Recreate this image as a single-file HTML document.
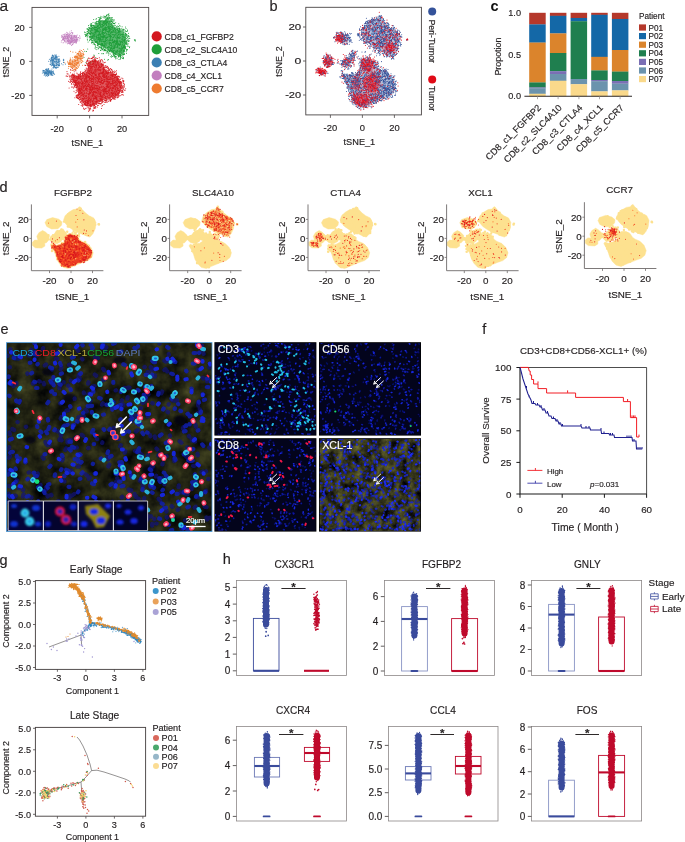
<!DOCTYPE html>
<html><head><meta charset="utf-8"><title>Figure</title>
<style>html,body{margin:0;padding:0;background:#fff}svg{display:block}text{font-family:"Liberation Sans",sans-serif;stroke:#231f20;stroke-width:.16px}text.w{stroke:#fff}text.n{stroke:none}</style>
</head><body>
<svg width="685" height="842" viewBox="0 0 685 842">
<rect width="685" height="842" fill="#fff"/>
<defs>
<filter id="olv" x="0" y="0" width="1" height="1" color-interpolation-filters="sRGB">
<feTurbulence type="fractalNoise" baseFrequency="0.06" numOctaves="4" seed="4"/>
<feColorMatrix type="matrix" values="0.36 0 0 0 -0.05  0.36 0 0 0 -0.045  0.16 0 0 0 -0.01  0 0 0 0 1"/>
</filter>
<filter id="olv2" x="0" y="0" width="1" height="1" color-interpolation-filters="sRGB">
<feTurbulence type="fractalNoise" baseFrequency="0.11" numOctaves="4" seed="9"/>
<feColorMatrix type="matrix" values="0.6 0 0 0 -0.1  0.6 0 0 0 -0.1  0.24 0 0 0 -0.02  0 0 0 0 1"/>
</filter>
<filter id="b4" x="-5%" y="-5%" width="110%" height="110%"><feGaussianBlur stdDeviation="0.7"/></filter>
<filter id="b3" x="-5%" y="-5%" width="110%" height="110%"><feGaussianBlur stdDeviation="0.3"/></filter>
<filter id="b8" x="-5%" y="-5%" width="110%" height="110%"><feGaussianBlur stdDeviation="0.9"/></filter>
<clipPath id="cm"><rect x="7.2" y="343.2" width="204.2" height="187.6"/></clipPath>
<clipPath id="c1"><rect x="215.1" y="342.9" width="100.6" height="92"/></clipPath>
<clipPath id="c2"><rect x="319.7" y="342.9" width="100.6" height="92"/></clipPath>
<clipPath id="c3"><rect x="215.1" y="438.9" width="100.6" height="92"/></clipPath>
<clipPath id="c4"><rect x="319.7" y="438.9" width="100.6" height="92"/></clipPath>
</defs>
<text x="-0.4" y="10.8" font-size="15.5" fill="#231f20">a</text>
<path d="M108 17L109.9 21L113.2 26.5L117.2 29.3L122.8 31.2L126 36.7L125.5 44.8L123 51.9L119.6 56.4L114.9 54.2L110.5 51L104.8 48.1L100.1 44.8L94.9 41.5L91.2 37.5L89.2 33.3L91 28.2L95.5 24.2L100.6 21L105.1 20.5L106.3 17.8Z" fill="#1f9e3a" fill-opacity="0.72" stroke="#1f9e3a" stroke-opacity="0.36" stroke-width="1" stroke-linejoin="round"/>
<path d="M62.4 38.1L64.4 35.3L69.3 34.5L73.8 35.3L77.2 37.3L76.6 40.6L73.2 43.2L68.5 43L64.5 41.6Z" fill="#c27fbf" fill-opacity="0.4" stroke="#c27fbf" stroke-opacity="0.20" stroke-width="1" stroke-linejoin="round"/>
<path d="M50.6 60.3L52.1 57.7L54.5 55.3L56.4 57.6L58.5 59.6L59.1 62.9L57.2 65.5L54.2 66.3L51.6 64.4ZM43.9 70.9L46 69.7L49.2 70.5L52.4 71.4L52.9 73.9L50 74.7L46.6 74.3L44.2 73.2Z" fill="#3b7fb3" fill-opacity="0.4" stroke="#3b7fb3" stroke-opacity="0.20" stroke-width="1" stroke-linejoin="round"/>
<path d="M88.9 61.7L95.8 60.2L101.8 63.2L104.1 68.7L107.1 71.2L113.5 73.4L118.8 78.5L122 85.6L120.1 92.1L115.2 96.2L108.9 98L102.9 100.2L97.5 103L91.4 106.6L85.3 104.9L81.2 99.7L78.7 94.1L77.1 87.2L74.4 82.1L70.7 76.4L72 74.2L77.1 76.1L82.8 75L87.5 72.7L88.1 67.1Z" fill="#d3181f" fill-opacity="0.72" stroke="#d3181f" stroke-opacity="0.36" stroke-width="1" stroke-linejoin="round"/>
<path d="M68.1 63.4L71.6 60L75.6 58.6L78.5 53.2L81.1 52L82.4 55.9L79.6 60L78.4 63.6L75.4 66.7L71.1 65.9Z" fill="#ee7b30" fill-opacity="0.4" stroke="#ee7b30" stroke-opacity="0.20" stroke-width="1" stroke-linejoin="round"/>
<path d="M108.5 27.7h0M113 30.3h0M126.3 43.4h0M91.3 37.7h0M126.9 34.4h0M114 19.5h0M109.8 17.2h0M114.7 35.1h0M120.3 56.1h0M115.2 27.8h0M108 47.7h0M119.5 31.5h0M108.1 18.7h0M127.5 37.7h0M96.4 31.1h0M109 28.4h0M108.7 49.8h0M101.8 39.9h0M111 45.5h0M96.8 37h0M122.8 54.8h0M90.6 34.5h0M104.8 35.9h0M96.3 42.1h0M125.2 42.3h0M104.9 21.2h0M114.4 40.2h0M96.8 30.1h0M94.5 44.5h0M107.7 17.9h0M99.8 33.9h0M93.2 38.1h0M107.3 37.5h0M116.2 57h0M88.1 35.7h0M120.9 49.8h0M111.3 24.1h0M97.8 29.7h0M98.9 21.8h0M91.2 28.3h0M94.5 29.5h0M116.9 44h0M88.8 27.4h0M112 46.8h0M95.5 27.1h0M116.9 27.4h0M106.1 23.4h0M101.5 44.6h0M98.9 31.4h0M127.7 44.8h0M98.9 44.8h0M117.8 42.6h0M104 21.7h0M121.6 53h0M109.4 27.3h0M113.2 54.3h0M121.3 55.3h0M124.8 41.8h0M112.2 42.1h0M105.4 40.9h0M120.2 32.9h0M126.3 36.3h0M118.4 37.8h0M100.3 19h0M91.7 23.8h0M100.9 39.3h0M123.7 34.3h0M112.7 39.3h0M96.4 36.1h0M107.8 40.9h0M90.8 29h0M110.1 35.7h0M110.5 49.3h0M113.5 41.5h0M99.8 38.7h0M112.9 22h0M101.6 33.1h0M101 45.6h0M103.3 35.4h0M91.5 26.3h0M90.6 31.1h0M111.1 48.4h0M125.4 47.1h0M118.2 56.9h0M119.5 29.4h0M93.8 25.5h0M109.1 50.2h0M122.5 38.1h0M118.5 44.8h0M122.5 34.2h0M120.4 42.5h0M119.9 54.5h0M97.3 43.4h0M91 32h0M105.9 50.4h0M112.4 27.3h0M112.7 22.8h0M96.7 38.7h0M97.9 44.4h0M119 59.4h0M105.4 37.2h0M109.3 50.6h0M117.1 41.4h0M106.8 43.1h0M96.9 47.4h0M109.7 31.8h0M117.3 36.3h0M120.3 42.7h0M114.1 27.8h0M126.3 41.6h0M119.1 48.8h0M99.5 28.7h0M119.3 28.8h0M124.5 38.9h0M117.8 29.4h0M119.5 54.3h0M119.5 29.6h0M104.6 24.5h0M87.3 33.7h0M112.5 17.8h0M119.4 43.9h0M120.6 35h0M107.4 22.7h0M124.5 48.3h0M92 38.1h0M126.2 34.6h0M101.9 36.4h0M112.5 37.8h0M105.5 17.7h0M123.4 47.7h0M112.8 49.3h0M105.4 32.7h0M110.8 26.5h0M108.9 17.3h0M105.8 28.7h0M128.5 39.9h0M104.2 32.7h0M97.1 42.5h0M100.6 38h0M105.5 43.7h0M104.1 21h0M100.6 26.8h0M109.8 34.1h0M87.9 31.7h0M101.9 37.2h0M116.3 35h0M113.8 30.4h0M104 22.9h0M128.1 43.8h0M117.7 37.8h0M102.9 49.2h0M111.3 21.7h0M114.3 54.7h0M106.1 28.1h0M90.4 33.5h0M125.5 26.9h0M124.2 52.9h0M111.9 19.7h0M103.8 41.2h0M99.1 34.8h0M118 27.9h0M99.5 23.9h0M117.6 37.6h0M108.7 31.4h0M102.5 29.9h0M93 25.7h0M109.3 44.1h0M124.5 46h0M106.9 22.1h0M111.7 31.8h0M102.2 33.1h0M100.5 31h0M110.9 18.1h0M108.3 15.9h0M124.8 40.2h0M126.6 38.5h0M103.9 45h0M109.6 18.6h0M123.5 57.4h0M105.2 46.7h0M105.5 23.2h0M115.5 51h0M94.7 27h0M84.5 31.9h0M110.2 39.1h0M109 37h0M103.7 38.9h0M112 52.3h0M98.1 31.3h0M90.9 33.2h0M100.9 18.4h0M98.9 23.6h0M109.5 44.4h0M100 21.5h0M101.5 43.5h0M102.5 26.3h0M110.5 29.9h0M112.5 20h0M120 50.3h0M129.5 47.6h0M114.6 34.9h0M102.8 36.3h0M96.1 33.8h0M122.2 34.5h0M118.5 26.5h0M121.9 30.1h0M127.5 30.1h0M94.9 32.6h0M95 23.3h0M103.8 50.7h0M117.3 50.3h0M102.8 41.1h0M109.2 34.6h0M115.8 31.3h0M95.7 39.2h0M114.3 28.1h0M99.6 19.4h0M122.3 36.5h0M119.7 28.6h0M92.2 36.7h0M96 19.3h0M100.8 34.4h0M112.4 42.4h0M101.1 40.3h0M103.7 39.1h0M103.7 47.7h0M96.8 27.4h0M95.5 44.8h0M114.3 50.3h0M124.1 29.5h0M98.2 46.9h0M103 45h0M115.5 58.8h0M97.8 37.4h0M124.5 45.8h0M118.5 56.8h0M104.7 23.2h0M90.9 26.2h0M126 41.9h0M110.9 28.9h0M114.5 35h0M103.5 32.6h0M108.9 13.8h0M117.7 51.1h0M122.9 34.2h0M104.9 41.4h0M99.8 33.1h0M101.7 41.8h0M121.9 42.1h0M92.8 29h0M103.2 36.4h0M121.5 49.7h0M123.2 40.7h0M91.6 42.9h0M111.6 21h0M115.7 22.7h0M108.9 36.8h0M128.5 33.2h0M95 30.4h0M110.3 33.6h0M114.1 54.8h0M112.3 19.8h0M109.4 23.8h0M101.9 43.3h0M110.9 51.2h0M102.5 32.1h0M107.8 29.8h0M125.4 39.3h0M127.7 36.7h0M94.7 27.7h0M118.1 34.9h0M111 51.8h0M96 30.5h0M85.2 32.5h0M114.4 41.2h0M106.3 53h0M123.9 31.5h0M120.6 56.7h0M125.1 30.5h0M94.4 44h0M102.9 46h0M102.6 25.9h0M117 58.5h0M120.9 48.5h0M100.8 34.3h0M109.2 29.7h0M100.9 31.1h0M101.9 37.6h0M113.6 52.7h0M100.4 20.8h0M98.7 35.5h0M118 41.7h0M95.8 47.7h0M108.9 40.5h0M115.6 56.2h0M96.1 23.1h0M108.5 34.9h0M124.1 37.5h0M109.2 30.9h0M124.9 46.5h0M100.2 22h0M114.5 48h0M115 57.2h0M87.1 31.2h0M111.8 47.6h0M114.1 29.1h0M106.7 27.5h0M89.9 37.1h0M125.4 37.8h0M106.6 25.3h0M124.4 50h0M123.8 41.1h0M116.1 32h0M112.7 41.9h0M110.1 24.5h0M126.5 44.6h0M119 32.8h0M99.6 37.8h0M105.9 41.7h0M107.4 21.2h0M106.4 15.6h0M112.6 32.1h0M98.5 21.2h0M90.7 37.5h0M100.9 16.3h0M97.9 30.1h0M126.4 42h0M99.9 22.4h0M123 43.4h0M88.6 32.5h0M123.3 51.2h0M97.1 40.7h0M95.8 36.1h0M119.2 53.3h0M126.3 51.8h0M127.9 46h0M110.9 27.7h0M122.8 56.1h0M104.4 16.6h0M99.8 46.7h0M108.5 14.5h0M90.4 36.6h0M87.5 33.6h0M96.9 31.5h0M111.3 36.2h0M117.8 45.9h0M120.9 41.3h0M113.8 45h0M117.8 50.3h0M110.6 21.1h0M89.6 36.3h0M105.6 30.6h0M110 28.9h0M105.2 35.4h0M99.8 47.5h0M99.9 41.6h0M91.8 26.7h0M103.5 53.4h0M111.2 32.2h0M91.2 26.1h0M88.9 30.8h0M91.6 29.3h0M96 32h0M93.2 44h0M90.5 28.1h0M97.9 35.5h0M95.4 23.2h0M114.3 48.5h0M94.2 34.2h0M87.2 29.2h0M105.8 40.3h0M117.3 25.9h0M106.6 38.3h0M104.4 49.6h0M114.8 45.6h0M97.7 43.1h0M111.6 43.7h0M109.4 31.3h0M126.4 49.8h0M109.5 39h0M129.2 40.8h0M110.2 50.1h0M118.5 44.2h0M111.7 45.6h0M99.9 30.9h0M101.1 46.6h0M117.3 38.3h0M118.6 33.9h0M98.5 33.9h0M104.5 43.3h0M91.1 24.8h0M109.4 22h0M120.6 37.8h0M115.9 51.8h0M110.8 43h0M108.7 52.2h0M100.1 34.9h0M98.7 45h0M117 58.6h0M105.1 41.9h0M104.1 22.3h0M89.3 27.6h0M123.6 36.1h0M103.7 41.8h0M123.9 36.6h0M96.2 37.7h0M114.8 27.9h0M126.7 42.2h0M101.1 41.4h0M118.8 43.4h0M115.4 28.1h0M96.6 37.4h0M124.5 50.8h0M99.9 17.4h0M107.4 18.6h0M111.3 57.1h0M121.3 28.7h0M98.4 31.3h0M123.4 52.3h0M92.4 41.7h0M106.3 37h0M101.2 18.2h0M104.5 43.3h0M123.2 53.5h0M113.4 30.7h0M120.5 57.9h0M106.9 42.8h0M117.4 46.8h0M124.2 42.3h0M113.4 48.5h0M102.1 17h0M95.3 23.3h0M118.9 55h0M95.2 42.2h0M106 19.4h0M123.5 54.7h0M109.1 22.1h0M102.8 25h0M99 19.8h0M119 37.3h0M94.8 44.7h0M110.1 43.1h0M122.2 57.9h0M110.2 54h0M124.6 39.4h0M119.7 25.6h0M111.7 44h0M99.6 38.3h0M112.6 21.9h0M104.5 28.6h0M92.7 42h0M90.3 39.6h0M96.5 41.3h0M113.5 55h0M90.3 37.5h0M102.9 37.8h0M104 41.8h0M90.5 39h0M119.7 52.2h0M98.5 36.9h0M117.7 37.2h0M96.2 27.5h0M106.2 16.8h0M103.1 41.1h0M112.2 34.3h0M87.2 37h0M121 51.7h0M111.5 43.8h0M88.3 30.3h0M122.8 53h0M99.2 39.6h0M110.4 42.7h0M94.6 35h0M110.8 42.6h0M107.9 34.3h0M109.5 51.5h0M99.1 46.7h0M114.2 47.4h0M89.6 40.6h0M104.2 16.9h0M104.1 50.4h0M110.5 33.1h0M114.9 43.9h0M98.7 22h0M114.8 25.6h0M96.6 27h0M112.6 19.7h0M95.2 31.8h0M112.8 28.5h0M98 49h0M100.6 44.8h0M109.1 41.7h0M113.6 20.7h0M116.8 43.6h0M99.5 22.6h0M95.4 27.4h0M101.4 48.4h0M111.8 32.6h0M103.3 23.6h0M98.3 17.5h0M113 53.3h0M91.8 28.1h0M108.6 46.6h0M118.7 38.2h0M112.7 51.6h0M94.1 41.3h0M100.2 29.4h0M88.9 33.3h0M104.5 35.5h0M113.8 46.6h0M104.3 50.3h0M92 38.6h0M113.1 43.7h0M103.6 25.3h0M108.9 21.4h0M108.5 25h0M89.6 33.7h0M101.3 39.9h0M119.7 30.3h0M116.7 52.5h0M105.3 26.7h0M114.3 56.8h0M102.8 41.3h0M90.7 33.6h0M112.5 48.9h0M103.9 16h0M108.2 28.6h0M98 38.5h0M103 21.7h0M106.6 37.7h0M98.2 28.6h0M109.8 42.3h0M115.5 43.5h0M106.6 28.9h0M92.4 33.7h0M116.1 40.5h0M101.2 49.8h0M128.1 46.5h0M100.6 23.9h0M91 23.4h0M120.3 31.5h0M102.6 32.7h0M118.9 31.4h0M123.7 46.4h0M100.6 17.8h0M123.3 50.3h0M91.6 42.1h0M107.6 37.4h0M94.7 36.4h0M118.1 53.8h0M98.5 36.7h0M122.6 47.5h0M116.6 29.1h0M113.9 42.8h0M108.9 30.8h0M93.7 27.9h0M114.9 46.5h0M101.3 27.5h0M118.4 31.7h0M99.1 31h0M114.2 29.1h0M102.3 49.1h0M107.4 52.1h0M123.8 45.4h0M122.1 42.3h0M107.6 14.7h0M108.5 34.7h0M113.6 50.8h0M104.3 44.6h0M103.4 34.2h0M106.2 38.6h0M99.2 22.3h0M119.5 38.2h0M103.6 37h0M100.3 27h0M123.8 37.3h0M100.9 47.8h0M109.2 36.4h0M125.6 35.4h0M97.3 28.1h0M126 34.9h0M116.6 38.9h0M115.4 37.8h0M111.3 18.7h0M110.7 48h0M110.3 35.6h0M114.4 53.4h0M106.9 51.7h0M115.7 34.7h0M107.5 31.6h0M115.2 53.6h0M120.1 26.1h0M100.9 26h0M109.3 30.9h0M101.5 20.7h0M93.9 28.6h0M101.8 44.8h0M96.1 30.1h0M114.5 40.5h0M100.9 24.6h0M113.2 31.9h0M111.4 27.6h0M103.3 41.6h0M118.1 29.7h0M125.4 33.5h0M91.2 36.5h0M119.6 28.1h0M102.9 28.9h0M122.8 44h0M89.6 33.5h0M110 53.7h0M109.8 21.7h0M95.9 31.3h0M106.2 44.8h0M100.2 23.2h0M103.6 21.4h0M115.2 25.6h0M116.5 51h0M104.1 21.9h0M103.6 32.9h0M105.2 49.9h0M111 36.8h0M103.5 32.7h0M106.7 25.4h0M113.6 37.6h0M125.2 48.4h0M109.9 30.4h0M95.7 42.3h0M87.8 34.5h0M92.7 27.4h0M104.1 41.6h0M100.3 39.6h0M102.1 37.4h0M124 50.7h0M96 30.3h0M105.6 27.3h0M102 24.4h0M119 44.9h0M105.8 24.4h0M123 28.9h0M98.1 39.5h0M99.1 44.2h0M95.4 45h0M94.3 36.8h0M98.1 31.5h0M121.4 48.5h0M119.3 32h0M100.7 37.1h0M118.4 57h0M122.5 42.5h0M109.3 26h0M116.5 52.1h0M120.7 41.1h0M94.3 38.8h0M114.6 23.8h0M110.4 26.2h0M124.8 32.7h0M91.6 28.5h0M101.3 45.7h0M102.2 32.9h0M124.7 51.3h0M94.6 32h0M99.1 32.7h0M113 30.4h0M113.2 56h0M115 36.8h0M112.3 29h0M112.3 56.5h0M102.7 43.5h0M99.6 32.4h0M117.7 28.6h0M118.2 37.5h0M118 51.3h0M102.7 43.9h0M106.9 35h0M110.4 37.6h0M111.1 50.5h0M117.1 38.3h0M88.2 33h0M94 40.5h0M127 43.1h0M97.1 25h0M108.3 33.7h0M114.5 23.3h0M106.7 14.9h0M117.9 35.9h0M127.1 40h0M115.4 30.2h0M122.2 36.6h0M100.2 18.9h0M117.9 46.1h0M117.4 40.7h0M105.7 38.6h0M115 41.6h0M124.8 40.8h0M123.9 46.4h0M117.6 35.7h0M122 45.7h0M125.8 48.3h0M105.2 23.5h0M90.8 24.9h0M106.9 21h0M102.4 31.1h0M104.6 45.2h0M123.8 46.3h0M115.1 42.5h0M115.7 57.1h0M114.3 47.8h0M122.6 54.3h0M116.6 42.6h0M120.3 55.1h0M120 34.5h0M119.3 47.9h0M89.8 38.9h0M96.9 23.6h0M112.1 51.6h0M99.5 40h0M125.6 33.2h0M115.7 45.2h0M102.8 27.3h0M112.4 42.4h0M124 51.5h0M124.9 49.3h0M113.6 44.9h0M110.7 19.8h0M112.5 40.6h0M99.1 34h0M95.4 46.3h0M101.9 26.3h0M114.6 55.2h0M91.9 25.1h0M104 47.1h0M89.2 37.1h0M115.2 32.4h0M123.3 29.9h0M92.1 32.8h0M106.8 40.2h0M97.1 29.1h0M126.7 42.5h0M99.6 24.5h0M107.8 31.4h0M100.2 40.2h0M91 38.5h0M113.3 34.5h0M91.8 40.4h0M115.7 34.1h0M119.2 37.5h0M109.7 47.3h0M93.6 25.2h0M119.3 40.7h0M99.6 20.5h0M113.4 53.8h0M96.3 22.4h0M122.1 29.9h0M106.6 33.5h0M107.5 47.2h0M114 31.3h0M118.9 28.2h0M102.6 49.7h0M116.5 44.5h0M127.4 40.3h0M102.6 29.3h0M99.6 27.4h0M109.6 46h0M114.9 41h0M97.8 25.7h0M110.9 56.4h0M119.9 41.6h0M125.9 33.4h0M119.6 55.9h0M122.7 41.3h0M103.6 22.4h0M88.7 29.4h0M108.4 24.7h0M97.3 42.9h0M121.5 46.2h0M114 29.2h0M120.8 49h0M105.3 20.4h0M100.5 18.7h0M107.5 31.7h0M112 50.5h0M97.8 45h0M99.6 40.5h0M93.9 28.6h0M97.3 26.2h0M104.5 46.1h0M111.3 17.6h0M97.8 32h0M108.3 50.3h0M88.5 25.6h0M108.9 32.3h0M94.5 26.7h0M115.6 30.8h0M107 50.2h0M99 38.3h0M100.8 27.1h0M105.4 16.5h0M101.2 46.8h0M97.5 30.4h0M104.8 50.1h0M113.3 42.5h0M112.5 50.9h0M94.2 40h0M123.6 32.3h0M91.7 39.2h0M93.5 33.1h0M114 41.2h0M114.9 46.6h0M90.7 25.6h0M119.3 44.8h0M106.3 22.8h0M112.5 48.9h0M95.3 41.1h0M102.7 44.7h0M123.2 38.9h0M89.8 28h0M122.1 26.8h0M107.7 21.9h0M93 22.4h0M95 22.7h0M104.2 43.1h0M106.3 33.9h0M126.3 40.8h0M121.4 50.5h0M102.5 49.5h0M114 34.9h0M115.5 44.3h0M105.6 19.8h0M89.9 30.5h0M120.3 44.8h0M106.5 29.8h0M118.6 34.4h0M115.4 37.8h0M103.6 28.7h0M90.2 24.7h0M96.6 41.5h0M99.1 28.1h0M103.3 34.9h0M94.3 37h0M125.5 34.5h0M119.9 30.7h0M121 51h0M100.1 20.4h0M87.4 36.7h0M125.7 31.3h0M103.2 53.7h0M102.2 39.3h0M106 21.7h0M104.4 42.9h0M124.4 47.2h0M119.8 34.8h0M116.2 56.5h0M103 33.1h0M93.9 28.5h0M122.7 54h0M125.4 43.4h0M99.1 42.8h0M123.4 30h0M94 43.1h0M117.6 45.1h0M106.1 30.1h0M111.5 47.1h0M112.8 40h0M121.8 45.8h0M100.2 35.9h0M97.9 44h0M88.1 31.3h0M118.5 55.9h0M113.8 26.2h0M98.9 39.9h0M105.5 29.6h0M103.6 30.4h0M103.7 32.5h0M109.3 43h0M98.6 38.1h0M97.8 39.6h0M99.6 18.1h0M111.1 36.4h0M97.6 21.5h0M109.1 43.9h0M124.6 44.9h0M96.3 18.6h0M92.4 37.7h0M129.1 36.5h0M110.5 48.2h0M116.3 33.3h0M97.6 44.5h0M98.4 39.2h0M123 29.8h0M95.9 41.5h0M122.6 48.1h0M106.1 24.7h0M100.4 35h0M106 45.4h0M128.1 35.6h0M109.9 28.6h0M121.4 41.6h0M97.3 26.7h0M111.4 29.3h0M104.3 25.1h0M114.1 42h0M116.2 41.5h0M125.2 46.9h0M123.4 54.3h0M114.3 46.1h0M120.7 43.7h0M123.8 47.5h0M115.6 46.9h0M117.6 39.7h0M113.1 23.5h0M119.7 28.8h0M112.3 46.1h0M104 41.6h0M118.8 23.7h0M108.6 47.7h0M117.1 40.4h0M116.6 47.3h0M121.9 50h0M114.9 47.3h0M102.8 20.3h0M107.7 26.6h0M122.9 49.1h0M91.7 30.4h0M97.3 45.6h0M87.1 28.5h0M117.2 46.4h0M113.3 50.4h0M122.8 43.9h0M92.7 35.8h0M109.9 17.5h0M103.7 48.8h0M103 22.2h0M119.3 33h0M104 37.2h0M103.7 37.8h0M113.5 48.1h0M124.5 47.5h0M121.3 34.5h0M102.4 36.7h0M114.1 36.1h0M102.4 39.5h0M120.5 51.9h0M116.4 51.7h0M108.6 32.5h0M111 32.1h0M93 36h0M117.6 41.3h0M98 44.6h0M109.4 35.8h0M111.8 50.1h0M111.5 36.8h0M96.3 21.3h0M113.4 52h0M117.5 33h0M112 31.6h0M102.6 34.3h0M108.2 53.5h0M105 28.9h0M110.8 38h0M103.1 35.3h0M105.6 23.2h0M104.2 18h0M114.6 50.3h0M108 49.3h0M108.3 26.6h0M112.6 34.8h0M108 43h0M106.6 40.3h0M115.3 52.7h0M98.5 43.8h0M126.4 31.4h0M103.7 29.2h0M122.6 39.8h0M125.9 46.4h0M98.7 27.5h0M102.8 22.2h0M92.8 30.3h0M115.4 41.3h0M113.1 51.3h0M102 47.5h0M88.8 33.3h0M102.3 48.9h0M123 47.6h0M103.5 30.1h0M104.6 33.5h0M102.4 31.4h0M109.1 15.6h0M110.9 32h0M95.6 32.4h0M107.6 17.9h0M101.6 36h0M117 42.5h0M92.6 36.7h0M128.9 36.8h0M110 36h0M101.1 49.9h0M96.5 32h0M95 48.1h0M97.5 45.3h0M100.9 21.8h0M102.1 31.1h0M105.2 49.3h0M91.7 28.7h0M105.2 20.8h0M109.5 40.2h0M124.4 37.1h0M117.2 32.9h0M116.2 43.4h0M112.2 21.8h0M105.1 27.9h0M100.7 26.1h0M90.4 27.8h0M105.8 31.8h0M117 26.2h0M103.9 17.6h0M116.7 26.8h0M92.4 33.6h0M117.7 47.6h0M127.6 49.5h0M120 54.6h0M105.1 22h0M118.3 30.8h0M112.2 26.6h0M95.5 29.4h0M98.1 26.5h0M101 34.3h0M121 54.3h0M87.6 28.9h0M116.9 27.6h0M122.7 44.7h0M91.7 25.5h0M117.8 44.1h0M109.5 30.2h0M109.3 50.6h0M102.3 32.4h0M107.6 51.2h0M106.1 40.5h0M120.3 57.1h0M120.8 56.1h0M108.8 36.7h0M113.7 23.6h0M118 47.7h0M105.9 44h0M119.9 48.1h0M125 48.1h0M126.5 49.5h0M93.2 42.3h0M117.8 43.5h0M96.2 27.3h0M97.5 31.3h0M129.8 38.2h0M123.1 30.5h0M117.5 45.7h0M103.8 39.2h0M128 41.4h0M117.5 41.3h0M120.8 35h0M111.6 23.6h0M89.7 31h0M101.5 46.9h0M94.2 28h0M95 32h0M122.7 58.5h0M126.6 53.4h0M116.1 54h0M110.2 38.9h0M93.2 34.7h0M105.5 20.7h0M109.9 47.5h0M104.2 40.9h0M99.2 37.1h0M126.9 50.5h0M91.3 40h0M124.6 54h0M115.8 35h0M105.6 44.1h0M102.3 38h0M103.5 26h0M110.1 38.9h0M123.2 46.3h0M124 40.3h0M106.6 15.4h0M117.7 30.5h0M104 41.8h0M99.3 44h0M99.3 41.5h0M105.3 32.8h0M123.7 50.4h0M94 35.5h0M103.3 25.4h0M108.4 23.5h0M121.8 53.1h0M116.5 41.2h0M114.3 31.9h0M122.2 40.1h0M122.7 35.7h0M87.5 39.9h0M105.1 37.4h0M92.5 36.7h0M99.6 34.8h0M121.9 57.4h0M104.9 36.5h0M102.6 28.8h0M111.7 32.1h0M125.6 47.7h0M111.9 34.1h0M129.7 46.7h0M121.5 38.9h0M108.8 26.4h0M95.9 28.8h0M92.6 42.4h0M114.4 29.3h0M106.6 24.2h0M92.1 42.5h0M97.4 30.4h0M111.2 32h0M98.5 25.7h0M87.3 39h0M112.9 21.8h0M120.2 35.2h0M111.6 20.7h0M101.3 36.2h0M118.4 30.4h0M123.7 47.2h0M89.4 29.1h0M111.3 44.7h0M119.6 44.4h0M105.5 39.5h0M122.8 34.2h0M107.7 39.3h0M109.4 28.1h0M120.9 44.4h0M103.9 37.8h0M96.9 42.7h0M116.5 42.5h0M89.3 28.3h0M102.1 48.6h0M106.5 37.5h0M110.8 40.1h0M113.8 23.5h0M115.7 29.7h0M107.3 47.6h0M109.8 30.1h0M98.9 24.9h0M108.3 24.7h0M95.3 22.8h0M112.2 24.8h0M122.5 48.2h0M106.3 30.3h0M92.8 25.5h0M103.4 28.4h0M127.4 31.1h0M118.7 34.2h0M100.2 25.4h0M102.6 23.9h0M112 48.6h0M127.6 40.1h0M97.4 41.3h0M93.8 28.3h0M114 52h0M93.5 33.3h0M100.5 50.5h0M115.1 25.3h0M102.3 33.4h0M107.3 31.5h0M98.7 20.7h0M107.8 36.5h0M109.9 50.7h0M110.9 35.5h0M88.8 27.6h0M109.2 36.5h0M116.9 37.4h0M99.8 44.4h0M95 33.5h0M103.4 45.7h0M113.1 25.6h0M90.7 37.4h0M114.1 20.8h0M93.7 19.5h0M121.4 47.2h0M119.7 51.7h0M95.2 42.5h0M128.8 41.5h0M113 32.2h0M126.8 35.2h0M96.7 29.4h0M88.1 41.9h0M113.4 37.1h0M96.4 21.5h0M109.3 27.8h0M95.2 34h0M119.7 45.5h0M104.1 36.1h0M114.7 56h0M112.9 48.7h0M124.7 47.2h0M100.6 38.4h0M117.2 29.1h0M97 42.8h0M124.3 54.4h0M105 49.2h0M120.3 59.1h0M104.1 21.3h0M100.3 36h0M105.6 47.6h0M112.3 39.4h0M119.8 50.5h0M109.8 30h0M120.3 29.3h0M118 43.5h0M103.9 36.7h0M125.4 39.3h0M91.5 32.7h0M119.6 36.8h0M111.6 55.3h0M92.7 40.5h0M96 30.2h0M99.4 24h0M106.5 19.9h0M110.3 45.5h0M116.9 36.3h0M94.2 35.2h0M128.9 38.4h0M118.2 34.3h0M96.9 34.9h0M100.8 43.9h0M111.4 40.2h0M98 34.5h0M96.7 36.2h0M93.3 36.7h0M111.8 25.4h0M102.2 26.2h0M98.1 31.7h0M115.7 54.6h0M113.7 47.8h0M110.9 19.1h0M88 29.1h0M123.5 58.6h0M116.9 37.9h0M96.1 49.6h0M126 28.6h0M105.3 29.7h0M108.9 27.9h0M118.1 32.4h0M98 37.6h0M112.5 27h0M114.7 29h0M90.6 26.2h0M117.6 52h0M106.3 23.3h0M120.8 42.7h0M128.7 36h0M119.2 51.5h0M104.8 27.6h0M110.7 19.9h0M94.7 29.4h0M102 43.9h0M94.3 37h0M124.8 44.1h0M103.2 46h0M112.4 27.5h0M109.6 26h0M110.3 36.4h0M103.8 22.7h0M106.9 31.3h0M110.3 40.4h0M104.5 29.8h0M86.9 32.9h0M102.2 45.4h0M110.6 35h0M122.4 48.5h0M99.2 21.7h0M93.7 35.2h0M107.9 27.6h0M134.6 39.9h0M135.3 40.9h0M135.3 40.1h0M134.4 39.7h0M135.1 39.8h0M134.9 40.3h0M134.5 40.1h0M134.6 40.2h0M86.3 34.3h0M86.3 34.8h0M85.8 34.2h0M87 35.4h0M85.6 35.9h0M85.7 35.4h0M87.6 33.8h0M84.9 34.3h0M85.8 36.5h0M86.2 35.6h0M87.3 64.1h0M98.7 48.4h0M100.4 47.8h0M104.6 49.6h0M94.3 55.8h0M95.8 57.4h0M104.6 59.2h0M93.9 55.1h0M86 62.6h0M108.9 51.7h0M87.6 59h0M84.8 51.2h0M90.1 63.1h0M107.8 60.1h0M105.2 50.7h0M86.5 51.4h0M101.9 53.6h0M108.5 55h0M110.4 48.1h0M98.8 53.5h0M108.4 59.4h0M93.6 61.5h0M84 57.5h0M87.7 49h0M90.9 61.9h0" stroke="#1f9e3a" stroke-width="1.05" stroke-linecap="round" fill="none"/>
<path d="M71.8 39.6h0M66 42.7h0M72.7 33.8h0M68.6 34.9h0M71.9 37.7h0M74.7 39.8h0M71.7 36.4h0M64.3 37h0M64.6 40.4h0M70.6 35.3h0M67.2 34.1h0M75.1 36.1h0M71.3 30.7h0M68.4 41.1h0M69.8 32h0M77.9 37.3h0M74.4 42.2h0M74 39.7h0M74.7 40.5h0M71.6 45.4h0M72.9 39.2h0M70.9 37.8h0M66.4 34.4h0M62.3 36.8h0M75.4 40.6h0M67.5 37.2h0M64.8 38.3h0M75.9 39.9h0M68.3 36.6h0M74.5 36.5h0M63.3 38.6h0M65.7 38.8h0M80 36.9h0M79.1 40.7h0M71.5 37.6h0M71.3 39.3h0M66.1 38.2h0M71.3 35.5h0M66.2 35.7h0M75 42.3h0M63.1 42.7h0M65.1 36.3h0M80 38.5h0M68.1 38.2h0M71.6 37.9h0M70.9 41.9h0M77.1 38.9h0M75 37.5h0M77.4 40.2h0M63.3 39.4h0M63.3 42.7h0M74.8 41.3h0M68.3 43h0M67.4 36.5h0M70.8 36.9h0M76.4 40.6h0M64.8 41.8h0M63 38h0M65.4 36.6h0M70.1 44.3h0M64 35.1h0M71 36.9h0M63.1 39.4h0M66.7 34.5h0M64.2 36.2h0M76.1 43.3h0M77.2 39.2h0M73.8 36.1h0M69.2 41.1h0M74.1 42.6h0M72.7 38.7h0M67.2 32.8h0M64.2 36.2h0M61.5 37.1h0M63.5 37.6h0M76.4 39.3h0M63.8 34.5h0M73.3 41.2h0M73 38.2h0M63.3 39.4h0M76.3 41.2h0M63.9 39.6h0M74.1 38.6h0M72.1 36.7h0M69.5 36.4h0M72.8 44.5h0M71.2 41.8h0M72.4 41.8h0M67.2 38.6h0M66.7 36.3h0M64.9 36.8h0M68.4 38.5h0M72 40.2h0M69 39.7h0M74.6 39.5h0M74.5 36.7h0M74.3 39.2h0M69.9 40.4h0M68.8 40h0M75.2 41.7h0M62.5 39.6h0M73.4 43.1h0M75.2 41.7h0M61.3 42h0M76.1 38.9h0M68.3 35.2h0M71.3 40.7h0M71.5 40.9h0M68 37.6h0M65.1 36.8h0M61.9 40.4h0M69.1 34.4h0M70.1 42.9h0M67.3 32.9h0M76.4 36.9h0M67.9 40.6h0M68.8 35.5h0M75.6 35.7h0M68.9 33.4h0M72.6 33.3h0M70.6 40.8h0M72 37.7h0M68 41.3h0M64.5 34.8h0M73.7 37.3h0M74.5 39.5h0M69.5 34.8h0M69.5 37.2h0M67.8 36.4h0M62.2 35h0M67.6 34.8h0M76.2 37.4h0M71.2 36.7h0M64 36.9h0M72.7 32.6h0M66.8 32.3h0M74.7 42h0M68.8 39.3h0M71.7 36.6h0M72.7 40.6h0M62.7 37h0M66.9 37h0M63.6 37.8h0M67.4 37.6h0M76.1 42.4h0M67.6 43.8h0M72.2 44.6h0M70.3 33.4h0M76.1 40h0M64.2 36.5h0M69 43.4h0M63.5 38.5h0M77.5 39.3h0M70.9 37.5h0M74.6 35.2h0M70.3 38.9h0M68.7 41.8h0M70.8 38.7h0M69.4 40.4h0M76.5 42.3h0M69.3 35.3h0M68.6 37h0M71.9 35h0M71.8 42.1h0M77 38.6h0M65.1 33.7h0M70.5 38.3h0M76.5 35.9h0M74.8 36.2h0M76.2 40.9h0M70 42h0M65 40.9h0M66.2 38.9h0M67.3 40.2h0M76.2 36.9h0M73 43h0M70.2 42.5h0M71.2 42.6h0M79.6 35.7h0M70 44.3h0M71.8 38.9h0M66 38.6h0M64 40.3h0M65.6 37.6h0M76.4 40.5h0M70.4 44h0M71.3 40.9h0M67 37h0M68.2 41.4h0M68.1 39.1h0M77.2 34.9h0M71.1 41.2h0M73.5 40.4h0M66.1 34.4h0M73 37.9h0M71.6 38h0M61.7 35.8h0M78.6 37.4h0M77 39.9h0M64 39.3h0M77 41.4h0M75.6 42h0M62.5 36.4h0M76.3 35.8h0M72.2 41.4h0M71.7 38.2h0M67.1 41.3h0M72.1 38.9h0M69.2 42h0M67.2 36h0M69.3 43.5h0M75.6 37.7h0M70.6 41.1h0M64 38.5h0M62.8 39h0M75.8 39.2h0M73.6 35.9h0M71.4 32.6h0M79 39h0M63.8 38.2h0M70.4 42.9h0" stroke="#c27fbf" stroke-width="1.05" stroke-linecap="round" fill="none"/>
<path d="M55.8 67.4h0M58.4 65.6h0M51 58.2h0M56.5 65.6h0M57.5 57.1h0M50.5 59.9h0M56.3 59.9h0M52.8 62.7h0M57.7 64.4h0M56.4 65.7h0M55.6 62h0M51.7 65.4h0M50.2 64.5h0M54.6 58.4h0M59.5 58.9h0M52.7 65h0M50.4 61.2h0M51.9 59.5h0M52.5 59.1h0M57.2 61.9h0M58.2 61.9h0M55.1 62h0M53.3 68h0M52.8 62.2h0M49.4 59.3h0M50.8 64.7h0M61.5 63.8h0M57.7 59.1h0M58.9 58.8h0M57.2 56.9h0M51.8 60.8h0M58.6 65.4h0M54.3 64.7h0M57.5 62.2h0M58.9 65.4h0M53.2 62.2h0M55 54.8h0M53.2 65h0M56.4 59.3h0M52.6 63.4h0M56.4 67.6h0M53.9 61.3h0M50.3 64.5h0M56.2 58.4h0M54.2 58.4h0M53.2 59.6h0M58.5 60.7h0M51.2 58h0M56.9 57h0M52.9 55.5h0M56.2 57.5h0M53.7 66.1h0M59.7 59.9h0M54.3 65.6h0M56 61.8h0M52.2 65.1h0M53.6 60.5h0M57 66h0M52.5 60.5h0M54.1 59.3h0M48.7 61.3h0M54.3 66.3h0M55.7 55.6h0M59.2 61.4h0M51.4 57.6h0M52.7 65h0M53.3 55.9h0M53 60.6h0M52 57.3h0M54.1 64.7h0M59 62.2h0M52.9 57h0M56.6 64.7h0M55.6 57.8h0M52.6 55.8h0M53.9 65.3h0M56.1 61.2h0M52.5 64.6h0M51.6 65.8h0M52.5 55.7h0M53.5 65.7h0M51.6 58.1h0M58.9 56.3h0M53.1 57.7h0M51.6 60.1h0M51.9 63.8h0M52.5 64.3h0M58 65.1h0M52.3 61.4h0M54.8 67h0M59 65.7h0M58.4 59.4h0M52.8 61.9h0M52.6 55h0M53.3 63.5h0M56.5 61.2h0M58.2 64.8h0M55.2 65.6h0M53.1 59h0M52.1 60.2h0M53 57.6h0M58.7 61.4h0M55 58.2h0M59.1 63.1h0M55.4 56.7h0M53.2 57.7h0M59.6 65.6h0M53.2 55.6h0M53.2 64.2h0M53.3 56.8h0M54.9 57.2h0M54.7 61.6h0M56.3 63.6h0M56.8 56.6h0M58.1 60h0M57.9 64.2h0M55.4 57.9h0M54.1 58.8h0M59 64.8h0M55.2 67.4h0M56.5 55h0M58.4 65.8h0M56.5 57.6h0M53 67.6h0M54.9 66.1h0M54.6 66.5h0M56.6 67.9h0M51.6 58.9h0M53.5 67.1h0M52.3 65.2h0M55.8 68.2h0M58.2 67.2h0M54.7 67.6h0M52 56.1h0M55.9 67.6h0M56.9 62.7h0M55.6 59.3h0M50.6 60.2h0M56.1 56.5h0M50.1 64.1h0M50.8 62.8h0M52.5 62.2h0M54.7 62h0M57.4 67.2h0M47.1 72.8h0M48.2 71.7h0M44.6 72.1h0M49.3 71.9h0M47 73.3h0M48.6 69.8h0M46.8 75.1h0M44.2 75.3h0M46 70.9h0M44.2 73.3h0M43.5 71.9h0M54.6 74.3h0M51.1 72.7h0M50 72.9h0M47.3 72.6h0M48.8 75.4h0M46.2 75.5h0M49.7 71.4h0M47.4 71.3h0M48.6 74.1h0M46.1 73.1h0M46.4 72.6h0M45.7 71.7h0M48.6 75.6h0M43 70.3h0M45.3 73.6h0M44.8 72h0M52.8 75.2h0M50.8 72.9h0M45.9 74.3h0M45.6 72.3h0M42.4 73h0M51.4 72.5h0M47.6 74.6h0M48.4 72h0M48.7 68.9h0M47.1 69.9h0M49.8 72.3h0M47.1 72.1h0M53.3 73.8h0M47 70.4h0M48 70.5h0M51.3 73.3h0M50.4 71.9h0M53.6 73.8h0M51.5 74.8h0M48.1 75h0M48.4 73.5h0M53.5 72.3h0M44.4 74.2h0M49.4 70.7h0M50.3 73.6h0M47.2 70.7h0M43 70.9h0M51.4 74.5h0M47.3 70.8h0M50.1 72.3h0M51.5 70.8h0M46.2 71.3h0M48.4 75.2h0M43.5 72.1h0M52.2 75.1h0M53.9 73.3h0M53.4 71.1h0M46.1 71.1h0M51.7 71h0M48.5 73h0M43.2 71.8h0M52 72.3h0M45.3 73h0M48.6 68.4h0M50.2 71.7h0M48.8 71.5h0M46.4 69.8h0M44.2 70.5h0M46.3 72.5h0M45.7 72.3h0M51.9 69h0M51.8 73h0M52.3 71.2h0M45.5 69.2h0M47.5 73.4h0M47.8 74.3h0M47.1 72.9h0M46.7 69h0M48.3 70h0M46.5 73.6h0M46.6 69h0M45.4 71.9h0M45.6 75.9h0M51.1 71.2h0M50.7 73.6h0M44.3 73.7h0M49.2 72.5h0M49.8 73.8h0M47.3 76.3h0M46.4 75.2h0M51.9 75.3h0M43.7 70.5h0M49.8 72.6h0M47.7 70.9h0M48.7 72.7h0M47.4 68.9h0M50.9 73.9h0M51.5 71.2h0M52.3 71.9h0M51.7 73.9h0M44.1 72.6h0M50.9 74.9h0M50.2 70.3h0M63.3 59.9h0M59.6 64h0M63.5 62.5h0M58.9 62.6h0M63.7 60h0M63.7 60.7h0M65.4 64.1h0M63.7 59.2h0M63 64.8h0M63.8 62.5h0M59.9 61h0" stroke="#3b7fb3" stroke-width="1.05" stroke-linecap="round" fill="none"/>
<path d="M117 97.7h0M110.1 86.4h0M97.1 89.7h0M110.1 98.7h0M101.8 80.6h0M91.2 99.3h0M100.4 99.5h0M110.2 101.2h0M106.8 79.6h0M78 91.4h0M101.7 59.5h0M123.3 91.9h0M94 72.4h0M89.9 98h0M85.6 105h0M95 90.1h0M100.3 60.1h0M108.9 90.6h0M99.5 66.2h0M102 97.3h0M116.1 94.5h0M91.2 101h0M91 58.6h0M89 81.4h0M102.6 83.4h0M97 97.9h0M87.6 103.4h0M94.2 60.2h0M80.3 101.8h0M91.5 86.4h0M85.8 105.4h0M89.9 94.9h0M82.6 89.9h0M92 70.9h0M107.8 87.6h0M80.7 71.7h0M102.8 68.9h0M75.7 80.8h0M99.4 69.3h0M102 72.8h0M70.5 75.9h0M88.8 107.4h0M82.5 93.1h0M68.1 73.9h0M74.8 76.1h0M96 80.6h0M90.7 93.4h0M85.5 101.1h0M118.4 88.6h0M115.9 76.9h0M117.4 76.9h0M101.6 96.1h0M111.1 88h0M86.9 76.7h0M95.6 107.1h0M107.3 73.5h0M110.1 88.6h0M97.4 61.8h0M107.5 86.3h0M88.6 63.6h0M93.6 110.6h0M106.6 91.1h0M104 90.7h0M82.6 74h0M113.8 99h0M78.3 93.9h0M94.9 96.5h0M103.5 69.4h0M76.6 92.1h0M99.4 66.7h0M96.6 83.2h0M93.4 95.4h0M123.7 81.8h0M112.5 76.5h0M91.9 75.3h0M93.8 80.1h0M108.5 76.7h0M88.9 76.1h0M117.6 93h0M102.7 75.5h0M113.3 85.4h0M89.1 80.2h0M107.9 68.4h0M88.5 94.9h0M81.3 92.7h0M113.9 98.9h0M89.8 92.1h0M104 70.2h0M89.5 70.2h0M114.6 74.7h0M79.6 88.2h0M89.3 89.4h0M100.4 71h0M93.7 107.9h0M88.3 83.1h0M101.2 99.5h0M84.5 90.3h0M96.6 98.4h0M95.3 82.6h0M91.6 66.4h0M86.2 89.7h0M95.5 75.5h0M90.1 104.2h0M102 80.5h0M89.2 79.8h0M94.4 67.1h0M92.4 61.2h0M98.4 69.7h0M109.7 97.4h0M81.5 88.1h0M76.3 82.3h0M96.2 99.1h0M110.3 81h0M93.3 91.3h0M77.9 90.9h0M113 92.8h0M89.4 84.7h0M105.9 98.7h0M106.6 100.2h0M102.8 75.8h0M89.9 87.2h0M105.2 62.2h0M99.9 61.7h0M108.7 82.3h0M89.5 74.2h0M98.1 80.2h0M82.4 78.3h0M110 94.5h0M99.7 76.8h0M101.5 78h0M96.6 77h0M110.8 77.2h0M116.7 79.9h0M74.4 76.2h0M112.3 83.4h0M102.3 90.3h0M93.3 103.2h0M112.7 81.6h0M113.6 71.7h0M119.3 76.9h0M101.3 77.7h0M107.2 84.9h0M86.4 105.2h0M75.3 92.7h0M115.6 89.8h0M111.1 84.7h0M119.5 91.3h0M78.8 74.7h0M95.7 96h0M114.3 72.6h0M113 81.5h0M84 101.7h0M85.5 84.7h0M82.7 104.9h0M111.6 99.4h0M79.2 97.6h0M80.2 77.1h0M106.3 71.1h0M102.8 82.8h0M99.4 92.9h0M115.2 93.4h0M82.5 94.6h0M100.3 95.4h0M86.1 102.8h0M97.6 76.8h0M94.8 95.9h0M94.3 71.2h0M117.2 90.4h0M108.7 77.1h0M103.2 62.1h0M101.9 72.3h0M91.3 75.4h0M108.7 86.8h0M101.1 64.7h0M107.5 102h0M75.2 81.2h0M92.8 110.9h0M85.4 104h0M75 84.2h0M92.4 88.4h0M77.7 79.7h0M115 86.2h0M96.8 104.4h0M80.9 90.7h0M86.3 74h0M85.4 102.7h0M93.1 100.2h0M82.7 104.7h0M69.8 82.1h0M86.4 81.2h0M107.7 81.8h0M108.7 70h0M108.6 90.8h0M102.7 101.9h0M117.7 79.9h0M96.6 75.2h0M99.9 73.2h0M117.6 87.8h0M103 71.4h0M81.1 78.4h0M88.4 101.5h0M108 78.7h0M81.7 81.1h0M81 76.9h0M71 80.8h0M100.1 94.6h0M88.1 93.9h0M104 66.5h0M113.2 79.1h0M111.9 94.1h0M79.2 90.1h0M103.5 91.4h0M83.2 91.7h0M101.2 92.2h0M104.8 76.3h0M81.8 80.3h0M107.5 81.2h0M89 110.3h0M71 79.9h0M100.6 96.5h0M103.8 68.9h0M76.5 87.8h0M92.9 101h0M78.5 95h0M82.4 73.2h0M90 67h0M116.3 74.4h0M93.3 79.7h0M106.7 81.4h0M78.3 88.2h0M85.3 82.2h0M94 83.8h0M111.2 69.4h0M87.7 68.8h0M119.4 90.9h0M92.4 89.9h0M86.2 89.5h0M120.4 81.2h0M108.3 83.4h0M105.5 89.5h0M103.3 91.8h0M96.4 99.8h0M90.5 69.9h0M79.6 97.6h0M121.1 90.5h0M97.9 90.5h0M113 91.1h0M98.6 96h0M82.8 76.2h0M87 81.2h0M122 91.7h0M106 91.1h0M78.7 76.7h0M99.8 69.3h0M105.5 98.8h0M89.6 62.7h0M90.3 102.5h0M85.9 79.1h0M101.5 108.4h0M89.3 73.6h0M120 81.9h0M95.3 97.5h0M103 73h0M101.9 83.1h0M118.8 92.8h0M106.7 99.2h0M98.1 91.7h0M102.1 64.6h0M107.7 90.9h0M122.9 78.7h0M90.2 68.1h0M94.7 95.4h0M112.9 75.4h0M116.6 84.5h0M76.2 84.5h0M111.8 99.6h0M103.2 73.9h0M90.6 74.6h0M116.4 85.4h0M102.3 100.4h0M121.6 91.7h0M76 83.7h0M97.6 58.4h0M87.2 64h0M93.9 98.6h0M96.3 101.9h0M93 89.6h0M102.2 74h0M108.8 97.9h0M95.3 62.3h0M123.1 83.7h0M71.3 81.4h0M104 79.7h0M78.7 74.6h0M105.4 100.4h0M101.1 73.4h0M84 103.8h0M90.8 68.8h0M96.7 67.3h0M104.4 90.2h0M96.9 103.5h0M98.2 81.7h0M99.3 86.8h0M107.7 66.8h0M78.5 96.1h0M114 96.9h0M101.7 79.1h0M82.4 90h0M95.2 106.6h0M90.9 106.2h0M124.4 84.1h0M82.2 98.5h0M91.9 81h0M88.7 77.5h0M101.6 86.2h0M99.3 74.9h0M116 91.9h0M111.8 70.8h0M100.6 93.6h0M119.3 84.2h0M85.1 85.6h0M122.5 91.6h0M106 91.5h0M103.3 72.5h0M78.5 98h0M114.5 77.3h0M96.4 97.8h0M90.7 101.6h0M80.2 73.6h0M119.7 93.1h0M115.1 85.3h0M103.7 77.6h0M97.8 81.2h0M115.6 81.5h0M91.1 99.5h0M116.5 94.7h0M92.7 84.8h0M105.5 102.1h0M100.8 91.8h0M101 100.2h0M117.4 95.8h0M106.8 84.4h0M99.4 76h0M94.8 74.7h0M111 72.2h0M91.7 75.5h0M94.1 89.5h0M112.5 75.5h0M99.4 101.8h0M100.2 79.3h0M115.2 85.3h0M99.9 81.6h0M87.4 85.5h0M76.1 77h0M107.9 80.7h0M73.1 82.6h0M90.5 78.2h0M80.5 76.2h0M98.2 79.9h0M109.6 70h0M87.2 88.8h0M103.6 91.1h0M73.5 81.5h0M96 75h0M92.4 79.1h0M107.8 95h0M105.7 73.7h0M86.4 92.2h0M115 77.4h0M88.4 98.7h0M103.5 71.4h0M95.9 103.9h0M107.5 73.1h0M106.2 86.6h0M80.6 79.2h0M113.2 74h0M78.4 83.4h0M103 69.1h0M107.3 84.3h0M89.4 79.8h0M116.4 70.7h0M103.5 94.6h0M121.9 95h0M114.4 93.9h0M87.2 100.2h0M123.6 88h0M83.2 85.7h0M123.1 85.4h0M108.7 98.2h0M112.4 71.6h0M80.5 91.5h0M117.6 76.3h0M71.8 75.4h0M76.4 80.6h0M120.7 82h0M99.6 82.4h0M95.4 96.7h0M79.8 85h0M107.7 82.1h0M94.4 87.1h0M87.1 60.2h0M89.7 62.4h0M82.9 85.4h0M76.2 90.2h0M94.5 73.1h0M102.8 64.5h0M74.2 86.8h0M103.6 93.3h0M84.6 73.4h0M109.1 70.2h0M84.3 103.7h0M94.2 103.6h0M71.7 84.2h0M93.3 102.1h0M95 94.3h0M79.1 86.2h0M112.1 75.5h0M103.2 68.9h0M102.6 101.7h0M96.1 74.2h0M104.5 69.5h0M86.8 81.9h0M112.1 75.4h0M103.6 82.6h0M114.9 82h0M88 69.8h0M110.9 72.3h0M102.4 76.4h0M96.7 65.7h0M115.3 99h0M95.2 85.6h0M113.9 93.5h0M123.9 86.4h0M115.7 85.2h0M94.6 108.3h0M108.2 72.5h0M91.6 97.9h0M107.9 83.6h0M100.5 92.2h0M85.5 101.2h0M99.7 103.8h0M102.9 96.1h0M86.6 96.2h0M82.6 99h0M83.5 96.6h0M104.2 77.4h0M87.9 93.6h0M85.8 80.1h0M117.8 83.6h0M77.8 79.5h0M78.6 77.1h0M117.1 88.1h0M87.3 100.6h0M83.6 108.1h0M107.9 100h0M114.6 91.2h0M106.8 85.6h0M80 97.1h0M85 69.7h0M110.4 83.3h0M89.7 108.3h0M111 99h0M107.3 81.7h0M111.8 90h0M105.4 74.2h0M102.7 80.5h0M86.5 69.1h0M107.9 96.9h0M93.2 78.1h0M86.5 63.3h0M73.1 80.2h0M108.6 81.7h0M83.5 88.3h0M103.9 68.7h0M100.9 90.6h0M94.7 96.8h0M109.6 94.1h0M99.4 81.2h0M99.1 79h0M120.5 87.3h0M90.1 70h0M93.1 56.8h0M83 87.7h0M99.4 103.4h0M116.7 78.7h0M94.5 91.4h0M87.9 65.7h0M76.5 97.6h0M88.1 99.6h0M94.1 66.5h0M75.4 83.4h0M75.7 87.2h0M79.9 96.8h0M94.4 73.2h0M118.1 76.3h0M91.7 81.5h0M87.6 103.3h0M96.3 70.3h0M120.4 86h0M112.3 78.4h0M89.8 90.2h0M112.6 88.1h0M95 74h0M106.8 72.2h0M101.1 82.2h0M105.7 65.4h0M122.7 86.9h0M88.7 103.8h0M91.8 73.3h0M102.5 72.1h0M91.7 90.8h0M120.8 82.6h0M85.5 89.3h0M106.2 75.4h0M106 77.1h0M91.5 73h0M90 73.1h0M114.7 77.1h0M99.5 67.2h0M101 81.2h0M116.7 87.2h0M92.8 87.9h0M91.3 104.8h0M79.8 94.4h0M106.7 89.7h0M76.6 90h0M84 72h0M86.1 81.6h0M92.7 73.3h0M93.6 73h0M91 97.9h0M79.2 92.9h0M89.5 76.4h0M110.6 75.8h0M113.8 74.6h0M119 76.4h0M117.6 82.9h0M96 62h0M115.8 89.5h0M105.2 92.1h0M91.1 58.6h0M86 74.4h0M95.9 95.9h0M105.7 90.8h0M111.1 72.8h0M84.9 103.5h0M89.9 64.2h0M88.3 97.1h0M89.4 105.7h0M88.1 101h0M102.7 61.7h0M97.1 89.4h0M102.6 95.8h0M104.9 79.4h0M109 72.5h0M81.9 83.2h0M79.1 88.9h0M96.6 78h0M92 87.6h0M106.6 76.4h0M92 81.2h0M74.9 97.8h0M123.1 87.9h0M95.7 70.4h0M121.9 87.2h0M77.9 95.5h0M93.1 76.9h0M85.1 65.5h0M81.3 87.4h0M90.9 96.3h0M95.2 91.6h0M85.8 77.9h0M80.6 99.6h0M86.8 72.8h0M88.4 73.1h0M109.7 98.7h0M108.8 81.9h0M117.3 85.9h0M88.9 80.6h0M82.4 83.8h0M85.5 104.3h0M85.3 89.1h0M109 89.4h0M86.4 81.8h0M69.9 77.7h0M114.8 78.9h0M101.9 106h0M87.3 61.3h0M95.4 71.6h0M106.9 94h0M79.2 84h0M115.6 96.1h0M93.7 82.4h0M111 96.5h0M77.4 82.3h0M80.9 86.2h0M88.7 111.5h0M118.1 93.1h0M103.9 72.5h0M70 79.5h0M108 85.8h0M110.2 78.1h0M95.1 60.3h0M75.1 78.1h0M108.5 92.5h0M112.4 93.5h0M92.3 74.1h0M90.4 106.9h0M86.3 77.4h0M99.8 95.9h0M83.3 96.5h0M99.3 57.7h0M87.8 75.6h0M108.7 68.7h0M86.2 70.6h0M93.7 91.5h0M76.1 82.2h0M106.9 72h0M100.2 101.3h0M106.2 72.7h0M85.2 75.5h0M94.1 105.2h0M97.8 83.4h0M97 77h0M106.6 93.4h0M93.8 87.5h0M108 97.9h0M93.9 108.2h0M92.3 83.4h0M85.7 108.4h0M84.8 93.2h0M93.1 64.2h0M92.9 92.6h0M94 77.8h0M72.5 82.3h0M86.2 100.5h0M96 92.9h0M92.9 94.1h0M87.9 85.7h0M86.5 61.7h0M120.3 79.2h0M99.7 70.4h0M112.4 79.2h0M93.2 95.9h0M109.2 68.9h0M93.6 72.1h0M95.6 88.6h0M85.2 103.7h0M103.5 67.6h0M93.7 99.4h0M80.9 79h0M108.1 73.1h0M114.4 80.8h0M103.4 76.2h0M99.5 87.7h0M122.4 86.8h0M85.8 65.5h0M93.8 66.5h0M75.3 79.9h0M82.9 87.4h0M77.4 78.2h0M113.4 80.6h0M123.5 95h0M79.4 91.2h0M103.7 70.8h0M115.4 94.6h0M118.8 93.9h0M99.2 78.1h0M108.2 87.1h0M81.9 85.8h0M77.3 74h0M95.4 60.2h0M89 65.4h0M117.3 96.9h0M100.9 95.8h0M100.8 61h0M95.2 61.7h0M98.7 80.9h0M95.8 74.6h0M76.3 83.9h0M92.1 89.4h0M121.6 88.5h0M92.2 92.8h0M89.5 100.7h0M119.5 82.5h0M97.9 88.6h0M82.6 74.3h0M102.1 79h0M79.1 92.4h0M86.8 102.8h0M100.6 98h0M110.9 97.2h0M84 94.8h0M80.4 79.3h0M109.7 97.8h0M78.5 75.9h0M93.4 91.4h0M90.2 72.1h0M102.7 72.3h0M93.9 57.4h0M107.8 83.7h0M108.3 90.9h0M91 87h0M90.2 69.9h0M78.6 84.3h0M97.7 82.5h0M73.9 75.5h0M114.4 92.3h0M84.8 86.6h0M97.2 90.5h0M91.4 77.7h0M74 80.4h0M93.3 106.7h0M118 94.8h0M78.6 81.6h0M87.6 80.8h0M85 73.6h0M75.2 77.8h0M77.8 95.9h0M89.2 91.2h0M121.8 94.6h0M114 97.4h0M85.8 95.9h0M109.1 89h0M111.5 83.4h0M105.5 96.8h0M76.2 86.7h0M95.7 93h0M115.2 83.4h0M107.6 73.5h0M112.3 76.9h0M97.1 101h0M117.3 97.8h0M94.7 63h0M113.4 95.8h0M113.3 92.8h0M125.1 90.2h0M77.1 78.1h0M91.7 91.1h0M81.1 76.6h0M92.7 103.5h0M108.3 76.6h0M73.3 75.6h0M115.2 74.5h0M113.6 87.3h0M118.9 92.2h0M92.3 89.3h0M120.1 89.8h0M107.5 96.8h0M84.6 78.8h0M84.2 81.1h0M94.7 58.2h0M99.2 79.1h0M103.4 94.7h0M109.7 82.4h0M77.5 83.3h0M106.5 73.2h0M95.7 108.1h0M112 92.7h0M80.4 93.1h0M95.5 65.7h0M86.2 67.9h0M92.2 85.6h0M104.5 76.9h0M108.8 69.6h0M89.1 105.9h0M112.4 80.4h0M117.1 84.4h0M87.1 75.2h0M87.3 107h0M77.3 97.2h0M86.1 100.2h0M94.1 86.3h0M95.7 75.3h0M104.2 71.3h0M100 78.7h0M92 87h0M110.2 79.5h0M103.2 83.5h0M84.6 83.5h0M101.8 83.5h0M81.2 105.6h0M86 79.5h0M93 73.8h0M84.6 92.1h0M95.4 75.2h0M89.7 82.6h0M81 95.4h0M110.7 95.9h0M91.1 79.1h0M123 80.5h0M88.5 84.1h0M91.5 85h0M113.1 86h0M81.8 88.5h0M108.6 70h0M106.9 86.7h0M88.9 68.2h0M119.1 80.9h0M98.2 70.6h0M115.7 74.3h0M122.7 90.4h0M80.3 102.4h0M92.4 102.1h0M87.6 65.2h0M98.6 89.7h0M117.1 76.8h0M101.2 96.4h0M96.2 86.1h0M92.5 101h0M86 108.2h0M99.8 78.5h0M95.3 75.3h0M72.6 82.4h0M87.1 86.1h0M88.8 93.7h0M115.5 87.9h0M99.7 59.9h0M97.5 94h0M83.3 74.9h0M121.6 85.6h0M99.2 78h0M123.5 83.1h0M108.6 92.4h0M91.6 89.2h0M112.2 75.7h0M104.6 77.1h0M87.3 102h0M93.9 92.8h0M120.2 89.6h0M107.1 96.8h0M105.8 71.1h0M91.2 82.5h0M69.3 76.4h0M97.8 62.5h0M124 86.3h0M103.5 88.7h0M100.8 67.2h0M103.1 68.2h0M91.1 82.4h0M88 72.1h0M92.3 64.4h0M80.2 89.8h0M90.9 106h0M111.1 93.8h0M107.1 66.3h0M111.7 78.5h0M88.5 99.9h0M99.3 76h0M103 87.5h0M92.4 66.2h0M97.4 64.1h0M93.2 76.6h0M85.4 101.7h0M96.8 95.5h0M113 83.8h0M113.5 98.6h0M79 74.8h0M94.3 59.8h0M118.4 81.9h0M92.5 104.6h0M89.7 110.1h0M110.4 79.1h0M94.2 105.6h0M78.6 82.8h0M100.2 89.2h0M112.6 98.4h0M83.3 82.6h0M66.1 76h0M104.1 75.6h0M91.7 86h0M84.4 79.8h0M89.1 60.3h0M80.6 74.7h0M92.6 67.9h0M75 82.3h0M109.6 95.8h0M119.3 90.5h0M107.6 73.4h0M93.8 81.3h0M94.2 64.4h0M104.3 68.1h0M123.6 81.2h0M109 95.3h0M102.1 102.4h0M82.8 105.7h0M91.5 58.4h0M113.4 94.9h0M107 67.8h0M94.5 107.8h0M90.3 87.7h0M94.5 88h0M77.8 76.7h0M104.2 97.6h0M94.2 56.3h0M91.6 72.1h0M89.2 79.9h0M89.2 84.2h0M101.7 66.1h0M117.1 96.9h0M96.9 102.4h0M82.2 90h0M98.3 77.4h0M74.2 80.7h0M79.5 76.7h0M81.3 92.1h0M80.2 98.2h0M95.5 107h0M115.8 95.9h0M115.7 94.9h0M83.7 72.5h0M103.9 79.2h0M90.7 108.9h0M98.4 69.7h0M116.3 74.8h0M77.6 76.7h0M120.6 87.1h0M99.8 70.6h0M95.2 65.3h0M74.7 78.8h0M112.7 94.1h0M82.6 106.2h0M91.2 72.4h0M96.5 102.1h0M85 76.1h0M82.4 98.5h0M98.6 85.9h0M98.7 67.2h0M74.6 86.6h0M105.6 84h0M88.7 67.4h0M103.1 72h0M112.7 84.3h0M91.9 88.9h0M93 57.3h0M81.2 101.2h0M84.2 98.2h0M84.1 80.1h0M104.6 93.6h0M101.7 96.1h0M89.6 88.2h0M82 89.5h0M93.1 63.6h0M84.8 97.4h0M89.3 100.7h0M108.1 99.2h0M77.5 85.8h0M106.8 88.5h0M102 64.8h0M106.7 75.5h0M67.1 73.7h0M91.8 90.7h0M117.7 88.8h0M83.3 102.5h0M79.2 93.3h0M75.1 80.4h0M116.4 73h0M103.2 69.1h0M112.9 95.7h0M97 90.8h0M84 93.4h0M79.8 89.3h0M123.7 89.2h0M115.3 89.6h0M109.3 81.9h0M100.8 72.8h0M86.2 90.2h0M89.8 78h0M74.7 77.2h0M84.5 85.7h0M78.7 77.5h0M107.1 76.1h0M75 76.1h0M97.8 85.9h0M106.9 96.4h0M94.7 61.4h0M110.6 83.7h0M112.5 97.3h0M92.9 72.4h0M107 85.2h0M97.3 85.8h0M85 71.4h0M119.2 81.4h0M118.5 80.9h0M90.2 93.1h0M91.2 92h0M88.5 102.8h0M91 64.7h0M96 88.9h0M104.9 89.4h0M74.6 82.6h0M113.3 93.2h0M92.2 81.3h0M115.4 71.8h0M79.5 82.9h0M87.7 60.9h0M93.8 79.3h0M101.2 66.7h0M122.1 86.2h0M89.5 76.7h0M95.8 81.5h0M110.4 88.3h0M106.4 78.4h0M90.6 61.3h0M119 76.8h0M90.2 99.5h0M97.7 95.9h0M104.4 73.6h0M99.9 66.4h0M111.4 92.3h0M107.6 79.4h0M98.7 78.9h0M81.9 95h0M89.2 71.8h0M116.6 82.1h0M95.4 61.5h0M79.8 75h0M118.9 95.6h0M113.3 82h0M79.1 78.1h0M82 101.9h0M80.6 90.1h0M85.1 81.6h0M92.9 83.2h0M116.9 83.3h0M114.8 96.6h0M114.5 85.4h0M104.8 91.1h0M124.6 90.2h0M91.4 68.8h0M94.1 64.7h0M94.8 78.2h0M114.6 98.5h0M85.2 81.8h0M95.2 98.4h0M85.7 105.1h0M88.2 76.8h0M107.3 78.4h0M114.7 77.5h0M77.9 82.7h0M80 75.2h0M118.2 93.5h0M94.4 107.4h0M74.3 82.3h0M86.3 80h0M74.2 87.1h0M106.7 80.2h0M104.5 95.3h0M88.5 76.8h0M85.8 101.9h0M87.8 60.1h0M114.2 85.7h0M82.3 73.4h0M104.7 80.9h0M102.1 99.8h0M86.1 72.1h0M96.7 92.8h0M103.1 75.2h0M92.5 66.5h0M106.5 67.5h0M112.7 76.1h0M87.5 91h0M95.1 75.3h0M94.7 105.7h0M99.7 73.6h0M89.6 109h0M90.5 104h0M111 84.2h0M117.7 76.1h0M121.9 78.1h0M107.5 93.4h0M104.4 100.5h0M123.8 80.8h0M98.4 105.2h0M102.3 97.9h0M96.3 65.8h0M95.2 75.2h0M105 76.1h0M115.3 77.7h0M82.4 95.1h0M88.5 58.1h0M75.1 85.3h0M100.1 84.5h0M98.3 103.5h0M90.6 80.5h0M101.9 78.5h0M101.5 82.2h0M79.3 88.1h0M82.2 93h0M88.3 85.1h0M106 93.6h0M102.7 65.3h0M87.5 82.2h0M81 87.2h0M95.2 102.3h0M86.5 88.3h0M92.7 88.1h0M93.9 61.1h0M117.4 80.9h0M99.8 100.3h0M105.4 66.7h0M87.5 103.4h0M74 84h0M99.5 66.2h0M91.2 81.6h0M67.4 76.4h0M100.4 82.5h0M91.7 76.3h0M118.1 78.8h0M90.2 66.6h0M73.3 84.1h0M90.5 105.8h0M93.7 94.5h0M79.7 90.5h0M111.9 77h0M86 71.8h0M108.9 69h0M92.7 89.8h0M94.9 92.3h0M87.9 75.8h0M85.5 70.3h0M106 78.6h0M98.1 68.4h0M105.1 87.9h0M111.1 85.5h0M117.4 78.6h0M93.2 59.2h0M87.3 104.5h0M87.6 71.3h0M89.4 79.1h0M120.1 85.5h0M121.8 89.9h0M103.9 79.8h0M86.5 81.7h0M119.5 83.3h0M118 85.8h0M109.3 81.6h0M84.6 85.9h0M78.3 90h0M80.1 74h0M93.6 93.6h0M89.1 105.7h0M102.4 89.2h0M90.4 62.1h0M91.6 106h0M108.1 72.6h0M104.6 81.3h0M69.2 75.3h0M90.8 66.7h0M119.3 85.2h0M98 62.6h0M85.2 98.6h0M95.9 63.5h0M81.5 88.9h0M90.4 108.6h0M104.7 69.8h0M108.9 84.8h0M75.8 84.7h0M121.3 92.1h0M94.2 70.1h0M115.1 80h0M109.9 99.5h0M92.6 95.9h0M117.4 89.7h0M88 64.1h0M73.4 77h0M91 100h0M118.4 90.5h0M98 62.9h0M116.3 91.6h0M116.4 84.4h0M108.5 79.6h0M83 81.9h0M78.6 74.2h0M96.2 87.5h0M80.5 88.4h0M78.8 78.6h0M99 88.2h0M95.2 101.5h0M100.4 82.3h0M105.1 91.4h0M75.6 82.6h0M95.4 77.5h0M82.1 102.7h0M90.5 86.9h0M120.2 95.6h0M114.9 80.7h0M103.3 90.8h0M80.7 74.1h0M94 63h0M105.7 89.8h0M88.4 84.5h0M124.2 86.4h0M107 75.7h0M78.7 98.7h0M108.7 71.7h0M107.7 70.7h0M105 76h0M87.1 74.1h0M92.8 81.5h0M97.9 100.9h0M89.3 58.3h0M117.1 78h0M72.4 82.1h0M117.3 79.6h0M103.1 96h0M77.5 98.2h0M106.3 71.3h0M102 63.2h0M76.9 73.1h0M110.2 75.7h0M118.1 81.7h0M118.5 96h0M109.6 82.6h0M100.8 103.9h0M77.1 86.9h0M103.2 70h0M93.9 76.3h0M76.6 96.7h0M102.5 80.5h0M76.2 85.5h0M104 104.4h0M116 74.6h0M83.4 87.1h0M112.7 94.1h0M107.3 77.6h0M90 86.1h0M118.7 81.3h0M106.3 77.8h0M105.6 70.1h0M95.4 103.9h0M96.9 65.4h0M118.9 96.3h0M90 70.3h0M95.8 60h0M72.8 79.4h0M93 83.6h0M99.9 100.2h0M92 76h0M98.2 91.8h0M105.1 79.7h0M115.6 75.4h0M80.8 92.8h0M90.1 85.8h0M97 85.9h0M94.9 84.2h0M100.8 93.1h0M94.7 85.8h0M119.9 86.7h0M77.3 84.9h0M122.1 88.6h0M86.3 86.2h0M111.7 79.2h0M84.2 84h0M93 103.7h0M111.7 74.9h0M119.9 91.5h0M92.8 78.6h0M104.1 75.3h0M106.6 83.8h0M117.1 77.3h0M74.7 76.9h0M112.9 76.4h0M101.3 99h0M104.7 62.6h0M76.6 87.9h0M99.4 66.2h0M111.2 95.6h0M91.9 60.7h0M99.2 103.5h0M90 71.2h0M85.6 96.5h0M104 68.1h0M125.7 88.8h0M108.4 87.4h0M104.2 77.8h0M120 95.7h0M106.7 66.2h0M106.1 91.9h0M97.9 81.9h0M109.7 83.1h0M82.8 83.2h0M114.2 99.3h0M97.2 88.2h0M78.6 77.1h0M78.2 77.6h0M114 75.9h0M96.3 80.9h0M110.7 101.1h0M78.7 89.4h0M110.6 72.2h0M70.7 80.2h0M72.7 87h0M110.3 79.4h0M113 84.7h0M102.6 99.6h0M95.7 98.6h0M85 95.3h0M85.7 85.8h0M79.8 74.7h0M94.9 101.2h0M104.2 89.4h0M95 87.9h0M89.8 65.1h0M77.2 84.4h0M91.1 105.8h0M106.1 98.2h0M101.3 80.7h0M88.7 61.9h0M83.9 95.9h0M93.2 98.3h0M81.7 100.7h0M112.3 87.2h0M113.7 83.2h0M119 76.4h0M89.8 66.5h0M91.2 89.2h0M83 83.4h0M119 82.4h0M117 83h0M114.9 89.7h0M117.5 78.4h0M97.3 99.7h0M87 105.7h0M105.4 71.9h0M116 95h0M103.8 101.6h0M122.4 94.4h0M118.6 94.7h0M121.7 84.1h0M105.6 77.2h0M97.1 85.6h0M104.5 87.5h0M102.8 83.7h0M107.9 86.3h0M103.5 90.5h0M92.8 83.6h0M77.3 86.2h0M116.7 76.9h0M87.8 101.5h0M70.5 82.1h0M102 86.3h0M104.4 89.2h0M80.5 72.3h0M112.4 72.6h0M84 98.5h0M109.1 90.9h0M81.4 84.3h0M81.3 93.8h0M85 78.3h0M115.2 88.4h0M78.7 104.5h0M112.2 88.5h0M119.7 87h0M76.8 77.2h0M117.1 95.3h0M81 92.8h0M96.5 65h0M106.4 102.1h0M91.8 83.6h0M94.8 98.6h0M122.8 80.3h0M90.9 61.2h0M109.1 88.8h0M95.8 79.3h0M72.6 79.2h0M96.2 64.6h0M94.2 71.1h0M77.1 80.1h0M110.9 87.6h0M99 72.7h0M109.9 100.6h0M92.2 58.5h0M87.2 82.3h0M93.4 103.8h0M102.8 97h0M96.2 97.5h0M103.2 74.5h0M88.3 76.8h0M93.1 95.2h0M110.7 100.5h0M115.7 86.8h0M102.6 60.3h0M112 81.2h0M101.3 90.7h0M103.6 76.9h0M93.1 76.2h0M111.7 69.2h0M78.6 77.8h0M78.6 92.6h0M93.6 99.9h0M101.2 86.3h0M66.9 75.9h0M85.3 101.5h0M99.8 89h0M91.6 79.8h0M97 92.8h0M84.9 85.5h0M83 91h0M82.2 82.8h0M92.1 86.9h0M92.5 60.3h0M108.2 97.8h0M110.4 71.3h0M85.8 89.7h0M83.6 94h0M115.1 83.1h0M94.4 70h0M120.8 88h0M83.9 73.5h0M79.7 85.4h0M101.3 98h0M113.1 97.8h0M108.8 68.9h0M89.6 92.2h0M76.7 97.7h0M98.8 73.6h0M112.6 90.9h0M121.2 82.4h0M88.1 70.2h0M68.5 81.2h0M91.4 84.9h0M92.3 63.8h0M83.2 78h0M104.5 77.5h0M98.7 89.3h0M100.5 61.7h0M120.5 79.2h0M115.2 97.4h0M90.2 64.7h0M103.5 74h0M92.6 69.7h0M105.8 73h0M82.5 75.1h0M74 91.3h0M100.1 98.4h0M90.4 78.1h0M91.6 58.5h0M122.2 92.1h0M98.5 65.4h0M98.3 60.6h0M110.5 68.5h0M82 86.4h0M89.5 78h0M81.8 87.9h0M87.2 103.1h0M107.5 91.6h0M92.4 94.7h0M120.3 83.7h0M86.2 79.9h0M84.7 73.7h0M89.9 104.8h0M82.1 81.6h0M86.2 76.1h0M89.6 93.4h0M87.5 86.2h0M86.8 81.9h0M114.7 95.9h0M95.3 60.8h0M86.8 90.3h0M113.2 88.8h0M87.2 88.5h0M84.5 74.5h0M76.6 78.6h0M97.4 69.8h0M73.8 76.7h0M124.2 87.1h0M93.7 63.3h0M98.6 76.3h0M98.7 94h0M105.8 97.9h0M95.9 74.1h0M107.8 79.4h0M89 101.8h0M98.9 75.6h0M98.4 74.8h0M86.7 80.2h0M82.7 101h0M87.4 76.9h0M122.2 92.4h0M99.1 96.7h0M124.5 85h0M98.7 74.3h0M112.8 90.2h0M109.3 79.4h0M79 86.9h0M109 69h0M80.3 99.8h0M90.8 80.7h0M92.3 57.7h0M102.4 105.4h0M99.8 74h0M86.9 97.7h0M97.6 105.5h0M83.1 84.7h0M88.1 71.8h0M104.5 88.8h0M113.9 78.3h0M103 97h0M76 95.9h0M115.9 91.5h0M86 72.4h0M105.4 91.4h0M93.9 63.1h0M82.9 72.8h0M111.9 89.2h0M92.4 61.7h0M88.7 86.4h0M104.7 75.7h0M96.2 97.1h0M103.8 92.1h0M88 97.8h0M101.8 73.1h0M88.9 96.5h0M100.9 95.6h0M84.7 104.8h0M101 60.8h0M114.7 94h0M81.9 88.8h0M79.5 75.3h0M116.4 74.1h0M110.8 72.7h0M96.1 85.4h0M101.2 63.9h0M85.2 85.4h0M86.4 95.3h0M106.7 88.5h0M100.3 67.6h0M110.3 77.7h0M114.9 74.7h0M96.2 101.6h0M83.7 87.3h0M114.3 74.2h0M71.6 79.2h0M87.8 86.3h0M109.4 90.2h0M103.9 79.7h0M105.7 88.4h0M95.1 106.7h0M105.8 81.2h0M82.9 77.9h0M71 78.2h0M91.3 89.2h0M88.2 66.3h0M112.7 82.3h0M97.9 68.8h0M112.3 82.8h0M112.9 95.3h0M89.9 85.3h0M110 97.9h0M111.4 99.6h0M121.9 87.6h0M92 78.5h0M87.5 105h0M76.3 95.6h0M100.3 72.9h0M117 91.7h0M116 81.7h0M84.3 103.6h0M89.8 78.4h0M111 96.2h0M88.8 86.6h0M109.7 93.8h0M115.8 93.5h0M114.6 86.4h0M104.3 81h0M90.5 74.7h0M119.8 93h0M107.4 85.4h0M77.2 89.7h0M89 65.7h0M82.8 103.9h0M82 83.5h0M87.8 77.1h0M100.9 69.4h0M91 65.1h0M90.7 92.3h0M96.9 96.9h0M84.3 103.9h0M86.7 105.7h0M94 107.7h0M112.1 74.2h0M114.2 72.6h0M99.9 65h0M104.8 102.4h0M82.7 72.2h0M80.6 82.2h0M80.7 99.7h0M88 103.3h0M116.9 78.9h0M86.6 76.5h0M83.3 77.8h0M108.6 76.9h0M84.8 81.2h0M118.3 97.2h0M109.3 87h0M106 101.4h0M82 89.4h0M92.4 79.2h0M99 75.5h0M113.8 88.2h0M96.7 77.1h0M102.2 97.7h0M94.1 88.4h0M106.2 100.7h0M94 91.9h0M93.4 65.8h0M115.9 92.5h0M95.3 69.4h0M112.8 74.9h0M94.9 98.2h0M104 90.2h0M97 72.9h0M88.8 73.4h0M119 79.2h0M102.1 101.7h0M100 96h0M87.9 72.6h0M122.8 89.9h0M122.1 81.9h0M88.3 64.9h0M82.6 100.6h0M117.5 76.4h0M86.3 93.4h0M83.7 86.5h0M105.4 77h0M85.5 76.9h0M93.7 84.9h0M81.2 95.6h0M119.7 77h0M81.6 89.8h0M87.2 101.6h0M89.3 93.5h0M121.1 81.7h0M98.8 72.9h0M95.9 91.9h0M101.8 65.8h0M79 94.2h0M94.4 103.7h0M97.6 62.6h0M86.8 78.4h0M99.2 76h0M95 67.8h0M121.2 83h0M95.4 60.8h0M80 89.9h0M118.3 76.2h0M105.6 96.3h0M100.7 94.6h0M90.8 104.5h0M79.7 100.1h0M96.9 91.9h0M97.2 93.8h0M100.9 80.8h0M109.6 90h0M101.7 102.1h0M86 83.1h0M112.3 71.9h0M98.6 64.2h0M108.8 83.3h0M84 109h0M84 105h0M86.6 88.2h0M74.8 81.4h0M117.8 79.3h0M109.9 91.9h0M102.8 73.4h0M79.8 100h0M102 83.6h0M74.2 71.7h0M103.6 64h0M112.2 70.2h0M83.8 90.2h0M97.9 87.5h0M107.1 73h0M84.2 83.7h0M101.3 87.6h0M87.2 83.9h0M73.8 79.3h0M81.6 73.4h0M113.1 88.3h0M108.8 93h0M98.9 79.7h0M112.7 75.3h0M105.7 100.4h0M75.4 85.7h0M89.6 92.8h0M110.5 100.2h0M97.8 78.6h0M87.8 102.7h0M90.7 109h0M118.8 77h0M110 84.9h0M84.7 109.3h0M91.7 67.8h0M108.8 89.9h0M88.3 108.7h0M89 94.6h0M109.5 79h0M96.2 88h0M97.9 79h0M108.6 84.3h0M119.1 82.1h0M99.2 73.7h0M99.8 98.3h0M75.9 83.7h0M78 78.5h0M96 106.8h0M95.2 79.1h0M109.4 90.4h0M116 84.4h0M86.2 79.8h0M115.3 82.6h0M110.9 74.4h0M88.9 68.3h0M116.1 90.8h0M77.9 76h0M114.3 71h0M83.6 99.2h0M101.7 103.3h0M100.2 93.7h0M104.6 67.4h0M95.9 68.1h0M113.1 92.7h0M100.1 87.5h0M89.3 98.5h0M93.7 88.5h0M119 90h0M81.6 79.5h0M108.8 72.1h0M93.7 62.2h0M109.2 89.9h0M90 63.6h0M89.4 97.8h0M91.7 95.1h0M76.7 82.9h0M99.2 89.8h0M98.7 100.6h0M93.4 104.9h0M100.6 83.9h0M97.6 107h0M72.3 74.9h0M80 93h0M86.7 86.7h0M121.6 82.3h0M116.4 74.4h0M81 83.4h0M78.7 81.7h0M92.5 101.8h0M102.9 95.8h0M73.4 77.6h0M89.6 85.1h0M95.9 77.1h0M106.9 87.2h0M100.3 76.3h0M109.2 77h0M107.9 74.3h0M76.5 76.3h0M99.6 94.3h0M92.7 87.3h0M98.4 68h0M79.7 78.2h0M101.2 100.2h0M108.6 87h0M96.1 58.4h0M108.6 101.2h0M107.8 70.5h0M84.2 101.2h0M88.8 103.3h0M90.3 87.7h0M109.9 70.1h0M108.7 70.2h0M103.3 86.5h0M100.8 77.3h0M77.2 95.2h0M92.8 87.1h0M110 97.7h0M103.6 94.6h0M91.5 66.9h0M117.2 80.3h0M104.2 94.8h0M96.3 88.8h0M102.4 79h0M72 76.9h0M78.2 75.5h0M106.3 92.7h0M91.7 71.1h0M76.2 81.3h0M77.8 97.1h0M120.1 91h0M99 91.9h0M123.1 81.3h0M96.1 69.3h0M111.3 90.6h0M97.4 78.3h0M83.2 72.9h0M115.2 86.8h0M89.1 94h0M92.2 79.1h0M86.5 77.2h0M94.7 104.9h0M114.1 82.6h0M88.7 94.3h0M118.9 82.5h0M117.5 94h0M114.1 87.3h0M87.6 69.9h0M85.6 88.2h0M102.6 83.4h0M99.2 90.9h0M105.6 67.7h0M116.7 80.5h0M91.2 69.9h0M93.7 98h0M97.3 76.9h0M103.5 81.2h0M90.2 62.9h0M89.4 87.3h0M94 97.9h0M98.1 69.3h0M120.9 83.3h0M120.7 87.7h0M82.3 98.6h0M105.6 88.7h0M88.8 99.8h0M107 73.9h0M92.1 75.6h0M86.6 98.5h0M93.4 63.6h0M98.8 64h0M76.2 86.9h0M115.9 92.2h0M111.2 92.9h0M116.2 96h0M112.6 94.4h0M123.6 81h0M92.4 68h0M96.2 64.5h0M109.1 85h0M90.9 101h0M73.2 81.3h0M103.7 89.6h0M102 101.2h0M101.4 81.2h0M107 82.3h0M102.2 94h0M102.9 91.3h0M104.3 92.1h0M116.4 76.4h0M84.5 80.6h0M86.8 80.1h0M86.7 84.2h0M90.4 88.6h0M101.3 99.2h0M93.5 94.2h0M106.2 99.1h0M83.2 95h0M86.1 71.8h0M84.8 71.9h0M92.3 95.2h0M93.1 109.9h0M103.6 67.4h0M93.7 77.7h0M74.3 85.2h0M108.8 83h0M111.5 75.8h0M82.4 94.7h0M77.2 94.6h0M88.8 106h0M81.7 103.7h0M70.7 81.7h0M108.3 67.6h0M103.8 66.1h0M89.1 69.9h0M90.6 89.8h0M111.9 96.1h0M115.6 75.8h0M100.4 84.2h0M111 92.8h0M118.1 81.6h0M107.9 99.5h0M88.2 62.9h0M95.5 72.3h0M80 96.2h0M83.6 76h0M85.3 104.9h0M86.7 87.5h0M92.3 96.6h0M109.1 87.1h0M98 63.3h0M111.3 92.9h0M96.9 71.6h0M90.3 90.3h0M80.8 99.3h0M79.1 99.2h0M79.2 78.8h0M84.9 87.3h0M93.6 61.1h0M92 64.1h0M85 65h0M84.7 75.9h0M81.6 100.7h0M104.4 74.5h0M86.3 105.3h0M114.6 77.2h0M105.2 97.7h0M83.9 99.7h0M95.1 59.3h0M86.6 76h0M103.8 65.2h0M106.8 69.8h0M82.6 84.1h0M100.6 103.5h0M98.8 93h0M80.8 93.7h0M85.1 74.9h0M81.9 92.6h0M110.3 88.8h0M96 61.3h0M88.2 105.7h0M88 89.1h0M100.7 70.5h0M98.3 61.3h0M93.7 104.1h0M87.8 77h0M96.6 99.4h0M90.5 105.2h0M86.2 88.9h0M99.5 87.3h0M97.4 88.4h0M118.8 95.9h0M100.8 91.8h0M90.9 90.6h0M83.2 98.8h0M104.6 81.7h0M106.4 76h0M84.4 81.2h0M90 100.3h0M79.8 81.9h0M78.1 98.5h0M108.2 91.1h0M82 102.5h0M91.3 90.9h0M90.1 89.6h0M96.3 66.4h0M96.9 101.1h0M85.4 82.9h0M102.1 101.6h0M108.6 73.3h0M92.8 94h0M97.3 101.2h0M95.8 64.2h0M110.3 87.9h0M115.4 97.5h0M101.7 64.4h0M70.6 72.7h0M75 69.9h0M70.9 70.2h0M72.8 80.8h0M70.7 69.5h0M69.1 87.9h0M72.6 68.4h0M71.4 81.2h0M72.4 74.1h0M71.6 87h0M72.9 70.3h0M73.4 74.2h0M71.6 83.5h0M74.6 74.1h0M75.7 81.3h0M67 71.6h0M67.9 74h0M75.9 70.8h0M73.6 87.9h0M75.2 69.3h0M73 78.2h0" stroke="#d3181f" stroke-width="1.05" stroke-linecap="round" fill="none"/>
<path d="M72.6 63.1h0M78 62.6h0M74.8 65.1h0M75.2 63.2h0M75.5 61.2h0M70.9 63.6h0M82.2 56h0M69.7 60.5h0M80.9 62.9h0M75.8 67.7h0M75.7 69.3h0M70.1 59.7h0M80 57.5h0M71.8 63.8h0M68.6 64.6h0M76.2 55.7h0M80.1 52.3h0M76.8 58h0M79.4 51.5h0M81.4 59.7h0M73.9 66.2h0M74.6 66.9h0M75.3 60.7h0M75.9 56.6h0M76.7 67.7h0M69.5 63.8h0M75 63.8h0M82.9 57.9h0M70.7 63.3h0M80.9 54.7h0M70.8 66.6h0M75.7 60.5h0M77.2 62.9h0M80.1 58.5h0M73 65.6h0M77.5 58.7h0M82.1 55.5h0M72.7 64.7h0M70.5 60.3h0M78.8 63.7h0M77.9 63.2h0M68.8 62.8h0M74.3 65.7h0M76.8 64.8h0M70.2 61.9h0M77.7 65.9h0M69.4 62.7h0M79.7 57.9h0M78.2 55h0M78.8 58.8h0M74.2 63.4h0M75.7 64.7h0M79.2 65h0M78.6 62.3h0M72.7 61h0M82 57.3h0M70.3 62.7h0M76.6 56.3h0M79.5 55.4h0M70.5 64.4h0M69.5 61h0M81.2 62.6h0M81.6 55.6h0M69.1 63.6h0M73.2 61.7h0M77.4 68.4h0M75.6 56.6h0M76 62.2h0M73.7 65.1h0M72.9 62.6h0M81.4 60.3h0M78.2 66.4h0M74.1 69.2h0M80.9 56.6h0M67.7 61.3h0M72.3 66.6h0M79.8 56.5h0M71.1 64.9h0M78.8 54.4h0M74.6 66.8h0M72.3 64.6h0M76.9 54.3h0M74.7 57.4h0M74.5 61.1h0M77.9 66h0M76.5 65.2h0M72.8 68h0M73.5 65h0M75.8 64.9h0M77.4 60.3h0M74.5 57.3h0M70.4 60.3h0M74.7 64.7h0M82.9 61.4h0M77.7 60h0M69.1 62.9h0M69.2 66.5h0M78.4 52h0M69.6 64.6h0M83.5 53h0M83.7 54.7h0M78.5 53.5h0M71.3 66.8h0M82.6 58.4h0M78.8 58.6h0M79.1 63.8h0M77.7 59.1h0M74.8 59.8h0M72.1 61.7h0M70.5 66.7h0M83 54.2h0M83.8 54.3h0M79.9 61.3h0M79.1 64h0M77.1 57.2h0M75.7 65h0M80.9 55.1h0M70.1 61.9h0M77.8 62.3h0M76.6 68.7h0M76.9 64h0M78.2 67.5h0M80.6 53.7h0M80.4 53.9h0M76 57.3h0M75.5 56.9h0M70.3 64.1h0M72.5 61h0M82.4 60.8h0M73.4 67.3h0M76.9 63.5h0M68.5 66.4h0M83.6 49.5h0M83.3 54.8h0M81.4 56.5h0M81.5 58.4h0M73.6 70h0M68.4 68.2h0M80.7 58.5h0M78.7 55.1h0M75.1 66.8h0M78.1 58.1h0M71.9 63.1h0M80.3 52h0M83.2 56.1h0M71.3 67.8h0M77.1 63.6h0M82 53.4h0M77.5 53.6h0M76.7 62.2h0M77.8 56.8h0M79 62.3h0M76.3 63.9h0M76.7 56.8h0M68.5 63.8h0M70.5 64.6h0M67.7 62.7h0M80.9 54.6h0M70.2 64h0M81.6 50.5h0M78.8 53.9h0M71.2 63.9h0M77.2 53.5h0M82.2 53.3h0M70.6 63.1h0M70.7 59.4h0M76.3 60.2h0M75.7 58h0M78.6 58.1h0M76.1 67.1h0M80.7 55.7h0M80 49.9h0M80.9 60h0M75.8 52.2h0M81.4 55.3h0M74.6 69.1h0M74.4 56.2h0M77.4 59.5h0M72.3 70.2h0M75.2 60.2h0M79.9 51.2h0M80.9 61h0M72.1 67.3h0M74.3 62h0M82.7 51.5h0M75.2 69.1h0M69.5 63.4h0M75.4 55.9h0M68.7 63.2h0M77.7 62.6h0M64.7 62.8h0M80.1 56.2h0M70.2 64.1h0M71 64.5h0M79.2 65.6h0M72.7 57.8h0M77.5 63.4h0M72.9 52.1h0M77.8 53.4h0M82.6 65.3h0M80.5 59.4h0M74.1 65.4h0M81.8 62.2h0M75.5 56.4h0M70.5 51.3h0M70.3 58.1h0M77.7 56.4h0M74.3 65.9h0M77.9 57.6h0M77.3 63.1h0M78.1 61h0M76.7 56.4h0" stroke="#ee7b30" stroke-width="1.05" stroke-linecap="round" fill="none"/>
<rect x="32" y="7.4" width="116.7" height="108" fill="none" stroke="#4a4545" stroke-width="0.9"/>
<text x="57.2" y="131.6" font-size="9.2" text-anchor="middle" fill="#231f20">-20</text>
<text x="24.8" y="98.7" font-size="9.3" text-anchor="end" fill="#231f20">-20</text>
<text x="89.6" y="131.6" font-size="9.2" text-anchor="middle" fill="#231f20">0</text>
<text x="24.8" y="64.7" font-size="9.3" text-anchor="end" fill="#231f20">0</text>
<text x="122" y="131.6" font-size="9.2" text-anchor="middle" fill="#231f20">20</text>
<text x="24.8" y="30.7" font-size="9.3" text-anchor="end" fill="#231f20">20</text>
<path d="M57.2 115.4v3M32 95.4h-2.8M89.6 115.4v3M32 61.4h-2.8M122 115.4v3M32 27.4h-2.8" stroke="#4a4545" stroke-width="0.8" fill="none"/>
<text x="87.4" y="145.8" font-size="9.2" text-anchor="middle" fill="#231f20">tSNE_1</text>
<text x="8.8" y="62" font-size="8.9" text-anchor="middle" fill="#231f20" transform="rotate(-90 8.8 62)">tSNE_2</text>
<circle cx="156.7" cy="36.4" r="5.1" fill="#d3181f"/>
<text x="164.6" y="39.7" font-size="8.6" fill="#231f20">CD8_c1_FGFBP2</text>
<circle cx="156.7" cy="49.4" r="5.1" fill="#1f9e3a"/>
<text x="164.6" y="52.7" font-size="8.6" fill="#231f20">CD8_c2_SLC4A10</text>
<circle cx="156.7" cy="62.5" r="5.1" fill="#3b7fb3"/>
<text x="164.6" y="65.8" font-size="8.6" fill="#231f20">CD8_c3_CTLA4</text>
<circle cx="156.7" cy="75.5" r="5.1" fill="#c27fbf"/>
<text x="164.6" y="78.8" font-size="8.6" fill="#231f20">CD8_c4_XCL1</text>
<circle cx="156.7" cy="88.5" r="5.1" fill="#ee7b30"/>
<text x="164.6" y="91.8" font-size="8.6" fill="#231f20">CD8_c5_CCR7</text>
<text x="269.6" y="10.6" font-size="14.5" fill="#231f20">b</text>
<path d="M380.6 15.6L382.6 19.6L386.3 25.2L390.5 28.4L396.2 30.6L399.3 36.4L398.7 44.9L396 52.3L392.5 56.9L387.7 54.8L383.2 51.6L377.2 48.7L372.1 45.2L366.8 41.6L363 37.3L361.1 32.8L362.9 27.4L367.5 23.1L372.8 19.7L377.5 19.1L378.8 16.4ZM361.4 60.3L368.6 58.8L374.8 61.8L377.3 67.5L380.4 70.1L386.8 72.6L392.2 78L395.3 85.4L393.5 92L388.5 96.3L382.2 98.3L376 100.7L370.3 103.6L364.1 107.2L357.8 105.4L353.5 100.1L350.8 94.2L349.2 87L346.5 81.7L342.8 75.8L344.2 73.4L349.1 75.4L354.8 74.1L359.8 71.5L360.5 65.8ZM336.2 37.8L338.1 35.2L342.4 34.7L346.3 35.4L349.5 37L349 40L345.8 42.3L341.8 42L338.1 40.9ZM324.5 60L325.8 57.8L327.8 55.6L329.3 57.8L331.1 59.4L331.7 62.3L330.1 64.5L327.6 65.2L325.3 63.5ZM317.9 70.7L319.8 69.8L322.1 70.6L325 71.1L325.5 73.3L322.9 73.8L320.3 73.3L318.2 72.7ZM341.8 62.7L345.3 59.6L348.9 58.8L351.2 53.4L353.7 52.2L354.8 55.8L351.9 59.5L351 62.6L348.5 65.6L344.5 65Z" fill="#34529a" fill-opacity="0.36" stroke="#34529a" stroke-opacity="0.18" stroke-width="1" stroke-linejoin="round"/>
<clipPath id="cb"><path d="M380.6 14.9L382.7 18.9L386.6 24.6L391 28.1L396.8 30.4L399.9 36.4L399.3 45.2L396.5 52.8L392.8 57.5L387.9 55.4L383.3 52.3L377 49.4L371.7 45.7L366.2 41.9L362.4 37.4L360.4 32.7L362.3 27.2L367 22.7L372.5 19.1L377.4 18.5L378.8 15.7ZM361.2 59.6L368.6 58.1L375 61.2L377.6 67L380.9 69.7L387.4 72.3L392.8 77.9L396 85.4L394.1 92.2L389.1 96.7L382.6 98.8L376.3 101.3L370.4 104.3L364 107.9L357.5 106L353.1 100.7L350.3 94.6L348.5 87.2L345.8 81.6L342.2 75.6L343.6 73.2L348.5 75.2L354.3 73.7L359.4 71L360.3 65.2ZM335.6 37.7L337.5 34.9L342.3 34.1L346.8 34.9L350.2 36.9L349.6 40.2L346.2 42.8L341.6 42.6L337.6 41.2ZM323.9 59.9L325.3 57.3L327.8 54.9L329.6 57.2L331.7 59.2L332.3 62.5L330.4 65.1L327.5 65.9L324.8 64ZM317.3 70.5L319.4 69.3L322.5 70.1L325.7 71L326.1 73.5L323.3 74.3L319.9 73.9L317.5 72.8ZM341.2 63L344.6 59.6L348.6 58.2L351.4 52.8L354 51.6L355.3 55.5L352.5 59.6L351.3 63.2L348.4 66.3L344.1 65.5Z"/></clipPath>
<g clip-path="url(#cb)" fill="#e00a17" fill-opacity="0.5" filter="url(#b8)"><ellipse cx="367.2" cy="64.4" rx="6.7" ry="7.1"/><ellipse cx="372" cy="83.1" rx="8" ry="10.2"/><ellipse cx="360.8" cy="100.1" rx="8.8" ry="7.1"/><ellipse cx="389.6" cy="47.4" rx="5.6" ry="5.1"/><ellipse cx="339.2" cy="38.9" rx="4.2" ry="5.1"/><ellipse cx="325.6" cy="62.7" rx="8" ry="8.5"/><ellipse cx="320.8" cy="72" rx="8" ry="5.1"/><ellipse cx="356" cy="83.1" rx="4" ry="6.8"/></g>
<path d="M378.8 44.8h0M385 35h0M381.3 51.2h0M362.3 67.1h0M368.9 58.3h0M330.8 60.3h0M341.3 70.4h0M389.7 78.2h0M352.7 82.1h0M369.4 39.6h0M353.1 56h0M368.8 28h0M378.7 76h0M361.4 95.8h0M389.6 95.1h0M370 21h0M384.7 25.6h0M349 54.6h0M391.4 55.8h0M355.8 104.8h0M354.9 94.6h0M324.3 75.8h0M369.8 34.4h0M377.4 33.8h0M388.9 24.7h0M367.7 27.8h0M336.3 34.2h0M376.6 102.7h0M385.9 46.8h0M341.3 63.5h0M372.3 77.4h0M373.7 30.9h0M365.9 32.2h0M390.1 38.7h0M365.2 34.9h0M366.5 30.5h0M382.5 88.9h0M391.7 39.4h0M382.1 52.9h0M369.8 77h0M379.9 92.6h0M345.5 60.6h0M379.8 87.3h0M373.7 99.1h0M389.6 90.6h0M383.2 95.2h0M351.9 78.6h0M351.5 72.4h0M381.6 24.6h0M371.8 100.6h0M379.9 16.5h0M332.1 57.9h0M384.7 56.5h0M348.9 87.4h0M375.7 23.2h0M330.9 60.4h0M378.6 41.8h0M382.5 86.1h0M373.7 74.2h0M385.1 87.1h0M350.1 64.7h0M379.3 99.3h0M393 84.6h0M380.3 95.5h0M377.8 62.4h0M386.5 87.7h0M345.6 34h0M397 34.2h0M369.2 55.7h0M377.6 89.3h0M376.3 80.9h0M377.4 78.2h0M364.7 39.2h0M392.6 25.8h0M389.3 34.2h0M389.3 27.3h0M366.3 41.1h0M368 39.3h0M393.6 85.8h0M397.4 32.6h0M395.6 45h0M399.3 34h0M350.7 89.1h0M393.8 46.1h0M352.3 81.6h0M346.3 35h0M373 29.1h0M378.4 94.1h0M379.2 74.7h0M394.9 88.3h0M347.3 39h0M362.8 77.7h0M380.6 98.4h0M368.2 106h0M367.7 57.8h0M348.8 63.2h0M343.7 37.3h0M378.8 93.7h0M352.9 76.3h0M375.1 102.8h0M348.9 37.4h0M355.1 92.1h0M390.4 50h0M363.1 35.9h0M369.3 57.7h0M347.2 74.1h0M381.9 31.3h0M354.2 86.8h0M359.4 91.8h0M352.2 59.5h0M390.4 42h0M370.7 80h0M343.3 34.1h0M372.8 61.6h0M391 40.6h0M342.1 73.6h0M381.5 28.8h0M370.7 93.7h0M380.3 93.5h0M386.4 95.8h0M381.8 46.6h0M380.3 76.9h0M400.1 39.7h0M386.6 54.3h0M399.1 40h0M367.4 60.4h0M366.3 107.6h0M400.3 45.2h0M389 37.6h0M351.2 56h0M368.7 29.2h0M384.7 20.4h0M387.3 75.4h0M342 40.9h0M381.2 42.7h0M382.8 43.6h0M353.4 78.4h0M344.7 38.1h0M357.5 79.3h0M348.9 35.8h0M391.4 97.4h0M378.8 27.5h0M378.1 66.6h0M396 48.4h0M377.9 90.5h0M359.8 71.6h0M355.9 74.6h0M346.2 43.2h0M375.2 62.5h0M367.5 57.8h0M384.6 20.8h0M381.4 27.9h0M386 47.6h0M339.1 35h0M336.5 35.8h0M385.4 70.6h0M376.9 77.8h0M391.1 92.4h0M371.3 29.1h0M391.9 93.8h0M349.3 44.2h0M358.3 81.3h0M350.2 82.2h0M360.2 81.1h0M351.3 75h0M392.5 51.4h0M367.8 97.7h0M385 73.5h0M392.9 81.7h0M383.7 82h0M369.4 35.7h0M339 63.3h0M370.8 46.6h0M320.2 73.2h0M363 36.9h0M380.2 43.8h0M363.5 58.1h0M393.8 82.4h0M381.7 32.1h0M375.5 88.4h0M385.7 30h0M349.7 38.4h0M345.1 35.1h0M372.3 72.4h0M377.4 101.2h0M366.3 87.3h0M385.4 38.7h0M379.1 33.3h0M340.8 31.8h0M359.7 61.9h0M373.2 61.8h0M371.2 101.1h0M359.2 72.6h0M384 51.8h0M389 74.7h0M354.7 97.9h0M371.6 38.3h0M367.3 24.9h0M362.2 104.8h0M360.2 74.1h0M341.8 63.5h0M385.3 75.9h0M382.4 73.3h0M382 67.9h0M390.8 49.5h0M380.2 90.2h0M360.5 91.9h0M374.4 20.5h0M374.7 81.2h0M359.1 108.5h0M360.1 30.5h0M347.1 37.6h0M386.6 90.2h0M372.8 76.7h0M349.1 58.7h0M363.3 99.4h0M350.6 86.9h0M375 65.5h0M323.2 73.7h0M347.9 58.5h0M382.7 46.7h0M388 74.3h0M358.4 33.9h0M393.8 35.2h0M388.2 95.6h0M378.7 52.6h0M368.7 102.6h0M347.6 57.4h0M346.4 81.4h0M373.2 74.6h0M371.9 40.6h0M353.8 91.9h0M379.7 15.7h0M369.5 62.1h0M370.4 95.3h0M386.9 81.8h0M351.7 58.3h0M390.6 51h0M386.7 55.3h0M390.4 30.2h0M381.5 46.6h0M349.8 78.1h0M366 28h0M385.2 88.1h0M346.8 36.3h0M379.2 84.1h0M372.1 30.6h0M368.9 33h0M385.6 34.1h0M397.8 45.5h0M389.6 89.2h0M367.6 27.3h0M383.4 80.6h0M385.5 92.9h0M374.5 25.9h0M360 70.6h0M377 64.6h0M348 59.8h0M370.3 102.4h0M386.6 89.3h0M365 25.6h0M386.8 75.6h0M376.6 23.5h0M385.5 41.1h0M376.1 94.3h0M341.3 39.1h0M357.7 107h0M376.4 37h0M358.9 35.8h0M380.8 79.7h0M384.2 87.1h0M383.9 71.1h0M382.1 26h0M380.2 20h0M363.9 92.8h0M361.4 88.5h0M380.6 18.2h0M382.1 96h0M344.9 79.8h0M388.1 32h0M378.8 40.9h0M376.8 74.8h0M381.5 91.4h0M398.4 40.4h0M352 42.5h0M355.7 81.8h0M344.7 43.2h0M365 75.8h0M391 91.6h0M383.7 90.7h0M347.8 35.4h0M342.1 74.9h0M377.3 73.5h0M365 68.7h0M379.7 97.1h0M393.3 89h0M384.4 76h0M380.6 40.7h0M397.8 33h0M346.1 77.2h0M372.9 99.1h0M376.8 45.8h0M367 21.8h0M325.1 62h0M375.9 76.4h0M375.4 39.5h0M372.2 89.1h0M381.5 61.6h0M399.2 36.6h0M369.9 68.6h0M369 22.7h0M362.2 60.3h0M351.3 90.3h0M351.5 95.7h0M340.5 60.7h0M351.9 100.8h0M370.4 38.4h0M347.3 39.3h0M381.3 70.6h0M334.1 36.9h0M380.8 100.5h0M393 34.5h0M383.7 31.5h0M359.2 91.9h0M397.6 39.1h0M386.2 44.1h0M347.1 75.4h0M371.5 90.9h0M329.7 64.8h0M377.6 37.9h0M392.5 30.5h0M357.5 72.2h0M389.8 30.2h0M370.8 99h0M368 29.8h0M346.5 91.4h0M391 73.7h0M349.3 65.3h0M377 88.2h0M364.3 105.2h0M351.6 72.9h0M397.2 38h0M386.7 25.6h0M377.9 16.9h0M370.2 57.9h0M372.8 47.1h0M390.6 89.1h0M390.5 28.5h0M376.6 77.4h0M385.5 88.6h0M375.2 33.8h0M348.5 80.4h0M401.9 37h0M388.9 42.8h0M366 83.1h0M376.6 75h0M367.8 22.8h0M346.9 65.5h0M383.3 30.5h0M341.5 32.2h0M355.5 72.5h0M320.1 69.6h0M366.3 60.6h0M347.9 58.2h0M390.8 30.6h0M367.4 37.1h0M350.7 41h0M381 28.5h0M390.1 37.3h0M374.8 66.2h0M375.2 50.2h0M365.4 22.9h0M366.2 78.8h0M373.6 103.4h0M385.5 88.4h0M391.4 49.9h0M351.5 65.4h0M374.3 66h0" stroke="#34529a" stroke-width="1.05" stroke-linecap="round" fill="none"/>
<path d="M367.5 64.2h0M407.9 39.8h0M341.4 38.8h0M371.6 84.9h0M378.6 38.6h0M322.5 70.3h0M383.6 38.7h0M394 89.3h0M332.3 62.7h0M389.6 29.5h0M357.7 97.8h0M391.2 47.8h0M370.6 99.1h0M345.6 39.4h0M396.1 28.3h0M385.5 79h0M392.3 50.5h0M386.3 36.3h0M376.1 65.2h0M329.9 61.7h0M375.7 46.4h0M359.7 108.4h0M367.2 72.8h0M369.4 69.2h0M367.8 99.2h0M367.8 32h0M367.4 47.9h0M353.5 62.8h0M384 32h0M370.5 40.9h0M375.8 83.2h0M374.8 44.4h0M355.1 88.8h0M365.2 34.4h0M320.2 72.4h0M361.9 71.1h0M366.8 68.5h0M328.5 55h0M399.4 33.1h0M377.7 93.9h0M329 62.8h0M361.5 103.2h0M327.5 66.4h0M375 52.5h0M341.2 42.7h0M349.6 92.7h0M398.1 85.9h0M336.8 36.9h0M363.1 55.7h0M358 99.6h0M367.2 104.6h0M326 63.4h0M386.7 49.8h0M362 96.6h0M396.4 50.2h0M353.9 54.6h0M324.3 62.3h0M375.6 64.5h0M381.4 32h0M373.4 42.7h0M323.7 56.8h0M336.8 33h0M335.9 41.1h0M354.2 53.5h0M363.8 92.6h0M370 70.6h0M319.7 72h0M331.1 65.4h0M371.3 40.7h0M364.8 99.9h0M360.5 67.4h0M375.1 90.4h0M383.6 50h0M328.2 56.4h0M382.6 47.3h0M400.2 38.7h0M384.3 38.2h0M375.8 97.1h0M343.7 64.3h0M371.7 19.6h0M373.1 87.3h0M365.4 90h0M365.5 65.6h0M376.6 70.3h0M376.4 73.2h0M371 41.4h0M369.2 61.5h0M344.3 36h0M362.2 98h0M362.8 61.8h0M376 24.7h0M367.4 82.2h0M385.8 39.9h0M329.8 59.3h0M365.4 82.6h0M369.8 78.2h0M392.2 34h0M384.2 37.2h0M372.9 84.8h0M352.2 60.4h0M388.5 93.7h0M359.9 68.7h0M352.6 82.2h0M357.3 79.8h0M385.3 28.1h0M345.3 65.2h0M331.5 64.4h0M324.2 71.8h0M386.7 47.4h0M387.8 52.6h0M365.9 60.9h0M358.4 89h0M373.9 25.7h0M322.1 69h0M334.2 63h0M381.9 90.3h0M368 71.6h0M368.2 34h0M363.9 42h0M374.9 83.7h0M388.4 45.5h0M353.9 88.3h0M370.4 87.6h0M382.5 38.9h0M366.7 67.9h0M355.4 96.5h0M372.1 62.4h0M372.9 83.3h0M356.6 75.4h0M400.9 37.3h0M384.3 94h0M369.2 65h0M331.5 58.1h0M375.8 85.1h0M370.4 101.6h0M367.1 64.7h0M366.6 73.1h0M379.4 34.4h0M377.7 34.3h0M391.5 32.3h0M373.9 88.3h0M332.1 58.7h0M361.1 65.5h0M359.2 101.8h0M387.3 31.1h0M378.4 33.4h0M388.6 37.8h0M345.1 61.7h0M342.4 41.8h0M372.5 36.4h0M315.9 73h0M375.1 92.9h0M358.5 92.8h0M376.1 16.9h0M364.4 78.7h0M347.8 64.3h0M375.6 83h0M330.5 57.7h0M346 64.8h0M353.1 81.6h0M325.2 60.1h0M387.7 40.2h0M321.8 68.9h0M345.8 34.8h0M343.8 60.9h0M370.8 68.6h0M359.7 30.2h0M356.3 97.3h0M383.1 46.4h0M369.6 31.8h0M335.8 37.8h0M373.1 91.3h0M364.4 87.8h0M380.8 76.2h0M358.4 99.2h0M324.5 65.9h0M393.7 35.7h0M336.7 38.8h0M397.8 82.7h0M369.6 85.7h0M371.5 74h0M368.7 64.9h0M344.2 61.8h0M364.7 39h0M362.8 74.9h0M345.8 78.3h0M347.5 76.4h0M389.9 31h0M373.3 62.4h0M375.4 100.6h0M381.7 27h0M380 96.7h0M369.3 71h0M387.9 92.7h0M361.9 98.5h0M359.8 74.8h0M372.3 86.2h0M326.3 60.4h0M344.5 69.6h0M357.3 107.5h0M389.5 47.3h0M364 79h0M357.7 96.1h0M379.3 35.2h0M368.9 64.4h0M374.7 98.4h0M327.5 67.3h0M342.3 36h0M331.8 63.4h0M389.5 41.5h0M367.4 78.9h0M379.2 100.4h0M395.6 34.6h0M349 59.7h0M372.6 99.2h0M357.5 103.3h0M350.9 65.7h0M370.7 59.1h0M363.4 28.3h0M342.1 33.2h0M339.3 39.4h0M334 37.8h0M378.4 82.1h0M375.3 67.6h0M331.3 61h0M365 33.4h0M375 99.8h0M364 81h0M376.3 38.5h0M367.3 41.9h0M321.9 71h0M375.4 75.7h0M367.9 64.7h0M379.1 40.8h0M324.8 59.4h0M363.9 65.7h0M390.2 35.2h0M374 94.8h0M371.7 96h0M377 77.2h0M383.5 67.8h0M381.2 85.3h0M361.6 75.5h0M379.2 85.5h0M381.8 31.6h0M322.2 58.4h0M354.8 83.1h0M374.2 60h0" stroke="#e00a17" stroke-width="1.05" stroke-linecap="round" fill="none"/>
<path d="M385.3 23.6h0M396.7 50.5h0M346.6 78.7h0M367.9 86.9h0M383.2 88.5h0M368.7 42.5h0M379.7 81.1h0M383.3 31.6h0M387 54.1h0M381.4 42h0M372.1 20.2h0M381.6 46.7h0M369.9 66h0M354.7 103.2h0M355.7 104h0M371 82.2h0M318.6 68.6h0M388.1 44.4h0M375.2 20.5h0M388.5 76h0M378.9 19.4h0M366.6 29.5h0M378.6 66.1h0M350.9 76.1h0M382.8 35.3h0M388.2 31.1h0M346.9 87.7h0M352.5 53h0M382.6 97h0M386.1 93.3h0M342.2 75.8h0M351.4 86.6h0M382 41.1h0M371.1 71.8h0M379.2 47.4h0M395.1 90.6h0M359.3 40.2h0M386.9 23.9h0M359.8 80.1h0M324.1 55.6h0M374.9 94.1h0M367.5 89.7h0M384.1 70.7h0M357.8 82.2h0M376.1 37.1h0M376.2 79.9h0M384.2 52.1h0M387.6 55.2h0M323.4 57.8h0M375.7 29.4h0M341.9 67.2h0M337.5 39.6h0M363.8 40h0M349.8 76.1h0M369 69.4h0M372.6 90.6h0M348.4 86.6h0M380.5 49.8h0M377.9 72.6h0M381.1 78.8h0M394.6 43.8h0M368.8 37.8h0M342.8 73.1h0M342 42.7h0M376.9 19h0M377.5 35.6h0M354.2 100.5h0M374 73.3h0M364.2 33h0M393.2 58.4h0M392.3 83.5h0M398.7 45.6h0M381.8 42.4h0M365.5 100.4h0M365.1 58.4h0M386.8 93h0M358.8 75.6h0M347.5 77h0M363.6 66.8h0M407.5 39.5h0M366.3 65.9h0M359.8 87.4h0M393.6 32.5h0M377.4 19h0M386.7 96.6h0M369.6 60.7h0M361.4 35.2h0M352 97.9h0M382 94h0M367.4 44.3h0M364.2 39h0M346.3 63.7h0M374.8 43.4h0M371.9 90.3h0M362.2 38.6h0M392.4 88.2h0M384 41.6h0M389.7 76.6h0M332.8 64.3h0M379.5 49.9h0M392.7 97.1h0M383.6 26.9h0M340.6 43.3h0M362.5 25.4h0M328.3 66.7h0M345.2 82.4h0M371.2 36.4h0M394.6 46h0M355.3 77.4h0M398.1 30.2h0M365.5 22.1h0M380.3 45.9h0M378.2 71.5h0M395.4 90.7h0M385.4 72.2h0M390.5 84.9h0M374.4 17.5h0M347.4 82.2h0M364 67.1h0M376.1 48.8h0M374.9 94.3h0M323.5 61.1h0M389.9 36.6h0M381.5 80.4h0M351.4 75.8h0M393 57.7h0M372.5 29.3h0M352 102.7h0M357.7 85.1h0M393.7 79.7h0M369.4 27h0M384.6 94h0M379.5 20.7h0M391.3 52.3h0M355.1 80.2h0M388.7 43.6h0M382.2 34.5h0M330 55.1h0M369.8 84.5h0M375.1 98.5h0M379.7 53.7h0M367.1 21.8h0M380.8 20.6h0M356.6 90.4h0M353.8 82.4h0M348.8 62.9h0M380.5 81.9h0M393.7 87.7h0M392.6 85.2h0M364.4 88.2h0M353.2 55.4h0M350.9 57.8h0M364.3 87.9h0M347 75h0M373.2 27.1h0M378.3 48.1h0M365.3 51.6h0M332.9 60.3h0M364.5 26h0M369.8 24.9h0M369.1 70.2h0M362 52h0M385.6 82.7h0M363.3 39h0M332.2 64.5h0M343.9 66h0M393.2 87.6h0M375.8 28.5h0M383 91.5h0M385.5 88.8h0M345 40.8h0M368.2 82.3h0M359.5 81.4h0M393.2 25.4h0M356.4 74.9h0M384.4 71.9h0M364 35.7h0M376 83.9h0M342.5 61.4h0M357.5 107.3h0M381.4 39.4h0M378 82.2h0M378.6 36.2h0M326 70.8h0M384 42.1h0M383.1 20.5h0M348.9 81.1h0M359.7 84.9h0M351.9 53h0M363.6 102h0M368.8 102.3h0M353.5 57.8h0M380.4 42.7h0M361.8 64h0M374.2 47.4h0M387 94h0M350 58.2h0M358.9 78.7h0M347.3 88.5h0M382 32.1h0M370.1 20.8h0M367.9 66.1h0M355.9 82.5h0M395.5 85.7h0M380 100.4h0M389.8 97h0M376.3 43.5h0M385.7 85.1h0M395.1 48h0M380.9 17.3h0M363.5 86.5h0M383.5 40.4h0M376.9 38.7h0M343.6 77h0M343.1 65h0M384.9 74h0M391 37h0M397.7 33.2h0M363.4 28.7h0M390.3 82.8h0M343.9 75.5h0M395.5 88.7h0M379.8 55.2h0M378 74.8h0M383.9 86.1h0M392.6 38.3h0M364.4 103.3h0M388.4 91.6h0M383.9 73.3h0M387.6 73.3h0M373.2 97.4h0M386.1 68.9h0M359.6 77.2h0M342.3 34.3h0M362.6 28.3h0M381.3 15.6h0M374.7 75.7h0M374.4 30.1h0M323.8 64h0M360.2 107.4h0M395.9 39.9h0M387.4 88.9h0M388.9 51.8h0M350.3 62.4h0M351.8 91.5h0M384.2 23.3h0M377.8 50.2h0M386.2 34.3h0M382.3 74.9h0M384.5 29.2h0M397 40.4h0M400.7 44.4h0M380.3 54.2h0M373.4 101.9h0M351.2 88.4h0M345.5 79.9h0M374.3 32h0M379.3 37.7h0M352.3 51h0M376.9 18.7h0M399.5 31.1h0M378.6 25h0M341.2 71h0M359 71.9h0M347.7 38.8h0M373.4 28.9h0M381.3 30.7h0M366 99.5h0M371 95h0M395.2 88.1h0M383.9 50.6h0M373.1 74.8h0M377.6 28.6h0M380.7 25.3h0M363.5 59h0M386.6 94.1h0M375.6 77h0M367.7 39.8h0M374.2 65.5h0M378.6 21h0M353.6 96.6h0M393.3 76.3h0M319.2 75.4h0M370.7 39.9h0M349.6 33.3h0M370.5 68.4h0M392 58.3h0M384.3 38.3h0M387.6 27.3h0M356.3 88.9h0M386.7 35.6h0M348 39.2h0M396.1 91.6h0M371.5 97.3h0M347.2 40.8h0M350.1 61.7h0M344.4 66.6h0M389.5 83.1h0M384.5 53h0M383.5 38.8h0M377.1 43.1h0M382.5 45.5h0M393.9 78.9h0M393.9 58.9h0M382.7 99h0M380.1 72.1h0M389.8 53.4h0M347.1 79.9h0M386.4 78.6h0M383.4 93.1h0M360.9 82.3h0M345.3 83h0M361.1 76.5h0M396.4 32.7h0M377.5 25.6h0M381.2 42.9h0M364 70.8h0M364.4 27.1h0M390.8 76.9h0M353.1 80.4h0M350.4 91.7h0M374.7 48.2h0M346.2 34.7h0M349.9 59.6h0M383.5 19.8h0M372.9 76h0M383.9 88h0M373.8 44.1h0M373.1 96.8h0M375.8 60.6h0M361 109h0M370.2 41.1h0M392.8 33.7h0M365.1 23.2h0M385.7 78.4h0M372.3 29.3h0M356.2 92.1h0M392.9 35.5h0M375.8 80.6h0M350.3 95.3h0M381 70.6h0M371.8 19.8h0M370.6 37.3h0M391.1 40.5h0M360.9 87.6h0M364.7 76.6h0M364.7 66.3h0M383.7 85.5h0M376.1 103.5h0M328 73.2h0M385.1 85.9h0M353.3 90.6h0M372.9 34.5h0M376.7 81.9h0M344.9 81.1h0M348.2 37.2h0M384.9 22.7h0M375.7 29.2h0M330.7 60.4h0M381.7 86.8h0M352.2 75.6h0M378.9 43.1h0M385.3 78.9h0M355.7 83.4h0M380.6 40.4h0M368.9 39.5h0M326.8 63.5h0M354.5 102.4h0M369 94.7h0M367 72.8h0M390 94.6h0M375.1 21.1h0M385.9 81.5h0M358.4 34.7h0M350.8 75.5h0M377.1 28.5h0M396.2 35.9h0M363.7 78h0M392.9 77.5h0M387.3 28h0M377.2 98.4h0M363.6 95h0" stroke="#34529a" stroke-width="1.05" stroke-linecap="round" fill="none"/>
<path d="M369.4 63.1h0M366.7 30.7h0M349.3 74.6h0M368.5 79.6h0M366.6 33.7h0M330.1 64.7h0M345 77.2h0M370.3 22.7h0M350.9 62h0M384 31.7h0M355.5 87.3h0M372 104.4h0M375.7 100.9h0M361.9 104.6h0M392.6 38.7h0M353.9 59.3h0M401.5 40.1h0M361 66.4h0M323.1 62.8h0M327.2 57.2h0M382.3 36.9h0M330.6 61.1h0M383.3 98.3h0M365.3 92.4h0M378.4 84.4h0M387.5 28h0M406.7 39.2h0M370.3 84.7h0M382.1 26.6h0M375.9 98.3h0M386.8 30.4h0M361.5 90.9h0M368.2 62.9h0M363.4 58.2h0M374.4 73.9h0M383.3 54.5h0M351 60h0M395.5 43.4h0M368.8 71.2h0M368.6 69.9h0M361 90.6h0M392.1 56.2h0M365.9 96.3h0M360.6 106h0M325.4 74.7h0M354.8 101.6h0M360.4 83.5h0M348.6 57.9h0M388 98.9h0M389.6 42.5h0M366.2 94.6h0M379.4 71.3h0M390.8 30.1h0M391.7 27.5h0M324.4 73.4h0M376.9 42.4h0M343.4 63.9h0M317.5 72.7h0M385.8 39.5h0M375.3 83.9h0M361.8 70.2h0M377.8 31.8h0M365.6 23.4h0M394.6 46.3h0M352.3 62.4h0M337.2 39.6h0M326.2 66.2h0M361.4 94.3h0M361.8 91.5h0M324.5 73.1h0M347.1 66.8h0M318.9 73.3h0M369.9 94.2h0M383.8 36.3h0M371.2 63.6h0M369.2 95.9h0M370.9 73.7h0M336 40.3h0M351.1 55.2h0M370.7 40.2h0M368.6 99.3h0M384 100.6h0M356.9 98.2h0M371.6 67.3h0M374.9 44.4h0M363.7 106.8h0M374.3 44.6h0M382.4 45.9h0M373.1 79.9h0M379.4 74.3h0M370.3 35.3h0M385.4 36.9h0M359.9 73.2h0M365.7 66h0M384.9 27h0M386.7 42h0M356.2 73.9h0M334.8 36.7h0M380.6 46.6h0M377.3 62.2h0M320 70.9h0M357.8 100.5h0M365.5 101.4h0M364.9 43.5h0M368.8 64.5h0M377.8 98.3h0M342.6 76.2h0M387.1 42.8h0M366.4 94.6h0M369.8 81.3h0M371.9 85.2h0M372.5 28.9h0M358.5 89.7h0M391.6 43.2h0M370.9 21.7h0M345.4 62h0M366.4 86.3h0M335.9 39.4h0M368.1 101.7h0M370.3 22h0M373.6 66.7h0M335.8 39.2h0M374.2 44.9h0M383.7 55.6h0M338.5 39h0M328.9 64h0M380.3 85.3h0M339.6 39h0M353.1 62h0M360 92.7h0M389.1 46.3h0M372.3 62h0M389.5 34h0M372.8 61.6h0M364.5 94.4h0M390.2 52.4h0M356.7 85.9h0M378.5 91.2h0M343.8 38.9h0M371.5 80h0M374.4 68.6h0M366.2 67h0M380.7 42.2h0M373.7 77.6h0M384.2 32.5h0M367.2 65.5h0M392.5 37.6h0M356.9 56.9h0M371.4 63.7h0M364.2 68.1h0M361.8 29.5h0M332.4 62.4h0M342.6 71.5h0M396.2 52.1h0M363 101.3h0M359.7 98.8h0M366.2 66.2h0M346.7 62.2h0M384.4 50.1h0M366.1 57.5h0M361 87.1h0M377.4 97.7h0M375.1 91.6h0M342.5 64.6h0M363.3 30h0M328 63.5h0M367.5 89.2h0M325.1 65.1h0M364.9 100h0M378.6 27.5h0M388.8 51.5h0M318 68.8h0M386.5 53.6h0M360.7 97.8h0M359.6 104.2h0M397.4 35.5h0M343.3 75.1h0M326.8 59.1h0M324.5 61.2h0M376.4 80h0M386.8 37.9h0M348.4 94.9h0M362.8 102.6h0M362.4 68.7h0M393.2 37.4h0M378.2 81.7h0M369 31.7h0M343.2 39.4h0M396.6 33.4h0M387.7 44.7h0M372.3 85.3h0M373.8 43.6h0M355.7 101.8h0M366.4 91.4h0M361.2 29.3h0M361.1 34.9h0M362.6 100.2h0M389.9 50.4h0M320.4 69.9h0M362.9 34.5h0M384.9 25.9h0M391.6 47.7h0M325.8 60.2h0M391.4 47.1h0M376 81.5h0M368.7 22.9h0M391.9 48.5h0M371.2 25.3h0M371.5 103.1h0M366.8 35.1h0M359.7 102.7h0M392.5 43.2h0M332.7 61.2h0M364.2 59.6h0M354.2 96.8h0M394 53.6h0M364.2 36.8h0M363.4 63.2h0M369.2 21.8h0M376.7 46.6h0M371.9 59.5h0M365 107.2h0M322.6 68.3h0M362.6 102.6h0M387.5 54.7h0M375.3 44.5h0M397.9 33.7h0M372.3 81.4h0M345.3 58.9h0M352.4 98.3h0M348.3 84.7h0M344.6 59.8h0M354.1 66h0M370.3 58.8h0M365.9 96.3h0M391.5 86.8h0M352.2 76.5h0M339.8 41.2h0M344.1 76.4h0M349.5 79.3h0M369.8 25.2h0M363 63.1h0M337.2 36.6h0M356.5 94.2h0M379.2 31h0" stroke="#e00a17" stroke-width="1.05" stroke-linecap="round" fill="none"/>
<path d="M363 77.1h0M355.1 98.9h0M377.1 99.3h0M364.9 36h0M346.5 64.4h0M366.6 39.8h0M393 80.1h0M350.6 37.2h0M396.2 84.4h0M383.6 34.2h0M364.2 27.2h0M391.6 40h0M384.4 31.5h0M383.8 76.5h0M383.8 87.9h0M382.3 41.7h0M342.5 42.6h0M351 62.7h0M378.5 77.1h0M350.9 56.8h0M349.1 37.6h0M372.8 74.7h0M384.3 26.7h0M323.1 61h0M350.1 101.1h0M373.5 36.1h0M345.3 66.7h0M386.5 73h0M392.1 95.2h0M349.6 82h0M380 18.5h0M344.6 81.4h0M373.1 42.4h0M392.4 96.3h0M358.4 79.1h0M347.9 65.5h0M379.6 78.8h0M359.4 35.9h0M391.8 34h0M343.8 74.9h0M363.6 68.5h0M381.8 29.3h0M389.9 43.7h0M385.3 90.8h0M393.4 35.8h0M395.1 39.7h0M350.8 84.2h0M379.7 77.9h0M378.4 50.5h0M351.3 51.4h0M388.3 35.7h0M354.8 78.2h0M393.8 26.9h0M364.9 27.9h0M374 67.5h0M375.8 47.6h0M373.8 48.9h0M380.1 43.6h0M355 80.2h0M397.5 41.9h0M374.3 26.7h0M376.8 29.4h0M351.8 89.1h0M346.2 74.3h0M353.9 98.9h0M347.5 87h0M396.5 34.5h0M378 68.7h0M350.2 80.1h0M388.1 27.7h0M362.3 59.6h0M351.2 95.5h0M360.2 59.8h0M378.5 50.9h0M352.6 86.9h0M397.4 48.6h0M377.9 79.2h0M363.5 102.8h0M391.3 27.9h0M366.7 21.6h0M346.3 59h0M381 77.7h0M380.1 23.1h0M361.6 72.7h0M343.8 66.4h0M381 33.1h0M386.3 95.5h0M386.1 42.9h0M364.2 86.5h0M365 27.4h0M352.5 50.3h0M389.3 88.9h0M348.8 84.9h0M381.4 16.9h0M357.4 34.7h0M349 75h0M380.9 98h0M378.5 79.4h0M366.2 95.4h0M351.8 94.7h0M377.3 19.8h0M378.4 20.4h0M365.2 100.3h0M348.2 62.5h0M382.9 76.4h0M349.1 79.4h0M385.2 73.3h0M394.3 88.8h0M386.4 34.9h0M380.9 27.7h0M382.7 74.6h0M369.2 91.6h0M379.4 28.6h0M334 38.2h0M379.4 76.4h0M369 24h0M397.1 91.3h0M370 75.1h0M388.1 92h0M377.7 70.1h0M392.6 87.8h0M345.4 37.6h0M348.9 62.1h0M355.5 88h0M378.7 79.9h0M397.8 33.6h0M388.7 78.2h0M395.3 35.5h0M373.2 19.9h0M361.6 65.1h0M379.9 31.8h0M348.7 89.6h0M386.1 25.8h0M377.8 38.2h0M379.1 42.8h0M388.4 87.8h0M381 34.9h0M378.6 63.3h0M364.7 90.8h0M365.4 67.2h0M381.9 100.2h0M340.5 38.1h0M385.8 98.3h0M392.2 31.3h0M371.9 19.7h0M355.8 90.1h0M323.6 61.3h0M387.5 25.8h0M396.5 88.7h0M375.7 23.6h0M393 57.1h0M375.7 83.7h0M395 81.1h0M358.7 34.6h0M372 93.9h0M380.4 31.8h0M383.6 38.8h0M354.6 76.2h0M361.9 40.2h0M346.9 84.2h0M389.1 27.4h0M385.5 27.3h0M390.8 53.4h0M357.1 77.6h0M342.1 36.4h0M386 25.9h0M392.9 34.6h0M390 30.7h0M386.4 70.5h0M379 99.5h0M373.1 95h0M389.8 31.1h0M344.5 35.9h0M375.4 50.9h0M356.4 84.5h0M348.1 65.4h0M386.2 30h0M381.3 37.8h0M379.2 92.6h0M358.6 71.5h0M384.8 79.2h0M392 79.2h0M381.8 35.9h0M395.4 34.7h0M372.1 31.9h0M377.8 100.8h0M389.7 82.6h0M363.3 78.9h0M377.4 92.3h0M358.8 92.6h0M385 87.5h0M350.4 40.3h0M384.2 74.9h0M393.9 54.5h0M377.6 96.3h0M356.8 93.4h0M363.7 92.3h0M381.5 25.9h0M346.9 75.2h0M394.5 27.6h0M357.5 94.9h0M394 76.3h0M341.7 40.8h0M339.6 36.5h0M351.6 81h0M380.7 40.1h0M386.4 49h0M358.8 101.3h0M345.2 64.1h0M340.1 77.4h0M381.5 41.6h0M398.4 51.6h0M391.5 82.6h0M346.3 57.5h0M349.2 56.8h0M355.4 78.4h0M342.6 78.4h0M383.9 29.4h0M374.7 43.9h0M355.8 85h0M369.7 79h0M364.2 24.9h0M382.5 29.3h0M372.8 102h0M374.2 18.9h0M343.5 78.2h0M389.4 95h0M347.5 60h0M378.7 43.1h0M387.6 55.9h0M379.2 53.5h0M384.1 51.3h0M389.5 34.4h0M394.7 84.1h0M376.6 99.9h0M388.8 82.1h0M347.4 62h0M370.1 48.1h0M388.5 82.7h0M388 83.5h0M388.8 82.2h0M370.1 84.3h0M388.7 25.6h0M378.3 82.7h0M350.6 77.6h0M390.6 34.2h0M394.3 28.1h0M388.7 89.2h0M360.6 72.8h0M386.9 90.6h0M384.6 29.8h0M329.1 61.6h0M330.2 56.2h0M362.3 28.1h0M359.5 28.8h0M394.1 31.3h0M387.7 78.4h0M353.7 86.9h0M365.5 70h0M369.9 26h0M375.3 97.4h0M399.1 41.4h0M386 38.3h0M327.2 54.2h0M345.2 68.7h0M348.3 81.1h0M376.7 38.2h0M363.4 37.7h0M386.7 34.6h0M346.3 35.6h0M363.3 82.5h0M395.4 88.4h0M348.4 79.4h0M365.1 35.7h0M385.6 79.8h0M373.3 103.5h0M367 42.7h0M352.6 52.1h0M365 52.3h0M370 22h0M351 60h0M354.8 95.7h0M388.6 31.4h0M386.8 71.8h0M379.4 26.7h0M381.6 42.4h0M347.2 81.7h0M361.1 58.1h0M377 26h0M376.8 33.6h0M376.3 18.6h0M371.6 33.9h0M357.5 51.1h0M374.1 33.4h0M369.4 28.2h0M353.5 81.8h0M395.6 82.9h0M391.1 83.3h0M392.9 57.1h0M357.6 74h0M365.2 104.2h0M358.7 105.7h0M377.9 36h0M364.6 92.7h0M374.9 68.1h0M364.7 33.7h0M360.6 88.1h0M378.3 94h0M353.7 53.6h0M395.5 93.9h0M387.4 51h0M388.5 74.1h0M379.8 48.2h0M366.4 43h0M329.6 66.7h0M350.7 67.3h0M376.1 63.7h0M386.4 89h0M379.7 35.1h0M391.4 59h0M384.7 69.2h0M388.5 23.2h0M376.1 96.5h0M387.7 88.5h0M345.2 40.1h0M377 97.3h0M350.5 75.5h0M345.7 65.9h0M393.5 89.9h0M367.4 26.6h0M390.7 36.7h0M383.1 82h0M366.4 37.8h0M359.5 72.1h0M361.1 60.9h0M364.9 25.8h0M373.3 37.5h0M348 69.1h0M384.8 89h0M371.3 107.7h0M388.1 88h0M389.4 38.1h0M371.9 29.1h0M359.4 103.9h0M353.7 78.5h0M381.5 100.2h0M329.3 63.5h0M368.6 33.4h0M378.4 39.7h0M365.7 34.7h0M388.7 26.8h0M348.4 35h0M375.1 72.6h0M358.9 101.3h0M383.3 18.6h0M331.1 59.8h0M375.1 30h0M367.1 36.3h0M358.1 80.5h0M393 86.4h0M385.9 35.3h0M381.9 30h0M342.7 34.1h0M384 81h0M349.3 40.4h0M376.4 76.9h0M385 31.4h0M344.1 61.7h0M360.6 92.2h0M348.8 91.1h0M344.7 31.8h0M368.5 90h0M372.4 93.5h0M383.8 83.9h0M382.7 21h0M363.6 37.6h0M349.6 99.7h0M379.5 97.4h0M375.6 50.2h0M391.5 92.4h0M360.1 69h0M358 80.6h0M389.6 90.2h0M395.2 92h0" stroke="#34529a" stroke-width="1.05" stroke-linecap="round" fill="none"/>
<path d="M339.8 35.1h0M348.1 60h0M370.6 97.7h0M387.9 29.2h0M359 59.1h0M340.9 33.2h0M369.9 99.7h0M368.7 59.8h0M365.2 103.3h0M394.6 52.7h0M375.2 76.8h0M341.8 37.1h0M372.1 106h0M362.5 36.9h0M371.5 90.6h0M375.9 93.2h0M359.9 96.9h0M368.2 68.8h0M324.5 62.2h0M354 99.6h0M397.6 39.4h0M359.2 104.6h0M368.3 73.5h0M362.9 90h0M363.6 81.5h0M396.3 34.7h0M373.8 77.9h0M369 70.1h0M370.2 86.4h0M361 105.9h0M323.8 58.2h0M343.3 54.4h0M364.8 85.8h0M351.5 88.2h0M386 54.7h0M320.5 73.1h0M374.9 67.5h0M359.3 85.3h0M370.6 35.5h0M371.2 71.9h0M340.9 38.5h0M346.4 59.3h0M392.2 45.1h0M361.1 89.2h0M394.7 49.9h0M361.3 90.9h0M352.9 100.4h0M391.3 40.7h0M366.4 78.9h0M349.6 53.5h0M358 99.3h0M371.6 77.3h0M372.8 80.5h0M375.6 28.2h0M359.4 96.9h0M365.3 30.5h0M338.8 35.2h0M375.2 72.7h0M372.9 81h0M329.9 60.3h0M376.4 48.9h0M368.8 85.9h0M362.3 73.7h0M336.1 35.6h0M380.7 86.1h0M365.4 85h0M357.6 72.7h0M327.9 66.2h0M318.4 72.2h0M338.7 36.7h0M365 98.2h0M378.1 90.9h0M323.8 70.7h0M378.2 95.6h0M372 107h0M362.2 103.8h0M362.6 68.9h0M339.1 36.8h0M373.1 86.5h0M363.5 106.9h0M374.3 78.6h0M359.2 87.9h0M325.1 62h0M366.1 92.3h0M392 44.9h0M373 43.3h0M331.7 56.7h0M377.8 64.5h0M372.7 101.4h0M345.9 60h0M378.9 93.1h0M363 62.7h0M328.4 66.4h0M342.2 39h0M376.8 67.9h0M357.6 101.5h0M375.6 89.9h0M330.1 55.1h0M366.5 100h0M319.4 71.1h0M375.5 97.2h0M374.5 44.5h0M365.7 65.2h0M369 70.5h0M355.1 76.9h0M340 40.9h0M390.6 45.6h0M391.8 35h0M325.3 75.9h0M390.9 35.4h0M354.1 100.7h0M364.8 41.9h0M346.8 82.4h0M356.1 77.6h0M377.4 87.4h0M393.2 38h0M370.5 69.2h0M362.9 102h0M389.2 51.2h0M364.7 58.7h0M373.5 106.2h0M346.9 40.9h0M387.4 39.7h0M358.5 104h0M371 91.6h0M381.6 97h0M328.8 65.1h0M371.3 83.9h0M364.8 64.3h0M370.7 89.9h0M373 73.5h0M389.4 45h0M395.8 37.7h0M323.4 72h0M346.6 67.2h0M356.3 102.5h0M363 59.3h0M380.8 95.8h0M390.2 29.7h0M381.4 95.5h0M386.4 39h0M352.6 84h0M358.8 70h0M358.5 100.4h0M371.6 61h0M400.2 36.8h0M349.2 61.7h0M321.2 71.5h0M365.5 60.9h0M389.4 46.7h0M372 81.4h0M378.1 20.7h0M337.7 35.4h0M373.9 68.4h0M378.2 23.8h0M356.8 104h0M378.4 101.8h0M376.4 39.7h0M384.9 30.6h0M374.5 78.8h0M369 105.4h0M349.4 75.3h0M390.5 53.2h0M364.4 100.2h0M317 69.7h0M370.9 87.1h0M345.2 44.2h0M368.8 27.9h0M393.2 87.5h0M390.3 36.7h0M338 59.3h0M378.5 50.7h0M330 64.7h0M321.4 74h0M393.9 49.4h0M396.5 53.7h0M359.3 105.1h0M377 41.4h0M396.9 47.5h0M369.9 60.2h0M368.8 35.2h0M324.3 62h0M395.1 36.9h0M370.2 78.4h0M379.3 99h0M354 103.1h0M375 37.9h0M393.6 46h0M345.3 61.9h0M355.4 95.5h0M380.2 20.5h0M394.9 52.3h0M337.9 62.6h0M356.9 102h0M341 40.7h0M365.9 86.2h0M320.6 68.2h0M356.1 99.5h0M352.4 58h0M339.1 37.5h0M374.7 88h0M342 39.8h0M360.2 100.2h0M369.5 78h0M367.6 70.1h0M325.5 73.4h0M365.3 94.1h0M376 62.2h0M372.4 65.4h0M338.1 35.7h0M374.4 89h0M344.5 78h0M363 80.2h0M357 92.1h0M370 76.5h0M337.9 33.1h0M374.7 44.4h0M365.4 29.8h0M395.3 44.8h0M373.8 96.8h0M393.2 30h0M393 91.7h0M355.4 54.9h0M328 62.6h0M368.6 84.5h0M326.4 67.5h0M383.1 44.8h0M387 36.8h0M360.4 79.7h0M323 68.9h0M368.5 59.9h0M321.5 73.8h0M363.5 101h0M369.3 60.7h0M365 68.8h0M357.7 70.7h0M354.5 76.8h0M373.8 20.1h0M357.6 80.4h0M353.4 60.3h0M357.9 78.2h0M372.5 65.3h0M377 79.9h0" stroke="#e00a17" stroke-width="1.05" stroke-linecap="round" fill="none"/>
<path d="M355 60.3h0M382.7 95.2h0M366.2 83.1h0M381.6 70.6h0M380.4 42.6h0M371.1 94.4h0M375.4 78h0M384.2 39.6h0M346.7 57.9h0M382.3 72.2h0M368.4 75.6h0M359.9 62.7h0M388.1 37h0M397.9 49.9h0M384.1 22.8h0M372.7 50.9h0M386 93.5h0M371.2 97h0M387.3 74h0M354.8 77h0M389.9 34.2h0M372.2 23.2h0M326.2 58.6h0M365.3 60.6h0M369.2 70.5h0M382 32.2h0M371.4 22.3h0M351.5 66.3h0M367.4 59.1h0M341.6 64.3h0M355 97h0M369.3 21.8h0M387 55.9h0M395 29.8h0M388 96.2h0M391.1 76.2h0M373.4 34.7h0M377.2 36.3h0M354.9 102h0M384.7 26.5h0M372.9 29h0M365.7 73.8h0M360.4 84.2h0M387.7 48.7h0M341.1 77.9h0M386.2 71.5h0M370.7 66.4h0M398.1 34.4h0M368 26.1h0M366 91.9h0M380.7 70.3h0M388.4 78.7h0M383.8 91.6h0M362.6 83.5h0M372.1 17.8h0M376 71.6h0M388.6 83.4h0M399.5 33.6h0M359.1 93.8h0M376.9 45.5h0M377.7 25.3h0M390.9 78.1h0M398.8 48.3h0M388.9 82.4h0M380.6 86.8h0M359.7 86.8h0M342.2 60.7h0M348.4 84.7h0M347.9 58.8h0M343.5 74.4h0M378.4 27.4h0M346.5 55.7h0M372.6 30.9h0M376.7 27.5h0M377.3 37.3h0M361.7 34.1h0M363.5 89h0M384.9 71.4h0M388.7 85.1h0M369.2 21.4h0M383.8 26.1h0M370.6 25.1h0M373.8 22h0M379.9 33.8h0M392.6 79.5h0M366.8 101h0M401.4 44.4h0M388.5 74.5h0M361.4 38.9h0M380.5 32.9h0M362.1 107.1h0M391 51.8h0M376 73.7h0M391.8 91.1h0M357.8 33.5h0M382.2 46.2h0M369.7 30.9h0M394 48.9h0M354.5 58.7h0M376.2 37.1h0M374.9 62.6h0M391.7 88.7h0M344.4 77.8h0M385.6 23.2h0M396.8 41.6h0M381.2 76.3h0M361.1 88.3h0M370.2 40.1h0M389 31.8h0M369.2 46h0M381.5 39.7h0M324.9 57.1h0M377.1 30.7h0M336.3 32.2h0M400.8 42.2h0M386.8 74.8h0M367.9 37.3h0M361 78.7h0M384.3 83.6h0M365.7 35.1h0M373.2 31.2h0M327.5 64.8h0M344.4 75.2h0M356.4 51.8h0M359.9 37.7h0M374.8 46h0M368.3 100.7h0M355.6 78.6h0M392.3 88.2h0M363.3 40.6h0M342.9 62.6h0M390.6 34.1h0M363.4 32.2h0M352.7 104h0M382 38.2h0M353.1 55.6h0M369.5 97.3h0M377.4 95.6h0M344.3 37.2h0M391 40.1h0M373.8 100h0M373.8 19.4h0M355.2 93h0M376.6 17.8h0M391.2 93.9h0M373 19.7h0M372.4 37.7h0M352 82.8h0M384.9 71.6h0M337.6 60.2h0M367.9 41.8h0M394.6 86.9h0M344.9 38h0M331.4 58h0M374.5 76.6h0M394.1 79.2h0M389.7 45.2h0M385.3 73.4h0M359.1 108.7h0M373 98.4h0M332.8 63.5h0M362.8 64.6h0M382.1 37.6h0M391.9 56.4h0M354 104.8h0M352.3 63.5h0M393.6 28.7h0M377.3 39.8h0M351 41.8h0M343 42.5h0M394.5 43.6h0M380.4 85.6h0M350.6 93.6h0M386.2 73.9h0M337.2 63.1h0M344 44.6h0M379.4 45.9h0M352.3 56.7h0M406.8 40.4h0M364.5 76h0M338.8 32.9h0M395.1 46.7h0M376 31.6h0M372.8 93.9h0M372.4 77.6h0M387.3 76.3h0M370.7 44.2h0M362.8 79h0M395.2 40.6h0M326.8 66.9h0M358 74.3h0M373.3 30.3h0M372.7 74.7h0M382.6 79.4h0M400.5 32.3h0M385.9 99.2h0M373.6 22.1h0M376.7 48.6h0M378.1 44.7h0M376.5 22.4h0M376.5 33.5h0M383.4 80.5h0M353.6 83.7h0M358.8 63.8h0M344.7 76.4h0M357.8 86.9h0M365.1 43.3h0M391 50.4h0M376.5 36.9h0M350.1 61.6h0M388.1 50.5h0M336.3 34.2h0M381.3 86.4h0M373.2 99.9h0M370.7 29.9h0M370.9 106.3h0M344 78.9h0M334.9 41.8h0M316.4 70.8h0M351.1 55.1h0M344.6 38.9h0M391.9 75.6h0M342.4 38.1h0M381.1 90h0M375.1 95.8h0M348.3 67.9h0M358.8 83.5h0M376.8 82.4h0M357.8 84.8h0M359.3 65.7h0M360.3 62h0M354.2 93.2h0M389.5 56.5h0M364.5 71.7h0M387.2 88.9h0M354.4 56.5h0M381.4 30.2h0M361.4 32.8h0M357.8 102.7h0M363.8 29.8h0M359.6 82h0M366.7 79.1h0M390.1 52.6h0M385.7 36.1h0M358.1 72.3h0M353.8 82h0M385 90.6h0M354.5 55.5h0M382.8 69.7h0M390.3 37.5h0M321.6 74.6h0M393.5 56.6h0M366.7 42h0M376.3 102.4h0M355.5 91.3h0M398.5 41.5h0M387.3 90.7h0M379.6 21.7h0M383.3 84.9h0M394.8 75.7h0M378.1 20h0M375.5 29.7h0M397.2 48.2h0M380.3 80.5h0M344.6 60.3h0M333.5 37.6h0M374.5 100.4h0M381.3 46.7h0M352.2 53.6h0M346.2 63.1h0M397.5 49.7h0M385.5 98.7h0M388.2 93.2h0M378.7 95h0M380.8 17.8h0M368.3 37.9h0M372.2 99h0M359.3 58.4h0M337.8 33.3h0M393.9 39.2h0M383.2 43.2h0M359.7 91.2h0M391.4 40.1h0M371.5 63.1h0M363.3 89.1h0M350.2 76.3h0M357.4 75.2h0M350.6 95.2h0M383.7 53.6h0M394.2 37.2h0M397.4 42.2h0M389.3 89.9h0M380.1 44.6h0M360.3 68.4h0M373.8 43h0M352.9 80.7h0M394.1 84.4h0M372.1 33.4h0M395.2 84.1h0M349.1 85.9h0M349.2 66.4h0M353.7 53h0M371.4 39h0M381.7 96.6h0M386 28h0M393.7 29h0M386.7 28.3h0M361.4 34.8h0M372.1 28.2h0M373.8 86.4h0M349.9 94.9h0M353.7 100.6h0M368.9 41.7h0M357.7 89.7h0M382.3 30.8h0M343.2 62.2h0M373.9 47h0M361.5 29.8h0M375.9 38h0M378.6 89.4h0M326.6 61.6h0M379.8 50.7h0M385.4 69.7h0M351.1 84.1h0M392.9 80.8h0M392.6 36.8h0M357.6 83.9h0M391 33.5h0M390.3 40.4h0M385.7 88.7h0M385.7 27.1h0M349.5 58.2h0M358.7 84.8h0M378.8 66.1h0M385.1 43.3h0M351.4 55.3h0M392.8 38.6h0M385.5 71.5h0M389.2 92.7h0M342.5 40.3h0M378.2 31.9h0M380.1 77.4h0M371.5 61.4h0M376.9 20.2h0M369.4 48.1h0M379.6 51.4h0M344.6 62.3h0M374.9 96.2h0M378.1 36.2h0M359.2 69.8h0M388 39h0M358.5 81.7h0M385.4 89.9h0M384 98.6h0M377.2 63.6h0M395.8 54.6h0M371.2 54h0M324.7 65.5h0M350.2 39.4h0M369.2 43.4h0M375.2 38.1h0M360.5 26.7h0M357.6 57.9h0M395.4 81.4h0M387.8 32.6h0M397.4 31.8h0" stroke="#34529a" stroke-width="1.05" stroke-linecap="round" fill="none"/>
<path d="M372.1 86.2h0M385.4 76.9h0M371.4 85.1h0M377.7 38.2h0M361.5 105h0M367.2 64.2h0M375.9 44.3h0M336.8 39.7h0M363.7 96.7h0M323.4 60.4h0M339.9 32.6h0M407.6 38.8h0M399.4 38.3h0M377.7 96.4h0M323.5 58.3h0M391.6 41.5h0M382.2 43.3h0M364.2 39.2h0M337.6 43.1h0M368.6 93h0M320.7 72.7h0M375.3 82.4h0M351.4 50.9h0M378 92.5h0M373.7 60h0M348.8 64.8h0M369.6 56.8h0M347.2 63.4h0M363.3 27.5h0M343.9 59.1h0M328 55.7h0M359.2 105.5h0M363.6 84.8h0M340.2 37.7h0M366.8 97.2h0M358.4 87.8h0M364.2 80h0M367.8 107.7h0M372.4 75.5h0M354.8 52.7h0M338.2 61.6h0M365.8 104.6h0M335 59.4h0M374.9 86.9h0M357 93.7h0M384.6 88.5h0M370.9 79.7h0M391.4 51.1h0M364.9 66.4h0M345.7 57.9h0M362.7 95.2h0M342.4 36.4h0M376.8 94.8h0M365.4 83h0M393.6 50.2h0M319.9 72.6h0M389.1 40.2h0M374.2 50.8h0M324.3 73.7h0M353.4 102.5h0M359.4 72h0M390.8 49.2h0M363.9 109.1h0M385 71h0M366.5 62.8h0M372.3 21.8h0M340.1 64.3h0M364.8 99.9h0M373.7 85h0M358.9 103.5h0M398.4 51.6h0M374.5 88h0M349.6 93.3h0M330.1 61.4h0M321.4 71.5h0M376 87.7h0M363.8 100.8h0M386.4 46.7h0M365.8 89.8h0M366.6 69.8h0M362.6 99.5h0M318.4 69.5h0M376 102.7h0M389.9 51.2h0M377.8 44.3h0M372.4 63.5h0M378.2 73h0M365.6 86.4h0M380.3 52.1h0M342 82.1h0M363 56.7h0M367.7 99.8h0M370.1 20.6h0M360.8 93.9h0M341.9 40.9h0M342 34.9h0M360.5 78.3h0M384.9 90.2h0M398.8 39.4h0M352.9 58.7h0M378.8 31.9h0M364.5 103h0M384.6 97.7h0M369.4 62h0M388.5 45h0M382.8 43.2h0M353.6 93.6h0M323.2 72.6h0M357.1 74.1h0M351.8 97.8h0M374.1 75.6h0M388.9 98.6h0M359.6 97.2h0M343.3 39.1h0M355.6 84.1h0M358.7 74.8h0M337.6 37.7h0M318.5 68.7h0M380 20.6h0M383.3 21.8h0M369.9 54.5h0M334.1 37.4h0M364.6 83h0M385.3 51h0M390.6 50h0M347 59.6h0M361.7 78.4h0M395.6 55.3h0M361.9 104.4h0M365.9 107.2h0M379.7 42.4h0M379.2 74.4h0M376.8 23.6h0M390.5 33.5h0M316.1 72.1h0M364.8 34.8h0M357.4 85.9h0M363.1 103.8h0M397.1 31.5h0M367.8 72.7h0M346.5 83.1h0M334 62.7h0M366.9 78.8h0M359.5 85.7h0M359.2 101.5h0M366.6 63.1h0M371.1 66.1h0M349.7 99.5h0M372.9 63.5h0M361 78.6h0M391.5 47.2h0M364.6 69.2h0M362.5 62.3h0M373.1 85.8h0M371.6 97.9h0M366.6 62.6h0M373 89.4h0M318.3 70.7h0M365.4 45.4h0M362.1 33.5h0M353.1 97.7h0M360.8 109.9h0M360.6 65.1h0M322.7 71.2h0M325.4 61.2h0M390.3 50.8h0M381.2 46.6h0M360.7 102h0M353.2 91.7h0M362.6 25.2h0M324.6 73h0M367 93.3h0M363.8 33.2h0M359.4 87.2h0M388 45h0M357.7 102.6h0M369.9 65.1h0M333.8 58.2h0M362.3 27.6h0M386.9 35.3h0M321.7 72.1h0M377.5 27.7h0M366.5 26h0M368.3 62.9h0M375.7 77.5h0M394.8 33.7h0M383.7 97.7h0M380.7 96.4h0M369.9 70.5h0M389.6 42.1h0M350.1 78h0M372.1 39.9h0M357.3 74.8h0M323.6 72.9h0M369.1 103.4h0M379.5 94h0M368.8 90.3h0M374.3 85.5h0M350.2 87.7h0M366 32h0M367.2 60.5h0M353.4 92.6h0M379.2 81.3h0M340.4 32.6h0M395.1 47.5h0M325.5 70h0M372.7 44.3h0M386.6 26.6h0M368 63.3h0M395.5 31h0M368.9 102.8h0M386.4 40.6h0M369.3 42.2h0M367.3 80.8h0M367.9 69.9h0M373.1 58.8h0M369.1 70.4h0M375 98.9h0M321.1 72.5h0M346 40.8h0M382.3 17.9h0M356.8 88.7h0M392.9 45.1h0M375.5 83.9h0M364.7 60.4h0M356.1 81.9h0M319.2 72.6h0M372.8 82h0M371.6 79h0M341.4 42.5h0M363.2 63.3h0M347.5 33.8h0M318.1 67.8h0M366.3 72.2h0M389.9 47.5h0M369.2 41.4h0M370.1 84.7h0M380 70.9h0M319.5 70.3h0M384.3 40.8h0M347.9 87.1h0M406.9 39.9h0M379.8 99.2h0M368.8 96.5h0M326.8 71.5h0M347.6 82.3h0M388.6 78.5h0M366 102.8h0M354.1 94.4h0M364.9 68.6h0M392.1 25.5h0M366.9 40.7h0M344.1 41.7h0M362.9 101.1h0M361.1 97.2h0M336.6 40.3h0M367.5 65h0M371.4 91.1h0M343.8 64h0M348.9 94.1h0M370.9 101.9h0" stroke="#e00a17" stroke-width="1.05" stroke-linecap="round" fill="none"/>
<path d="M365.1 58h0M352.9 77.6h0M349.1 77.9h0M347.4 44h0M364 66.2h0M396.1 36.2h0M331.1 59.4h0M370.7 45.1h0M375.4 44.9h0M388 69.5h0M384.6 87.8h0M352.4 95.4h0M381.1 93.1h0M391.8 88.4h0M373.3 34.1h0M391.7 33h0M376.8 101.3h0M358.5 35.3h0M369.3 29.5h0M378.9 43.5h0M365 106.5h0M389.2 42.8h0M377.3 101.1h0M351.2 85.4h0M389.2 78.6h0M385.4 76.8h0M358.6 106.7h0M359.7 34.8h0M391.5 58.7h0M366.5 82.8h0M391.9 56h0M347.6 64.6h0M372 41.9h0M349 81.2h0M381.6 26.7h0M394.9 32.4h0M387 45.4h0M354.2 85.3h0M386 91.9h0M383.3 81.8h0M379.4 20.5h0M349 37.4h0M361.5 61.9h0M353 50.3h0M390.3 29.8h0M373 24.1h0M377.8 61.3h0M369 61.8h0M397.2 53.5h0M390.5 93.3h0M358.9 33.6h0M392.2 80.5h0M376.1 25.9h0M378.9 81.2h0M343.5 35.9h0M357.9 91h0M354.3 51.3h0M364.9 23.5h0M387.5 85.1h0M366 106h0M350 54.2h0M385.3 28h0M400.5 36.6h0M389.3 39h0M373.7 24.4h0M359.3 90.3h0M381 95.7h0M345.4 81.7h0M379.7 90h0M363.9 77.8h0M361.8 105.2h0M341.5 64.9h0M381.2 66.5h0M343.6 59.9h0M370 27.7h0M352.3 99.1h0M392.9 54.2h0M399.3 35.7h0M387.1 88.4h0M389.1 87h0M371.8 19.4h0M383.4 87.7h0M393.1 92.1h0M387.8 75.5h0M348.2 88.6h0M328 65.2h0M343.8 61.4h0M368.3 22.9h0M349.2 96.6h0M372.3 18.6h0M342 63.3h0M375.7 95.6h0M385.6 80.1h0M385.3 79.5h0M384 94.5h0M342.8 70.8h0M381.9 88h0M393.2 87.4h0M360.5 39.4h0M369.1 106.2h0M393.5 52.7h0M354 64.7h0M379.3 32.2h0M373.5 45.8h0M398.7 41.4h0M368.7 34.7h0M370.8 37.6h0M382.5 95.5h0M349.9 79.8h0M326 56.3h0M380.5 39h0M322.9 72.7h0M379.7 48.6h0M337.9 40.6h0M393.1 88.9h0M385.2 89.6h0M370 54.9h0M354.4 57.5h0M362.7 69.3h0M336.9 36.6h0M365.7 62.4h0M357.9 35.7h0M388.3 73.6h0M349 75.8h0M381.6 42.1h0M386.4 37h0M355.9 82.3h0M397.5 29.9h0M384.3 27.6h0M370.4 39h0M327.1 72.9h0M326.3 54.5h0M386.6 74.9h0M347.4 84.3h0M376.6 55.7h0M366.4 25.4h0M384.2 85.6h0M353.9 98.4h0M375.3 19.4h0M329.8 57.4h0M390.3 86h0M383.8 94.1h0M368.6 25.2h0M342.7 43.9h0M375.4 93.7h0M344.1 35.2h0M388 28.5h0M380.8 25h0M368.6 25.5h0M344.6 44h0M386.7 90.2h0M372.1 23.1h0M362.3 62.2h0M375.1 67.4h0M343.2 34.3h0M365.5 41h0M351.9 97h0M386.9 42.1h0M384.9 82.4h0M345.8 66.8h0M384.9 28.8h0M341.3 37.8h0M379.3 74.3h0M360.1 76.2h0M349.5 92.2h0M389.8 78.2h0M390.7 34.2h0M387 95.7h0M388.8 24.5h0M347.6 81h0M352.7 101.6h0M345.2 81.7h0M348.5 58.2h0M388.4 94.6h0M373.6 63.3h0M386.9 36.5h0M380.6 69.4h0M342.3 72.9h0M344.1 35.1h0M398.8 45.5h0M388.9 54.1h0M351.8 86.5h0M344.7 38.4h0M396.2 90.7h0M360 76.4h0M391.9 86.4h0M393.4 28.1h0M355.8 76.1h0M383.5 40.1h0M369 104.4h0M387.8 72.4h0M375.5 81.4h0M398.4 48.2h0M354.4 100.3h0M364.7 75.1h0M374.1 74.6h0M375.4 24.2h0M382.9 96.2h0M371.7 94.3h0M357.2 75.4h0M382.2 37.6h0M391.7 41h0M364.6 28.6h0M335 36.7h0M382.5 86.9h0M395.6 87.4h0M371.8 77.2h0M378.3 75.7h0M393.8 56.4h0M350.7 55.5h0M387.5 77.5h0M401.7 34.7h0M365.8 66.8h0M369 79.6h0M380.2 47h0M392.9 84.2h0M343.3 78.5h0M353.4 80.7h0M364.2 85.1h0M345.4 33.1h0M398.6 40.4h0M377.5 72.6h0M380.8 50.3h0M347 42.2h0M346.9 64h0M389.5 89.4h0M353.2 73.8h0M347.2 86.8h0M376.2 67.2h0M361 78.6h0M347.1 35.1h0M359.6 97.2h0M325 64.2h0M344.2 63.9h0M341.5 34.8h0M383.5 96.7h0M382.3 77.6h0M384.9 53h0M380.6 37.2h0M367.3 21.1h0M388.1 50.6h0M347.3 78.5h0M347.4 34h0M388.1 34.8h0M383.8 98.5h0M374.6 33.6h0M380.2 16.5h0M369.1 71.7h0M383.2 70.9h0M364.1 28.8h0M351.5 60.1h0M380.1 36.4h0M388.1 79.5h0M391.5 81.2h0M366.6 106.8h0M359.3 86.8h0M340 76.5h0M345.7 76.4h0M390.5 52.2h0M356.1 99.8h0M354.4 94.3h0M389.9 87.2h0M382.5 76.9h0M386.5 35.4h0M384.3 69.8h0M363.7 43.4h0M351.2 33.4h0M343.7 75.6h0M389.7 93.1h0M355.9 104.2h0M347.5 44.1h0M371.5 37.1h0M387.6 25.2h0M366 106.3h0M386.5 52.8h0M381.2 100.9h0M360 67.2h0M342.8 32.7h0M346.2 60.5h0M386.6 56h0M381.9 92.7h0M351.7 97.4h0M383.9 93.9h0M383.2 41.6h0M345.9 60.3h0M365.3 61.8h0M390.3 33.7h0M366.5 74.7h0M362.9 78.4h0M379.9 90.3h0M375.9 38.5h0M374 48.8h0M363 82.9h0M378 85.2h0M378.3 90.5h0M379.6 45.1h0M352.7 72.4h0M370.1 100.8h0M378.8 22.8h0M355.1 91.3h0M393 77.4h0M388.8 85.5h0M326.4 59.4h0M383.8 35.2h0M381 71.8h0M352.1 73.4h0M394.5 89.8h0M393 83.5h0M399.3 33.6h0M350.4 54.6h0M394.7 37.9h0M396.5 54.5h0M367 69.6h0M383.8 70.5h0M380.3 22.9h0M353.5 75.3h0M350.2 74.4h0M368.2 103.8h0M359.3 103.4h0M320.2 66.9h0M377.7 92.2h0M358.4 88.9h0M388.9 83h0M342.9 33.2h0M376.7 24.2h0M362.7 87.1h0M385.1 39.6h0M349.8 38h0M372.6 42.8h0M378.7 74.3h0M397.8 44.5h0M381.5 80.5h0M384.6 81.6h0M397.5 39.6h0M344.8 44.7h0M396.2 44.3h0M358.7 85h0M364.6 96.8h0M352 56.2h0M383.3 70.8h0M391.3 29h0M367.2 76.2h0M380.5 29.8h0M347.1 83.7h0M380.3 20h0M396.8 37.4h0M387.5 23.1h0M379 41.5h0M395.7 42.1h0M384.7 32.8h0M349.7 75.4h0M369.4 66.3h0M378.7 27.4h0M330.2 59.9h0M390 78.5h0M384.5 92.5h0M368.3 20.6h0M362.3 32.5h0M374.5 27.7h0M337.9 32.2h0M384.1 40.5h0M388.9 51.8h0M382.2 44.4h0M359.9 74.2h0M368 59.7h0M387.1 89.6h0M343.6 36.3h0M377.9 80.7h0M355.8 84.7h0M388.4 94.7h0M371.5 99.4h0M344 41.6h0M369.1 31.2h0M344.7 39h0M383 33.8h0M361.6 31h0M356.5 54h0M353.8 100.5h0M323.1 73.8h0M365.5 70h0M388.7 55.9h0M392.8 84h0M356.5 80.3h0M386.2 79.2h0M392.1 81.6h0M349.8 53h0M372.6 23h0M374.5 65.8h0M354.3 84.6h0M394.6 95.2h0M381.6 31.1h0M393.6 44.5h0M341.3 33.3h0M333.2 62.4h0M376.3 30.1h0M387.5 88h0M380.3 31.2h0M392 28.1h0M357.6 94h0M373.4 95h0M384.8 72.6h0M370.5 37.5h0M365.5 42.6h0M366.6 32.6h0M379.3 73h0" stroke="#34529a" stroke-width="1.05" stroke-linecap="round" fill="none"/>
<path d="M364.1 78.5h0M396.4 34.1h0M382.6 51h0M364.9 63.9h0M342.7 65.9h0M363.4 66.4h0M336.7 33.2h0M365.6 77.8h0M387 36.5h0M366.1 92.2h0M364.5 82.9h0M371 76.6h0M338.2 38.2h0M366.1 86.8h0M373.1 67.7h0M320 70.3h0M360.1 94.5h0M389.8 40.5h0M364.2 72.6h0M363.3 87.2h0M338.8 42h0M387 20.1h0M358.8 90h0M390.9 32h0M396.5 43h0M386.7 48.6h0M345.1 59.3h0M320.4 73.5h0M327.7 55.3h0M354.1 95.6h0M382.1 99.3h0M372.7 97.3h0M362 90.5h0M324.5 73.4h0M340.4 42h0M385.3 30.1h0M375.8 25h0M382.2 37.7h0M398.3 33.9h0M387.1 49.6h0M380.8 36.7h0M364.3 85.7h0M367.5 98.8h0M370.1 62.6h0M372.1 64.8h0M366.2 87.2h0M319.9 70.5h0M324.6 65h0M388.8 46h0M343 38.8h0M353.4 81.3h0M387.6 52.1h0M364.9 101.3h0M372.3 84.8h0M397.6 90.3h0M356.5 98.3h0M343.9 36h0M363.2 63.3h0M344.2 62.1h0M363.7 73.2h0M327.6 67.1h0M390.7 75.5h0M361.5 102.2h0M351.3 96h0M355 76.5h0M363.8 90.5h0M377.4 77.2h0M337 35.3h0M337 41h0M374.4 61.4h0M372 88.8h0M379.8 100.4h0M323.4 62.7h0M356.6 99.8h0M392.5 42.8h0M369.5 97h0M367 68.8h0M371.2 78.8h0M389.5 38.3h0M321.1 75.2h0M355.1 96.8h0M353.8 95.1h0M362.3 80.7h0M320.8 72.4h0M366 37.7h0M347.7 61.1h0M378.4 69.2h0M345.9 40.8h0M397.3 48.8h0M362.7 68.1h0M347 43.3h0M364.7 64.1h0M373.8 93.9h0M340 35.9h0M358.5 98.4h0M367.5 32.9h0M344.5 66.8h0M376.6 23.5h0M328.5 61.3h0M341 38.1h0M325.9 73.5h0M362.6 104h0M358.4 94.9h0M327.1 62.7h0M373.6 47.5h0M370.4 26.3h0M379.3 41.2h0M350.8 60.2h0M328.9 63.5h0M318.2 68.8h0M359.2 74h0M370.5 82.1h0M325.2 70.3h0M363.7 29.2h0M348.1 60.4h0M327.2 62h0M381.4 23.9h0M393.4 50.8h0M393.7 52.4h0M346 44.3h0M346.1 58.7h0M384 24.2h0M369.4 69h0M323.8 62.9h0M324.7 64.7h0M389.4 49.6h0M350.6 93.8h0M374.5 97.4h0M367 64.3h0M396.4 44.1h0M359.1 102.8h0M368.5 81.4h0M371.1 104.5h0M370.2 26.6h0M373.2 74h0M316.3 72.1h0M390 56.9h0M324.7 71h0M324.9 71.9h0M375.6 82.7h0M361.7 97.9h0M319.4 71.4h0M375.2 86.3h0M370.8 28.6h0M329 65.9h0M357.9 103h0M376.1 48.4h0M363.3 83h0M393.8 77.5h0M320 73.1h0M326.4 72h0M387.9 47.1h0M366.1 82.3h0M367 80.4h0M374.3 68.3h0M322 70.8h0M382.1 51.5h0M384.9 46.9h0M360 106.4h0M368.6 33.2h0M325.4 70.5h0M359.9 70.3h0M368.3 84.6h0M368 66.2h0M366.5 101h0M396.1 39.1h0M320.4 74.2h0M342 74h0M366.5 28.2h0M380.3 67.2h0M370 66.9h0M382.2 22.6h0M390.1 47.8h0M370.2 95.1h0M371.6 46h0M381.5 97.5h0M367 100.5h0M345 55.6h0M341.5 39.4h0M385.5 37h0M380.3 75.9h0M370.2 57.6h0M320.4 70.2h0M321.9 68.2h0M369 45.9h0M368.7 94.6h0M373.1 87.7h0M365.3 61h0M357.9 97.3h0M338.9 40.6h0M369 100.6h0M384.6 52.2h0M362.5 104.4h0M372.7 72.1h0M352.6 83.9h0M371.9 79.4h0M377.6 45h0M379.9 76h0M357.2 97.2h0M341.1 76.3h0M375.5 43.9h0M372.2 99h0M358.9 86.8h0M325.9 64.8h0M379 77.1h0M342.4 36.7h0M338.5 35.5h0M323.6 70.1h0M379.7 82.5h0M362.8 59.1h0M376.3 81.7h0M372.9 98h0M363.7 102.7h0M382.5 84.8h0M378.2 19.2h0M345.8 63.5h0M364.9 102.5h0M364.4 86.6h0M395.3 41.5h0M362.6 89h0M326.7 60h0M358.3 90h0" stroke="#e00a17" stroke-width="1.05" stroke-linecap="round" fill="none"/>
<path d="M393.4 89.6h0M363.5 32.4h0M357.2 81.5h0M385.9 32.4h0M384.4 44.2h0M361.6 90.9h0M396.4 80.9h0M388 97.7h0M377.3 72.6h0M374.2 23.6h0M388.3 89.3h0M347.9 77.1h0M379.3 39.8h0M383.5 30.9h0M349.9 88.1h0M387.9 86.7h0M373.4 19.9h0M344.9 64h0M384.5 90.3h0M382.4 43.4h0M367.2 23.6h0M373.9 102.4h0M352.8 73.9h0M378.2 52.4h0M395.4 42.6h0M383.4 87.3h0M385 26h0M346.9 81.9h0M349 68.7h0M389.2 34.5h0M384.4 72.1h0M358.7 78h0M333.3 64.5h0M364.6 41.2h0M382.2 45.1h0M376.4 34.7h0M388.3 92.6h0M378.3 75h0M355 78.7h0M377.3 77.3h0M351.2 82.4h0M349 55.9h0M374.8 40h0M348.8 96.5h0M341.8 60.8h0M384 75.9h0M388.7 91.3h0M393.4 85.3h0M362 66.5h0M348.3 78.8h0M341.3 37.9h0M339.3 34.2h0M342.5 73h0M379.5 96.8h0M372.5 101.9h0M396.1 32.3h0M366.2 75.3h0M393.1 28.8h0M375 30.2h0M345.3 76.7h0M383.7 92.5h0M328.3 61.9h0M390 87.7h0M352.8 90.3h0M346.5 83.8h0M367.4 56.8h0M357 73.9h0M386.5 91.9h0M382.3 27.2h0M379.8 25.8h0M351.3 81.7h0M340.8 36.3h0M349.7 41.2h0M347.8 34.7h0M365.7 55.7h0M376.9 98.3h0M374.1 73.1h0M358 74.5h0M389.2 76.8h0M345.7 35.2h0M349.3 38.6h0M371.8 100.2h0M380.7 30.5h0M350.1 86.1h0M356.3 86.2h0M382.7 74.6h0M383.2 91.1h0M361.2 58.9h0M383.6 91.6h0M367.2 83.5h0M356.3 81h0M342.1 63.6h0M356 106.2h0M387.5 50.4h0M366.1 23.6h0M366.8 38.6h0M360.1 80.8h0M341.8 64.7h0M390.4 81.1h0M378.9 95.1h0M380.5 73.5h0M386.1 87.9h0M361 92h0M367.2 83.7h0M384.1 39.4h0M395.9 31.7h0M373.8 38.9h0M382 32.7h0M370.7 44.1h0M384.7 50.8h0M385.9 34.5h0M395.4 45.4h0M391.3 84h0M369.6 95.5h0M325.5 57.7h0M388.2 39.9h0M392.7 55.1h0M382.6 96.8h0M352.7 89.1h0M352.8 73.2h0M380.4 25.8h0M350.6 34h0M389.2 32.7h0M383.9 79.7h0M368.1 26.7h0M351 54.5h0M389.2 91.9h0M365.6 22.9h0M365.8 89.2h0M342.3 60.5h0M389.4 79.1h0M384.4 94.8h0M358 79.2h0M383.3 38.6h0M344.1 40.8h0M370.8 97.9h0M386.8 99.1h0M346.4 38h0M385.3 54.2h0M364.2 104.2h0M373 74.9h0M366.7 33.5h0M383.5 45.2h0M388.3 89.4h0M362.1 29.6h0M346.6 84.1h0M384.6 33.5h0M399.6 34.4h0M387.4 76.1h0M368.9 32.4h0M361.3 62.5h0M348.7 90.7h0M358 86.7h0M354 100.1h0M351.7 87.6h0M388.4 88.4h0M370.1 43.8h0M366.4 18.2h0M362.1 81.1h0M347.6 85.1h0M352.7 102.8h0M381.1 94.1h0M331.8 64.1h0M373.1 24.8h0M388.6 30h0M362.3 37.7h0M394.9 40.6h0M356.3 78.9h0M368.1 85.9h0M381.4 31.4h0M383.2 98h0M389.3 31.8h0M378.1 88.2h0M380.4 89.8h0M359.9 36.8h0M374 32.3h0M387.5 22.9h0M343.8 39.2h0M399.3 42.2h0M362.7 81.2h0M352.1 82.5h0M375.4 27.2h0M383.6 81.5h0M386 83h0M374.7 103.5h0M375.2 101.6h0M374.6 27.8h0M379.1 51.7h0M387.2 97.2h0M388 84.9h0M394.8 83.7h0M351.6 99.5h0M371.2 21.8h0M348.2 66.9h0M380 36.6h0M397.2 31.8h0M342.6 78.3h0M377 74.1h0M371.9 99.3h0M378.5 73.2h0M365.2 74.2h0M362.2 103.7h0M380.1 81.2h0M368.3 36.5h0M378.6 76.5h0M392.6 84h0M348.6 98.8h0M384.7 76.1h0M367.5 38.5h0M344.7 40.9h0M351.7 92.4h0M392.3 83.1h0M355 78.7h0M361.1 104.5h0M379.3 25.3h0M379 16.1h0M331.6 57.2h0M369.5 80.6h0M372.6 21h0M394.4 38.1h0M386.7 56.9h0M368.2 66.2h0M379.5 91.2h0M395 88.4h0M341.6 33.4h0M377.8 26.9h0M357.1 73.6h0M369.3 42.7h0M357.4 75.9h0M390.6 54h0M381.1 43.3h0M351.7 76.2h0M356.2 85.5h0M374.9 100.8h0M390.6 93.2h0M381.2 92.7h0M401.6 36.8h0M357.8 34.8h0M353.2 61.2h0M381.5 77.7h0M371.4 21.3h0M361.1 84.6h0M383.3 70.9h0M349.8 37.2h0M376 32.7h0M376.7 81.5h0M344.1 38.5h0M386.8 91.7h0M373.7 39.5h0M374.9 51.8h0M363.7 41.1h0M383.2 80.5h0M393.5 43.4h0M343.9 75h0M384.6 79.7h0M357.9 94.5h0M384 92.4h0M377.7 22h0M377.3 99.4h0M394.6 53.7h0M353.8 53.6h0M388.8 79.8h0M359 80.9h0M387.7 71.9h0M390.8 90.3h0M349.1 42h0M370 20h0M356 98.8h0M377.8 43h0M354.9 60.4h0M394.1 39.3h0M383.5 19.4h0M394.3 55.5h0M377 53.6h0M366.5 42.8h0M379.1 72.6h0M361.6 70.8h0M383.8 94.9h0M351.8 58.1h0M355 54.2h0M381.1 84.8h0M382.5 53.4h0M325.8 58.4h0M365.7 22.7h0M351.5 40h0M382.3 32.2h0M346 40.5h0M362.4 78.4h0M397.7 38.7h0M387.1 97.6h0M368.6 91.7h0M380.6 45.5h0M329.3 58.2h0M376 93.9h0M393.4 92.7h0M400.7 46h0M352.2 92.1h0M390.4 54h0M384.4 41.1h0M400.3 43.2h0M361.1 38.5h0M384.6 33.3h0M383.4 44.7h0M379.4 28.9h0M380.1 100.5h0M343.8 77.2h0M359.6 29.4h0M389.5 81.6h0M379.4 69.1h0M374.5 76.2h0M352.7 73.4h0M376.9 40.5h0M377.9 47.2h0M381.7 97.1h0M342.5 62h0M374.5 43.3h0M391.6 29.3h0M341.5 75.4h0M352.4 88.1h0M373 21.9h0M361.4 34.7h0M379.5 34.9h0M366.6 89.6h0M392.6 79.4h0M358.2 56.3h0M344.3 74.8h0M384.2 44.5h0M368.8 46.2h0M385.6 73.6h0M377.8 36.4h0M395.5 95.2h0M366.1 105h0M377 68.9h0M400.5 35.9h0M320.4 74h0M344.2 61.1h0M390.6 96h0M378.5 97.8h0M387.4 81.2h0M351.4 79.9h0M373.7 103.4h0M372.3 85.7h0M368.1 58.1h0M328.6 55.8h0M366.4 32.1h0M381 28.2h0M389.8 85.2h0M317.3 68.8h0M377.6 42.4h0M370.8 103.8h0M365.1 94.6h0M378.9 95.5h0M392.5 87.1h0M367.5 22.2h0M377.7 68h0M350.1 89.2h0M371.4 37.3h0M393.1 44h0M390.6 86.2h0M359.8 102.3h0M367.8 62.4h0M394.7 39.4h0M343.9 77.2h0M373.7 62.4h0M377.2 66.2h0M388.2 77.9h0M374.2 36.8h0M347.1 43.6h0M376 97.1h0M360.8 94.9h0M384.2 56.7h0M347.9 69h0M363.9 77h0M377.2 48.1h0M379 27.1h0M372.4 73.2h0M347.7 78.4h0M363.4 109h0M381.7 23.3h0" stroke="#34529a" stroke-width="1.05" stroke-linecap="round" fill="none"/>
<path d="M370.6 78.1h0M355.5 52.4h0M376.7 64.4h0M326.9 62.1h0M364.9 94.5h0M363.1 100h0M374.2 75.7h0M344.8 57.1h0M319.9 73.1h0M351.2 101.6h0M363 95.5h0M328.1 67.2h0M364.1 64.2h0M377.4 90.5h0M391 94.4h0M375.1 61.2h0M332.6 62.8h0M367.4 99.3h0M354.1 99.2h0M351.4 88.3h0M355.8 103.4h0M379.3 41.8h0M341.4 32.7h0M392.5 57.6h0M387.2 55.6h0M368 92.7h0M374.4 56.9h0M343.4 83.3h0M373.4 40h0M329.6 66.4h0M390 30h0M391.9 46.3h0M368.6 58.1h0M377.1 83.6h0M374 43.6h0M382.1 17.1h0M371.9 69.9h0M366.9 107.1h0M324.6 69.5h0M331.9 61h0M370.5 65.7h0M355.8 100.2h0M328.1 61.8h0M365.5 107.4h0M374.2 18.7h0M368.9 87.8h0M372.4 97.7h0M393.4 47.4h0M391.2 30.3h0M328.2 56.7h0M355.8 51.2h0M399.5 34.6h0M395 36.1h0M368.2 92.3h0M381 46.7h0M347.7 38.5h0M365 84.6h0M377.7 27.5h0M319.2 70.9h0M352.2 99.3h0M376 96.5h0M363.4 59.8h0M370.6 102.6h0M317.5 70.3h0M387.5 34.7h0M363.5 59.6h0M361.2 60.8h0M364.3 95h0M366.9 76.5h0M342.6 34.8h0M368.8 36h0M394.9 47.1h0M321.8 74.2h0M359.5 105.1h0M372.8 27.3h0M326.1 53h0M367.3 79.1h0M407.4 39.7h0M381.6 28.6h0M377.1 45.2h0M375.7 35.9h0M361.1 95.2h0M376.3 88.7h0M351.5 92.8h0M366.6 90.2h0M352.3 88h0M356.5 106.1h0M368.7 69.7h0M363.5 72.3h0M394.4 89.3h0M350.5 65.9h0M325.2 64.3h0M374.6 31.5h0M370.9 88.1h0M318.2 68.5h0M361.7 97h0M363.4 66.3h0M354.4 100h0M359.5 85.5h0M373.4 61.8h0M362.2 62.2h0M368.9 87.8h0M348.6 61.2h0M389.1 43.7h0M382.2 21.8h0M343.6 61.8h0M379.4 80.6h0M368.7 87h0M357.3 93.5h0M374.8 60.9h0M370.7 75.4h0M349.7 61.1h0M359.6 32.9h0M386 47.9h0M398 46.3h0M344.1 43.5h0M380 72.1h0M338.8 34.9h0M397.2 35.6h0M364.7 80.7h0M354.5 94.6h0M373.5 75.8h0M366.7 57h0M364.8 90.4h0M389.7 76.1h0M361.7 85h0M374.7 71.1h0M326.6 54.3h0M330.1 66.5h0M316.6 69.3h0M353.2 94.9h0M354.3 57.7h0M382.4 32.8h0M397 40.2h0M379.3 12.3h0M367 102.8h0M365.8 33.6h0M385.5 43.2h0M345.8 79.9h0M368.9 89h0M354 64.1h0M365.2 88.6h0M371.8 98.5h0M321.3 69.8h0M379.7 38.9h0M320.2 71.3h0M381.8 27.8h0M361.4 60.1h0M338 35.4h0M365 42.1h0M367.1 101.8h0M361.5 63.3h0M326.5 55.1h0M368.6 77.6h0M370.3 79.8h0M388.4 45.6h0M320 69.8h0M386.5 22.7h0M391.4 45.9h0M368.8 35.1h0M331.8 57.3h0M393.4 81.9h0M348.2 84.6h0M386 53.5h0M338.3 39.5h0M384.5 43.4h0M376.9 88.8h0M375.2 90.8h0M376.8 89.9h0M362.3 83.8h0M342.2 36.1h0M359.5 75.3h0M377.2 69.5h0M335.7 39.6h0M332.8 58.7h0M365.6 79.5h0M319.5 75.6h0M343.1 76h0M361.2 106.1h0M368 83.9h0M319.2 68.3h0M375.4 30.3h0M331.7 58.5h0M349.5 62.3h0M389.9 37h0M322.7 74.2h0M339.7 40h0M369.4 61.1h0M377.6 76.7h0M324.8 64.5h0M345.7 37.4h0M387.5 86.5h0M366.7 96.7h0M355.1 98.1h0M323 75h0M392.1 48.7h0M355 53h0M351.4 81.1h0M390.6 55.7h0M339.3 39.1h0M325.2 59h0M376.9 98.1h0M353.2 98.6h0M371.6 95.5h0M319.6 75.5h0M388.9 44h0M366.4 98.2h0M369.8 83.2h0M374.1 87.8h0M364 70.4h0M373.4 100.4h0M364.6 65.9h0M353.7 59.9h0M325.3 64.6h0M340.5 35.1h0M329.6 63.8h0M319.7 68.9h0M366.3 95.6h0M394.7 36.2h0M390.1 53h0M371.5 74.9h0M379.7 70.5h0M381.4 17.3h0M366.3 29.7h0M315.7 69.8h0M369 35.5h0M382.3 48.2h0M378.7 76.5h0M378.3 46.2h0M389.8 45.5h0M364.8 66.3h0M348.7 65.5h0M361.8 65.6h0M391.6 50.5h0M406.9 39.5h0M373.9 83.5h0M365.7 77.5h0M380.4 26.6h0M367.8 96.1h0M322.7 58.4h0M364.5 105.6h0M325.4 70.5h0M367.8 69.9h0M397.1 36.1h0M382.1 33.6h0M358.6 77h0M326.4 62.9h0M374.2 72h0" stroke="#e00a17" stroke-width="1.05" stroke-linecap="round" fill="none"/>
<rect x="305.8" y="7.3" width="115.6" height="107.6" fill="none" stroke="#4a4545" stroke-width="0.9"/>
<text x="330.4" y="130.8" font-size="9.4" text-anchor="middle" fill="#231f20">-20</text>
<text x="301.2" y="98.4" font-size="9.7" text-anchor="end" fill="#231f20" textLength="16" lengthAdjust="spacingAndGlyphs">-20</text>
<text x="362.4" y="130.8" font-size="9.4" text-anchor="middle" fill="#231f20">0</text>
<text x="301.2" y="64.4" font-size="9.7" text-anchor="end" fill="#231f20" textLength="6.8" lengthAdjust="spacingAndGlyphs">0</text>
<text x="394.4" y="130.8" font-size="9.4" text-anchor="middle" fill="#231f20">20</text>
<text x="301.2" y="30.4" font-size="9.7" text-anchor="end" fill="#231f20" textLength="12.8" lengthAdjust="spacingAndGlyphs">20</text>
<path d="M330.4 114.9v3M305.8 95h-2.8M362.4 114.9v3M305.8 61h-2.8M394.4 114.9v3M305.8 27h-2.8" stroke="#4a4545" stroke-width="0.8" fill="none"/>
<text x="359.4" y="144.6" font-size="9.2" text-anchor="middle" fill="#231f20">tSNE_1</text>
<text x="281.6" y="61.6" font-size="8.8" text-anchor="middle" fill="#231f20" transform="rotate(-90 281.6 61.6)">tSNE_2</text>
<circle cx="432.2" cy="11.4" r="4" fill="#34529a"/>
<circle cx="432.2" cy="79.4" r="4" fill="#e00a17"/>
<text x="429.2" y="19.4" font-size="8.8" fill="#231f20" transform="rotate(90 429.2 19.4)">Peri-Tumor</text>
<text x="429.2" y="86" font-size="8.8" fill="#231f20" transform="rotate(90 429.2 86)">Tumor</text>
<text x="490.4" y="10.6" font-size="14.5" fill="#111" font-weight="bold" class="n">c</text>
<rect x="529.2" y="12.80" width="16.5" height="11.74" fill="#b5382b"/>
<rect x="529.2" y="24.39" width="16.5" height="18.33" fill="#1468a7"/>
<rect x="529.2" y="42.57" width="16.5" height="40.02" fill="#db842c"/>
<rect x="529.2" y="82.44" width="16.5" height="5.15" fill="#1f7f4f"/>
<rect x="529.2" y="87.44" width="16.5" height="0.90" fill="#7a6fb4"/>
<rect x="529.2" y="88.19" width="16.5" height="5.74" fill="#6b93ad"/>
<rect x="529.2" y="93.78" width="16.5" height="2.57" fill="#fad98b"/>
<rect x="549.9" y="12.80" width="16.5" height="3.15" fill="#b5382b"/>
<rect x="549.9" y="15.80" width="16.5" height="17.75" fill="#1468a7"/>
<rect x="549.9" y="33.40" width="16.5" height="19.75" fill="#db842c"/>
<rect x="549.9" y="53.00" width="16.5" height="18.33" fill="#1f7f4f"/>
<rect x="549.9" y="71.18" width="16.5" height="2.99" fill="#7a6fb4"/>
<rect x="549.9" y="74.02" width="16.5" height="6.91" fill="#6b93ad"/>
<rect x="549.9" y="80.77" width="16.5" height="15.58" fill="#fad98b"/>
<rect x="570.6" y="12.80" width="16.5" height="5.32" fill="#b5382b"/>
<rect x="570.6" y="17.97" width="16.5" height="3.40" fill="#1468a7"/>
<rect x="570.6" y="21.22" width="16.5" height="57.95" fill="#1f7f4f"/>
<rect x="570.6" y="79.02" width="16.5" height="5.32" fill="#6b93ad"/>
<rect x="570.6" y="84.19" width="16.5" height="12.16" fill="#fad98b"/>
<rect x="591.2" y="12.80" width="16.5" height="2.15" fill="#b5382b"/>
<rect x="591.2" y="14.80" width="16.5" height="42.18" fill="#1468a7"/>
<rect x="591.2" y="56.84" width="16.5" height="13.74" fill="#db842c"/>
<rect x="591.2" y="70.43" width="16.5" height="9.74" fill="#1f7f4f"/>
<rect x="591.2" y="80.02" width="16.5" height="1.32" fill="#7a6fb4"/>
<rect x="591.2" y="81.19" width="16.5" height="10.32" fill="#6b93ad"/>
<rect x="591.2" y="91.36" width="16.5" height="4.99" fill="#fad98b"/>
<rect x="611.9" y="12.80" width="16.5" height="6.32" fill="#b5382b"/>
<rect x="611.9" y="18.97" width="16.5" height="31.17" fill="#1468a7"/>
<rect x="611.9" y="50.00" width="16.5" height="21.75" fill="#db842c"/>
<rect x="611.9" y="71.60" width="16.5" height="9.57" fill="#1f7f4f"/>
<rect x="611.9" y="81.02" width="16.5" height="2.74" fill="#7a6fb4"/>
<rect x="611.9" y="83.61" width="16.5" height="6.91" fill="#6b93ad"/>
<rect x="611.9" y="90.36" width="16.5" height="5.99" fill="#fad98b"/>
<path d="M524.4 96.2H632" stroke="#2b2626" stroke-width="1.1"/>
<path d="M537.5 96.2v3M558.1 96.2v3M578.9 96.2v3M599.5 96.2v3M620.1 96.2v3" stroke="#8a8585" stroke-width="0.7"/>
<text x="521" y="16" font-size="9.2" text-anchor="end" fill="#231f20">1.0</text>
<text x="521" y="57.7" font-size="9.2" text-anchor="end" fill="#231f20">0.5</text>
<text x="521" y="99.4" font-size="9.2" text-anchor="end" fill="#231f20">0.0</text>
<text x="501.4" y="56.6" font-size="8.9" text-anchor="middle" fill="#231f20" transform="rotate(-90 501.4 56.6)">Propotion</text>
<text x="541.7" y="108.3" font-size="9.2" text-anchor="end" fill="#231f20" transform="rotate(-45 541.7 108.3)">CD8_c1_FGFBP2</text>
<text x="562.4" y="108.3" font-size="9.2" text-anchor="end" fill="#231f20" transform="rotate(-45 562.4 108.3)">CD8_c2_SLC4A10</text>
<text x="583.1" y="108.3" font-size="9.2" text-anchor="end" fill="#231f20" transform="rotate(-45 583.1 108.3)">CD8_c3_CTLA4</text>
<text x="603.7" y="108.3" font-size="9.2" text-anchor="end" fill="#231f20" transform="rotate(-45 603.7 108.3)">CD8_c4_XCL1</text>
<text x="624.4" y="108.3" font-size="9.2" text-anchor="end" fill="#231f20" transform="rotate(-45 624.4 108.3)">CD8_c5_CCR7</text>
<text x="639" y="19.4" font-size="8.2" fill="#231f20">Patient</text>
<rect x="639" y="24.4" width="7" height="6.2" fill="#b5382b"/>
<text x="648.6" y="30.5" font-size="8.2" fill="#231f20">P01</text>
<rect x="639" y="33" width="7" height="6.2" fill="#1468a7"/>
<text x="648.6" y="39.1" font-size="8.2" fill="#231f20">P02</text>
<rect x="639" y="41.6" width="7" height="6.2" fill="#db842c"/>
<text x="648.6" y="47.7" font-size="8.2" fill="#231f20">P03</text>
<rect x="639" y="50.2" width="7" height="6.2" fill="#1f7f4f"/>
<text x="648.6" y="56.3" font-size="8.2" fill="#231f20">P04</text>
<rect x="639" y="58.8" width="7" height="6.2" fill="#7a6fb4"/>
<text x="648.6" y="64.9" font-size="8.2" fill="#231f20">P05</text>
<rect x="639" y="67.4" width="7" height="6.2" fill="#6b93ad"/>
<text x="648.6" y="73.5" font-size="8.2" fill="#231f20">P06</text>
<rect x="639" y="76" width="7" height="6.2" fill="#fad98b"/>
<text x="648.6" y="82.1" font-size="8.2" fill="#231f20">P07</text>
<text x="-0.6" y="192" font-size="14.5" fill="#231f20">d</text>
<path d="M80.1 206.7L81.9 209.2L85.6 213.1L89.4 215.9L93.7 217.9L96 222.4L95.3 228.6L92.9 233.8L89.9 237.1L86.1 235.9L82.4 234.1L77 232.2L72.4 229.5L68 226.4L65.1 223L63.7 219.7L65.1 215.7L68.8 212.3L73.3 209.6L77.4 209L78.6 207.2ZM65.9 234.5L71.8 233.5L77 235.6L79.4 239.4L82.1 241.4L87 243.5L91 247.5L93.2 252.8L91.8 257.5L88 260.6L83.1 262.3L78.1 264.3L73.3 266.3L68.1 268.6L63 267.3L59.4 263.6L56.9 259.5L55.3 254.2L53.4 250.1L50.9 245.9L51.9 244.2L55.4 245.5L59.7 244.2L63.8 241.9L64.9 238ZM46.1 222.8L47.8 220.1L52.8 218.6L58 219.8L60.9 222.1L60.5 225L57.3 227.8L51.9 228L47.8 226.1ZM37.9 236.4L39.7 233.5L42.7 231.5L45 233.1L47.7 235.5L48.1 239.2L45.8 241.8L42.4 242.5L39.2 240.7ZM33.4 242.7L35.5 240.9L40.3 241.2L43.6 243.1L43.9 245.8L41.1 247.3L36 247L33.5 245.2ZM50.2 239.4L52.5 236.6L56.7 233.7L60.3 230.3L62.6 229.8L64.2 232.9L62.6 236.6L60.6 240.5L57.1 242.8L52.9 241.8Z" fill="#fde18f" fill-opacity="1.0" stroke="#fde18f" stroke-opacity="0.50" stroke-width="1" stroke-linejoin="round"/>
<path d="M49.2 239.8L51.4 236.6L56.5 233.2L60.7 229.3L63.2 228.9L65.2 232.3L63.7 236.6L61.2 241.4L57 243.8L52.2 242.6ZM45 222.7L46.8 219.6L52.6 217.6L58.8 219.2L62 221.9L61.5 225.3L57.9 228.7L51.5 229L46.8 226.6ZM36.8 236.2L38.9 232.7L42.6 230.5L45.5 232.1L48.8 235.2L49.2 239.6L46.4 242.7L42.2 243.6L38.4 241.5ZM32.3 242.3L34.8 240.1L40.8 240.5L44.7 242.9L44.9 246.1L41.8 248.1L35.3 247.8L32.4 245.4Z" fill="#fde18f" fill-opacity="1.0" stroke="#fde18f" stroke-opacity="0.50" stroke-width="1" stroke-linejoin="round"/>
<ellipse cx="63.7" cy="235.8" rx="3.6" ry="4.7" fill="#fde18f"/>
<ellipse cx="58.8" cy="234.8" rx="5.6" ry="4.4" fill="#fde18f" transform="rotate(-35 58.8 234.8)"/>
<path d="M53.4 237.2h0M51.3 237.5h0M48.5 235.3h0M46.3 237.7h0M54.7 236.4h0M51.3 237.7h0M53 235.3h0M54.1 235.4h0M52.1 238.2h0M47.6 238.5h0M54.7 235.9h0M48.4 236.2h0M51.5 236.8h0M51.1 238.1h0M54.1 245.8h0M52.4 249.5h0M55.7 241.1h0M52.1 248.2h0M53.4 246.3h0M55.9 242.1h0M51.6 244.5h0M57.2 247.7h0M52 251h0M55.1 241.1h0M61.3 232.2h0M61.3 233.6h0M61.4 229.5h0M57.4 231.1h0M61.1 231.3h0M61.1 233.8h0M61.3 231.4h0M57.7 232.8h0M62.4 232.3h0M56.7 231.7h0M75.9 232.7h0M77.2 235.2h0M70 236.4h0M75.3 233.9h0M72.5 233.1h0M75.3 234.7h0M69.5 237.1h0M79.1 233.9h0M75.1 232.8h0M67.2 231.7h0M73.6 231.1h0M76.6 235.7h0" stroke="#fde18f" stroke-width="2.4" stroke-linecap="round" fill="none"/>
<path d="M87 225.3h0M85.6 228.2h0M92.3 219.2h0M86.4 226.8h0M79.1 224.6h0M75.5 222.6h0M84 233.4h0M68.3 214.2h0M84.1 224.8h0M74.2 218.9h0M72.1 217.8h0M89.5 233.3h0M89.9 226h0M67.9 226.5h0M69.3 225.2h0M76.9 212.1h0M80.5 221.7h0M76.9 213.5h0M71.7 221.3h0M82.5 217.4h0M76.1 219.1h0M79.9 213.9h0M75.4 221.7h0M71.4 217.8h0M73.4 216.6h0M72.6 222.3h0M86.4 218.5h0M79 212h0M69.2 226.5h0M74.6 214.1h0M75 226.2h0M73.2 228.3h0M81.3 211.3h0M81.7 230h0M79.4 222h0M76 221.3h0M69.4 221.9h0M68.1 223.9h0M93.8 223.2h0M83 233.8h0M78 220.5h0M80.8 230.4h0M82.4 230.9h0M80.7 215.5h0M85.1 219.6h0M86.4 220.9h0M85.5 220.5h0M90.9 227.7h0M92.4 220h0M82.2 211.6h0M74.2 217.4h0M87.7 233h0M91.1 229.9h0M72.5 215.1h0M77.3 215.4h0M73.6 217.6h0M94 224.7h0M93 229.4h0M88.4 227.3h0M65.7 221.5h0M85.8 234.4h0M77.2 225.9h0M70.5 224.1h0M81.4 230.1h0M73.6 222.6h0M74.3 217h0M77.8 210.5h0M84 213.9h0M78.1 219.8h0M85 224.5h0M88.2 222.1h0M78.8 230.1h0M77 223.9h0M91.8 232h0M82.1 229h0M87.2 232.6h0M78.7 226.2h0M89 234.2h0M90.3 232.9h0M71.1 224h0M71.4 218.2h0M68.5 216.9h0M77.6 212.7h0M77.1 224.9h0M74 214.4h0M80.7 208.7h0M87 224.8h0M82.1 233h0M81.7 216.2h0M90.1 217.9h0M73.3 224.6h0M75.2 228.5h0M68.3 221.9h0M87.3 223.9h0M92.2 226.7h0M74.8 220h0M90.5 225.1h0M92.9 227.7h0M95.1 224.7h0M74.1 223.9h0M74.3 228.1h0M84.9 232.2h0M81.6 227.6h0M84.1 216.8h0M78.4 230.6h0M71.8 225.6h0M79.9 212.5h0M93.9 220.4h0M86.3 222.9h0M86.1 215.4h0M78.3 214.4h0M86.9 218.5h0M73 224.5h0M72.9 216.2h0M88.4 222.2h0M78.4 212.7h0M87.4 222.4h0M85 233.1h0M93.5 223.5h0M74.7 224.6h0M85 225.7h0M92.1 223.8h0M82.4 213.6h0M84.5 219.3h0M87.8 226.8h0M89.1 222.7h0M84.9 226.8h0M80.1 215.8h0M78.4 216.5h0M82.9 214.3h0M73.4 219.4h0M79.4 213.4h0M85.8 227.5h0M88.9 220.4h0M70.7 217.4h0M98.6 224.3h0M98.9 224.4h0M64 221.5h0M65 220.7h0M79 236.3h0M72.3 234.9h0M61 262.9h0M62.1 263.9h0M52.1 244.5h0M65.5 252.2h0M78.2 254.9h0M83.3 247.1h0M58 253.6h0M68.7 245.8h0M55.3 249.6h0M82.5 257.3h0M77.8 241.5h0M65.8 264.9h0M68.1 244.5h0M87 256.3h0M85.6 246.9h0M61.4 260.7h0M66 246.4h0M91.6 252.8h0M69.8 259.4h0M82.6 247.1h0M75.1 257.6h0M74.4 246.1h0M75.7 252.3h0M79.5 251.4h0M76 242.4h0M68.8 264.3h0M60.8 262.8h0M71.9 247.9h0M66.6 257.2h0M53.9 248.5h0M78.1 247.3h0M75.1 258.5h0M84.4 256.4h0M75.7 257.7h0M86.9 253.9h0M63.2 255h0M69.4 238.9h0M74.8 249h0M56 250.8h0M74 261.4h0M67 238.9h0M66.5 258.9h0M69.8 248.4h0M53.7 246.9h0M77.1 239h0M62 243.1h0M57 255.5h0M89.1 250.9h0M76.3 246h0M82.2 252.9h0M57.1 255.9h0M55.2 249.7h0M89.5 254.7h0M76.1 250.6h0M83 257.7h0M62.8 260.8h0M71.1 254.9h0M73 237.8h0M84.2 246.6h0M82.2 257.7h0M65.1 242.7h0M79.2 258h0M87.6 258.1h0M76.5 261.5h0M62.8 255.6h0M59.5 260.5h0M52.6 247.7h0M72.9 248.1h0M69.1 234.7h0M70.6 239h0M74.5 245.8h0M80 245.9h0M67.6 245.7h0M57.3 259.2h0M89 256.5h0M62.9 260.2h0M66.6 265.4h0M62.1 263.3h0M77.3 237.5h0M67 262.7h0M65.9 239.8h0M80 241.2h0M68.3 235.9h0M62.6 265.3h0M72.6 241.5h0M82.1 243.2h0M72 262h0M73.2 255.8h0M68 262h0M74.7 253.6h0M79.4 243.2h0M76 243.9h0M68.3 238.2h0M56.3 252.2h0M63 254.8h0M75.4 262.6h0M57.7 254.8h0M86.2 244.2h0M72.1 258.9h0M76.8 247.9h0M75.5 252.1h0M79.4 243.7h0M64.5 258.9h0M66.6 243.4h0M85.1 242.1h0M70.1 238.5h0M65 244.1h0M82.4 255.5h0M53.3 244.6h0M64.6 253.4h0M58 258h0M67.3 261.9h0M62.8 251.9h0M73.6 244.9h0M77.6 258.4h0M79.5 262.4h0M86.3 250.1h0M68.8 251.2h0M76.7 262.6h0M67.7 237.1h0M70.4 264.6h0M81.2 261.7h0M67.8 240.6h0M68.8 264.5h0M62.7 258.7h0M67.6 253.6h0M55 245.7h0M77.6 242.4h0M72.5 258.2h0M66.1 237.1h0M71.8 258.2h0M55.8 247.8h0M58.8 259.8h0M61.1 247.6h0M73.2 252.9h0M74.6 259.8h0M78.5 254.3h0M71 262.8h0M73.7 246.1h0M55.2 250.8h0M89.9 249.8h0M84.9 249.3h0M58.3 246.1h0M88.3 256.1h0M60 245.2h0M77.3 261.1h0M75.1 238.1h0M78.6 244.1h0M68.5 265.4h0M72.3 259h0M62.8 249.7h0M68.7 243.6h0M57.8 254.4h0M70.3 258.8h0M65.9 264.2h0M69.4 246.8h0M88.7 250h0M75.9 238.6h0M66.9 246.3h0M68.9 253.7h0M90.9 253.8h0M59.5 252.6h0M70.1 239.4h0M72.5 261.6h0M68.1 248h0M88.8 245.7h0M69.8 253.4h0M70.4 257.7h0M72.4 237.7h0M82.1 245.8h0M56.3 247.4h0M86.8 258.7h0M67.2 263.9h0M66.6 244.6h0M84.9 250.2h0M57.8 251.3h0M65.2 246.7h0M60.1 251.4h0M86.7 257.1h0M65.6 239.6h0M84.4 254.1h0M66 262h0M60 257.3h0M84.3 258.8h0M80.8 256.8h0M61.1 264.9h0M89.3 253.1h0M58.6 257.7h0M71.5 252h0M62.8 258.9h0M65.5 245h0M76.3 238.5h0M63.5 263.5h0M86 249.1h0M78.3 258.3h0M71.4 261.6h0M78.2 259.8h0M73.8 254.3h0M88 255h0M61.8 259h0M75.7 261.8h0M70.7 244.3h0M79.5 253.2h0M66.2 244.2h0M62.2 248.1h0M64.1 253.5h0M78.5 248.1h0M56 252.4h0M55.9 249.9h0M59.3 222.4h0M59 223.2h0M49.8 223.8h0M50.1 220.3h0M48.7 222.5h0M58.8 224.7h0M53.3 223.3h0M55.4 222.7h0M51.8 225.8h0M57.2 226.5h0M55.6 221.5h0M56 223.5h0M49.7 222.4h0M58.7 221.8h0M54.5 224.1h0M50.3 223.4h0M48.4 220.8h0M47.6 224.8h0M51.8 225.3h0M51.9 220h0M52.6 225.5h0M54.9 221.8h0M57.9 222.4h0M46.1 237.8h0M44.4 239.4h0M45.3 234.5h0M45.7 236.7h0M45.7 237.1h0M45.5 237.2h0M43.1 237.2h0M42 235.8h0M43.9 240.6h0M44.1 235.7h0M42.7 233.8h0M41.8 236.6h0M39.9 239.6h0M45.9 237.6h0M46.4 238.5h0M40.1 242.4h0M37.7 244h0M36.9 243.6h0M40.4 245.8h0M38.3 245.3h0M41.3 244.6h0M38.3 243.5h0M36 242.6h0M36.1 244.8h0M37.2 244.2h0M37.3 246.5h0M47.9 237.9h0M61.1 236.5h0M56.7 240.1h0M59.1 235.1h0M56.4 240.4h0M60.1 232.9h0M55.2 239.4h0M58.9 238.2h0M51.6 238.8h0M58.8 240.9h0M60.1 235.3h0M56.6 241.2h0M53.8 239.5h0M62 233.7h0M60.5 235.9h0M58.7 232.8h0M60.2 233.5h0M54.5 236.4h0M62.3 232.7h0M53.8 239.7h0M54.6 239.8h0M61.7 237h0" stroke="#fde18f" stroke-width="2.6" stroke-linecap="round" fill="none"/>
<path d="M66.2 235.7L71.7 234.8L76.5 236.7L78.6 240.4L81.1 242.2L85.8 244.1L89.6 247.7L91.9 252.6L90.5 257L86.9 260L82.2 261.4L77.5 263.1L73.1 265.1L68.3 267.3L63.5 266.1L60.2 262.7L58 258.7L56.7 253.8L54.7 250.2L52.2 246.3L53.2 244.7L56.7 245.9L60.8 244.8L64.6 242.9L65.4 239.2Z" fill="#e8301a" fill-opacity="0.9" stroke="#e8301a" stroke-opacity="0.45" stroke-width="1" stroke-linejoin="round"/>
<path d="M89.8 250.6h0M65.3 255.1h0M71.6 236.9h0M57.9 257.2h0M83.8 251h0M76.3 256h0M70.7 257.4h0M76.3 255.7h0M84.6 260.3h0M73.8 262.9h0M86.8 250.4h0M67.3 243.6h0M83.3 251.9h0M67 241h0M73.5 254.5h0M86.1 250.9h0M81.4 261.9h0M84.4 252.2h0M83.6 260.3h0M80.5 261.5h0M68.4 266.7h0M61.8 254.3h0M57.4 254.6h0M83.3 249.4h0M73.1 264h0M72.8 261.1h0M63.1 263.4h0M75.3 255.3h0M64.7 248.4h0M77.5 250.6h0M82.2 248h0M80.7 256h0M66.3 248.8h0M74.9 253.8h0M65.2 241.2h0M68.2 251.8h0M87.2 250.5h0M85.5 248.8h0M54.8 247h0M64 244.7h0M71.1 255h0M65.1 248h0M63.8 260.8h0M78.8 254.2h0M79.1 242h0M63.5 261.1h0M87.7 254h0M83 250h0M77.5 238.4h0M84.9 245.8h0M76.1 239.4h0M81.4 251.3h0M69.2 264.7h0M67.9 258.1h0M64.1 258.1h0M75.9 248.4h0M54.7 244.9h0M77 246.7h0M65.8 244.4h0M75.7 257.9h0M75.7 264.2h0M62 257.4h0M82.7 259h0M63.3 265.7h0M85.7 257.8h0M76.7 249.6h0M75.9 254.7h0M75.6 255.3h0M70 240.1h0M74.7 239.2h0M88.3 256.5h0M66.1 244.4h0M84.9 260.2h0M71.3 235.9h0M82.8 250.7h0M78 255.2h0M66.1 255h0M68.3 235.6h0M66.9 266.6h0M63.8 263.1h0M63.5 251.1h0M70.1 234.4h0M68.1 258.3h0M75.1 245.4h0M86.5 257.2h0M62 262.9h0M62.8 252.1h0M54.8 247.3h0M77.4 256.4h0M60.4 262.1h0M75 248.4h0M66.9 264.5h0M52 248.1h0M78.2 252.1h0M70.4 254.1h0M63 255.8h0M73.4 255.7h0M68.5 240h0M83.4 253.9h0M82.3 245.7h0M56.8 255.1h0M84.7 253.4h0M72.4 236.9h0M84.8 245.9h0M69.5 244.2h0M66.9 239.5h0M78.7 244.1h0M62.4 256.7h0M70.7 261h0M68 253.8h0M84 255.4h0M88.8 252.8h0M65.1 256.2h0M87.4 254.7h0M63.5 252.4h0M88.7 256.6h0M71 241h0M67.8 242.4h0M74.8 242.6h0M69.3 244.6h0M85.6 253.4h0M87.9 250.2h0M63.4 256.9h0M79.3 248.8h0M58.6 253.6h0M75.8 252.1h0M63.6 244.7h0M71.1 241.3h0M76.3 246.9h0M68.2 238.3h0M63.8 250.2h0M59.3 260.1h0M73 247.4h0M75.6 237.7h0M82.4 251.4h0M64.1 262.8h0M68.2 248.1h0M59.8 259.4h0M63.6 255.2h0M85.6 252.7h0M82.3 255.4h0M70.9 261.6h0M87.8 254.8h0M87.1 252.7h0M76.4 237.5h0M84.9 245.1h0M90 250h0M83.8 249.1h0M63 256.9h0M70.5 257.9h0M91.4 250.7h0M69 236.6h0M73.9 249h0M83.9 252h0M67.5 249h0M52.1 247.5h0M82.8 243.8h0M67.7 258.3h0M74.5 237h0M66.6 260.9h0M65.3 265.3h0M61.5 261.2h0M67.5 246.6h0M85.5 256.4h0M75.9 263.4h0M72.4 254.4h0M70.6 251.1h0M85.3 257.4h0M71.1 240.2h0M81.1 242.4h0M80.6 257.1h0M59.6 247.4h0M69.6 245.2h0M57.6 253h0M67.2 260.5h0M77.2 237.7h0M65.2 244.1h0M83.6 257.2h0M61.8 255.5h0M77.4 239.1h0M68.7 265.9h0M76.9 258.1h0M74.6 235.7h0M80.2 241.7h0M70.1 245.5h0M74.4 252.2h0M54.7 246h0M60.5 253.9h0M65 241h0M51.8 242h0M86 258.3h0M77.7 254.1h0M78.5 241.2h0M73.8 264.4h0M73.8 239.9h0M73.7 258.2h0M65.5 240.4h0M63.3 254.3h0M81.6 248.5h0M67.5 241.6h0M70.9 260.7h0M80.2 249.7h0M75 257.4h0M87.2 247.8h0M75.8 258.8h0M70.5 260.1h0M70.6 261.6h0M59.4 250.2h0M82.8 251.8h0M76.3 252.1h0M62.4 256.5h0" stroke="#e31a1c" stroke-width="1.5" stroke-linecap="round" fill="none"/>
<path d="M77.7 250.5h0M70.8 245.6h0M63.3 246.3h0M65.6 243.5h0M61.1 254.7h0M68.1 252.9h0M60.9 257.6h0M70.5 255.4h0M65.3 237.3h0M65.4 253.9h0M68.5 235.5h0M81.4 257.9h0M70.9 242.8h0M57.8 259h0M81.8 254.8h0M80.4 252.1h0M70 267.4h0M63.3 260.9h0M80.4 253.3h0M62.1 259.4h0M78.9 243.5h0M75.2 246.6h0M81.9 244.7h0M67.5 239.8h0M62 251.2h0M56.4 252.8h0M62.4 245.5h0M85.4 254.4h0M59.9 256.5h0M65.6 238.3h0M81.3 248.9h0M86.5 249.5h0M63.2 256.5h0M72.6 235.9h0M79.8 248h0M69.8 248.6h0M65 253.7h0M76.4 257.7h0M67 261.8h0M80.1 262.5h0M76.9 256.7h0M76.7 244.6h0M77.5 253.6h0M71.3 254.4h0M77.7 242.6h0M65.8 245.1h0M71.3 241.9h0M63.9 248.4h0M57 256.2h0M68.1 264.8h0M64 244.4h0M67.6 248.5h0M71.5 264.8h0M74.2 258.5h0M63.2 249.3h0M88.3 251.9h0M68.9 245.8h0M79 256.9h0M69.5 250.7h0M64.3 258.4h0M84.6 247.5h0M66.8 257.2h0M83.9 248.8h0M71.2 262.4h0M81.3 255.7h0M80.5 253.1h0M62 264.4h0M67.5 237.8h0M61.7 266.1h0M78.6 244.9h0M58 249h0M79.8 241.9h0M88.9 256.2h0M63 252.4h0M62.2 246.7h0M71.3 263.2h0M76.2 239.2h0M68 260.9h0M62.1 250.6h0M59.4 261.5h0M73.7 241.1h0M70 243h0M72.6 258.2h0M72.5 249.9h0M82.7 253.4h0M75.2 258.8h0M77.9 253.7h0M83.6 258.5h0M63.3 248.5h0M77.5 235.7h0M82.8 256h0M73.1 238.6h0M53.5 243.6h0M59.5 250.6h0M75.6 249h0M75.6 245.2h0M79.7 261.2h0M65.8 242.1h0M82.2 248.7h0M64.3 244.7h0M66.7 241.4h0M70.3 255.1h0M73.5 248.9h0M71 258h0M63.3 254.8h0M87.7 246.6h0M75.9 261.7h0M89.5 249.2h0M69.9 244.1h0M59.7 252h0M81.6 245.5h0M65.1 262h0M80.4 259.8h0M54.1 248.9h0M56.2 252.8h0M86.1 247.1h0M71.7 241.5h0M78.5 259.5h0M55.3 250.3h0M73.6 263.2h0M69.1 250.6h0M65.9 248.1h0M68.8 252.6h0M79.5 247h0M87.4 255.2h0M80.4 261.2h0M61.3 255.8h0M80.6 255h0M76.8 255.1h0M79.8 247.8h0M59.3 259.3h0M78 261h0M83.4 262.5h0M73.6 263.7h0M68.5 266.3h0M62.8 261.9h0M72.6 252.4h0M82.1 259.7h0M76.3 236.6h0M75.3 249.6h0M85.1 249.1h0M83.8 253.6h0M70.7 252.5h0M74.7 257.7h0M68.1 236.3h0M65.9 242.8h0M86.1 250h0M66.6 260.8h0M62.6 260.5h0M69.9 253.2h0M63.1 253.1h0M67 244.8h0M67.9 246h0M77.7 248.8h0M71.1 256.4h0M74.9 248.2h0M71.8 262.6h0M84.2 243.5h0M70.4 235.7h0M81.9 255.9h0M78.2 249.7h0M84.7 247.9h0M80.5 246.3h0M63.4 253.8h0M82.7 242.8h0M76.4 242.8h0M68.9 239.5h0M65.5 249.2h0M66.1 257h0M72.6 241.9h0M79.4 252.4h0M58.5 257.8h0M65.3 244.4h0M66.9 241.1h0M71.7 239.9h0M69.2 241.1h0M78.5 248.2h0M81.4 250.4h0M63.1 255.9h0M69.4 241.9h0M59.9 254.7h0" stroke="#f03b20" stroke-width="1.5" stroke-linecap="round" fill="none"/>
<path d="M75.2 238.1h0M62.6 252.4h0M82.2 245.8h0M63.7 259.8h0M64.1 244.5h0M73.8 263.4h0M82.4 253.2h0M80.9 251.1h0M72.4 265.4h0M65.5 262.7h0M67.1 250.5h0M64.4 243.5h0M64.7 245.3h0M87 252.7h0M63.1 263.3h0M68 260.5h0M83.9 244.4h0M82.1 243.1h0M69.6 260.2h0M62.6 252.7h0M61 255.6h0M88 246.8h0M61 258.3h0M58 247.5h0M80.5 250.1h0M74.9 265.6h0M71.9 238h0M58.5 253.2h0M87.1 254.8h0M75.9 258.7h0M61.9 249.6h0M90.5 256.4h0M71.4 255.5h0M61.8 262.2h0M68.8 260.1h0M81 256.5h0M70.9 260.9h0M81.5 251.7h0M73.2 241h0M70.8 244.1h0M65 255h0M72.9 251.5h0M69.6 247.7h0M71.4 252.4h0M69.7 247.6h0M67 247.8h0M69.3 264.3h0M78.4 241h0M89.4 254.8h0M90.8 257h0M73.2 252.9h0M67.3 236.3h0M85.4 249.6h0M61.7 243.8h0M71.7 257.9h0M80.3 246.8h0M69.8 250.6h0M78 245.3h0M62 245.8h0M69.6 254.4h0M76.9 258.2h0M72.9 260.5h0M83.3 252.3h0M70.3 251.1h0M75.6 243.4h0M66.6 266.2h0M58.8 250.6h0M71.8 240.9h0M66.1 257.3h0M71.1 261h0M84.7 258.9h0M87.4 257.3h0M54.2 245.3h0M86.5 245.6h0M65.9 242.7h0M70.6 240.2h0M64.2 256.1h0M75.9 237.5h0M57.6 257.4h0M72.5 257.5h0M68.6 249h0M72.9 241.6h0M65.3 256.8h0M63.4 247.3h0M70 234.2h0M74 243.2h0M58.1 250.4h0M67 245.9h0M54.7 248.9h0M71.8 248.5h0M70.9 255.7h0M60.7 253h0M78.2 250.9h0M61 247.7h0M63.3 265.7h0M61.6 258.2h0M73.4 244.4h0M62.7 253.8h0M67.8 251.2h0M88.7 253.2h0M53.3 247.1h0M51.5 246h0M64.7 252.9h0M73.4 259.8h0M67.9 255.8h0M64.3 266.4h0M56.8 249.7h0M80 257.4h0M78 238.8h0M80.3 259.6h0M64.7 247.2h0M78 244h0M59.8 252.6h0M77.1 250.8h0M70.8 238.6h0M57.7 247.6h0M68.1 240.8h0M82.6 254.3h0M82.7 246.7h0M65.3 253h0M87.6 250.7h0" stroke="#fc6a2a" stroke-width="1.5" stroke-linecap="round" fill="none"/>
<path d="M62.7 255.7h0M68.1 266.9h0M64.3 246.9h0M68.5 256.1h0M70.2 235.7h0M72.8 240.6h0M64.3 248.2h0M73.8 258h0M85.8 246.3h0M81.7 253.5h0M76 254.2h0M78.6 241.1h0M72.4 240.9h0M68.9 239.2h0M75.9 241.2h0M74.6 257.4h0M69.7 254.7h0M65.4 251.3h0M74.9 252.5h0M65.8 259.9h0M63.3 253.2h0M70.5 249.6h0M79.4 248.8h0M69.4 247.2h0M85 259.2h0M68.9 261.3h0M84.1 249.9h0M86.6 253.6h0M88.6 249.3h0M69.5 255.4h0M74.4 252.9h0M73.4 255.6h0M75.7 238.1h0M84.5 262.1h0M82.6 247.5h0M64.1 245.5h0M60.2 248.4h0M77.2 252.9h0M71.5 246.4h0M70.5 258.4h0M65.8 245.1h0M65.5 252.8h0M64.5 245.8h0M72.1 236.5h0M71.1 254.5h0M65.8 257.1h0M65.3 250.8h0M65.4 260h0M59.7 261.2h0M68.3 266.5h0M84.3 247.5h0M87.4 259.6h0M71.4 257.4h0M64.5 244.1h0M69 252.1h0M58 246.4h0M80.2 261.1h0M71.7 236.3h0M60.1 253h0M69.5 240.4h0M84.2 252.9h0M61 261.8h0M74.1 251.4h0M73.7 252.4h0M86.1 256.5h0M71 251.8h0M61.6 256.6h0M87.2 260h0M84 259.2h0M67.6 249.5h0M91.2 252.5h0M72 243.6h0M65.8 243h0M69.4 247.3h0M75.9 246.4h0M83 259.3h0M75.9 255.9h0M69.2 252h0M62.5 256.5h0M68.8 235.9h0M73.3 265h0M87.6 250.7h0M78.9 242.2h0M60.7 259.5h0M68.6 246h0M75.8 246.9h0M62.4 257.6h0M74 256.9h0M65.3 252.9h0M87.2 250h0M67.2 264.4h0" stroke="#d7191c" stroke-width="1.5" stroke-linecap="round" fill="none"/>
<path d="M85.1 255.6h0M71 239.2h0M77.8 244h0M66.6 236.1h0M63 246h0M72.7 242.1h0M73.9 248.7h0M74.3 240.8h0M83.8 255.3h0M65.3 253.9h0M87.1 259.3h0M88 255.7h0M75.5 258.8h0M76 251.7h0M85.4 252.9h0M75.8 244.4h0M87.1 250.7h0M66.1 240.7h0" stroke="#fde18f" stroke-width="1.1" stroke-linecap="round" fill="none"/>
<path d="M83.9 219.8h0M83.5 233.3h0M59.4 237.7h0M84.3 230h0" stroke="#e31a1c" stroke-width="1.15" stroke-linecap="round" fill="none"/>
<path d="M86.5 230.9h0M56.4 221.1h0M57.3 239.6h0M52.5 238.9h0M76 215.5h0M82.8 213.2h0" stroke="#f03b20" stroke-width="1.15" stroke-linecap="round" fill="none"/>
<path d="M75.8 222.1h0M85.9 233.6h0M80 210.4h0M93 230.8h0M55.4 240.8h0M77.6 219.5h0M88.3 235.6h0M77.2 226.9h0M48.5 223.1h0M77 209h0" stroke="#fc6a2a" stroke-width="1.15" stroke-linecap="round" fill="none"/>

<path d="M31.4 204.4V270.7H103.4" fill="none" stroke="#6e6a6a" stroke-width="0.9"/>
<text x="49.5" y="284.3" font-size="9.8" text-anchor="middle" fill="#231f20">-20</text>
<text x="28.8" y="260.9" font-size="9.8" text-anchor="end" fill="#231f20">-20</text>
<text x="71" y="284.3" font-size="9.8" text-anchor="middle" fill="#231f20">0</text>
<text x="28.8" y="241.9" font-size="9.8" text-anchor="end" fill="#231f20">0</text>
<text x="92.5" y="284.3" font-size="9.8" text-anchor="middle" fill="#231f20">20</text>
<text x="28.8" y="222.9" font-size="9.8" text-anchor="end" fill="#231f20">20</text>
<path d="M49.5 270.7v2.4M31.4 257.4h-2M71 270.7v2.4M31.4 238.4h-2M92.5 270.7v2.4M31.4 219.4h-2" stroke="#6e6a6a" stroke-width="0.8" fill="none"/>
<text x="72.4" y="300.4" font-size="9.8" text-anchor="middle" fill="#231f20">tSNE_1</text>
<text x="8.8" y="238.4" font-size="9.8" text-anchor="middle" fill="#231f20" transform="rotate(-90 8.8 238.4)">tSNE_2</text>
<text x="73" y="195.6" font-size="9.8" text-anchor="middle" fill="#231f20">FGFBP2</text>
<path d="M218.3 206.7L220.1 209.2L223.8 213.1L227.6 215.9L231.9 217.9L234.2 222.4L233.5 228.6L231.1 233.8L228.1 237.1L224.3 235.9L220.6 234.1L215.2 232.2L210.6 229.5L206.2 226.4L203.3 223L201.9 219.7L203.3 215.7L207 212.3L211.5 209.6L215.6 209L216.8 207.2ZM204.1 234.5L210 233.5L215.2 235.6L217.6 239.4L220.3 241.4L225.2 243.5L229.2 247.5L231.4 252.8L230 257.5L226.2 260.6L221.3 262.3L216.3 264.3L211.5 266.3L206.3 268.6L201.2 267.3L197.6 263.6L195.1 259.5L193.5 254.2L191.6 250.1L189.1 245.9L190.1 244.2L193.6 245.5L197.9 244.2L202 241.9L203.1 238ZM184.3 222.8L186 220.1L191 218.6L196.2 219.8L199.1 222.1L198.7 225L195.5 227.8L190.1 228L186 226.1ZM176.1 236.4L177.9 233.5L180.9 231.5L183.2 233.1L185.9 235.5L186.3 239.2L184 241.8L180.6 242.5L177.4 240.7ZM171.6 242.7L173.7 240.9L178.5 241.2L181.8 243.1L182.1 245.8L179.3 247.3L174.2 247L171.7 245.2ZM188.4 239.4L190.7 236.6L194.9 233.7L198.5 230.3L200.8 229.8L202.4 232.9L200.8 236.6L198.8 240.5L195.3 242.8L191.1 241.8Z" fill="#fde18f" fill-opacity="1.0" stroke="#fde18f" stroke-opacity="0.50" stroke-width="1" stroke-linejoin="round"/>
<path d="M187.4 239.8L189.6 236.6L194.7 233.2L198.9 229.3L201.4 228.9L203.4 232.3L201.9 236.6L199.4 241.4L195.2 243.8L190.4 242.6ZM183.2 222.7L185 219.6L190.8 217.6L197 219.2L200.2 221.9L199.7 225.3L196.1 228.7L189.7 229L185 226.6ZM175 236.2L177.1 232.7L180.8 230.5L183.7 232.1L187 235.2L187.4 239.6L184.6 242.7L180.4 243.6L176.6 241.5ZM170.5 242.3L173 240.1L179 240.5L182.9 242.9L183.1 246.1L180 248.1L173.5 247.8L170.6 245.4Z" fill="#fde18f" fill-opacity="1.0" stroke="#fde18f" stroke-opacity="0.50" stroke-width="1" stroke-linejoin="round"/>
<ellipse cx="201.9" cy="235.8" rx="3.6" ry="4.7" fill="#fde18f"/>
<ellipse cx="197" cy="234.8" rx="5.6" ry="4.4" fill="#fde18f" transform="rotate(-35 197 234.8)"/>
<path d="M192.6 235.8h0M187.3 237.3h0M191.2 238.2h0M189.4 238.4h0M186.7 236.9h0M192.4 238.4h0M191.9 237.6h0M187.4 238.3h0M192.8 239.8h0M186.1 238.8h0M191.3 236h0M190.2 236.2h0M188.3 236.9h0M184.3 237.8h0M196.3 243.9h0M195.4 247.5h0M191.4 246.8h0M193.5 251.1h0M196.2 246.5h0M195 249.5h0M192.2 251.1h0M192.9 251.1h0M193.2 249.7h0M195.8 244.1h0M195.8 228.5h0M199.3 233.3h0M199.7 230h0M202.9 234.1h0M198.4 233.8h0M201.2 233.4h0M194.5 228.5h0M200 229.3h0M203.1 230.1h0M194.6 230.1h0M207.1 234.9h0M211.1 234.7h0M210.3 234.5h0M218.2 237.8h0M209.8 232h0M214.8 234h0M208.2 237.7h0M217.8 233h0M216.5 237.6h0M218.9 235.6h0M206 233.5h0M216.8 235h0" stroke="#fde18f" stroke-width="2.4" stroke-linecap="round" fill="none"/>
<path d="M206.8 219.6h0M227.5 219.5h0M228.8 231.1h0M212.5 213.9h0M221.8 216.2h0M212.8 222.2h0M216.3 219.1h0M221.8 214.2h0M225.1 235.6h0M209.2 218.7h0M209.7 216.8h0M230 227.1h0M211.4 220h0M227.6 229.6h0M227.2 226.4h0M205.2 218.7h0M219.6 212.1h0M212.6 224.8h0M225.7 229.4h0M211.6 215.5h0M213.4 220.2h0M224.3 224.5h0M228.2 228.2h0M217.5 217h0M229.1 224.4h0M215 214.9h0M227.7 225.4h0M224.4 225.3h0M209.9 217.6h0M206.9 216.6h0M214.9 214.9h0M205.3 220.4h0M222.1 232.6h0M218.3 218.3h0M223.1 228.5h0M229.3 220.6h0M224.3 215.9h0M222.3 211.9h0M222.8 231.3h0M220.6 227.8h0M215.3 219.3h0M228.6 219.5h0M219.3 223h0M206.8 217.5h0M226.1 223.8h0M220.7 224.1h0M216.8 211.2h0M228.4 219.1h0M214.5 225.5h0M210.1 220h0M216.6 209.4h0M233.8 223.2h0M228.6 232.6h0M218.8 210.8h0M211.1 221.4h0M221.5 217.5h0M216.7 213.1h0M220.1 219h0M211.1 221.5h0M215 215.8h0M225.8 219.4h0M214.3 216.9h0M230.9 227.7h0M206.6 218.1h0M208.3 216.2h0M220.5 212.9h0M224.8 215h0M224.8 226.1h0M229.1 229.7h0M218.1 217.6h0M227.7 221.7h0M212.8 213.5h0M220.8 221h0M225.3 224.5h0M214.6 213.5h0M228.3 224.4h0M226.6 217.2h0M223.7 227.9h0M230.2 229.7h0M228 233.6h0M212.4 216.5h0M213.6 226.9h0M211 215.5h0M207.4 221.7h0M227.5 231.5h0M218.6 218.6h0M214.8 221.3h0M222.4 228.8h0M215.7 214.9h0M225.5 217.2h0M207.8 220.9h0M221.5 220.6h0M228.2 232.7h0M217.8 206.9h0M228.3 233.7h0M224.7 234.8h0M229.1 228.1h0M219.6 215.4h0M219 223.9h0M222.2 231.9h0M220.5 214.4h0M217.8 225.2h0M211.5 222.7h0M209.5 225.1h0M214.5 228.9h0M224.2 218h0M204.6 215.8h0M211 223.4h0M221.8 224h0M216.6 229.4h0M214.5 216h0M218.9 215.8h0M217 212h0M218.4 216.3h0M220.9 228.9h0M223.9 222.5h0M226.8 218.6h0M218.2 217.9h0M225.4 220.9h0M224.4 220.5h0M223.1 216.9h0M228.3 219.7h0M224.4 224.5h0M217.1 224.6h0M209.4 214.9h0M215.6 227.4h0M231.1 227.6h0M229.4 220.5h0M221.2 226h0M217.3 229.1h0M223.1 228.6h0M218.3 224.5h0M208.9 223.4h0M216.8 218.8h0M229.1 227h0M237.3 224.4h0M237.1 224.4h0M202.6 221.3h0M203.3 221.4h0M207.9 235.8h0M218.3 236h0M222.8 246.5h0M218.2 253h0M206.2 252.2h0M226.8 252h0M220.3 251h0M213.5 242.8h0M223 247.4h0M206.7 255.6h0M194.7 249.4h0M196.6 251.7h0M200.4 252.8h0M209.2 254.1h0M200.5 263.3h0M220 253.7h0M208.9 245.2h0M215.3 239.2h0M203.9 245.4h0M202.1 248.5h0M220.9 242.6h0M200 249.4h0M210 248.2h0M224.2 254.5h0M222.5 245.6h0M214.7 246.2h0M205.3 239.3h0M225.2 255.7h0M214.7 237.9h0M210.5 249.5h0M214.4 248.5h0M217.1 244.3h0M215.5 258.4h0M202 250h0M195.9 252.1h0M208.1 254.4h0M219.1 256h0M210.6 247.1h0M213 252.6h0M209.6 240.3h0M215.7 262.9h0M205.1 250.3h0M224.9 252.6h0M209.1 257.5h0M221 247h0M200.2 249.8h0M218.3 252.5h0M194.7 247.6h0M218.8 251.6h0M211.4 247.3h0M220.1 246.8h0M213.2 263.3h0M225.3 251.9h0M216 262h0M214.5 253.1h0M207.6 264.5h0M226.8 249.9h0M221.9 257.2h0M213.8 260.6h0M220.8 248.3h0M209.9 251.6h0M208.9 267.3h0M200.9 262.3h0M215.5 241.5h0M218 262.2h0M211.9 263.1h0M196.7 249.7h0M225.7 251.4h0M211.6 245h0M202.8 251.3h0M211.4 252.4h0M218.3 243.7h0M205.9 255h0M213.9 253.3h0M200 257.8h0M227.4 249.3h0M199.8 255.8h0M205.6 237.3h0M201.6 244.9h0M203.8 246.3h0M201.1 247.9h0M206.7 246.4h0M222.1 249.3h0M202 246.2h0M213.2 255.9h0M210.4 256.8h0M221.7 247.7h0M206.9 236.3h0M205.8 250.5h0M206.2 264.9h0M210.1 257.3h0M218.1 241.4h0M198.3 244.6h0M220.3 253.3h0M216.3 257h0M205.9 243.9h0M226 250h0M209.7 260.6h0M212.6 257.1h0M195.4 254.6h0M215.4 243.5h0M196.8 252h0M220 244.8h0M222.8 256.7h0M210.8 264.3h0M210.5 239.2h0M213.2 250.3h0M215.2 260.8h0M205.5 238.8h0M214.6 259.5h0M194.1 250.5h0M213.5 260h0M220.8 246.8h0M221.7 252.6h0M201.7 243.3h0M219.2 255h0M212.2 244.7h0M213.2 251.9h0M227.2 248.3h0M199.7 246.8h0M216.3 262h0M212.2 252.6h0M203.5 250.2h0M196.7 252.7h0M216.8 244.8h0M193.1 249.2h0M207 244.6h0M223 249.6h0M192.5 248.5h0M200.8 250.4h0M208.3 256.6h0M198.3 257.2h0M205.8 242.5h0M205.3 260.7h0M225.7 253.8h0M207.2 246.4h0M205.8 243.1h0M229.5 250h0M211.8 240.4h0M214.9 238.9h0M221.1 252.3h0M213.6 261.7h0M218.1 261.1h0M204 244.3h0M194 245h0M216.8 262.5h0M216.1 249.5h0M217.4 239.1h0M219.8 259.5h0M217.9 248.3h0M199.4 253.3h0M203.6 247.1h0M214.5 239.7h0M214.9 246.3h0M222.1 252.5h0M213 242.2h0M197.1 263.1h0M197.6 256.9h0M215.3 253.8h0M218.3 247.1h0M215.7 259.2h0M200 245.6h0M215.9 246.5h0M219.5 245.9h0M202.7 236.7h0M217.4 241.7h0M211.3 246.2h0M225.3 249.1h0M225.2 257.1h0M200.2 253.1h0M210.6 258.3h0M199.4 250.6h0M201.2 261.5h0M196.8 245.5h0M207.6 241.8h0M217.4 245h0M226.7 257.6h0M209.6 247.8h0M200.3 245.7h0M206.8 264.8h0M222.2 243.1h0M208.9 238.2h0M197 248.5h0M219.9 247.1h0M200.5 249.4h0M209.6 241.6h0M224.7 248.5h0M201.4 252.7h0M194.9 251.5h0M219 259h0M203.1 256h0M205.9 238.8h0M205.8 256.5h0M208.5 266.4h0M208.6 250.4h0M208.9 235.1h0M226.2 253.4h0M203.6 243.2h0M207.9 243.2h0M212.7 256.9h0M194.6 246h0M200.2 252.6h0M209.4 241.1h0M226.4 246.8h0M205.6 251h0M211.6 255.1h0M214.3 251.4h0M220.3 260h0M209.6 249.7h0M193.7 250.6h0M196.5 244.6h0M190.4 222.7h0M187.6 224.5h0M193 225.9h0M196.5 221.4h0M186.8 223h0M188.2 225.8h0M194.5 222.1h0M197.4 222.7h0M196.9 222.6h0M187.5 223.9h0M195.2 224.2h0M188.8 224.3h0M198.4 222.1h0M196.6 224.4h0M193.7 224.7h0M195.4 222.6h0M192.8 221h0M190 224.6h0M193.7 226.4h0M192.7 224.3h0M193.9 224.1h0M195.5 226.1h0M195 219.6h0M179 235.6h0M178.3 235.8h0M178 240.1h0M181.1 237.3h0M180.3 233.6h0M180.4 236.4h0M181.7 235.7h0M182.9 237.8h0M179 239.3h0M180.1 239.7h0M179 238.9h0M183.5 238.6h0M180 236h0M181.8 239.9h0M185.1 238h0M175.9 244.9h0M178.1 244.1h0M176.1 245.8h0M174.8 243.4h0M176 244.2h0M175.2 242.2h0M180.3 244.7h0M176.4 242.8h0M178.6 242.6h0M173.7 242.2h0M180.4 245.7h0M188.4 238.7h0M193.1 237.8h0M192.9 240.9h0M198.8 232.2h0M198.6 234.9h0M199.6 234h0M197.6 235.2h0M198 237.2h0M197.1 234.6h0M194.3 235.5h0M192.3 238.3h0M191.1 237.6h0M194.2 238.6h0M201.5 234.3h0M200.1 234.4h0M197 237.8h0M198.3 233h0M201.2 233.6h0M197.1 241h0M193.7 237h0M198 235.4h0M196.1 237h0" stroke="#fde18f" stroke-width="2.6" stroke-linecap="round" fill="none"/>
<path d="M218.3 208.4L219.9 210.9L222.8 214.5L226.1 216.8L230.2 218.3L232.4 222.2L231.9 227.8L229.8 232.6L227.2 235.6L223.6 234.3L220.3 232.4L215.7 230.6L211.8 228.2L207.8 225.7L205.1 222.8L203.7 219.8L205 216.3L208.4 213.4L212.4 211L215.9 210.6L217 208.9Z" fill="#f2672a" fill-opacity="0.6" stroke="#f2672a" stroke-opacity="0.30" stroke-width="1" stroke-linejoin="round"/>
<path d="M224.7 216h0M220 214.4h0M212.3 212.8h0M208.3 223.8h0M212 213.7h0M220 209.4h0M220.2 232h0M219.9 227.6h0M203.9 215h0M233.6 225.1h0M220.7 225.6h0M224.1 221.3h0M206.2 224.3h0M205.4 217.9h0M223 228.7h0M206.8 219.1h0M221.6 219.9h0M222.2 215.3h0M207.9 225.3h0M229.7 227.3h0M208.8 225.5h0M210.2 223.3h0M222.8 225.7h0M228.3 227.3h0M220 227.5h0M204.7 217.6h0M229.8 222.2h0M220.6 215h0M226.6 218.9h0M225.4 229.3h0M214.1 213.3h0M218.5 227.8h0M215.1 222.8h0M217.9 212.9h0M220.2 223h0M224.7 222.7h0M229.3 225.7h0M231.4 219.7h0M217 225.5h0M214.8 225.1h0M208 224.2h0M225 223.3h0M224.6 224.8h0M218.8 224.5h0M216.5 218.7h0M228.2 228.5h0M228.4 228.4h0M222.2 216.4h0M208.3 213h0M207.7 223.2h0M210.7 223.9h0M213.1 221.4h0M230 232.9h0M218.9 222.9h0M231.6 221.8h0M220.5 227.9h0M221.6 230.1h0M220.2 221.2h0M222.8 234h0M217.9 210.4h0M210.4 219.4h0M212.2 219.8h0M211.7 213.7h0M207 218h0M220.5 230.1h0M218.1 215.7h0M211.2 212.4h0M222.8 216.9h0M213.2 212.8h0M219.5 213.5h0M226.5 224.1h0M207.7 216.6h0M220.5 228.7h0M218.3 227.1h0M213.2 217.4h0M213.5 211.2h0M214.7 224.4h0M226.8 232.4h0M228.3 228.6h0M211.4 215.3h0M222.4 225.4h0M223.3 236h0M217.8 213.6h0M215.9 215.4h0M227.7 222.6h0M223.2 225.6h0M227.7 223.4h0M226.4 218.2h0M202.9 221.5h0M212.4 223.2h0M223.1 215.3h0M210.9 213.2h0M232.9 220.5h0M217.2 219.5h0M222.2 214h0M207.5 215.3h0M213.8 226.9h0M214.3 229.5h0M222.8 219h0M212 219.5h0M219.4 215.6h0M207.4 222h0M210.3 217.8h0M220.1 217.5h0M221.1 213.9h0M212.7 215.7h0M224.4 225.3h0M216.7 223.1h0M227.9 220.2h0M209.5 221.8h0M214.1 223.1h0M207.4 216.2h0M228.9 222.7h0" stroke="#e31a1c" stroke-width="1.3" stroke-linecap="round" fill="none"/>
<path d="M207.6 227h0M224.2 226.7h0M222.1 216.6h0M213.5 221.5h0M224.7 229.7h0M218.5 223.1h0M206.3 217.2h0M219.7 219.6h0M214.8 217.7h0M220.4 220.5h0M219.5 220.7h0M221.8 219.8h0M215.4 217.8h0M216.1 228.2h0M227.6 218.3h0M223.8 219.6h0M232.1 221.2h0M229.7 225.9h0M211.4 227h0M222.3 232.9h0M217.3 223.1h0M219.3 230.3h0M218.3 225.1h0M227.9 235.5h0M212.6 225.3h0M212.6 216.1h0M227.7 218h0M226.1 226.6h0M229.2 223.1h0M219.6 214.8h0M213.4 219.1h0M216 229.6h0M207.2 214.8h0M218.3 228h0M221.2 213.9h0M205.3 216.4h0M218.3 228.6h0M227.5 222.7h0M223.4 232h0M209.1 221.7h0M218.9 217.2h0M219 230.5h0M218.1 231.7h0M218.1 220.4h0M226.3 217.6h0M225.6 220.1h0M225.5 223.3h0M222.9 218.9h0M223.9 228.6h0M205.7 220.7h0M213.6 222h0M223.4 221.4h0M230.6 222h0M221.5 226.9h0M217.1 207.6h0M211 215.9h0M222.2 225.6h0M215.2 229.3h0M204.2 218h0M221.4 222.7h0M227.1 224.9h0M215 226.6h0M214.1 230.9h0M219.8 226.9h0M216.2 229.3h0M216.1 229.4h0M215.6 212h0M223.5 217.9h0M213.3 227.5h0M225 226.8h0M207.8 214h0M209.8 216.8h0M226.6 225.6h0M219 215.7h0M223.2 220.5h0M222.5 220.9h0M215.3 223h0M213.2 211.3h0M226.9 216.5h0M225.7 231.8h0M205.3 224.5h0M213.2 218.1h0M212.7 225.9h0M216 213.8h0M229.4 219.6h0M211 212.9h0M219.6 216.6h0M224.3 234.6h0M214 217.5h0M224.8 226h0M216.7 209h0M211.4 223h0M229.6 229.5h0M221.8 217h0M213.7 222.1h0M214.4 215.1h0M229.4 233h0" stroke="#f03b20" stroke-width="1.3" stroke-linecap="round" fill="none"/>
<path d="M222.2 229.4h0M221.9 220.2h0M210.8 214.9h0M229.8 221.1h0M208 224.1h0M222.6 232.2h0M229.7 237.1h0M216.6 215.7h0M221.6 223.6h0M211.9 225.3h0M212.2 226.6h0M224.1 233.1h0M229.5 219.6h0M226.9 235.3h0M215.4 230.1h0M223.6 223.1h0M218.4 226.2h0M206.1 223.4h0M215.3 229.8h0M209.9 226.5h0M216.6 213.9h0M226.2 222.6h0M207.5 225.5h0M212.3 222.2h0M231.3 219h0M223.9 228.8h0M225.1 220.2h0M227.1 219.3h0M222.6 227.8h0M211.3 212.2h0M217.9 222.2h0M221.9 214.4h0M228 219.9h0M215.6 211.8h0M217.1 217.8h0M232.4 219.6h0M226.8 216.5h0M210.5 214h0M224.5 223.4h0M203.3 222.1h0M229 224.9h0M216.3 216.7h0M225.6 222.5h0M208.4 224.3h0M220.9 227.9h0M214 226.2h0M228.3 231.8h0M221.5 215.2h0M219.9 233.5h0M206.9 218.2h0M211 222.6h0M218.2 222.5h0M215.6 219h0M230.2 228.6h0M228.4 224.6h0M214.8 228.7h0M218.6 210.1h0M219 217.4h0M214.7 228.2h0M221 225.2h0M230.8 229.9h0M224 222h0M211.2 224.3h0M230.2 219.9h0M225.9 226.1h0" stroke="#fc6a2a" stroke-width="1.3" stroke-linecap="round" fill="none"/>
<path d="M231.6 229.4h0M216.3 228.8h0M206.7 219.3h0M207.5 218.8h0M214.5 230.1h0M216.3 226.6h0M223.3 222.2h0M208.9 217.2h0M223.7 233.3h0M219.7 229.8h0M206.5 216.9h0M216.3 222.4h0M225.2 233h0M215.4 216h0M211.3 215.4h0M229.3 220.3h0M205.9 215.6h0M206.4 222h0M216.9 225.8h0M218 209h0M218.5 223.4h0M225.5 217.1h0M227.3 226.8h0M214.5 224.1h0M218.9 224.5h0M218.4 224.7h0M217.1 219h0M210.2 225.7h0M207.3 227h0M223.2 220h0M209.6 222.3h0M211.4 212.9h0M216 214.4h0M231.8 223.4h0M227.3 232.5h0M212.4 219.1h0M215.9 218.1h0M225 221h0M233.2 221.9h0M218 213.9h0M231.8 218.6h0M216.1 230.5h0M230.5 217.8h0M214.2 219.2h0M217.3 215.4h0M226.7 224.3h0M207.9 218.7h0M214.5 215.1h0M212.8 219.9h0" stroke="#d7191c" stroke-width="1.3" stroke-linecap="round" fill="none"/>
<path d="M218 228.7h0M204.7 217.7h0M220 232.4h0M231.3 222.6h0M217.4 218h0M225.8 230.3h0M217.9 213.3h0M231.2 221.5h0M220.1 230.1h0M212.8 228.6h0M217.5 210.1h0M215.7 219.7h0M216 218.3h0M206 216.5h0M226.3 228h0M204.2 221.8h0M212.2 221.7h0M223.2 233.4h0M214.9 210.8h0M208.1 214.8h0M222.6 227.2h0M204.8 219.6h0M206.8 216.3h0M215.9 225.7h0M216.2 216.2h0M211.1 216.6h0M206.2 214.9h0M225.4 220.7h0M224.9 221.8h0M218 211.9h0M210.3 225.6h0M204.3 220.8h0M227.4 235.3h0M221.4 223.7h0M218.9 218.2h0M229.6 232.9h0M214.8 215.7h0M234.2 223.3h0M220.9 213.5h0M207.1 222.3h0M210.9 228.6h0M231 220.7h0M219.9 221.7h0M209.3 220.3h0M208.6 223.7h0M223.5 216.2h0M204.1 217.1h0M212.1 229.5h0M205.5 220.7h0M228.8 220.4h0M225.4 233.8h0M219.4 220.6h0M225.4 221.8h0M217.7 213.9h0M227.2 223.4h0M220.5 222.6h0M212.8 226.7h0M211.1 225.8h0M229.5 220.4h0M218.9 219.7h0M227.6 226.6h0M206.4 219.1h0M226.8 226.1h0M204.9 223.4h0M213.1 225.7h0M215.9 222.8h0M223.8 217.2h0M213.2 212.5h0M221.5 225.7h0M222.7 224.7h0M232.5 222.6h0M213.3 225.5h0M223.8 216.6h0M222.8 230.2h0M212.9 214.3h0M232 222.5h0M223.9 218.1h0M228.2 228.8h0M230.3 227h0M221.2 227.5h0M220.3 212.4h0M212.8 214.2h0M219.7 218h0M232 226.3h0M207.6 223.4h0M213.1 217h0M227.7 222.7h0M228.4 222.6h0M231 228.9h0M226.3 233.3h0M220.2 227.9h0M223.2 223h0M210.2 224.3h0M221.1 227.7h0M217.2 221.5h0M230.9 225h0M212.3 228.5h0M209 215.2h0M215.6 217.6h0M221.5 212.8h0M214.1 227.5h0M209.9 213.4h0M224.3 223.2h0M219.2 222.5h0M223.2 234.6h0M208.3 221.5h0M213 216.4h0M230.3 232h0M203.8 220.5h0M204.6 216.2h0" stroke="#fde18f" stroke-width="1.1" stroke-linecap="round" fill="none"/>
<path d="M218.1 252.7h0M237 224h0M220.5 243.3h0M219.8 254.3h0M214.6 237.3h0M237.3 224.3h0M221.4 243.8h0M214 238.4h0M214.8 236.9h0" stroke="#e31a1c" stroke-width="1.15" stroke-linecap="round" fill="none"/>
<path d="M200.9 250.7h0M205.2 262h0M215.9 234.7h0M223.2 261.3h0M222.9 245.1h0M219.4 239.7h0M217 239.1h0M211.9 260.3h0M213.6 234.4h0M218.4 234.4h0M215 238.9h0M224.4 256.2h0" stroke="#f03b20" stroke-width="1.15" stroke-linecap="round" fill="none"/>
<path d="M219.7 257.4h0M237.1 224.1h0M194.4 246.8h0M220 260.5h0M204.4 247.9h0M220.6 237.5h0M213.7 253.1h0M205 262.9h0" stroke="#fc6a2a" stroke-width="1.15" stroke-linecap="round" fill="none"/>

<path d="M169.6 204.4V270.7H241.6" fill="none" stroke="#6e6a6a" stroke-width="0.9"/>
<text x="187.7" y="284.3" font-size="9.8" text-anchor="middle" fill="#231f20">-20</text>
<text x="167" y="260.9" font-size="9.8" text-anchor="end" fill="#231f20">-20</text>
<text x="209.2" y="284.3" font-size="9.8" text-anchor="middle" fill="#231f20">0</text>
<text x="167" y="241.9" font-size="9.8" text-anchor="end" fill="#231f20">0</text>
<text x="230.7" y="284.3" font-size="9.8" text-anchor="middle" fill="#231f20">20</text>
<text x="167" y="222.9" font-size="9.8" text-anchor="end" fill="#231f20">20</text>
<path d="M187.7 270.7v2.4M169.6 257.4h-2M209.2 270.7v2.4M169.6 238.4h-2M230.7 270.7v2.4M169.6 219.4h-2" stroke="#6e6a6a" stroke-width="0.8" fill="none"/>
<text x="210.6" y="300.4" font-size="9.8" text-anchor="middle" fill="#231f20">tSNE_1</text>
<text x="147" y="238.4" font-size="9.8" text-anchor="middle" fill="#231f20" transform="rotate(-90 147 238.4)">tSNE_2</text>
<text x="213" y="195.6" font-size="9.8" text-anchor="middle" fill="#231f20">SLC4A10</text>
<path d="M356.6 206.7L358.4 209.2L362.1 213.1L365.9 215.9L370.2 217.9L372.5 222.4L371.8 228.6L369.4 233.8L366.4 237.1L362.6 235.9L358.9 234.1L353.5 232.2L348.9 229.5L344.5 226.4L341.6 223L340.2 219.7L341.6 215.7L345.3 212.3L349.8 209.6L353.9 209L355.1 207.2ZM342.4 234.5L348.3 233.5L353.5 235.6L355.9 239.4L358.6 241.4L363.5 243.5L367.5 247.5L369.7 252.8L368.3 257.5L364.5 260.6L359.6 262.3L354.6 264.3L349.8 266.3L344.6 268.6L339.5 267.3L335.9 263.6L333.4 259.5L331.8 254.2L329.9 250.1L327.4 245.9L328.4 244.2L331.9 245.5L336.2 244.2L340.3 241.9L341.4 238ZM322.6 222.8L324.3 220.1L329.3 218.6L334.5 219.8L337.4 222.1L337 225L333.8 227.8L328.4 228L324.3 226.1ZM314.4 236.4L316.2 233.5L319.2 231.5L321.5 233.1L324.2 235.5L324.6 239.2L322.3 241.8L318.9 242.5L315.7 240.7ZM309.9 242.7L312 240.9L316.8 241.2L320.1 243.1L320.4 245.8L317.6 247.3L312.5 247L310 245.2ZM326.7 239.4L329 236.6L333.2 233.7L336.8 230.3L339.1 229.8L340.7 232.9L339.1 236.6L337.1 240.5L333.6 242.8L329.4 241.8Z" fill="#fde18f" fill-opacity="1.0" stroke="#fde18f" stroke-opacity="0.50" stroke-width="1" stroke-linejoin="round"/>
<path d="M325.7 239.8L327.9 236.6L333 233.2L337.2 229.3L339.7 228.9L341.7 232.3L340.2 236.6L337.7 241.4L333.5 243.8L328.7 242.6ZM321.5 222.7L323.3 219.6L329.1 217.6L335.3 219.2L338.5 221.9L338 225.3L334.4 228.7L328 229L323.3 226.6ZM313.3 236.2L315.4 232.7L319.1 230.5L322 232.1L325.3 235.2L325.7 239.6L322.9 242.7L318.7 243.6L314.9 241.5ZM308.8 242.3L311.3 240.1L317.3 240.5L321.2 242.9L321.4 246.1L318.3 248.1L311.8 247.8L308.9 245.4Z" fill="#fde18f" fill-opacity="1.0" stroke="#fde18f" stroke-opacity="0.50" stroke-width="1" stroke-linejoin="round"/>
<ellipse cx="340.2" cy="235.8" rx="3.6" ry="4.7" fill="#fde18f"/>
<ellipse cx="335.3" cy="234.8" rx="5.6" ry="4.4" fill="#fde18f" transform="rotate(-35 335.3 234.8)"/>
<path d="M323.8 235.7h0M327.7 235.3h0M329.8 235.7h0M325.1 239.3h0M328.5 237.2h0M326.6 236.6h0M330.4 235.7h0M327.5 239.3h0M331.3 237.1h0M324.6 239.8h0M323.4 236.5h0M325.5 237.3h0M329.4 239.4h0M327.2 239.5h0M331.6 250.5h0M331.4 245.2h0M331.7 244.1h0M334.6 250.1h0M334.6 251.5h0M330 250.3h0M328.5 249.4h0M330 248h0M333.5 245.6h0M329.8 241.6h0M335.7 229.2h0M338.2 231.8h0M338.5 229.3h0M335.1 233.7h0M337.5 233h0M341.4 230.3h0M341.5 232.9h0M336.4 232.4h0M340 230h0M335.5 232.4h0M345.8 235.2h0M354.3 232.2h0M342.4 233.9h0M341.1 238h0M354.5 233.6h0M355.7 232.2h0M351.9 237.8h0M351 231.7h0M355.5 238h0M349.4 233.3h0M342.4 235.7h0M346.8 234.7h0" stroke="#fde18f" stroke-width="2.4" stroke-linecap="round" fill="none"/>
<path d="M366 235.4h0M353.7 230.1h0M367 233.5h0M361.9 218.2h0M344.2 216.6h0M372 225.3h0M363.4 227.5h0M365.3 223.1h0M355.4 212.4h0M370.1 232.9h0M360 230.8h0M365.3 228.9h0M354.5 220.1h0M348 224.2h0M365.3 220.7h0M360.9 233h0M368.6 233.1h0M357.1 208.4h0M345.7 214.6h0M361 218.9h0M350.3 221h0M352.7 221.5h0M354.8 211.1h0M347.6 223.1h0M344.6 224.8h0M355.8 219.1h0M361.4 232h0M353.7 222.4h0M365.1 223.3h0M363.4 229.8h0M351 227.6h0M365.3 226h0M364.6 226.3h0M354.6 226.3h0M349.3 216.5h0M363.2 228.7h0M365.2 225.4h0M359.9 222h0M364.4 218h0M355.8 213.1h0M356.9 220.6h0M345 217.2h0M360.9 215.8h0M355.9 229.8h0M358.7 217.8h0M360.8 233.2h0M358.1 219.8h0M350.8 216.2h0M353.3 209h0M348.5 219.8h0M351 213.9h0M361.2 228.8h0M357.5 219h0M364.4 233.8h0M362.4 219.5h0M363.7 218.8h0M348.5 220.2h0M342.4 221.6h0M354.9 213.6h0M345.2 221.7h0M356.8 220.3h0M362.8 231.1h0M350.5 217.7h0M360.1 223.8h0M350.7 214h0M343.6 215.6h0M362.2 227.2h0M348.4 225.4h0M370.7 227.9h0M364.9 230.7h0M362.6 233.3h0M354.8 210.3h0M349.2 223.8h0M353.6 221.7h0M350.9 214.4h0M356.5 221.9h0M346.8 226h0M357.7 217.4h0M361.1 230.8h0M344.2 219.1h0M353.7 216h0M356.7 222.3h0M350.8 213.1h0M344 222.5h0M360.2 224h0M358.4 213.7h0M369.9 227.3h0M353.9 213h0M364.2 235h0M355.1 218h0M355.9 216.8h0M358.3 211.5h0M356.9 213.3h0M353.7 231.3h0M366.6 217.7h0M345.1 219h0M363.8 235.4h0M348.2 216.5h0M365.2 233.8h0M366.2 222.1h0M350 215.1h0M351 213.8h0M355.5 232.5h0M350.2 215.1h0M370.1 231.6h0M362.9 218.3h0M356.9 215.6h0M364.4 233.3h0M361.3 230.3h0M344.8 224.4h0M347.3 217.3h0M370.5 220.7h0M364.7 227.5h0M346.7 218.3h0M347.1 216.6h0M358.6 217.7h0M350.4 222.5h0M366.4 223.3h0M371.5 223.4h0M348.9 227h0M345.6 223h0M362.2 218.2h0M345.5 217.9h0M355 224.4h0M361.7 225.6h0M360.2 228.6h0M348.5 219.3h0M366.6 227.1h0M363.7 225.1h0M345.6 222.6h0M368.1 219.9h0M353.2 218.7h0M351.1 216.2h0M356.2 217.7h0M361.1 218.5h0M375.4 224.3h0M375.1 224h0M341.5 222h0M341.2 220.5h0M344 236.8h0M357 233.1h0M350 258.3h0M344.4 246.8h0M356.7 260.6h0M352.2 238.7h0M346.6 263.4h0M350 248.1h0M348.6 242.5h0M344.8 240.3h0M333.2 251.6h0M345.1 266.1h0M355.7 255.5h0M334.9 258.8h0M336.2 249.7h0M337 251.2h0M348.3 251.4h0M363.1 255.4h0M344.8 254h0M348.9 248.4h0M356.5 256.6h0M358.4 260.6h0M351.4 262.2h0M363.8 248.2h0M364.7 254.8h0M359.9 253.9h0M336.7 246.4h0M367.2 254.7h0M342.3 256.6h0M357.7 252.8h0M362.7 248h0M344.6 252.9h0M341 247h0M352 249.7h0M352.8 257.5h0M345.4 256.6h0M352.8 255.2h0M348 262.5h0M342.3 255.8h0M343.8 261.4h0M334.1 249.3h0M357.9 260.4h0M342.3 241.2h0M337.8 247.7h0M337.7 254.4h0M337.5 248.8h0M347.5 265.5h0M338.7 245.5h0M328.4 248.5h0M354.6 240.2h0M348.5 251.6h0M332.5 251.7h0M358 255.8h0M363.5 255.8h0M335.6 250.3h0M340.8 250.6h0M350.2 235.6h0M353.2 261.4h0M350.2 248.1h0M337.4 255.6h0M352.7 252.7h0M357.8 249.6h0M343.5 247.8h0M346 253.1h0M357.9 254.8h0M358.8 254.2h0M364.7 258.5h0M336.4 251h0M344.5 252.8h0M346 243.9h0M338.8 260.8h0M358.9 246.3h0M362.7 256h0M362.9 247.6h0M341.2 267h0M349.7 253.3h0M339.2 251h0M340.7 260.8h0M364.2 257.2h0M350.7 235.4h0M348.4 255.2h0M349.9 241.7h0M351.2 234.8h0M346 266.8h0M332.9 245.5h0M348.8 252.5h0M365.4 253.1h0M351.6 251.2h0M365.2 257.4h0M346.9 238.1h0M344.3 240.2h0M349.7 264.1h0M357.9 249.9h0M347.7 237.6h0M334.3 248.7h0M363.8 254.1h0M342.2 252.8h0M361.2 258.8h0M351.8 261.1h0M358.6 258h0M345.7 243.7h0M354.9 239.8h0M346.6 242.9h0M334.3 248.6h0M335.1 250.3h0M354.4 237.2h0M345.6 236.2h0M341.1 251h0M357.7 253.4h0M347.3 254.3h0M355 255.4h0M352.3 253.4h0M346.7 265h0M342.2 241.1h0M334.3 253.9h0M360.7 247.3h0M345.6 262.6h0M350.4 251h0M343.4 266.1h0M345.2 265.1h0M350.4 261.2h0M358.2 248.5h0M347.7 236.9h0M363.9 248.7h0M346.2 246.7h0M354.6 261h0M342.8 241.4h0M345.1 246.5h0M345.7 239.5h0M353.8 260.9h0M353.5 252.5h0M343.1 253.9h0M358.3 249.1h0M339.6 257.3h0M355.4 247.6h0M339.7 254h0M340 245h0M356 261.2h0M335.9 262.2h0M348.4 264.2h0M356.1 252.3h0M367.1 250.8h0M352 251.2h0M339.6 252.7h0M341.2 251h0M366.6 251.7h0M344.6 254h0M344.9 260.6h0M364 246.1h0M343.8 234.2h0M363.4 252.5h0M342.3 252.1h0M346.9 241.3h0M354.7 247.7h0M342.8 241.8h0M337.3 253.9h0M364.2 245.8h0M362.9 248.1h0M358 246.4h0M360.2 246.4h0M349.1 255.3h0M345.8 254h0M353.7 251.9h0M340.2 244.2h0M337 252.7h0M350.5 261h0M344.2 243.6h0M339 263.2h0M363.2 248.3h0M341.4 258.4h0M358.7 260.3h0M343.1 250.3h0M344.9 261.6h0M352.8 255.9h0M365.7 252.3h0M334.4 257.2h0M339.3 249.7h0M333.6 251.8h0M345.2 240.6h0M352.1 253.8h0M349.2 242h0M356.2 258.3h0M355.1 255.5h0M348.7 254.6h0M357.5 243.4h0M341 258.4h0M346.3 263.9h0M344.4 252.7h0M355.9 255.2h0M343.5 259.7h0M361.7 250.9h0M345.1 246.7h0M362.5 247.7h0M347.6 237.8h0M364 253.4h0M350.8 251.9h0M345 248.4h0M355.2 261.1h0M351.6 256.6h0M361.3 253h0M344.4 247.6h0M338.2 255.7h0M359.1 249.1h0M348 257.7h0M347.1 262.1h0M342 265.2h0M334.6 254.1h0M361.1 257.8h0M344 236.9h0M328.2 251.7h0M330.7 245.7h0M331.8 225.2h0M328 221.4h0M330.1 220.5h0M333 223.9h0M329.3 222.9h0M329 224.4h0M335.5 221.4h0M330.6 219.3h0M326.8 221.4h0M327.5 224.6h0M330.7 221.4h0M325.4 224.8h0M333.7 227h0M333 221.2h0M331.9 221.9h0M332 226.2h0M332.1 221.8h0M327.2 221.5h0M326.3 220.2h0M331.3 224h0M329 225.5h0M325.5 224.6h0M330.5 226.9h0M317.7 236.6h0M317.2 236.8h0M320.8 238h0M318.1 234.8h0M316 237.9h0M321.9 236.3h0M316.4 235.4h0M317.8 237h0M319 235.4h0M319.8 233.5h0M317 235.5h0M315.6 235.9h0M318.6 234.4h0M317.8 234.8h0M318.3 233.7h0M312.4 242.7h0M314 242.1h0M313.4 244.2h0M312.4 243.6h0M317.5 246.2h0M315.2 244.8h0M311.1 242.9h0M312 244.7h0M314.3 243.9h0M313.3 243.2h0M316.3 246.1h0M326.3 236.4h0M331.3 238.5h0M336.9 233.1h0M336.2 234.2h0M336.2 233h0M336.8 234.1h0M335.6 236.9h0M335.5 240.8h0M331.6 236.5h0M336.4 233.5h0M340.2 232.6h0M333.9 234.1h0M333.8 241.1h0M330 238.6h0M336.6 234.1h0M329.9 238.7h0M338.9 230.9h0M333.4 236h0M334.6 236.8h0M332.5 239.2h0M332.8 239.2h0M334.8 237.4h0" stroke="#fde18f" stroke-width="2.6" stroke-linecap="round" fill="none"/>
<path d="M313.6 246h0M318.8 235.4h0M317.3 245.6h0M323.3 238.6h0M312.1 244h0M320.2 235.5h0M317.7 241h0M316.6 245.9h0M317.4 245.9h0M319.4 238.7h0M313.6 243.1h0M321.8 236.2h0M318.5 237.1h0M316 243.7h0M315.2 245.6h0M317.6 237.1h0M320.4 233.6h0M311.8 245h0M317.7 243.8h0M321.6 237.3h0M320.1 237h0M318.4 234.3h0M321.2 240.1h0M318.9 237.1h0M321.1 234.6h0M311.5 242.9h0M311 242.6h0M316.9 238.1h0" stroke="#e31a1c" stroke-width="1.25" stroke-linecap="round" fill="none"/>
<path d="M317 235.1h0M316.5 244.4h0M313.8 242.4h0M316 236.9h0M317.6 243.5h0M317.3 239.8h0M317.7 243.8h0M313.8 243.5h0M316.3 237.2h0M316.2 238.1h0M319.8 240h0M320.5 233.5h0M312.9 245.3h0M320.5 238.7h0M321.9 237h0M316.1 244.1h0M321.3 239.9h0M321.2 239h0M321.3 233.9h0M320.6 234h0M312.5 243.5h0M312.2 243.1h0M315.7 242.9h0M312.9 242.3h0" stroke="#f03b20" stroke-width="1.25" stroke-linecap="round" fill="none"/>
<path d="M325.2 238.1h0M319 234.2h0M315.5 243.6h0M320.3 233.7h0M314.8 245.8h0M320.3 235.8h0M313.2 244.8h0M320 233.2h0M319.6 241.1h0M319.4 237.3h0M319.7 236.5h0M322.6 236.1h0M327.6 239.4h0M316.4 243.6h0M320.4 237.1h0M317.5 245.5h0" stroke="#fc6a2a" stroke-width="1.25" stroke-linecap="round" fill="none"/>
<path d="M313.1 243.5h0M316.9 242.5h0M318.5 233.6h0M313.6 242.5h0M319.6 238.8h0M322.6 238.1h0M320.7 241h0M316.4 236.3h0M325.3 239h0M317.5 245.7h0M318.1 247.1h0M323.3 238.2h0" stroke="#d7191c" stroke-width="1.25" stroke-linecap="round" fill="none"/>
<path d="M342.8 243.2h0M334.4 237.5h0M333.5 249.6h0M344.7 240.5h0M362.6 247.1h0M352.3 216.9h0M337.5 237h0M346.6 252.8h0M348.8 236.6h0M362.3 226.7h0M331.5 239h0M336.2 261.2h0M363.6 251h0M346.2 251.2h0M342 263.5h0M355.9 263.5h0M358.8 256.8h0M349.9 248.6h0M356.6 246.4h0M350.4 238.4h0M361.2 230.9h0M335.5 250.3h0M365 252.1h0M361 254.2h0M358.7 251.4h0M353.6 258.4h0M346.7 218.7h0M335.1 254.7h0M353.9 248.9h0M359.3 245.4h0M349.3 258.1h0M358.2 254.3h0M350.9 245.2h0M356.9 247.8h0M357.6 257.4h0M329.9 247.4h0M362 244.2h0M336.5 235h0" stroke="#e31a1c" stroke-width="1.15" stroke-linecap="round" fill="none"/>
<path d="M348.5 259.4h0M337.6 253.4h0M356.5 260.8h0M348.5 237.8h0M366.3 256.2h0M351.9 253.8h0M341.7 255.3h0M353.5 251.3h0M349.8 242.5h0M356 261h0M364 256.2h0M338.8 253.1h0M354.9 256.7h0M351.3 258.3h0M336.3 238.8h0M346.9 252.4h0M353.6 256.7h0M330.7 236.3h0M352.7 252.4h0M354.9 255.1h0M339.1 254.9h0M354.9 240.3h0M347.8 265.4h0M344 217.4h0M358.7 219.6h0M357.5 260.8h0M335.2 235.9h0M339 263.4h0M346.3 252.5h0M359.6 256.8h0M351.9 263.3h0M350.9 241.9h0M347.5 240.4h0M357.8 256.3h0M346.6 245.9h0M349.4 241.8h0M340.7 261.7h0M366.3 250.6h0M349.6 243.5h0M339.7 255.4h0M344.3 236.1h0M351.7 239.6h0M331.9 247.7h0M343.5 262.8h0M358.8 247.9h0M368 221.7h0M330.2 236.9h0M346.1 235.9h0M348.7 263.6h0M362.2 258.7h0M359.2 248.5h0" stroke="#f03b20" stroke-width="1.15" stroke-linecap="round" fill="none"/>
<path d="M358.6 247.8h0M347.1 252.5h0M352 254.3h0M345.1 248.1h0M366 226.6h0M344.8 241.8h0M363.5 256.4h0M349.8 262.8h0M338.8 257.8h0M366.1 225.6h0M350.4 260h0M345.8 254.8h0M340.4 263.3h0M357.3 251.8h0M343.9 223.4h0M350.3 250.8h0M351.7 250.4h0M333.3 251.4h0M348.9 255.6h0M345.8 239.9h0M348.9 256.1h0M367.1 249.9h0M336 252.2h0M355.1 259.5h0M343.3 247.2h0M334.6 249.2h0M361.1 245.4h0M331.1 246.6h0M340.2 248.1h0M344.1 246.6h0M335.5 246.3h0M348.5 248.3h0M350.4 244.4h0M361.7 247.5h0M359.7 250.5h0M349.8 265.2h0M344.6 248.4h0M348.9 265.8h0" stroke="#fc6a2a" stroke-width="1.15" stroke-linecap="round" fill="none"/>
<path d="M334.2 254.8h0" stroke="#d7191c" stroke-width="1.15" stroke-linecap="round" fill="none"/>
<path d="M308 204.4V270.7H380" fill="none" stroke="#6e6a6a" stroke-width="0.9"/>
<text x="326" y="284.3" font-size="9.8" text-anchor="middle" fill="#231f20">-20</text>
<text x="305.4" y="260.9" font-size="9.8" text-anchor="end" fill="#231f20">-20</text>
<text x="347.5" y="284.3" font-size="9.8" text-anchor="middle" fill="#231f20">0</text>
<text x="305.4" y="241.9" font-size="9.8" text-anchor="end" fill="#231f20">0</text>
<text x="369" y="284.3" font-size="9.8" text-anchor="middle" fill="#231f20">20</text>
<text x="305.4" y="222.9" font-size="9.8" text-anchor="end" fill="#231f20">20</text>
<path d="M326 270.7v2.4M308 257.4h-2M347.5 270.7v2.4M308 238.4h-2M369 270.7v2.4M308 219.4h-2" stroke="#6e6a6a" stroke-width="0.8" fill="none"/>
<text x="348.9" y="300.4" font-size="9.8" text-anchor="middle" fill="#231f20">tSNE_1</text>
<text x="285.4" y="238.4" font-size="9.8" text-anchor="middle" fill="#231f20" transform="rotate(-90 285.4 238.4)">tSNE_2</text>
<text x="345.6" y="195.6" font-size="9.8" text-anchor="middle" fill="#231f20">CTLA4</text>
<path d="M494.9 206.7L496.7 209.2L500.4 213.1L504.2 215.9L508.5 217.9L510.8 222.4L510.1 228.6L507.7 233.8L504.7 237.1L500.9 235.9L497.2 234.1L491.8 232.2L487.2 229.5L482.8 226.4L479.9 223L478.5 219.7L479.9 215.7L483.6 212.3L488.1 209.6L492.2 209L493.4 207.2ZM480.7 234.5L486.6 233.5L491.8 235.6L494.2 239.4L496.9 241.4L501.8 243.5L505.8 247.5L508 252.8L506.6 257.5L502.8 260.6L497.9 262.3L492.9 264.3L488.1 266.3L482.9 268.6L477.8 267.3L474.2 263.6L471.7 259.5L470.1 254.2L468.2 250.1L465.7 245.9L466.7 244.2L470.2 245.5L474.5 244.2L478.6 241.9L479.7 238ZM460.9 222.8L462.6 220.1L467.6 218.6L472.8 219.8L475.7 222.1L475.3 225L472.1 227.8L466.7 228L462.6 226.1ZM452.7 236.4L454.5 233.5L457.5 231.5L459.8 233.1L462.5 235.5L462.9 239.2L460.6 241.8L457.2 242.5L454 240.7ZM448.2 242.7L450.3 240.9L455.1 241.2L458.4 243.1L458.7 245.8L455.9 247.3L450.8 247L448.3 245.2ZM465 239.4L467.3 236.6L471.5 233.7L475.1 230.3L477.4 229.8L479 232.9L477.4 236.6L475.4 240.5L471.9 242.8L467.7 241.8Z" fill="#fde18f" fill-opacity="1.0" stroke="#fde18f" stroke-opacity="0.50" stroke-width="1" stroke-linejoin="round"/>
<path d="M464 239.8L466.2 236.6L471.3 233.2L475.5 229.3L478 228.9L480 232.3L478.5 236.6L476 241.4L471.8 243.8L467 242.6ZM459.8 222.7L461.6 219.6L467.4 217.6L473.6 219.2L476.8 221.9L476.3 225.3L472.7 228.7L466.3 229L461.6 226.6ZM451.6 236.2L453.7 232.7L457.4 230.5L460.3 232.1L463.6 235.2L464 239.6L461.2 242.7L457 243.6L453.2 241.5ZM447.1 242.3L449.6 240.1L455.6 240.5L459.5 242.9L459.7 246.1L456.6 248.1L450.1 247.8L447.2 245.4Z" fill="#fde18f" fill-opacity="1.0" stroke="#fde18f" stroke-opacity="0.50" stroke-width="1" stroke-linejoin="round"/>
<ellipse cx="478.5" cy="235.8" rx="3.6" ry="4.7" fill="#fde18f"/>
<ellipse cx="473.6" cy="234.8" rx="5.6" ry="4.4" fill="#fde18f" transform="rotate(-35 473.6 234.8)"/>
<path d="M463.5 238.6h0M462.7 239.5h0M462.3 238.8h0M468.4 239.8h0M468.4 235.7h0M461.6 237h0M463.3 239.1h0M466.6 239.9h0M467 236h0M464.6 238.3h0M465 239h0M467.3 238.1h0M464.6 239.3h0M469.3 239.7h0M466.5 248.9h0M466.4 242.3h0M470.5 246.2h0M468.5 240.8h0M468 250.1h0M469.4 250.7h0M470.6 250.3h0M467.9 240.8h0M467.2 244.2h0M470.8 245.2h0M473.9 233.3h0M472.2 232.8h0M471 231.3h0M478.1 231h0M475 233.2h0M479.7 229.7h0M471 228.5h0M478.5 233.7h0M472.3 233.1h0M479.7 229.4h0M479.7 231.1h0M490.2 237.4h0M491.2 233.6h0M493.9 231.9h0M487.9 236.8h0M485 231.7h0M480.3 233.1h0M483.3 232.9h0M481.3 236.6h0M487.4 233.3h0M479.2 232.6h0M491.5 231.8h0" stroke="#fde18f" stroke-width="2.4" stroke-linecap="round" fill="none"/>
<path d="M498.5 226.6h0M486.7 216.5h0M503.5 231h0M486.5 223.5h0M490.5 227.1h0M493.1 226.2h0M509.2 227.4h0M488.1 219.9h0M488.3 213.8h0M492.8 227.2h0M486 226.6h0M508.6 229.8h0M494.8 210h0M493.8 231.5h0M508.8 221.6h0M500.6 224.8h0M495.6 229.1h0M493.7 213.9h0M496.1 211.8h0M489.4 225.1h0M495 221.4h0M488.4 216.1h0M491.4 217.1h0M489.9 220.3h0M482.1 218.1h0M495.3 219.6h0M504.5 217.5h0M488 214.4h0M492 215.1h0M498.3 227.8h0M484.3 219.2h0M505.7 223.7h0M494.9 216.7h0M496.3 216.2h0M502.3 224.1h0M506 218.9h0M489.8 220.3h0M484.4 221.6h0M490.8 224.3h0M497.5 224.3h0M495.7 229.5h0M504.6 222.1h0M493.6 219.3h0M494.4 221.8h0M507.5 225.9h0M499.6 234.4h0M499.1 229.4h0M504.2 224.3h0M499.7 230.5h0M492 219h0M495.3 216.9h0M506.5 227.8h0M498.1 219.1h0M494 212h0M497.7 232.8h0M501.4 216.2h0M507.9 226.2h0M497.2 229.7h0M501.1 225.4h0M503.8 220.7h0M492.1 213h0M506.5 218.9h0M489 227.6h0M501.8 218.9h0M484.3 213.6h0M496.1 226.4h0M493.6 226.4h0M498.6 222.7h0M506.7 220.8h0M502 229.3h0M492.1 214.4h0M499.6 212.9h0M493.8 228.1h0M503.1 229.1h0M496.4 228.1h0M493.9 211.1h0M508 228.4h0M493.5 210.2h0M499.9 223.9h0M491.9 212.8h0M504.7 222.8h0M482.8 223.1h0M495.5 224.7h0M500 224.8h0M479.2 219.6h0M509.3 226.4h0M503.2 226.1h0M498.5 231.1h0M498.2 218.8h0M494.6 223.4h0M495 230.4h0M499.4 232h0M506 235.1h0M505.2 223.7h0M507.3 220.8h0M491.2 215.3h0M504.3 229.9h0M504.8 221.1h0M486.2 216.1h0M485.8 224.4h0M490.7 229.7h0M491.8 221h0M508.2 222.4h0M482.5 220.1h0M487.7 222.1h0M496.7 221.8h0M502.2 234.1h0M501.6 233.8h0M491.4 213.4h0M492.4 222h0M492.5 227.7h0M482.8 213.6h0M482.2 218.1h0M488 223h0M495.9 215.4h0M507.7 226.5h0M499.9 216.7h0M505.7 232.3h0M495.9 214.8h0M482.9 219h0M493.6 230.6h0M502.8 221.9h0M506.7 227h0M503.2 228.2h0M496 220.8h0M494.1 227.6h0M499.9 225.9h0M492.3 210.5h0M483.9 221.3h0M498.3 227.9h0M491.5 221.7h0M494.4 213.6h0M504.3 219.4h0M501.5 224.3h0M483.8 221.7h0M513.9 223.8h0M513.6 224.4h0M478.3 220.9h0M479.2 221h0M484.2 233.6h0M480.8 230h0M505.4 257h0M488.7 263.9h0M484.1 260.4h0M478.6 247.6h0M480.2 245h0M486 256.1h0M480 262.1h0M482.7 244.7h0M495.9 243.7h0M491.2 263.5h0M494 248.6h0M487.8 247.3h0M479.6 245.9h0M476.1 260.9h0M485.3 239.3h0M477.9 249.8h0M494.4 259h0M479.5 245.7h0M481 258.6h0M475.1 257.8h0M486 263.1h0M486.6 245.8h0M468.2 244.4h0M490.6 240.9h0M500.8 248.6h0M488.3 264.1h0M484.8 235.4h0M482 254.9h0M499.3 259.3h0M486.2 235.5h0M482.8 257.7h0M496 249.1h0M476.5 262.8h0M489.9 253h0M484.1 266.1h0M491.6 249.6h0M490.4 265.1h0M472.1 254.3h0M473.5 258.3h0M471.3 255.2h0M490.5 239.3h0M491.5 258.7h0M498.3 250.1h0M488.5 238.5h0M486.2 263.9h0M480.8 261.9h0M498.7 244.8h0M485.8 250.1h0M491.8 250.9h0M498.5 256.8h0M472.1 257.6h0M487.7 243.5h0M482.6 240.3h0M494.7 249.2h0M487.4 263.1h0M493.7 259.5h0M500.5 245.8h0M496.9 256.6h0M501 256.6h0M481.1 264h0M486.7 245.6h0M490.3 259h0M481 242h0M484 243.2h0M498 246.2h0M496 257.9h0M488.8 249.2h0M492 247.4h0M502.3 246.7h0M499.3 248.3h0M483.5 242.9h0M487.5 237h0M477.1 247.1h0M466.1 246h0M492.6 256.8h0M505.7 253h0M482 260.9h0M487.8 263.2h0M481.3 260h0M494.3 261.8h0M483.3 258.9h0M493.7 261.3h0M494.4 255.3h0M502.9 251.8h0M502.7 248.5h0M479.1 256.8h0M502.5 247.3h0M491.9 239.2h0M484.9 253.7h0M494.9 261.9h0M485.1 262.3h0M498.6 259.8h0M484.5 245.6h0M496.8 260.3h0M497 245h0M483.4 260.2h0M481.2 246.1h0M484.5 238.9h0M505 255.2h0M471.5 251.5h0M487.5 234h0M486.7 255h0M496.3 244.5h0M488.2 239.3h0M479.8 264.1h0M499.2 260.3h0M502.7 258.4h0M485.5 260h0M482 238.4h0M492.7 236.8h0M494 254.5h0M485.1 266.4h0M497.5 250.3h0M491.8 255.5h0M481 261.2h0M500.9 254.5h0M486.8 257.2h0M486.6 265.8h0M485.9 248.4h0M502.9 251.3h0M478 253.6h0M497.5 251h0M490.4 244.1h0M484 247.7h0M476.1 262.6h0M495.1 257h0M488.1 242h0M473.1 253.1h0M480.2 255.1h0M473 247.3h0M477.4 253h0M477.8 255h0M472.8 251.1h0M486.9 236.6h0M492.8 241.5h0M486.1 255.5h0M494.5 258.8h0M489.5 234.9h0M478.3 265.6h0M478 254.8h0M478.1 246.4h0M501.5 257.1h0M492.8 241.4h0M483.5 235.2h0M485.3 237.9h0M498 250.8h0M489.2 236.1h0M485.9 249.3h0M494.1 249.2h0M503.2 258.1h0M492.3 245.9h0M488.4 238.9h0M494.4 253.4h0M483.2 246.8h0M499.3 245.4h0M496.9 248.6h0M487.3 257.5h0M475 261.9h0M500.8 244.8h0M478.7 253.3h0M481.1 258.4h0M496.1 257.1h0M480.5 240.9h0M468 247.7h0M490.8 255.7h0M480.3 260.7h0M484.4 256.3h0M502.2 257.8h0M494 252.3h0M484.5 245.9h0M488.8 247.9h0M480.3 260.6h0M474.7 261.2h0M488.7 250.4h0M499.3 256.7h0M482.2 253.9h0M497.5 254.1h0M482.4 239.5h0M484.5 264.2h0M500.3 257.6h0M479 248.5h0M494 259.3h0M506.5 252.5h0M506.1 253.2h0M505.4 249.7h0M494.6 255.3h0M480 255.2h0M475.2 252.4h0M485.5 256.6h0M485.7 254.3h0M478.4 261.1h0M489.7 255.4h0M486.7 263.7h0M496.6 247.6h0M483.1 247.2h0M478.2 259h0M473 251.9h0M487.8 236.8h0M504.6 248.1h0M487.2 235.3h0M472.8 248.9h0M504 255.5h0M484.9 267.6h0M487.7 240.9h0M471.9 246.7h0M478.5 238.9h0M488.2 265.8h0M473.1 244h0M466.7 251.8h0M468.7 226.7h0M464.8 224.2h0M464.6 221.5h0M462.7 227h0M469.9 221.9h0M465.6 221.9h0M464.2 223.3h0M463.2 222.5h0M471.6 220.1h0M468.1 221.9h0M468.2 220.5h0M464.2 222.8h0M465.8 223.4h0M470.2 221h0M473.3 221.9h0M471 224h0M473.3 223h0M464.7 225.5h0M467.2 223.2h0M471.1 226.4h0M464.3 221.1h0M466.9 225.1h0M467.1 225.3h0M457.8 233.1h0M456.9 240.2h0M460.8 238.1h0M460.2 237.5h0M456.7 236.3h0M456.8 234h0M454.2 237.5h0M459.9 238.4h0M460.7 241.1h0M456.3 236.9h0M456.6 238.1h0M460.5 237.9h0M457 239.8h0M457.8 236.2h0M458.1 236.7h0M451.3 244.3h0M456.9 243.6h0M453.2 242.7h0M452.5 246.2h0M450.4 245.8h0M456.7 243.6h0M453.2 244.7h0M451.9 245.3h0M454.8 243.7h0M450 245.4h0M451.6 241.9h0M461.1 237.2h0M469.3 239.6h0M473.4 236.8h0M475 233.3h0M473.7 237.8h0M471.1 236.5h0M476 234.5h0M472 237.9h0M473.9 236h0M470.9 235.8h0M466.7 242.1h0M474.6 235.9h0M472.2 242.3h0M475.4 233.2h0M476.3 234h0M472.9 239.6h0M471.6 235.7h0M475.5 235.4h0M471.6 241h0M470.6 235.5h0M472.1 240.1h0M472.4 239.5h0" stroke="#fde18f" stroke-width="2.6" stroke-linecap="round" fill="none"/>
<path d="M469.8 225.7h0M464.8 220.2h0M465.3 228.3h0M463.4 221.3h0M467.6 225h0M472 224.2h0M468.8 221.5h0M463.8 221.9h0M472.3 226.4h0M464.2 224.7h0M469.6 225.5h0M472.9 224.9h0M462.4 221h0M465.1 226.5h0M466.8 222.6h0M466.4 223.7h0M465.4 222h0M464.6 223.2h0M462.8 223.9h0M470.1 221.3h0M468.4 224.5h0M469.1 225.6h0M468.8 221.8h0" stroke="#e31a1c" stroke-width="1.25" stroke-linecap="round" fill="none"/>
<path d="M464.5 222h0M469.7 222.4h0M464.6 222.1h0M471 221.6h0M469.8 224.4h0M468.6 224.8h0M466.1 222.7h0M465.9 223h0M464.6 225.5h0M472.4 222.8h0M469 221.6h0M469.1 219h0M464.8 226.9h0M462.6 221.6h0M472.6 223.9h0M472.5 220.3h0M467.5 222.6h0M466.7 226.3h0M467.6 221.9h0M463.2 226.2h0" stroke="#f03b20" stroke-width="1.25" stroke-linecap="round" fill="none"/>
<path d="M466.3 220.3h0M470.8 227.6h0M473.6 223.7h0M471.6 222h0M464.6 226.9h0M469.9 224.4h0M465.9 223.9h0M464.4 222h0M466.1 220.4h0M465.8 222.6h0M471.4 221.6h0M462.4 223.8h0M465.1 221h0" stroke="#fc6a2a" stroke-width="1.25" stroke-linecap="round" fill="none"/>
<path d="M463.4 221.1h0M464.5 222.5h0M472.5 221.3h0M465.8 220.7h0M469.7 225h0M467.4 224h0M461.7 223.7h0M471.6 223.5h0M466.4 223.4h0M464.6 224.4h0M469.6 221.4h0" stroke="#d7191c" stroke-width="1.25" stroke-linecap="round" fill="none"/>
<path d="M472.6 249.7h0M505.3 255.1h0M486 220.6h0M473 233.9h0M486.7 253.7h0M460.8 237.8h0M479.6 253.7h0M468.9 227h0M469.9 216.7h0M481.6 264.1h0M455 234.4h0M492.9 215.4h0M501.2 219.3h0M490.3 248.5h0M475.6 233.7h0M476.8 259h0M473.2 238.3h0M496.1 210.3h0M479.3 235h0M498.9 257.5h0M484.6 214.4h0M507.6 233h0M487.3 217.6h0M494.7 209.8h0M476.6 247.4h0M471.9 238.7h0M492.6 214.9h0M454.5 239.1h0M470.8 221.3h0M470.1 228.3h0M474.7 233.4h0M499.6 258h0M458.3 234.7h0M458.2 240.2h0M477.9 232.1h0M492.2 227.1h0M475.1 218.9h0" stroke="#e31a1c" stroke-width="1.15" stroke-linecap="round" fill="none"/>
<path d="M455.2 238.1h0M472.3 251.1h0M468.7 227.8h0M494.6 257.6h0M508.7 225.3h0M484.7 258.4h0M476.8 232.2h0M469.3 220.9h0M473.6 240.3h0M473.3 219.9h0M494.8 211.7h0M473.4 220.4h0M475.2 252.3h0M475.8 222.3h0M474.2 260.5h0M481 264.8h0M498.7 247h0M478.1 261.6h0M469.7 217.6h0M478.6 219.5h0M474.1 224.3h0M493.3 253.6h0M468.6 224.4h0M501.6 251.9h0M482.8 216.4h0M472.3 234.1h0M475.4 221.4h0M484.3 239.5h0M483.9 222.2h0M474.7 236.4h0M478.7 231.4h0M505.1 229.4h0M492.8 257.5h0M483.5 235.5h0M476.3 252.7h0M493.7 254.3h0M488.1 239.6h0M497.1 231.1h0M467.5 244.7h0M475 231.6h0M469.6 230.8h0M501.5 248.2h0M494.2 217.2h0M486 242.6h0M492.3 211.3h0M459.3 234.3h0M485.2 267.1h0M477.7 232h0M496.3 218.1h0M497.1 223.8h0" stroke="#f03b20" stroke-width="1.15" stroke-linecap="round" fill="none"/>
<path d="M456 234.1h0M469.4 218.3h0M476.5 223.8h0M474 218.5h0M481.7 250.9h0M496.3 244.2h0M474.4 218.7h0M474.3 232.2h0M459.9 235.3h0M487.5 248.5h0M505.1 248.4h0M475.4 217.3h0M484.6 246.5h0M457.9 241.1h0M477.5 256.3h0M493.2 263.1h0M508.4 223.7h0M470.5 235.6h0M487.8 237.2h0M483.1 255.2h0M476.5 230.6h0M473.8 227.4h0M472.6 231.9h0M469.9 222.8h0M471.4 248.5h0M493 221.8h0M493.8 262h0M473.2 238.3h0M475.8 234h0M471.2 224.3h0M480 265.2h0M478.4 225h0M479 246.7h0M489.1 258.7h0M459.8 238.1h0M487.2 235.6h0M455.1 238.2h0" stroke="#fc6a2a" stroke-width="1.15" stroke-linecap="round" fill="none"/>

<path d="M446.6 204.4V270.7H518.6" fill="none" stroke="#6e6a6a" stroke-width="0.9"/>
<text x="464.3" y="284.3" font-size="9.8" text-anchor="middle" fill="#231f20">-20</text>
<text x="444" y="260.9" font-size="9.8" text-anchor="end" fill="#231f20">-20</text>
<text x="485.8" y="284.3" font-size="9.8" text-anchor="middle" fill="#231f20">0</text>
<text x="444" y="241.9" font-size="9.8" text-anchor="end" fill="#231f20">0</text>
<text x="507.3" y="284.3" font-size="9.8" text-anchor="middle" fill="#231f20">20</text>
<text x="444" y="222.9" font-size="9.8" text-anchor="end" fill="#231f20">20</text>
<path d="M464.3 270.7v2.4M446.6 257.4h-2M485.8 270.7v2.4M446.6 238.4h-2M507.3 270.7v2.4M446.6 219.4h-2" stroke="#6e6a6a" stroke-width="0.8" fill="none"/>
<text x="487.2" y="300.4" font-size="9.8" text-anchor="middle" fill="#231f20">tSNE_1</text>
<text x="424" y="238.4" font-size="9.8" text-anchor="middle" fill="#231f20" transform="rotate(-90 424 238.4)">tSNE_2</text>
<text x="480.4" y="195.6" font-size="9.8" text-anchor="middle" fill="#231f20">XCL1</text>
<path d="M633.1 204.5L634.9 207L638.6 210.9L642.4 213.7L646.7 215.7L649 220.2L648.3 226.4L645.9 231.6L642.9 234.9L639.1 233.7L635.4 231.9L630 230L625.4 227.3L621 224.2L618.1 220.8L616.7 217.5L618.1 213.5L621.8 210.1L626.3 207.4L630.4 206.8L631.6 205ZM618.9 232.3L624.8 231.3L630 233.4L632.4 237.2L635.1 239.2L640 241.3L644 245.3L646.2 250.6L644.8 255.3L641 258.4L636.1 260.1L631.1 262.1L626.3 264.1L621.1 266.4L616 265.1L612.4 261.4L609.9 257.3L608.3 252L606.4 247.9L603.9 243.7L604.9 242L608.4 243.3L612.7 242L616.8 239.7L617.9 235.8ZM599.1 220.6L600.8 217.9L605.8 216.4L611 217.6L613.9 219.9L613.5 222.8L610.3 225.6L604.9 225.8L600.8 223.9ZM590.9 234.2L592.7 231.3L595.7 229.3L598 230.9L600.7 233.3L601.1 237L598.8 239.6L595.4 240.3L592.2 238.5ZM586.4 240.5L588.5 238.7L593.3 239L596.6 240.9L596.9 243.6L594.1 245.1L589 244.8L586.5 243ZM603.2 237.2L605.5 234.4L609.7 231.5L613.3 228.1L615.6 227.6L617.2 230.7L615.6 234.4L613.6 238.3L610.1 240.6L605.9 239.6Z" fill="#fde18f" fill-opacity="1.0" stroke="#fde18f" stroke-opacity="0.50" stroke-width="1" stroke-linejoin="round"/>
<path d="M602.2 237.6L604.4 234.4L609.5 231L613.7 227.1L616.2 226.7L618.2 230.1L616.7 234.4L614.2 239.2L610 241.6L605.2 240.4ZM598 220.5L599.8 217.4L605.6 215.4L611.8 217L615 219.7L614.5 223.1L610.9 226.5L604.5 226.8L599.8 224.4ZM589.8 234L591.9 230.5L595.6 228.3L598.5 229.9L601.8 233L602.2 237.4L599.4 240.5L595.2 241.4L591.4 239.3ZM585.3 240.1L587.8 237.9L593.8 238.3L597.7 240.7L597.9 243.9L594.8 245.9L588.3 245.6L585.4 243.2Z" fill="#fde18f" fill-opacity="1.0" stroke="#fde18f" stroke-opacity="0.50" stroke-width="1" stroke-linejoin="round"/>
<ellipse cx="616.7" cy="233.6" rx="3.6" ry="4.7" fill="#fde18f"/>
<ellipse cx="611.8" cy="232.6" rx="5.6" ry="4.4" fill="#fde18f" transform="rotate(-35 611.8 232.6)"/>
<path d="M606.4 236.8h0M605.1 235.5h0M600.8 236.1h0M600 236.6h0M602.3 234h0M605.7 235.2h0M605.5 235.2h0M602.6 236.6h0M604.7 234.5h0M606.3 237.5h0M599.5 233.2h0M603.7 235.5h0M605.7 236.9h0M606.3 235.6h0M609.3 248.7h0M610.1 249.4h0M610.4 247h0M609.7 245.3h0M607.1 246.5h0M606.5 239.6h0M609.2 244.7h0M607.6 245.9h0M608.2 245.6h0M610.4 242.9h0M613.3 227.7h0M610.1 225.8h0M613.5 230.3h0M615.7 229.5h0M615.9 230.2h0M617.9 227.4h0M612.7 226.3h0M616.6 230.4h0M614.9 229.6h0M609.7 227h0M631.9 231.3h0M633.4 232.1h0M630.1 229h0M629.1 229.5h0M621.8 232.7h0M621.5 233.9h0M623.1 232.9h0M629.4 235.7h0M626.2 232.6h0M624.3 235.3h0M623.9 230h0M627.5 233.3h0" stroke="#fde18f" stroke-width="2.4" stroke-linecap="round" fill="none"/>
<path d="M623.1 222.9h0M644.8 223h0M627.3 226.2h0M639.7 215.5h0M635.2 230.4h0M646.9 227.7h0M640.8 229h0M644.3 215.9h0M634.8 230h0M624.2 214.3h0M642.2 230.2h0M635.2 223.9h0M623.6 216.5h0M626.4 219.5h0M625.3 224.5h0M638.5 231.1h0M624.5 225.9h0M622.5 219.4h0M640.4 231.5h0M626 222.3h0M637.9 219.4h0M628.4 209.9h0M643.4 227.2h0M624 216.8h0M634.4 216.3h0M640.2 222.8h0M626 220.5h0M632.7 220.4h0M627.1 226.3h0M637.9 219.7h0M628 227.2h0M638.9 219.7h0M627.8 212.1h0M630.9 228.5h0M638.7 227.4h0M629.2 217.6h0M640.4 220.9h0M630.7 222h0M630.7 226.4h0M636.8 226.3h0M620.5 213.9h0M626.9 214.2h0M627.2 213.4h0M637.3 216.4h0M624.3 220.2h0M640.2 226.5h0M639.3 214.1h0M639.5 220.9h0M629.7 215.4h0M631.8 210.1h0M623.3 220.9h0M630.3 217.3h0M642.1 226.8h0M634.4 226.7h0M645.6 219.1h0M626.2 223h0M641.8 225.4h0M635.8 219.2h0M626.1 219.3h0M641.6 213.9h0M643.9 221.7h0M622.1 210.6h0M640.3 226.6h0M628.9 211.5h0M622.8 211.5h0M618.9 213.3h0M620.7 211.3h0M631.6 208.9h0M634.8 219.3h0M642.7 216.4h0M631.4 224.1h0M637.3 221.9h0M643.4 232.6h0M635.3 208.9h0M632 229.3h0M619.5 219.9h0M623.9 210.3h0M623.8 217.6h0M646.3 221.7h0M641.5 221.6h0M642.7 220.8h0M645.3 222.3h0M621.8 218.3h0M627.8 217.3h0M623.1 216.4h0M637.3 228.5h0M632.6 226h0M627.6 222.4h0M636.1 209.1h0M636.5 222.3h0M635.5 220.5h0M630.1 222.1h0M621.9 218.1h0M632 227.6h0M640.8 214.8h0M638.6 223.1h0M629.8 211.1h0M617.6 216.7h0M631.4 212.5h0M642.1 225.3h0M618.3 216.6h0M637.7 218.7h0M634.3 212.5h0M641.4 231.8h0M642.5 220.9h0M641.6 229.8h0M634 225.5h0M625.6 221.8h0M639 229.3h0M633.6 221.2h0M622.7 216h0M639.2 217.6h0M622.8 215.8h0M631.5 224.1h0M638 214.1h0M644.2 221.6h0M622.2 211.3h0M624.1 214.7h0M636.7 214.8h0M632.9 224.8h0M619 219h0M642.1 225.2h0M647.5 221.8h0M645.1 226.2h0M633.4 210.4h0M627.5 225.4h0M635.3 210.9h0M640.5 227.6h0M636.8 222h0M625.9 209.3h0M637.8 225.5h0M632.8 213h0M625.5 226.3h0M637.4 230.1h0M638.1 232.6h0M651.7 221.9h0M652 222.2h0M618.7 218.7h0M617 218.4h0M624.3 227h0M628.2 235.5h0M618 259.7h0M632 248.3h0M608.2 249h0M637.7 247.7h0M618.9 236.7h0M631.5 243.5h0M624.7 237.1h0M623.4 256.1h0M635.6 244.7h0M624.6 247.1h0M635.7 247h0M624 233.6h0M643.9 253.5h0M625.2 239.9h0M619.5 237.3h0M628.1 259.8h0M621 242.7h0M623.1 264.3h0M622.8 244.8h0M639.2 255.4h0M619.8 256.9h0M630.8 237.9h0M610.2 245.1h0M614 243.6h0M615.3 257.5h0M613.9 260.3h0M633.7 245.2h0M616.7 242.3h0M627.6 242.4h0M619.9 264.6h0M609 251.5h0M617.3 245.3h0M607.2 248.6h0M622.6 248.6h0M627.1 237.5h0M628.8 245.9h0M637.4 256.1h0M610.1 253.8h0M622.2 261.2h0M618 253.2h0M615.6 260.1h0M629.7 260.8h0M623.6 250.5h0M621.7 243.5h0M626.4 234.7h0M624.3 239.2h0M615.8 251.2h0M625.5 248h0M619.9 263.1h0M606.4 245.8h0M625.3 248.5h0M630.1 255h0M612.2 253.5h0M619 236.9h0M635.1 247.7h0M614.7 256h0M640.2 255.5h0M639 245.4h0M623.6 247.7h0M610 253.1h0M634.5 257.5h0M615.7 258.5h0M618.2 235.4h0M621.4 236.4h0M626.4 253.3h0M619.2 233.7h0M631.7 244.6h0M610.7 244h0M619.8 236h0M624.7 254.3h0M622.3 249.4h0M638.2 247.3h0M620.1 257.1h0M623.2 255.9h0M626.6 241.3h0M620.6 236.4h0M640.6 247.2h0M622.4 233.8h0M621.6 247.1h0M616.9 257.7h0M626.2 237.5h0M626 237h0M627.2 244.1h0M616.5 247.6h0M621.9 234.3h0M622.4 255.9h0M626.1 245.5h0M623.1 248.4h0M625.7 247.1h0M638.4 251.3h0M620.3 259.6h0M619.8 244h0M632.2 255.6h0M615.1 257.9h0M617.6 258.1h0M619.1 251.6h0M633.9 248.4h0M631.4 239.2h0M619 243.7h0M607.2 244.6h0M633.2 254.1h0M615.3 254.8h0M610.4 245.5h0M621.6 239.7h0M633.5 255.7h0M637.1 257.4h0M616.1 249.6h0M628 237.1h0M620 263.4h0M639.6 244.9h0M612 253.7h0M621.2 264h0M631.8 243.1h0M613.1 255.6h0M627.2 241.6h0M635.1 251.6h0M613.5 250.7h0M630.9 246.3h0M618.1 261.4h0M638.8 245.3h0M627 234.3h0M621.9 237.8h0M620.5 251h0M631.6 244.6h0M641.2 251.7h0M627.9 241.4h0M617.3 240.4h0M620.2 261.1h0M616.7 248.2h0M623.1 234.8h0M612.5 243.6h0M619.2 261.2h0M618.5 237.9h0M640.8 247.2h0M613.6 253.1h0M622 241.1h0M637.9 253.2h0M617.4 251.9h0M621.3 240h0M611.3 253.3h0M633.8 247.7h0M614.8 256.9h0M613.4 249.6h0M627.5 246.7h0M643 249.7h0M632.7 241h0M610.6 255.2h0M631.1 247.3h0M639.4 250.7h0M641.1 248.3h0M633.1 254.7h0M628.3 237.8h0M619.3 264.5h0M618.6 240.7h0M615.9 259.1h0M634.5 246.4h0M619.7 248.1h0M610 254h0M619.3 262.7h0M629.1 241.5h0M636.9 245.1h0M620.7 263.3h0M623.7 240.2h0M629.6 239.9h0M630.2 247.8h0M614.7 243.5h0M629.7 241.6h0M620.2 252.9h0M629.9 249.6h0M622.7 251.6h0M622.2 254h0M625.9 262.4h0M625.6 253.2h0M631.6 248.4h0M622.5 250.4h0M619.3 241.7h0M642.4 250.7h0M642.5 253.2h0M629.4 257.6h0M621.3 262.6h0M641.5 253.9h0M628.2 236.8h0M635.1 257.9h0M614.7 261.3h0M623.6 241.5h0M613.8 254.5h0M614.6 254h0M633.6 251.8h0M623.9 233.7h0M619 254.5h0M630.1 261.6h0M624.3 262.4h0M616 257.8h0M622.5 264.1h0M621.7 250.8h0M637.1 244h0M636.5 253.4h0M623.6 250.6h0M625 253h0M629.2 246.1h0M629.9 237.7h0M623.5 251.7h0M622.4 236.7h0M615.3 244.5h0M623 260.4h0M628.5 235.9h0M640.7 249.4h0M611 243.6h0M610.4 248.1h0M607.6 222.2h0M608.4 222.7h0M611.3 221.4h0M608.2 217.2h0M600 218.8h0M605.7 217.7h0M606.8 220.6h0M611.2 222.6h0M604.5 220.2h0M604.8 221.6h0M604.8 217.8h0M602.9 222.8h0M602.1 220.2h0M611 220h0M602.8 222.6h0M606.8 220.4h0M604.5 222.1h0M606.9 219.2h0M600.8 219.9h0M607.6 216.4h0M611.7 220.9h0M606.1 224.4h0M609 224.1h0M597 232.4h0M596.2 235.5h0M596 230h0M596.2 236.8h0M594.3 235.7h0M595.3 232.9h0M598 235.1h0M596.3 236.2h0M597.5 233.7h0M598.2 234.3h0M597.7 237.9h0M595.8 237.2h0M595.4 232.4h0M593 235.8h0M597.8 234.2h0M592.3 240.2h0M591.7 241.9h0M592 241.3h0M588.7 242.6h0M595.9 241.9h0M589.3 239.2h0M592.3 240h0M590.2 241h0M591.2 241.6h0M591.3 239.6h0M593.3 241h0M604.3 234.2h0M611.4 234.1h0M609.2 237h0M612.9 229.4h0M606 233.7h0M606.7 240.6h0M608.7 237.2h0M613.1 234.5h0M608.9 239.1h0M613.4 232.4h0M611.4 231.7h0M607.7 236.8h0M607.2 233.4h0M605.6 237h0M611.1 239.7h0M613.4 233.5h0M612.5 231.3h0M604.6 237.5h0M610.8 236.4h0M609 235.2h0M610.7 236.4h0M608.6 234.8h0" stroke="#fde18f" stroke-width="2.6" stroke-linecap="round" fill="none"/>
<path d="M612 232.7h0M616.2 231.9h0M612 229.7h0M614.3 234.1h0M614.4 230.5h0M613.7 231.6h0M611.6 227.8h0M613.3 229.1h0M614.3 229.2h0M611.2 233h0M614.7 232.7h0M613 231.5h0M611.1 230.8h0M611.6 233.5h0M611.1 230.1h0M614.5 234h0M613.4 232.9h0M614.6 229.8h0M613.6 232.9h0M612 228.3h0M615.5 232.2h0M614.9 228.8h0M612.2 230.8h0M610.9 234.8h0" stroke="#e31a1c" stroke-width="1.25" stroke-linecap="round" fill="none"/>
<path d="M614.5 231.8h0M613.1 234.3h0M615.4 233.4h0M615.9 232.3h0M614.9 231.8h0M612.3 232.2h0M611.7 232.8h0M614.9 231.5h0M612.9 231.3h0M614.4 232h0M611.9 233.7h0M611.9 233.4h0M613 229.7h0M613.2 235.2h0M613 232.3h0M613.8 235.2h0M613.5 233h0M613.6 232.4h0M613 232.8h0M612.3 228.6h0M612.9 232.9h0" stroke="#f03b20" stroke-width="1.25" stroke-linecap="round" fill="none"/>
<path d="M613.3 232.8h0M613.6 231.4h0M612.8 232.7h0M611 233.7h0M616.8 234.6h0M614.4 232.2h0M612.5 232.8h0M612.1 233.1h0M613.5 230.6h0M611.5 233.9h0M613.6 230.7h0M612 231.9h0M612.5 230.7h0M615.9 229.6h0" stroke="#fc6a2a" stroke-width="1.25" stroke-linecap="round" fill="none"/>
<path d="M612.8 233h0M614.9 232.4h0M612.2 231.3h0M614.4 231.3h0M613.5 231.1h0M610.5 230.2h0M612.3 231h0M610.7 230.8h0M613.7 233.2h0M616.9 229.1h0M612 231h0" stroke="#d7191c" stroke-width="1.25" stroke-linecap="round" fill="none"/>
<path d="M595.6 230.8h0M612.9 236.3h0M594.7 241.8h0M611.9 239.9h0M605.8 231.2h0M610.8 236.7h0M617.3 239.7h0M607.9 238.5h0M604.6 226.6h0M615.6 239.1h0M610.2 241.4h0M590.9 240.2h0M616 237.5h0M613.1 233h0M610.2 236.3h0M595.2 235.4h0M602.5 229.4h0M619.5 232.1h0M609.4 234h0M609.5 237.5h0M604.8 237.5h0M624.4 222.9h0M615.4 234.9h0" stroke="#e31a1c" stroke-width="1.15" stroke-linecap="round" fill="none"/>
<path d="M619.4 238.3h0M606.3 235.9h0M594 232.9h0M607.8 237.5h0M612.9 229.7h0M610.2 234.9h0M605.1 235.4h0M605.2 234h0M606 237.5h0M612.4 237.9h0M625.5 239.2h0M636.5 244h0M610.4 231.3h0M634.6 224.3h0M605.6 229.7h0M607.3 237.6h0M617.9 240.9h0M594.8 235.5h0M615.5 232.1h0M615.3 234.8h0M595.1 238.8h0M604 234.3h0M616.5 231.1h0M610.6 231.6h0M609.6 232.3h0M604.9 233.4h0M608.1 229.3h0M639.6 255.5h0M614.8 258.6h0M613.7 234.1h0" stroke="#f03b20" stroke-width="1.15" stroke-linecap="round" fill="none"/>
<path d="M637.1 212.8h0M632.8 210.2h0M608.2 238.5h0M609 232.4h0M645.8 224.1h0M609.5 229.9h0M592 242.2h0M607.9 239.6h0M608.9 238.4h0M596.3 233.3h0M611.6 232.8h0M634.7 215.7h0M607.6 235.3h0M633.6 225.1h0M612.5 256.9h0M613.2 240.1h0M610.8 232.5h0M631.1 253.7h0M628.9 218.7h0M590 242h0M633.5 259.1h0M615.2 240.9h0M611.7 235.6h0" stroke="#fc6a2a" stroke-width="1.15" stroke-linecap="round" fill="none"/>

<path d="M584.4 202.2V268.5H656.4" fill="none" stroke="#6e6a6a" stroke-width="0.9"/>
<text x="602.5" y="282.1" font-size="9.8" text-anchor="middle" fill="#231f20">-20</text>
<text x="581.8" y="258.7" font-size="9.8" text-anchor="end" fill="#231f20">-20</text>
<text x="624" y="282.1" font-size="9.8" text-anchor="middle" fill="#231f20">0</text>
<text x="581.8" y="239.7" font-size="9.8" text-anchor="end" fill="#231f20">0</text>
<text x="645.5" y="282.1" font-size="9.8" text-anchor="middle" fill="#231f20">20</text>
<text x="581.8" y="220.7" font-size="9.8" text-anchor="end" fill="#231f20">20</text>
<path d="M602.5 268.5v2.4M584.4 255.2h-2M624 268.5v2.4M584.4 236.2h-2M645.5 268.5v2.4M584.4 217.2h-2" stroke="#6e6a6a" stroke-width="0.8" fill="none"/>
<text x="625.4" y="298.2" font-size="9.8" text-anchor="middle" fill="#231f20">tSNE_1</text>
<text x="561.8" y="236.2" font-size="9.8" text-anchor="middle" fill="#231f20" transform="rotate(-90 561.8 236.2)">tSNE_2</text>
<text x="619.6" y="192.8" font-size="9.8" text-anchor="middle" fill="#231f20">CCR7</text>
<text x="0.6" y="334" font-size="14.5" fill="#231f20">e</text>
<rect x="6.6" y="342.7" width="205.3" height="188.7" fill="#14150c" stroke="#4b97d4" stroke-width="1"/>
<g clip-path="url(#cm)">
<rect x="7.2" y="343.2" width="204.2" height="187.6" filter="url(#olv)"/>
<g fill="#06060c" fill-opacity="0.75" filter="url(#b8)"><ellipse cx="70" cy="398" rx="7" ry="5"/><ellipse cx="22" cy="515" rx="9" ry="7"/><ellipse cx="48" cy="372" rx="6" ry="4"/><ellipse cx="150" cy="470" rx="8" ry="5"/><ellipse cx="120" cy="360" rx="7" ry="4"/><ellipse cx="30" cy="440" rx="6" ry="4"/><ellipse cx="180" cy="420" rx="6" ry="5"/><ellipse cx="95" cy="500" rx="7" ry="4"/><ellipse cx="140" cy="395" rx="6" ry="4"/></g>
<g filter="url(#b4)">
<path d="M130.5 490.2l0.8 0.1M152.2 523.8l-0.1 1.9M135.9 495.9l0.1 1.2M94.5 386.1l-1.7 0.2M202.5 394l0.8 0.5M47.3 495.5l0.4 1M181.2 528.4l0.7 1M150.9 516.3l-1.9 0.4M53 382l-1.2 1.4M202.6 471.6l-1.1 0.5M97.9 358.1l-1.1 0.1M96.9 439l0.3 0.1M7 470.1l0.4 0.8M104.3 379.6l-1.2 0.5M46.4 487.2l-0.5 0.3M46 364.5l-1.2 0.9M154.9 436.3l0.3 1.8M109.3 464.6l-1 1.8M41.9 505l0 1.2M62.7 480.3l1.7 1M152.3 403l0.5 0.3M89.8 393.4l-1.3 0.8M174.1 459l0.2 2M61.2 435.1l-0.6 0.1M9.9 367.2l-0.5 0.1M206 490.8l-0.5 0.2M22.6 489.3l0.6 0.5M128 496.7l-0.1 1.9M72.1 515.3l-0.4 1.3M195 441l0.1 0.6M9.4 432.5l0.5 1.8M187.3 447.5l0.1 1.2M43.1 348.1l-0.4 1M135.2 415.1l0.3 0.6M43.6 383.1l0.5 1.2M59.5 386.9l-0.1 1.1M162.1 477.9l0.6 0.9M32 508.8l-0.2 0.4M177.1 400.5l-2 0.1M147.7 415.8l0.1 0.4M130.2 526.2l-0.7 1.1M12.3 429l1.8 1M208.1 479l0.4 0M95.2 357.1l0.1 1M67.5 440.7l0 1.9M165.7 369.2l-1.4 0.8M154.1 518.8l0.2 0.4M63.7 382.1l0 0.6M162.7 463.3l-0.3 1.1M42.6 457.3l1 1.3M123.5 404.6l-0.8 1.6M103.1 368.8l1.1 1.5M146.7 393.4l1.8 1.1M78.2 455.8l0.2 0.5M128.4 387.5l1.2 0.2M83.8 392.4l0.2 0.8M8.6 493.6l-0.1 1M127.7 397.1l-0.4 1.5M127.6 519l-0.9 0.7M19.3 488.2l-0.4 0M137.6 430.2l-1.6 1.3M46.2 489.7l-1.6 1M94.4 513.7l-0.9 1.6M201 360.2l-1.9 0.7M147.3 519.7l-0.3 0.5M159.8 453.9l-1.4 1.4M145.8 399.9l-0.7 0.5M9.2 447.2l-0.5 1.4M149.9 434.9l0.5 1.4M194.9 465.8l-1.9 0M83.3 415.1l0.6 2M55.7 526.6l-0.2 0.4M142.5 485.8l0.5 0.6M45.5 442l0.8 2M13.3 385.8l0.1 0.3M204.6 506.6l2 0.6M171.7 506.1l0.5 0.6M51.2 494.8l0.3 0.4M206 471.3l-0.9 0.5M68.2 410.2l-1.9 0.5M12.1 352.8l1.3 1M8.7 485.9l1.7 0.6M186.2 456.9l1.5 0.1M166.6 511.1l-0.2 0.4M33.4 383.5l-0.5 0M13.6 487.4l-0.9 0.5M85.6 474.2l1.5 1.4M85.6 409.9l1.2 1.5M197.5 453.7l0.3 1.7M64.3 351.3l0.3 0.7M22.9 522.5l0.9 1.9M162.2 391.6l-1 1.7M61.9 402.8l-1.7 0.6M209.2 447.5l0.6 0.8M191.8 439.4l0.5 1.4M74.3 493.9l-1.3 1M109.4 516.2l-0.1 0.9M195.5 424.8l0.4 2.1M178.8 485.3l-0.3 1.8M168.7 354l0.3 1M191.8 487l-0.1 2.1M79.5 529.7l0.8 0.2M20.3 507.7l-0.1 0.7M102.9 403.2l-0.9 1.4M62.8 458.8l-0.7 1.6M61.3 367.7l-0.7 1.5M197.9 369.7l0.6 0.2M88.7 447.9l-0.6 0.2M112.8 437l0.4 0.2M116.8 438.3l2 0.6M139.7 480.4l0 0.3M61.4 417.1l-0.7 1.6M89.8 477.5l-1 1.3M69.3 497.2l-0.6 1.9M113.8 428l0 1.9M112.4 501.7l0.8 1.1M69.8 495.5l1.3 0.5M167.8 441.6l0.9 0.7M185 520.1l0 0.5M167.5 411.9l0.5 0.4M135 450.9l1.5 1M169.9 435.4l0.1 0.5M200.3 345l1.9 0.5M156.5 448.6l0.8 0.8M196.3 496.7l1.7 0.6M10 456.4l-1.2 1.3M80.8 519.9l1.4 0.6M58.4 431.1l-1 0.2M166.7 456.2l-1.8 0.2M58.5 501.1l-0.5 0.2M147.1 515.2l-1 1.4M55.9 358.6l1.2 0.2M169.4 360.6l-0.5 0.4M16.9 358.4l1.8 0.2M141.4 480.7l0 1.2M40.5 484.8l0.1 0.5M37.8 473.4l0.1 1.1M159.8 343.2l-0.2 0.4M52.2 514.6l1.3 1.2M164.4 360.6l1.5 1M66.2 448.3l-0.9 1.5M76.8 447.4l-1.1 0.4M26.5 530.4l1.4 0.7M178.2 509.5l-0.6 0.2M30.6 354.8l-1.7 0.6M145.8 520.3l-1.6 1.4M26.2 426.7l-0.3 0.2M31.1 349.9l1.3 1.6M167.1 371.5l0.4 0M117.2 478.3l0.1 0.4M172.5 400.2l1.6 0.4M84.8 411.4l-0.3 0.3M193.4 438.6l-0.2 1.4M150.7 367.1l0.8 0.5M144.3 497.8l-0.2 1.2M199.7 409.2l0.3 0.5M116 390.3l-0.4 0.1M71.4 470.8l-0.1 0.4M140.8 453.9l1.3 1.4M156.2 523.6l0.5 0M123.1 503.7l0.9 1.9M14.7 475.6l0.1 1.4M89.6 400.4l1 0.4M88.5 382.3l-0.4 1.3M79.4 417l-1.1 0.5M105.8 346.8l0.5 0.5M156.2 475.7l-0.2 0.9M78.9 374.7l-0.1 0.5M122.2 496.9l-0.5 0.5M124.3 387.9l0.9 0M140.5 408.1l0.6 0M23.5 494.4l-0.5 2M206.4 517.5l0.7 2M94.8 374.6l1.4 1.1M108.5 523.7l-0.5 1.1M130.6 419.7l0.7 1.8M68.9 510l-1.8 1.2M58.4 350.4l1.3 1.3M134.6 493.9l0 1.2M195.8 506.8l-1.2 0.9M29.2 472.4l-0.5 0.1M101.7 520l1.3 1.4M77.4 349.7l0.6 1.2M82 358.7l0.5 0.6M39 381.2l0.7 0.3M179.8 441.3l1.6 1.5M166.6 517.1l0.4 0.5M44.1 507.1l1.3 0M114.4 486.5l0 0.9M191.9 486.8l-0.1 0.6M7 355.6l0.6 0.3M68.1 385.6l0.3 0.4M8.2 501.6l-0.5 0.2M151.3 466.5l1.6 0.2M78.9 466.5l-1.1 0.2M119.3 407.8l1.1 0.2M69.2 439.8l1.5 0.2M143.4 402.7l-0.8 0.4M105 346.6l0.3 1.3M107.1 457.4l0.8 2M135.5 417.2l1.7 1.2M140 510.6l-0.7 0.6M138.2 498.5l0.6 0.5M168.7 404.2l-0.1 0.3M209.7 367.3l-0.3 0.2M115.7 482.2l-0.3 0.6M198.1 403.5l0.1 2.1M125.3 451.2l-0.6 1.5M36.6 354.9l0.6 0.6M31.5 497.4l-0.2 0.3M60.2 438.7l1.4 1.6M70.8 380.6l0.7 0.4M148.1 455.2l-0.2 0.8M79.4 375.1l-0.9 1M120.7 445.2l-0.6 1.2M10.4 349.2l-0.4 0.6M66.5 497.4l-0.4 0.2M60.6 439.8l-1.1 0.1M144.6 525.6l-0.5 0.2M79.7 378.3l-0.1 1.2M203.1 351.9l0.5 2M197.9 360.8l0.3 0M49.5 444.4l-1.7 0.7M120.6 468.4l1.4 0.6M81.6 434.7l1.6 1.2M202.8 377.7l0.7 0.8M128.3 387.7l-0.4 0.3M199.1 412.7l-1.5 0.6M139 400.6l0.8 0.2M51.7 369.1l0.3 0.4M14.8 356.8l0.2 1.8M188.9 436l0.4 0.6M16.4 383.1l0 1.5M185.6 493.8l1.9 0.5M104.6 349.2l0.7 1M114 402.3l0 0.7M209.7 517.7l1.5 0.2M147.5 372.2l0.6 0M207.3 380.8l-0.3 0.4M27.4 373.4l0.1 0.3M57.5 509.5l1.8 0.2M158.6 498.9l1.6 1.4M70.8 364.4l-1.8 0.5M17.4 422.1l0.3 0M183.3 427.3l-0.3 1.2M131.4 475.3l-0.1 0.8M74.6 398.5l0 0.7M102.4 442.3l-0.2 0.7M15.7 495.9l-0.9 0.8M106.8 517.2l0.8 0.9M164.2 483.6l0.1 0.7M121.9 400.2l-0.3 0.9M144.8 366.9l-0.3 0.1M53.7 515l2.1 0.3M128.8 489.4l0.8 1.1M17 480.5l-1 1.8M155 375.4l-0.1 1.3M14 495.7l0.3 0.3M180.5 492.3l1.9 0.2M77.3 436.9l-1.7 0.9M153.5 369.2l-1.9 0.5M61.2 431.4l-1 0.7M113.8 519.4l-1 1.2" stroke="#0b137a" stroke-width="4.3" stroke-linecap="round" fill="none" stroke-opacity="0.7"/>
<path d="M167.6 442.3l-1.9 0.6M206.8 387l1.4 0.2M30.4 362.7l-0.6 0.1M145.3 386.7l-0.1 0.6M143.7 522l1.4 0.5M50.5 465.8l-1.1 1.1M45.3 454.1l-0.8 0.2M141.2 478.5l-0.2 0.7M60 363l0.8 2M162.9 489.7l-0.5 0.7M131 415.3l0.1 0.4M120.9 404.9l-1.8 0.5M49.3 484.1l-1.2 0.5M137.7 390l0.9 0.6M9.3 383.2l1.7 0.7M46.1 431.7l1 1.6M195.1 481.5l0.5 0.1M152.2 374.4l-0.8 2M11.9 438.7l-2 0.8M142.6 489l-0.2 1M16.1 400.5l0.3 0.9M85.7 517.3l-1.5 0.7M161.5 434.4l-1.7 1.3M123.6 431.6l1.9 0.4M64.2 475.7l0.2 0.5M93.3 390.7l0.1 1.2M189.4 424.1l0.4 0.2M172.2 530l-1.6 0.5M167 524.4l1.8 0.4M34.3 381.7l1 0.3M150.2 485.3l0.3 1.4M138 346.1l-0.2 0.4M192.8 363.5l1.7 0.1M177.6 493.8l-0.9 0.1M185.6 431.1l-1.7 0.4M194.9 474.3l-0.1 0.4M9.3 529.1l0 0.5M64.2 425.6l0.7 0.1M29.7 527.7l1.1 0.1M159.4 478.1l0.9 0.6M80.4 478.7l-0.7 0.2M23.6 510.9l-1.2 1M163.7 472.6l0.7 0.3M163.7 408.5l-0.7 1.1M184 491.8l-0.3 0.7M99.2 397.9l1.5 0.6M171.4 398.4l0.3 0.1M165.9 475.5l1.1 1.4M92.9 348l-0.9 0.7M82.6 472.3l-1.1 1.2M199 352.7l0.1 0.3M49.3 427l-0.8 1.9M70.5 389.2l0.4 0.9M90.6 344.8l0.8 0.2M9 395.6l0.6 0.5M91.9 411.9l0 0.9M105 523.3l0.3 1.8M83.3 412.7l-0.3 0.2M76.9 421.3l0.7 0.3M151.5 386l0.4 1.3M211.4 381.2l-0.4 0.7M38.7 487.5l0.5 1.1M131.1 476l1.1 1.3M178.1 403.9l0.2 0.3M145.6 374.8l1.8 0.2M55.1 474.4l-0.4 1.5M93.2 430l-0.6 1.3M114.2 408l-1.4 0.1M145.7 397.6l-0.9 0.7M70.1 406.2l0.3 0.6M169.2 440.9l-0.4 1.4M122 462.8l-0.1 2.2M167.2 347l1.3 0.9M54.9 429.3l-0.6 1M43.7 491.3l0.9 1.8M128.4 431.2l0.7 0.4M77.3 379.8l1 0.7M142.4 432.8l0.9 1.4M63.4 523l1 0.2M60.2 505l-0.1 0.5M103.6 429.2l0.6 0.7M115.5 519.2l0.7 2M110 428.8l-0.9 1M159.2 518.5l0.9 0.4M73.8 356.8l-1.9 0.8M9.1 495.8l0.6 0.9M186.2 426l-1 0.3M60.3 515.7l0.6 0M37.1 426.1l0.2 0.8M15.7 481.6l-0.5 0.6M67.6 424.6l-0.4 0.3M159.3 480.5l0.9 1.5M66.2 469.7l1 0.6M13.5 357.9l0.8 0.1M28 478.8l-0.6 0.5M155.1 361.2l-0.1 1M113.3 381.9l0 1.1M120.7 419.2l-0.5 0.4M192.1 482.2l1 1.7M76.3 510.9l2.1 0.5M200.8 494l0.7 0.6M34.3 343.1l0.6 0.3M119 502.4l-0.2 1M173.4 361.5l2 0.5M81.6 462l-0.7 0.7M121.4 351.3l-1 0.2M11 452l-0.9 0.8M19.8 458.3l-0.2 1.2M121.5 390.4l-0.6 1.5M147.1 432.5l0.5 0.2M21.3 526.7l-1.6 1.4M69.4 441.7l1.6 0.1M28.7 495.8l-2 0.8M183.7 454l0.1 0.4M40.4 517.4l0.6 0.4M15.4 468.5l0.4 0.7M207.7 378.4l-0.7 0.2M96 473.1l-1.2 0.5M154.1 361.4l-0.3 0.8M127.7 500.8l-0.3 1.8M111.5 455.9l-1.6 0.9M188.3 460.4l1.4 0.4M13 451.8l-0.7 0.2M8.7 376.5l-0.3 0.6M47.3 486.5l0.5 1.3M186.2 370.8l0.3 0.4M166 507.7l-1.9 0.3M19.8 400.8l-0.6 1.7M198.7 401.7l0.3 0.9M184.8 527.2l-1.7 1.3M143.6 394.9l0.6 0M35 476.1l1.9 0.1M83.1 521.3l1 0.2M106.5 520.3l0.3 0.6M63.1 427l-0.5 1.3M198.4 430.3l-0.7 0.3M149.7 469.3l1.5 0.8M54.2 394l0.9 0.1M72.1 446.6l1.9 1M187.9 413.7l-0.5 0.3M50.4 381l0.8 1.3M81 373.2l-0.8 0.8M115 343.1l-2 0.8M69.3 449l1.4 1.5M191.5 388.6l0.2 0.3M140.2 519.3l0.2 1.1M171.3 373.6l1.6 0.6M37.7 363.9l-0.3 0.5M71.9 510.9l1.5 1.1M196.6 495.9l-0.7 1M52.1 391.3l-1 0.4M174.8 458.2l0.7 1.6M75.9 458.8l-1.3 0.5M25.7 462l-0.4 0.3M192.7 460.7l-1.9 0.2M61.5 469.2l-0.6 0.9M195.4 353l-1.8 0M92.1 483.5l1.9 0.7M115.9 527.6l-0.7 0.9M38 487.4l0.9 0.7M138.9 451l-1.7 1M201 411.6l-0.4 1.3M134.4 347.9l1.2 0.6M53.4 384.5l0.3 0.7M124.4 510l-0.1 0.5M139.2 448.3l-1 1.6M205 399.6l-1.2 0.4M185.8 425.4l0.8 0.2M82.3 344.9l0.4 0.5M94.2 444.1l-0.5 0M202.2 444.4l1.2 1.4M59.3 383.9l1.4 0.8M27.6 520.7l-0.6 0.8M175 408.4l-0.3 0.5M130.2 517.2l-0.8 0.5M87.7 406.1l0.7 0.3M101 458.5l-0.3 0.2M103.9 414.5l-1 0.2M32.1 372.8l-0.8 0.6M16.8 455.9l0 1.2M151.9 492.4l0.7 0.5M36 388l1.5 0M120.5 481.7l-1.5 0M82.2 523.4l1.1 0.5M190.5 415.7l-0.9 0.7M18.4 515.7l0.6 1.4M205 492l0.3 0.3M96.1 501.4l-0.7 1.9M121.4 462.1l-2.1 0.2M108.1 451.3l-0.6 1.9M111.9 483.6l-1.4 1.1M154 487.5l-0.3 0.4M35.2 352.4l-0.9 1.9M141.6 524.1l1.2 1.5M48.3 401.8l-1 1.5M158.6 392.9l-0.4 1.9M188.9 506.6l-1.5 0.7M68.6 486.8l0.8 0.1M89.9 405.6l2.2 0.3M106.4 404.7l1.3 0.2M161.7 503.5l1.1 0.4M66.8 512.9l0.2 1.5M123.3 364.3l1.6 0.6M40.5 431.4l0.9 1M38.2 501.2l0.5 1.1M132.3 418.4l-1.6 1.1M103.1 344.3l-1.1 1.3M78.4 491.4l-0.5 0.9M78.4 460.3l-0.5 1.2M118.4 525.3l0.8 1.2M172.5 516.6l0.3 1.2M22.1 512.4l0.8 1.4M58.7 526.6l-0.3 0.7M41.5 518.9l0.5 1.1M88.2 508.7l-0.6 1.9M68.2 470.8l0.7 1.6M188.6 530l-1.2 0.1M117.7 514.7l0.7 1M61.8 454.9l0.7 1.1M123.5 485.8l-2 0.5M152.3 361l0.5 0.4M70 509.5l2 0.1M93 463.7l-0.2 0.3M112 408.2l0.3 1.4M50.1 367.5l2 0.7M180.4 410.8l0.6 0.3M53.4 377.1l0.1 0.9M47.8 419l0.3 1.5M34.1 472.6l-0.5 0.3M79.4 454.1l1.2 0.7M140.6 424.1l-2 0.5M9 473.8l-1 0.9M193.2 449l-0.5 0.5M74.1 425l-1.5 0.3M61.9 373.4l-1.1 0.5M92.5 430.9l-0.5 1.4" stroke="#101cae" stroke-width="4.2" stroke-linecap="round" fill="none" stroke-opacity="0.85"/>
<path d="M25.5 459.4l-0.2 1.6M209.7 363.5l0.5 1M77.4 345.7l-1.4 1.6M94.7 434.6l0.6 1M167.3 358.6l0.2 0.6M86 439.1l-0.8 1.8M125.4 458.1l0.6 1.7M136.3 422.1l0.3 0.6M139.3 415.9l-0.5 0.1M26.5 447.1l0.7 0.1M75.8 506.6l1.4 0.2M123 449.4l-1.1 0.1M10.7 381.7l-0.7 1.4M72.4 464.5l1.3 0.3M172.4 358.6l1.3 1.7M211.1 443.7l-0.1 0.7M202 367.9l-1.6 1.3M79.5 408.4l-0.6 0.2M117.2 406.7l-1.7 1.1M196.9 344.5l0.5 1.5M123.5 476.9l0.2 2.1M13.5 483.7l-0.3 0.8M106 515.5l1.7 0.8M11.3 352.1l-0.3 0.4M131.3 373.4l0.8 2M64 413.6l0.1 2M12 495.9l0.8 1.5M93.5 496.7l1.9 1M129.6 472.2l0.3 0M147.1 413.9l2.1 0.1M60.6 343.9l0 1.2M66.6 472.6l0.6 0.5M19.5 356.5l1.5 0.8M195 439.2l-1.3 1.2M121.5 408.7l-0.2 0.4M172.9 491.3l-1.4 1M87.4 497.8l-0.5 0M91.7 387.5l1.4 1.1M54.9 362.6l0.3 0.9M63 401.5l-1.3 1.2M178.1 501.7l0.7 0.9M26.6 520.1l-0.4 0.5M50 441.5l-0.8 1.3M77.4 454.7l1.2 0.7M102.8 345.4l-0.4 0.6M202.8 394.5l-0.1 0.8M95.7 473.2l0.1 0.6M123 509.2l-1 1.7M157 368.7l-1.6 0.5M73 426.2l-0.4 1.5M158.8 403.3l-0.9 1.2M197.4 464.2l1.5 1.1M162.2 510.1l-1.1 1M186.8 379.1l-1.4 0.3M102.5 346.8l-0.6 0.7M58.7 458.9l0.9 0.4M121.8 425.7l-0.5 0.1M27.4 502l-1.2 1.7M63.6 391.9l1 1M72.6 473.3l0.3 0.2M152.1 474.5l-1.9 0.3M151.4 483.7l0.4 1.3M115.8 485.1l-0.3 1.5M39.6 436.2l0.5 0.7M107.2 391.6l0.1 0.5M95.2 480.9l0.1 0.4M191.6 390.8l-0.1 1.6M60.9 480.1l0.5 0.8M123.6 433.9l-0.8 0.2M119.7 465.5l1.4 0.6M19.6 486.1l1.4 0.3M115.5 473.6l1.9 0.2M202.3 418.1l1.1 0.8M75.2 380.8l-1.5 1.6M37.7 507.3l-0.3 0.5M13.8 473.4l-0.5 1.1M130.4 404.2l-2 0.4M173.8 452.8l-0.1 1.7M57.9 353.3l-1.7 0.4M163 494.8l-1.1 0.4M157.1 349.2l-0.6 0.2M112.5 401.7l-1 0.1M177.5 378.5l-0.2 1.2M202.6 361l0 0.8M203.6 473.3l0.1 0.4M17.6 460.4l-0.1 1.3M78.3 529.2l0.6 0.1M90.1 394l1.1 0.6M38.7 420.4l0.2 1.3M201.6 420.8l1.9 0.1M87.1 519.8l-2.1 0.1M35.9 346.3l0.2 0.9M50.4 512.4l0.3 0.6M108.5 371.7l0.5 1.8M169.8 423.6l-1.2 1.1M34.6 359.3l-0.1 0.8M10.4 469.9l1.6 0.7M32 526l-1.5 0.1M66.6 495.8l0 1.6M183.1 526.8l0.9 1M177.3 376.5l-0.1 1.3" stroke="#1626d8" stroke-width="4.0" stroke-linecap="round" fill="none"/>
</g>
<g filter="url(#b4)">
<path d="M58.6 379.8l-1.1 0.3M70.5 369.9l-1.1 0.1M65.2 418.7l1.7 0.7M95.1 415.8l1.7 0.4M16.6 410.3l0.8 1.3M21 435.8l-1.9 0.4M13 474.9l2 0.2M33.1 479.8l-0.3 0.4M133.5 391.9l1 0.1M136.5 400.3l1.1 1.4M139.8 383.9l0.4 0.1M111.6 403.7l-1.2 0.7M175.2 392.8l-0.4 0.4M167.9 447.7l0.2 0.6M122.8 467.4l0.4 1.2M152.2 481.4l-0.5 1.1M195.7 476.8l0.6 0.4M181 524.9l0 0.3M116 471l0 0M87.5 398.2l1 1.5M99.9 383.5l0.1 1M39.9 488.9l0.2 0.2M134.7 408.6l0.6 0.7M130.4 411.5l1.1 1M138.9 420.9l-1.8 0.2M139.4 456.9l2 0.5M147 386.6l0.5 0.1M62.7 429.9l-0.5 1.3M122.6 389.7l1.4 0.9M154.3 358.3l1.8 0M139.4 371.3l-1.1 1.8M196.1 484.8l-0.3 0.1M145.2 481.7l-0.8 0.2M186.7 452.2l-1 0.5M164.8 480.6l0.1 0.7M142.7 398.7l0.2 0.7M131.6 365.6l-0.1 0.8" stroke="#33c6e6" stroke-width="5.2" stroke-linecap="round" fill="none"/>
<path d="M73.1 362.5l1.9 0.9M78.8 367.3l-1.6 1.3M72.1 418.9l-0.1 0.2M111 399.9l0 0.1M104.4 459.5l-0.8 1M149.7 376.7l0.5 0.5M166.3 420.8l-0.5 0.4M147.8 458.7l-1.6 0.6M134.4 476.2l-0.9 1.5M146.4 491.5l1.2 0.9M201.1 493l-0.1 2M198.5 509l1 1.9M188.4 499.2l-0.7 1.6M180.7 503.6l-1.4 0.8M195.4 521.8l-0.9 0.4M202 348.8l2 0.5M198.4 377.4l-0.9 1.1M141.9 426.9l0.2 0.2M147.9 509.7l0.3 0.6M116.2 519.5l-0.3 0.9M170.5 477.7l-1.1 0.6M115.9 472.6l-0.1 0M152.1 387.6l-1 1.2M20.2 387.8l-1 1.6M170.6 361.9l-0.1 0M131.3 441.6l1.3 1.5M14.2 486.8l-1.1 0.8M172.5 395.4l0.5 1.5M196.3 414.5l-0.4 0.3M86.6 419.6l0.9 0.7M163.3 480.9l1.6 0.4" stroke="#2bb2da" stroke-width="4.0" stroke-linecap="round" fill="none"/>
<path d="M58.2 380l-0.7 0.2M70.4 369.7l-0.7 0.1M65.8 419.2l1 0.4M95.4 415.4l1 0.3M16.8 410.4l0.5 0.8M20.2 435.7l-1.2 0.2M13 475l1.2 0.1M32.7 479.7l-0.2 0.2M133.3 392.1l0.6 0.1M136.3 401l0.6 0.8M140.3 383.5l0.2 0.1M111.1 403.5l-0.7 0.4M175 393l-0.2 0.2M167.5 447.8l0.1 0.4M123.3 468l0.3 0.7M152.2 481.9l-0.3 0.7M195.8 476.8l0.3 0.2M181.5 525.3l0 0.2M116.1 470.7l0 0M87.9 398.1l0.6 0.9M99.8 384.1l0.1 0.6M39.5 488.8l0.1 0.1M134.9 409.3l0.4 0.4M131.1 411.6l0.7 0.6M139 421.1l-1.1 0.1M140 456.5l1.2 0.3M147.4 386.4l0.3 0.1M62.4 430.2l-0.3 0.8M123 389.5l0.9 0.5M154.9 358.5l1.1 0M139.5 371.7l-0.7 1.1M196 484.8l-0.2 0.1M145.3 481.3l-0.5 0.1M186.9 452.8l-0.6 0.3M165 480.7l0 0.4M143.2 399.1l0.1 0.4M131.1 365.6l0 0.5" stroke="#1a4cd2" stroke-width="2.0" stroke-linecap="round" fill="none" stroke-opacity="0.85"/>
</g>
<g filter="url(#b4)">
<path d="M39.9 417.9l0.1 0.3M82 419.5l0 1.1M51.6 450.7l-1.2 0.6M131.8 436l0.5 0M134.6 366.8l-1.1 0.5M77.5 437.5l-1.1 1.1M198.6 345.4l0.7 1.1M133.5 366.5l1 1M187.4 400.8l1.2 0.4M140.1 412.5l-0.2 1.1M140.8 417.9l-1.6 0.1M153.4 420.8l-0.9 0.4M192.9 420.5l0.3 1M153.4 462.7l-0.7 0.5M161.4 454.8l-0.8 0.4M164.1 457.4l-0.2 1.3M136.4 468.3l1.3 1.4M139 466l0.1 0M186.1 490.8l1.9 0.3M183.2 499.6l-0.3 0.9M203.9 502.7l0.1 0.5M172.3 515.8l-0.5 0.4M166.4 523.6l-0.8 0.7M192.4 527.7l-0.9 0.6M122.7 473.8l-1.4 0.4M143.9 475.9l0.2 0.3M16 411l0.1 0M95.1 361.6l-0.3 0.8M191.6 457.4l-1.2 1.1M129.6 495.4l-1.3 1.1M105.5 377.8l0 0M186.2 465.1l-1.1 1.4M189.7 449.1l0 0.1M201.7 481.6l-0.2 0.2M196.3 360.5l1.7 1M114.3 365.1l0.2 0.9M169.7 441.3l0.9 0.6M146.2 390.3l1.2 1.4" stroke="#ff3c62" stroke-width="4.8" stroke-linecap="round" fill="none"/>
<path d="M39.8 418l0.1 0.2M82.3 419.7l0 0.7M51.3 450.7l-0.8 0.4M131.4 436.1l0.3 0M134.3 367.1l-0.8 0.3M77.5 437.4l-0.8 0.8M198.7 345.2l0.5 0.8M133.5 366.3l0.7 0.7M187.5 400.6l0.8 0.3M139.9 412.4l-0.1 0.8M140.8 418l-1.1 0.1M153.3 421l-0.6 0.3M193.2 420.9l0.2 0.7M153.3 463.1l-0.5 0.4M161.5 455l-0.6 0.3M163.8 457.9l-0.1 0.9M136.8 468.4l0.9 1M139.3 466l0 0M186.5 490.9l1.3 0.2M183 499.7l-0.2 0.6M203.6 502.7l0.1 0.4M172 516.1l-0.4 0.2M166.3 524.1l-0.6 0.5M192.6 527.6l-0.6 0.4M122.8 473.7l-1 0.3M144.1 476.2l0.1 0.2M16.2 411.3l0 0M95.5 361.7l-0.2 0.5M191.6 457.6l-0.9 0.8M129.8 495.5l-0.9 0.8M105.3 378l0 0M186.2 465.1l-0.7 1M189.9 448.9l0 0.1M201.9 481.8l-0.1 0.1M196.5 360.7l1.2 0.7M114.5 365.2l0.1 0.7M170 441.4l0.6 0.4M146 390.6l0.8 1" stroke="#ffb0ca" stroke-width="2.3" stroke-linecap="round" fill="none"/>
</g>
<path d="M12.8 382.4l2.4 1.1M32.5 410.8l1.1 2.3M127.3 367.1l-0.6 1.8M148 403.7l0 2.5M207.5 375.5l0.9 1M151.4 451.6l-2.7 0.8M191.3 516.9l-2.6 0.1M170.6 429.6l0.9 0.8M96.1 434.8l1.7 0.4M61.4 476.9l-2.8 0.2" stroke="#ff2a3c" stroke-width="1.8" stroke-linecap="round" fill="none" filter="url(#b3)"/>
<g fill="#2a3be0" stroke="#ff4a5e" stroke-width="1.3" filter="url(#b3)"><circle cx="113" cy="433" r="2.5"/><circle cx="115.4" cy="437" r="2.6"/></g>
<g filter="url(#b4)"><circle cx="37" cy="481.6" r="2.4" fill="#19e07a"/><circle cx="173" cy="520" r="2" fill="#22d8a0"/></g>
</g>
<path d="M126.4 417L116.2 427.4M117.1 423.7L116.2 427.4L119.9 426.4" fill="none" stroke="#fff" stroke-width="1.5" stroke-linecap="round" stroke-linejoin="round"/>
<path d="M131.4 422L120.6 433M121.5 429.3L120.6 433L124.3 432" fill="none" stroke="#fff" stroke-width="1.5" stroke-linecap="round" stroke-linejoin="round"/>
<text class="n" x="12.4" y="356" font-size="9.6" textLength="128" lengthAdjust="spacingAndGlyphs"><tspan fill="#18a4d8">CD3</tspan><tspan fill="#ee1c25" dx="1.2">CD8</tspan><tspan fill="#b8a83a" dx="1.6">XCL-1</tspan><tspan fill="#18a232">CD56</tspan><tspan fill="#5b79bd" dx="1.6">DAPI</tspan></text>
<rect x="8.2" y="501" width="35.2" height="29.4" fill="#03043a"/>
<rect x="43.4" y="501" width="34.8" height="29.4" fill="#04042e"/>
<rect x="78.2" y="501" width="35.2" height="29.4" fill="#0a0a30"/>
<rect x="113.4" y="501" width="34.2" height="29.4" fill="#020326"/>
<g filter="url(#b8)">
<g fill="#1030d0"><ellipse cx="14" cy="524" rx="4" ry="3"/><ellipse cx="36" cy="508" rx="4" ry="3"/><ellipse cx="38" cy="524" rx="3" ry="2.5"/><ellipse cx="14" cy="506" rx="3" ry="2"/></g>
<g fill="#2a9ee4" stroke="#3ad4ee" stroke-width="2.4"><circle cx="25" cy="513" r="3.2"/><circle cx="29.6" cy="521.4" r="3.4"/></g>
<g fill="#1020c0"><ellipse cx="48" cy="524" rx="3" ry="3"/><ellipse cx="73" cy="507" rx="3.5" ry="3"/><ellipse cx="74" cy="524" rx="3" ry="2.5"/></g>
<g fill="#3424a8" stroke="#e4182e" stroke-width="2"><circle cx="60" cy="511.4" r="4"/><circle cx="66" cy="519.6" r="4.2"/></g>
<path d="M85 506 L98 504 L104 510 L110 516 L104 527 L96 528 L92 520 L86 514Z" fill="#9c8e12" fill-opacity="0.9"/>
<g fill="#1428e8"><ellipse cx="94" cy="511.6" rx="4.2" ry="3.2"/><ellipse cx="101" cy="520.6" rx="4.4" ry="3.6"/><ellipse cx="84" cy="524" rx="3.5" ry="3"/><ellipse cx="108" cy="506" rx="3" ry="2.4"/></g>
<g fill="#1428e0"><ellipse cx="128" cy="512" rx="3.4" ry="2.6"/><ellipse cx="134" cy="521" rx="3.8" ry="3"/><ellipse cx="120" cy="522" rx="3.6" ry="2.6"/><ellipse cx="141" cy="508" rx="3" ry="2.4"/><ellipse cx="119" cy="506" rx="2.6" ry="2"/></g>
</g>
<path d="M8.2 501h35.2v29.6h-35.2zM43.4 501h34.8v29.6h-34.8zM78.2 501h35.2v29.6h-35.2zM113.4 501h34.2v29.6h-34.2z" fill="none" stroke="#e8e8ee" stroke-width="0.8"/>
<text x="186" y="523" font-size="7.6" fill="#fff" class="w">20µm</text>
<path d="M186 526.5h19.6" stroke="#fff" stroke-width="1.3"/>
<rect x="214.4" y="342.2" width="102" height="93.4" fill="#000"/>
<rect x="215.1" y="342.9" width="100.6" height="92" fill="#03041c"/>
<g clip-path="url(#c1)">
<g filter="url(#b3)">
<path d="M236.4 383.7l-0.4 0.2M303 357.5l0.2 0.1M225.4 409.9l-0.3 0M288.8 373.3l-0.7 0.9M264.2 352.1l0 0.4M263.5 415.6l-0.7 0.7M240.6 395.4l-0.3 0.3M298.8 394.7l0.2 0M240.5 348.7l-0.2 0.3M262.2 424.6l-0.7 0.3M218.5 401.7l-0.6 0.2M301 425.5l0.2 0.3M230.8 351.6l-0.4 0.3M268.5 415.9l-0.7 0.2M308.3 380l0.1 0.3M245.3 433.8l0.3 0.3M268.3 354.8l0.4 0.5M266.7 410.9l-0.9 0.4M306 420.2l0.7 0.5M263.5 428.4l0.2 0.8M295 425l-0.1 0.6M315.7 427.5l-0.7 0.7M247 429l0.6 0.5M236.3 359.2l0.3 0.8M267.6 426.1l-0.8 0.7M313.1 406.2l-0.7 0.2M231.8 395.5l0.6 0.4M229.2 401.9l-0.1 0.6M297.9 390.8l1.1 0.1M253.9 387l-1.1 0.1M285.2 364.2l0.4 0.2M252.1 363.5l0.1 0.3M308 399l-0.2 0.2M219.5 395.4l0 0.6M254.1 404.3l0.8 0.3M294.9 432.9l0.1 0.5M257.7 420.2l-0.2 0.3M219.5 353.4l-0.2 0.6M314.6 381l0.7 0.2M277.8 411.1l-0.1 0.5M263.7 410.8l-0.1 0.5M229.2 359.9l0.2 0.2M257.4 380.3l-0.7 0.8M273 423.8l0.1 0.5M313 356.6l0.4 0.3M229.4 347.9l-0.2 0.8M308.4 385.6l-0.5 0.2M293.7 421.1l0.3 1.1M263.7 411.8l1.2 0.1M260.4 382.9l-0.2 0.4M308.6 357.4l-0.2 0.6M308.9 409.2l0.3 0.7M310 361.9l-0.6 0.6M282.7 343.3l-0.2 0.4M313.7 356.2l-0.5 0.8M278.7 362.1l0.1 0.2M236.6 394.2l0.8 0.8M250.6 428.7l-0.5 0.2M274.1 405.3l0.6 0.9M218.4 434.3l0.5 0.2M237.4 355.3l-0.5 0.8M300.4 411.6l0.8 0.3M298.6 380.9l0.6 0.1M218.2 383.9l0 0.3M305.5 412.6l-0.3 0M235 373.1l1.1 0M229.8 428.1l1 0M220.6 428.2l1.1 0.2M233.6 411.8l-0.1 0.3M298.5 344.5l-0.4 0.1M264.3 347.9l0 1.1M261.2 419.4l-1 0.3M310.1 399l0.7 0.5M288.1 379.6l0.1 0.2M306.2 344.1l-0.1 1M279.5 347.3l-0.4 0.3M253.4 418.5l0.2 0.2M249.3 429.8l-0.9 0.4M284.2 409.7l0 0.4M309 411.8l0.8 0.5M236.2 393.3l1.1 0.1M279.5 410.5l-0.2 1.2M250.7 363.2l0.5 0.1M265 387.7l-0.5 0M249.1 364.6l-0.3 0.4M236.8 393.7l-0.8 0.3M225.8 434.8l-1.2 0.1M260.1 352.1l0.1 0.9M232.9 366.6l-0.4 1.1M303.8 424.8l1 0.5M289.1 345.6l0.6 1M287 392l0.1 0.3M287.7 346.3l-1 0M272.9 396.3l-0.8 0.7M284.4 344.6l0.8 0.5M286.5 428.7l0.2 0.1M238.1 400.8l0.1 0.6M275.6 432.1l-0.2 0.8M290.1 362l-0.8 0.1M266.1 347.5l0.3 0.3M276 425.5l0.8 0.4M292.8 370l-0.7 0.9M274.7 433.2l-0.2 0.6M272.1 355.9l-0.4 0.7M243.4 350l0.3 0.3M289 412.7l0.3 0.6M218.9 422l0 0.9M277.1 429l-0.7 0.2M232.9 426.2l-0.3 0.7M235.6 377.1l0.5 0.7M247.8 417.1l0.5 0.6M295.1 378.9l-0.2 0.4M287.7 372l-0.5 0.2M291.4 402l1 0.3M220.7 348.1l-0.6 0.7M314 357.8l0.2 0.1M271.8 350.9l-0.5 1M255.3 407.9l-0.1 0.7M278.8 427.5l-0.2 0.1M228.7 426.1l0.5 1M306.7 407.2l0.3 0.7M221.4 366.3l0.9 0.7M311.4 393l-0.6 0.1M308.2 398.3l-0.8 0.4M248.3 409.1l-1 0.1M297.1 386.7l0.3 0.1M289.7 384.8l0.5 0.4M284.7 424.9l-0.1 0.2M311 398.4l-0.6 0.2M231.9 394.2l-0.2 0.9M307.1 380.3l0.2 0.1M217 354.9l0.7 0.5M305.8 381.9l-0.4 0.2M243 422l0.2 0.8M262.8 391.9l-0.6 0.4M235.9 360.4l0.4 0.3M297.6 416.1l0.2 0.2M247.5 392.3l0.4 0.3M229.3 412l-0.3 0.4M274.3 394l-0.2 0.4M283.1 351.6l-0.5 1.1M262.9 367.1l1.2 0.2M221.6 388.1l0.9 0.7M311.5 400l-0.2 0.3M265.1 404.4l-0.9 0.4M314.9 387.6l1.1 0.1M249.2 354l-0.1 0.2M248 346.4l0.5 0.5M255.2 353.2l0.9 0.4M242.3 417.3l-0.4 0.6M292 392.1l-0.5 0.3M216.6 378.3l-1.1 0M307.9 373.6l0.2 0.3M238.8 401l-0.5 0.3M287.9 365.6l0.3 0.6M266 379.6l-0.2 0.2M271.7 428.2l-0.2 1M296.7 352.2l0.3 0.1M311.7 423l0.1 0.2M258.3 413.9l-0.7 0.5M286 366.9l-0.9 0.6M263.6 420.4l-0.4 0.3M287.9 372.2l0.9 0.6M218.5 376.9l-0.1 1.2M286.5 420.8l0.6 0.8M234.9 357.8l0.1 1M290.8 369.3l0.3 0.1M273.5 361.4l-0.3 0.3M249 350.9l-0.6 0.2M281.2 384.3l0.2 0.4M265.2 415.5l0 0.9M300 396.3l0.8 0.7M255.5 355l-0.1 0.6M299.4 418.3l0.5 0M251.8 350.6l-0.5 0.5M303.6 402.5l1 0.6M241.4 407.3l-0.1 0.2M303.8 349.2l0 0.2" stroke="#0a1180" stroke-width="1.6" stroke-linecap="round" fill="none" stroke-opacity="0.7"/>
<path d="M224.8 388.2l-0.4 0.6M241 350.3l-0.5 0.3M272 391.6l-1.1 0.1M232.9 421.5l-0.7 1M265.8 384.7l0.9 0.5M237.6 365.2l-0.1 0.9M275.8 356l-0.3 0.6M288.5 370.7l0.3 0.3M216.9 381.8l-0.1 1M284 390.8l-0.3 0.1M282.7 364.6l-0.8 0.3M261.9 414.8l-0.9 0.3M293.2 411.3l0.5 0.2M224.6 368.3l0.4 0.5M234.2 378.9l-0.2 0.6M303.9 410.3l-0.2 0.9M230.3 369.2l0.3 0.2M282.1 360.9l-0.6 1M226.6 369.4l-0.1 0.2M284.2 367.2l-1.1 0.3M219.9 419l0.3 0.2M234.6 384l-0.7 0.2M267.5 352.5l0 0.3M237.9 364.3l0.2 0.4M215.9 403.7l0.3 0.1M279.6 362.6l0.7 0.4M295 423.5l0.3 1.1M232.3 413.7l-0.3 0.5M247.8 350.7l0.3 0.8M249.5 429.6l-0.3 0M236.1 407.7l-0.2 1.1M261.8 373l0.4 1M289.8 391.5l-0.2 0.6M277.9 346.3l-0.3 0.6M248.3 380.9l0.7 0.1M273.2 399.3l0.7 0.5M310.8 368l-0.6 0.5M282.7 403.5l0.1 0.8M261.1 428.9l-0.5 0.6M305.8 414.4l0 1.1M315.7 374.9l-0.2 0.2M229.9 387.8l0.8 0.3M313.7 419.4l0.5 0.4M228.7 424.1l0.4 1M243.6 389.8l-0.2 0.3M270.1 410.2l-0.1 1M248.1 396.7l0.1 1.2M294.8 429.4l-1.1 0.1M239.3 431l0 0.5M240.1 406.3l0.1 0.5M309.8 397.8l-0.8 0.3M284.2 434.1l0.6 0.5M312.5 391.5l-0.6 0.6M291.3 368.7l-0.1 0.3M299.2 425.9l0.3 0.4M240.2 361.4l0.5 0.1M291.8 416.3l0.7 0.8M276.8 378.6l0 0.2M294.5 372.8l-0.3 0.6M224.3 415.7l0.6 0.8M303.1 400l1.2 0.1M215.8 375.7l-1.1 0.3M263.5 420l0.7 0.4M221.1 434l0 0.4M300.4 353.5l-0.3 1M308.4 384l-0.5 0.3M291.4 426.5l-0.3 0.2M310.5 384.4l0.3 0.5M311.4 419l-0.5 0.9M217.5 405.2l-0.8 0.6M297.6 399.8l-1.2 0.2M299.7 358.5l0.5 0.5M224 424l0.1 1.1M263.7 344.2l-0.6 0.1M246.8 384.2l-0.3 0.9M251 383.4l0.3 0.5M226.4 369l-0.8 0.4M237.7 395.3l0 0.4M229.2 434.3l0.2 0.1M277.7 387.2l0.5 0.9M252.9 385l-0.2 0.1M244.5 401l0.1 0.3M257 409.1l0 0.5M305.2 383.3l-0.5 0.2M236.9 366.2l1 0.5M237.5 419.5l-0.3 0.1M312.3 374.3l0.4 0.2M297 425.7l0.1 0.2M285.1 418.1l-0.4 0.6M294.4 420.3l0.9 0.3M260.1 357.2l-0.4 1M294.7 399.1l-0.3 0.4M290 421.7l0.7 0.4M246.2 349.5l0.2 0.5M307.4 391.4l-0.7 0.7M264.1 418.8l-0.1 0.6M242 359.7l1 0.2M270.2 351.6l-0.9 0.5M271.2 364.7l-0.9 0.7M281.3 373.1l0.1 0.5M276.3 389.3l-0.3 0.2M258.1 394.1l0.1 0.5M305 411.1l-0.3 0.1M281.1 401.7l-0.8 0.5M308.8 362.9l0.3 0.6M247.9 375.4l-0.6 0.1M237.2 397.3l0.6 0.6M258.7 355.9l0.3 0.7M268.5 345.4l-0.2 0.5M277.2 345.4l0.2 0.4M275.1 342.9l0.4 0.3M286.8 351.6l-0.2 0.6M261.2 345.4l-0.1 0.7M257.7 420.2l0.7 0.1M315 415.6l-0.4 1M237.4 430.3l-0.6 0.4M295.2 386.4l0.2 0.7M308.1 376.9l0.4 0.9M309.6 359.5l0.2 0.3M223.4 383.2l-0.5 1M257.1 389.3l0.1 1.1M299.9 382.3l-0.5 0.1M238.2 398.5l-0.5 0.1M310.6 392.2l0.3 0.3M280.1 396.4l0 0.4M299.1 379.1l0.1 1.1M290.7 391.5l-0.2 0.5M226.1 414.7l0.2 0.1M267.6 432l-0.1 0.2M276.6 381.2l-0.1 0.6M239.9 390.5l0.6 0M293.3 349l-0.8 0.3M270.8 433.7l-0.6 0.9M262.5 426.4l0.1 0.7M229.4 378.8l0.5 0.3M245.9 354.4l0 0.6M237.2 420.4l0.2 0.5M297.9 399l0.9 0.1M302.5 411.8l0.3 0.7M290.3 365.4l0 0.6M235.5 404.5l0.4 0.6M221.1 432.7l1.1 0.1M251.1 399.9l-0.3 0.3M234.3 408l-0.4 0.3M268.6 419.6l-0.2 0.6M249.8 424.3l0.1 0.5M224.3 372.7l-0.5 0.5M228.1 357.7l0.9 0.7M287.1 352.2l-1.2 0.2M284.8 345.8l0.7 0.2M266 424.7l0.1 0.8M271.8 391.8l-0.4 0.1M217.4 377.9l-0.3 0.3M264.5 410.7l-0.1 1M277 413l0.7 0.2M250.1 346.6l0.8 0.8M308 433.9l-0.2 0.6M310 434l-0.7 0.4M286.9 429.8l-0.4 0.1M262.8 359.8l0.3 0.4M273.8 417.4l-0.5 0M282.9 407l1.1 0.3M277.6 342.9l0.9 0.3M231.6 398.6l0.6 0.4M296.2 347.6l-0.3 0.1M217.2 423.1l0 0.4M289.2 347.4l0.5 0.2M277.9 385.7l0.4 0.1M298.7 376.7l-0.5 0.2M292.5 424l0.1 0.4M289.1 348.7l-0.2 0.6M222.2 417.6l-0.9 0.3M294 369.3l-0.3 0.1M229.1 381.7l-0.8 0.5M216.7 378.5l-0.2 1M266.9 427.3l-0.8 0.5M277.2 412.2l-1.1 0.5M290.2 352.7l0.7 0.2M241.5 356.5l-0.1 0.3M224.2 374.4l0.2 0.3M285.9 412.3l0.3 0.2M220.7 422.8l-0.4 0.6M252 405.5l0.3 0.1M308.7 386.8l-0.1 0.2M230.8 394.9l-0.1 0.3M278 401.9l0.2 0.2M237.5 355.6l0.3 1M220.8 426.7l-0.7 0.7M226 413.7l-0.5 0.9M276.3 387.1l0.3 0.6M292 414.7l0.8 0.5M238.2 405.7l-0.2 0.7M242 415.8l0.5 1.1M270.6 417.7l-0.7 0.3M220.3 377.1l-0.7 0.9M220.4 425.2l-0.4 0M245.3 408.7l-0.2 0.4M271 350.1l0 0.3M271.1 363.6l0.2 0.5M219.4 402.4l0 0.8M249.8 430.2l0.3 1M251.7 424.7l-0.3 0.5M289.6 379.5l0.1 0.2M296.2 417.5l-0.4 0.3M306.4 418l-0.3 0.2M281.8 363.7l0.7 0.2M255.4 392.4l-0.4 0.1M303.3 387.7l-0.3 0.7M224.9 432.6l0.2 0.2M261.7 393.3l-0.2 0.2M241.1 404l0.5 0.2M290 394.5l-0.5 0.4M293.3 410.5l0.2 0.2M275.7 400.4l0.5 0M239 360l0 0.9M252.3 382.8l-0.5 0.2M274.7 398.7l0.8 0.1M260.4 385.1l-0.7 0.3M237.1 399.2l-0.1 0.5M240.1 413.6l-0.7 0.9M256.4 353.5l0.4 0.3M272.8 398.7l0.4 1M233.4 355.7l-0.9 0.3M276.8 356.4l-0.8 0.6M259.2 384.9l0.1 0.4M299.3 415.1l-0.9 0.1M252.5 412.5l0.1 1M280 385.2l-0.3 0.8M216.4 418.9l-0.8 0.4M223.5 388.4l-0.4 1.1M308.5 368.8l-0.3 0.1M215.9 401.8l0.4 0.8" stroke="#0f1aae" stroke-width="1.6" stroke-linecap="round" fill="none" stroke-opacity="0.85"/>
<path d="M235.4 350.8l-0.2 0.3M303.2 372.9l0.9 0.8M252.1 429.4l0.3 0.2M225.3 432l1 0.3M229.3 400.8l-1.1 0.2M307.8 386.3l-0.1 0.4M221.9 410.9l0.6 1M243.7 348.5l0.3 0.7M256.8 402.4l0.4 0.4M225.9 368.9l-0.2 0.9M299.3 378.7l-0.5 1.1M256.6 362.7l-0.1 1.2M246.7 351.7l-0.3 0.3M227.9 379.4l-0.3 0.1M219.5 380.7l0.1 0.3M281.6 343l0.3 1.1M221.7 420.6l0.8 0.3M267.3 419.9l0.3 0M255.4 433.7l0.2 0.2M276.6 417l0.3 0.6M228.6 345l-0.5 0.4M314.7 409.2l-0.8 0M219.8 357.6l-0.8 0.8M305.5 411.1l-0.2 0M280.3 420.5l0.2 0.3M290.9 405.4l-0.1 0.2M245.2 411l-0.6 1M255 393.9l-0.6 0.2M314.1 386.5l-0.1 0.4M249.1 360.5l0.3 0.1M291.5 344.7l0.3 0.1M284.1 425.6l-0.1 0.2M300.9 420.1l-0.7 0.3M238.7 383.9l-0.5 0.2M289.4 400.9l0.5 1M227.6 369.8l0.6 0.1M226.9 432.2l-0.6 0.2M247.3 399.3l0.6 0.1M299.9 366l-0.5 0.2M300.7 408.6l-0.2 0.5M296.7 411.1l0.9 0.5M222.8 413.2l-0.1 1.1M275.6 418.2l0.8 0.7M284.1 379.1l-0.9 0.7M309.7 342.9l-0.3 1M296.6 375.4l0.4 0M285.9 376l-0.9 0.1M312.7 405.4l-0.2 0.6M300.1 370.8l0.6 0.6M262.6 375l-0.6 0.1M265.6 356.1l-0.7 0.2M295.9 349.4l0.8 0.3M295.9 363.2l-0.3 0.6M221 370.6l-0.4 0.9M274.5 384.5l0.8 0.6M281.9 423.4l-0.3 0.4M279.5 396l0.3 1.2M298.8 426.5l0.6 0.3M221.4 366.1l0.3 0.1M268.5 364.7l0.5 0.3M298.2 377.9l0 0.3M266.3 432.1l-0.2 1M242.2 417.2l0.9 0.8M249.8 425.8l-0.8 0.3M306.3 406.8l0.2 0.2M275.5 388.6l0.3 1M288.2 388.2l0.4 0.2M227.4 348.6l-0.3 0.5M259.1 381.5l0.3 0M264.2 389.4l-0.5 0.2M298.8 396l0.7 0.2M307.3 404.9l0.3 0.6M290.6 402.1l0.4 0.2M262.3 380.4l0.3 0.9M221 346.5l0.4 0M292.4 422.1l0.9 0.6M288.8 387.5l-0.3 0.8M297.9 375.8l-0.5 1M229.4 383.2l-0.1 0.2M278.9 353.9l-0.3 0.6M278.7 342.4l-0.3 1.1M303.5 382.2l0.1 0.6M306.6 400.2l-0.6 0.2M309.2 355.1l0.2 0.4M238.7 350.6l0 0.6M254.9 434.3l-0.1 0.4M222.7 382.2l0.6 0.5M245.3 347.7l-1.1 0.3M254.7 411.9l0.3 0.1M285.7 375.6l-0.4 0.7M242.9 351l-0.9 0.4M232.1 414.3l-0.1 0.4M313.1 350.2l-0.1 0.4M284.2 371.5l0.1 0.5M235 374.9l0.2 0.2M269.2 411.1l-1.1 0.1M235.8 366.5l-0.4 0.1M313.2 376.2l-0.3 0.6M302 433.6l1.1 0.3M239.5 355.1l0.4 0.1M287.9 358.3l-0.2 0.3M273.8 389.6l-0.5 0.1M301.6 415.8l0.9 0.8M222.3 418.6l0.4 0.7M253 431.9l0.1 0.6M281.2 352l0.1 0.6M304.6 403.9l-0.7 0.7M309.3 353.6l0.8 0.3M276.5 345.5l-0.7 0.1M266.8 388.3l1 0.2M233.9 423.2l0.2 0.1M250.7 418.2l-0.5 0.1M287.9 433l0.3 0.2M262.1 354.1l-0.3 0.2M274.2 387.9l0.7 0.4M226.4 377l0.2 0.9M227.9 410.9l0 0.6M238.7 348.4l0.9 0.8M299.1 349.6l-0.9 0.7M270.3 342.7l-0.5 0.5M250.4 375.4l0.6 0.2M223.2 422.3l-1 0.6M288.7 396.8l0.6 0.4M249.6 391.4l-0.2 0.7M229.4 382.3l1 0.5M286 346.8l0.8 0.6M238.7 415.3l0 0.4M282.2 411.3l0.9 0M247.8 386.6l-0.5 0M252.3 379.1l0.2 0.3M307.7 348.5l-0.4 1M295.6 389l0.2 0.4" stroke="#1626dc" stroke-width="1.5" stroke-linecap="round" fill="none"/>
<path d="M248.1 413.8l-0.3 0.2M311.7 384.8l-0.1 0.2M275.7 371.8l-1 0.5M286.4 373.7l1.4 0.2M298.9 409.9l-0.2 0.7M232.9 370.3l1 0.7M248.2 425.8l0 0.3M218.3 382l0.9 0.3M272.9 423.9l-0.5 1.2M261 364.3l0.4 0.5M285.4 386.1l-0.3 0.5M283 372.3l-0.5 0.4M277.3 361.6l-0.6 0.7M296.5 353.9l-0.4 0.4M225.6 373.7l-0.7 0.6M268.8 367.8l-0.8 0.4M237.1 417.5l-0.7 0.3M236 410l-1 0.3M247 366.3l0.1 0.2M217.5 391l1.3 0.2M310.5 428.9l-0.2 1M242.7 384.7l-0.3 0.4M261.7 412.6l0.2 0.9M281.2 389.5l0.8 0.4M294.7 406.5l0.5 0M257.1 371l-1.3 0.6M254.2 388.5l-0.3 0.5M225.7 411.6l-0.4 0.6M271.5 408.4l-1.5 0.1M258.7 353.5l-0.2 0.8M296.5 405.1l-0.1 0.5M273.9 398.9l-0.1 0.7M249.2 415.4l0.3 1.5M293.6 410.2l0.5 0.7M296.2 401.2l-0.4 0.1M254.2 362.6l0 0.7M236.8 379.6l-0.4 1.3M242.2 349.2l-0.5 0.4M272.1 389.3l-0.8 1.4M267.8 428.5l-0.3 0.6M235.8 361.2l-0.9 1.2M271.9 374.2l1.1 0.8M291.7 423.2l-0.3 0.7M287.2 374.8l0.5 1.3M292.4 389.4l1.6 0.2M253.2 355.9l0.5 0.5M297.8 423.1l0.3 0.4M224.2 347.4l0.4 0.1M266.5 398.9l0.1 0.3M306.5 428.9l0.3 0.8M303.7 387.8l0.7 0.8M261.4 368.2l0.1 1.3M243.5 424.8l0.1 0.5M294.4 355.7l-0.4 0M305.6 392.6l0.3 0.3M225.7 410.2l-0.2 1M243.7 375.2l-0.7 0.4M249 383.5l0.2 0.1M237 421.7l0 1.5M265.4 359.8l0.9 0.2M275.5 367.2l0 0.6M300.9 412.8l-0.5 0.8M285.1 347.5l0.4 0.3M289.1 352.8l-0.8 1.4M289.8 346.9l-0.9 0.2M221.2 364.6l0.1 0.3M297.2 393.1l0.3 0.6M245.6 424.3l0.6 0.2M226.8 363.9l0 0.3M288.3 386.7l-0.4 0.2M257.5 427.8l-0.4 0.7M233.2 403.3l0.9 0.4M245.7 390.3l-0.9 0.5M253.8 395.4l-1.1 1M302.7 417.1l1.1 0.7M305.8 361.1l0.1 0.6M280.4 368.3l0.1 1.3M243.7 362l1.3 0.3M279.1 405.9l1 0.3M262.1 425.5l0.1 0.3M218.4 378.7l0.4 0M300 423.6l0.5 0.6M233.2 386.9l0 0.8M282.7 390.8l-1.1 0.1M304.4 363.4l1.2 0.9M221.2 420.2l-0.2 0.1M228.4 373.3l-0.5 0M276.8 372.3l-0.4 0.2M281.4 370.7l0 0.3M300.1 371.7l-0.6 0.8M270 406.9l-0.3 0.2M297.7 429.3l0.2 0.3M231.3 394.6l-0.5 0.2M219.4 367.8l-0.7 1M262 367.9l0.4 0.3M320.1 430l-0.7 0.1M309.1 406.1l0.4 0.4M312.4 425.3l0.3 0.7M312.4 421.7l0.3 0.1M299.2 422l1 0.7M316.3 424.9l-0.8 0.1M307.5 421.2l0.6 0.6M309.4 436.5l0.8 1.3M304.7 422.1l0.9 1.1M298.6 425.9l-1.5 0.5M308 415.7l0.2 0.1M309.4 419.8l-0.8 0.4M313.7 428.7l0.7 0.1M306.6 418.1l1.1 0.5M247.5 353.6l0.8 0.2M255.9 360.2l-1 0.4M249.4 354.4l-0.2 0.4M249.2 354.7l-0.9 0.3M256.2 358.7l0.5 0.3M243.4 351.5l0.7 1.1M254.3 357.3l-0.8 0M247.3 349.5l0.3 0M281.8 365.6l-0.5 0.3M280.9 374.9l-0.8 0.1M282.2 373.9l-0.5 0.7M278.4 362.4l0.1 0.5M277 380.8l-0.4 0.6M279 376.8l0.4 1.4M278.4 370.6l-0.3 0.1M279.7 366.3l-0.4 0.1" stroke="#22bfe6" stroke-width="1.9" stroke-linecap="round" fill="none"/>
</g></g>
<text x="217.7" y="352.7" font-size="10.6" fill="#fff" class="w">CD3</text>
<path d="M276.6 377.6L269.8 384M270.6 381.2L269.8 384L272.6 383.4" fill="none" stroke="#fff" stroke-width="1.0" stroke-linecap="round" stroke-linejoin="round"/>
<path d="M279.4 381L272.6 387.4M273.4 384.6L272.6 387.4L275.4 386.8" fill="none" stroke="#fff" stroke-width="1.0" stroke-linecap="round" stroke-linejoin="round"/>
<rect x="319" y="342.2" width="102" height="93.4" fill="#000"/>
<rect x="319.7" y="342.9" width="100.6" height="92" fill="#03041c"/>
<g clip-path="url(#c2)">
<g filter="url(#b3)">
<path d="M340.6 393l-0.2 0.6M394.6 403.9l0.5 1M365.1 410.6l-0.2 0.3M351.8 422.8l-0.7 0.3M401.9 428.6l-0.3 0.1M389.2 395.3l0.8 0.2M403.7 424.4l-0.5 0.5M378.2 385l-0.5 0.3M375.9 430.3l0.4 0.9M366 349.1l-0.4 1M349.7 363.3l0.8 0.2M393.7 347.9l-0.4 0M395.1 378.7l0 0.7M393.4 353.9l-0.5 0.3M417.8 363.9l-0.6 0.7M339.9 378.7l0.2 0.4M375.2 423.1l0.1 1.1M320.6 431.3l-0.9 0.6M337.8 367.1l-0.1 0.9M418.3 349.2l0.4 0.3M349.6 422.6l-0.6 0M327.1 428.7l0.1 0.3M385 344.2l-0.3 0.4M410.3 424.6l-0.5 0.8M382.6 415.3l-0.1 1M380.5 380l-0.4 0.3M326.7 363l0.7 0.9M400.1 429.8l0.1 0.3M338.1 394.5l-0.2 0.4M391.2 348.1l-0.2 0M336.5 347.6l-0.2 0.3M326.9 427.5l-0.3 0.5M336 355.1l-0.2 0M340.3 386l-0.7 0.1M353.6 372.2l0.5 0.7M384.9 419.7l-0.2 1.1M369 420.4l0.6 0.5M346.3 385.9l-1.1 0M390 385.7l-0.6 0.9M373.2 428.4l0.1 0.2M395.9 384.2l0.1 1M367.1 376.4l0.2 0.6M374.6 378.9l-0.7 0.3M393.5 384l-0.7 0.2M343.2 391.6l0.7 0M349.4 352.3l-0.3 0.2M387.9 402.4l0.2 0.1M369.1 396.3l0.8 0.4M376 432.7l-0.1 0.8M356.3 406.4l-0.3 0.2M420.2 415.7l-0.2 0.5M353.8 358.2l0.5 0.8M378.6 428.7l-0.5 1M384.6 427.4l-0.6 0.4M387.3 400.3l0.6 0.1M418.3 414.5l0.3 0M379.7 348.8l-0.8 0.5M418.2 351.4l-0.9 0.7M344.1 361l0 0.9M330.8 409.9l-0.5 1.1M375.2 371.8l-0.2 0.1M329.2 412.5l-0.5 0.7M380.4 390.3l-0.1 0.4M376.9 420.8l0.3 0.4M374.3 364l-0.3 0.2M354.7 401.6l-0.4 0.1M352.2 386.4l1.1 0.1M385.3 398.7l0.4 0M375.4 401.4l0.8 0.2M417.7 357.7l0.1 0.2M370.8 354.7l0.3 0.6M377.8 392.3l-0.3 0.4M362 413.6l-0.4 0.1M415 354.4l0.5 1M387.8 385.8l0.5 0.7M396.8 425.2l-0.2 0.4M373.5 407.2l0.4 0.5M388.4 372.7l0.9 0M327.7 404.8l-0.4 0.1M409.2 417.8l0 0.2M344.8 425.4l-0.7 0M340.2 364.9l-0.4 0.3M405.1 368.5l0.7 0M401.9 386.4l-0.6 0.6M341.3 352.8l-0.3 0M417.4 365l-1.1 0.1M326.4 385.8l-0.4 0.8M360.6 360.1l0.5 0.1M324.1 357.9l-1 0.6M380.6 383.3l-0.3 0M418.2 352.6l0.6 0M364.3 363.3l-0.8 0.3M369.7 423l-0.7 0.3M350 425.1l-0.4 0.6M402.8 356.9l0.5 0.2M393.9 425.2l0.4 1M360.7 343.9l0.6 1M339.6 390.2l0.6 0.5M366.1 406.3l-0.9 0.2M399.1 377.5l-0.2 0.2M389.3 368.1l0.5 0.8M358.3 355.4l0.6 0.9M321 371.2l0.8 0.5M413.9 368.6l-0.9 0.6M392.7 342.9l-0.4 0.9M392.8 358.1l0.3 0.1M338.4 429.4l-0.9 0.5M334.1 365.1l-0.7 0.3M411.7 431.9l-0.2 0.8M382.9 381.8l-0.5 0.3M418.4 389.7l0.7 0.3M360.7 397.5l-0.2 0.6M360.7 402.3l0.2 0.1M404.2 382l-0.2 0.6M381.8 415.5l-0.3 0.1M357.7 402.2l0.2 0.6M397.9 381.4l0.7 0.2M334.4 408.9l0.2 0.2M405.1 382.4l0.4 0.8M331.7 347.5l-0.3 0.8M324.9 392.7l0.4 0.8M400.2 382.4l-0.2 0.5M364.8 396.7l0.5 0.7M320 394.1l-0.4 0.5M418.9 343.8l0.3 0.4M389.2 405.8l0.4 0.3M396.2 376.4l0.2 0.5M359.5 402.2l0.5 0.8M357.2 346.3l0.1 0.4M412.6 368.6l0.9 0.2M339.2 422.3l0.3 0.2M324.3 365.6l0.4 0.6M371.1 395.4l0 0.4M419.9 416.3l0.1 0.2M359 369.5l0.1 0.9M336.6 427.8l0.6 0.1M395.6 379.4l0.1 0.4M353.4 400.6l-0.3 0.9M380.1 432.4l0 0.8M323.3 430l0.8 0M339.3 356.7l-0.6 0.4M325.5 357.2l0.7 0M403.4 388.9l0.1 0.5M365.5 409.8l-0.1 0.2M402.7 410.7l0.1 1.1M404.6 389.4l-0.7 0.6M347.1 382.7l0 0.2M330.5 371.3l0.9 0.1M407.6 431.9l0.8 0.8M374.7 414.8l0.6 0M320.3 368.1l-0.2 0.4M329 403.8l0.1 0.2M347.9 412.8l-0.8 0.1M389 362.5l0.3 0.2M337.7 358.7l-0.3 1M379.8 374.1l0.5 0.3M377.1 405.9l0.2 0.3M389.2 427.9l-0.3 0.4M335.3 430.3l0.1 0.3M330.9 398.4l0.7 0.4M357.3 420.3l0.2 0.2M323 389.3l-0.1 0.8M384.9 362l-0.2 1.1M340.5 385.1l0.4 0.2M363.5 382l-0.3 0.5M338.1 353.8l-0.3 0.4M333.4 427.7l-0.6 0.9M351.4 358.3l-0.5 0.2M411.7 425.3l-0.4 1M332.1 344l0.9 0.6M373.3 355.6l-0.2 0.3M336.4 373l0.5 1M400.1 410.8l0 0.6M375.4 355.7l-0.4 0.1M337.9 376.3l1.1 0.1M414.4 348.1l-0.3 0.6M367.5 414.6l0.3 0.1M377.4 419.9l-0.1 0.5M403.9 400.5l0.7 0.4" stroke="#0a1180" stroke-width="1.6" stroke-linecap="round" fill="none" stroke-opacity="0.7"/>
<path d="M386.4 395.6l0.4 0.1M395.7 416.3l0.5 0.8M368 408.3l0.5 0.9M410.8 418.9l-0.1 1.2M366.5 383.4l0.2 0.6M395.2 407.6l0.1 0.2M362.7 411.8l-1 0.3M357 356.6l1 0.4M341.5 411.3l-0.4 1.1M347.7 411.9l0.8 0.4M395.7 406.5l0.1 0.8M384.8 374.7l0.6 0.7M393.2 412.6l-0.4 0.7M388.8 401.9l-1 0.6M328.4 394.4l-0.4 0.2M340.2 415.4l0.7 0.2M392.6 348.8l0.4 0.5M395.8 415l0.5 0.3M325.7 428.8l-0.4 0.4M394.7 420.5l0.7 0.6M368.8 430.2l-0.3 0M400 393.1l-0.7 0.9M344.8 356.5l-0.1 0.9M320.7 411.8l-0.4 0.3M348.1 379.4l-0.5 0.5M398.8 366.3l-0.2 0.4M370.2 395l0.3 0.8M325.4 350.3l0.8 0.6M328.8 369.8l0.3 0.3M357.7 353.8l0.2 0M338.7 370.2l0.7 0.2M368.1 346.9l-0.5 0.4M346.1 404.4l0.7 0.8M358.5 430.7l0.5 0M320.6 401.6l-0.8 0.1M326.4 424.7l0.2 0.8M359.9 391l-0.5 0.8M409.7 421.5l-0.3 0.2M401.2 368.3l0.9 0.6M385.2 368.2l-0.9 0.6M365.5 343.5l-0.3 0.2M372.2 424.9l-0.1 0.5M378.3 411.6l0.3 0M404.1 420l-0.1 0.6M326.9 410.1l0.3 0.7M348.2 407.6l0.4 0.3M406.3 351.5l0.3 1.1M412.5 431.8l0.8 0.8M365 431l0.3 1M352.1 401.3l0.4 0M330.7 374.7l-0.6 0.7M333.2 385.8l0.8 0.5M323.2 388.9l0.2 0M323 418.5l-0.1 0.7M340 396.5l-0.5 0.6M391.7 397.1l0.5 0.1M411.2 432.2l-0.1 0.8M328.2 423.8l-0.7 0.5M419.9 402.1l0 0.5M334.4 356.4l-0.1 1M355.8 361.6l0.3 0.3M341.9 393.6l0.3 0.9M320.2 389.4l-0.4 0.6M321 413.6l0.2 0.2M320.8 364.9l0.6 0.7M330.3 352.7l1.1 0.2M334.8 378.2l-1 0.2M370.4 390.7l0.5 0.5M371.3 378.6l-0.3 0.9M334.6 375.2l-0.3 0.6M368.2 381.2l-0.6 0.2M355.5 384.9l0.3 0.2M376.5 391.1l0 1M395.7 428.2l-0.2 0.7M334.1 429.9l-1.2 0.1M322 343l-0.7 0.1M403.1 428.1l0.9 0.7M379.1 398.4l-0.6 0.6M355.2 393.1l0.6 0.3M331.8 424.7l-0.1 0.5M381.3 417l-0.3 0.8M334.1 389.9l0.2 0.2M359.3 358.2l-1 0.5M406.1 357.6l0 0.4M376.9 393.4l0.1 0.6M338.9 430.4l-0.4 0.3M411.8 389.5l-0.7 0.1M394.3 388.5l0.2 0.8M396.7 402.5l0.3 1.1M417.6 398.6l0.3 0.5M325.6 398.6l-0.1 0.6M333.1 399.3l0.3 1.1M360.9 429.3l0.5 0.5M345.9 413.1l-0.5 0.8M323.4 396.9l-0.3 0M346 353.5l0.3 0.4M418.1 360.9l-0.5 0.6M366.4 432.6l0.1 0.4M353.7 398.2l0.1 0.9M399.2 422.3l0.5 0.8M420 400.2l-0.1 0.3M410.7 400.9l0.8 0.8M371.9 376.7l-0.8 0.7M337.5 389.8l0.2 0.1M386 405.8l-0.3 0.4M403.5 375.1l0.7 0.5M400.3 418.8l0.7 0.9M354.8 417.5l0.1 0.3M323.3 425.6l0.8 0.3M404.1 379.6l0.5 0.6M361.8 424.5l0.6 0.2M349 413.9l0.6 0.2M407 363.9l0.3 0.1M392.8 425l-0.1 0.3M336.8 352.7l-0.7 0.9M361.6 427.9l1.1 0.1M392.6 419.8l-0.3 0.3M325.2 389.2l0.1 0.6M415.2 352l0.8 0.5M349.6 393.8l0.4 0.6M345.6 423.9l-0.5 0.7M352.4 414l-0.4 0M397.5 380.2l0.4 0.4M340.2 365.1l-1.1 0M334.5 434.6l1 0.5M343 389.2l0.7 0.8M404 412.1l0.4 0.2M339.2 385.7l0.3 0.1M343.4 375.5l0.2 0.4M417.7 397.6l0.6 0.9M373.3 418.4l-0.8 0.5M395 361.9l-0.2 0.1M417.8 429.8l0.2 1.2M373.4 351.7l-0.2 0.1M349.9 356.8l0.4 0.8M374.9 369.8l-0.8 0.5M386.1 380.1l0.4 0.9M379.5 363.1l0.3 0.6M416.9 375.6l-0.2 0.2M325.6 412.1l0.3 0.3M380.4 357.4l-0.1 0.3M408.9 390.8l0.6 0.8M371.8 420.4l-0.5 0.3M398.2 387.9l0.3 0.3M375.5 389.1l0.2 0.4M371.8 359.8l-0.2 0.2M417.4 393.1l0.8 0.1M395.4 425.5l0.6 0.1M379 396.2l0.7 0.6M324.1 369.3l-1.1 0.3M322.6 377.3l-0.8 0.8M397.8 368.2l-0.5 0.8M370.3 394.9l-0.5 0.3M323.9 381.4l0.2 0.2M402.7 371.2l0.2 0.2M332.9 398.4l-0.2 0.3M415.7 344.3l-0.2 1.1M418.7 369.5l-0.4 1.1M407.1 399.1l-0.7 0.8M381.4 365.5l0.1 0.6M338.1 419.7l0.1 0.3M374.2 411.4l-0.3 0.3M373.7 353l0.6 0.8M376.3 410.5l-0.2 0.3M360.6 431.3l-0.1 0.4M406.9 371.8l0.8 0.3M409.5 420.5l-0.6 0.3M325.7 421.4l0.1 0.3M382.1 390.7l0.3 0.7M322 399.6l0.4 0M416.2 403.7l-0.8 0.1M381.9 428.9l0.8 0.1M377.1 388l-0.1 0.7M375.6 375.5l0.1 0.2M332.2 367.3l0.5 0.9M366.1 428.3l1.1 0.1M357.3 345l-0.6 0.9M393.8 344.6l-0.5 1M412.7 366.8l0.5 0M405.1 428.2l0 0.7M398.9 384.2l0.6 0.4M362.4 407l0.1 0.1M349 406l0.5 0.8M334 349.2l-0.1 1.1M340.5 406.3l-0.1 0.2M364.5 378.8l0.4 0.7M408.1 369.2l0.8 0.1M395.7 382.4l-0.2 0.1M393 379.3l0.2 0.6M383.6 348.4l0.6 0.1M343 376l-0.8 0.2M320.9 392.3l0.2 0.2M366.3 411.9l0.5 0.7M401.5 351.1l-0.5 0.6M406.8 402.7l0.5 0.6M332 424l0.2 0M386.3 433.6l0.3 0.8M355.7 350.8l0 1.1M378.5 406.4l1.1 0.3M386.5 368.9l-0.2 0.4M339.1 409.8l-0.4 1M334.2 430l0.3 0M364.2 367.6l0.6 0.6M365.9 366.7l-0.1 0.2M402.5 424.3l0.5 0.4M358 404.3l0.7 0.6M345.9 419.6l1.2 0.1M397.1 355.9l-0.2 0.7M403.8 364.4l0.1 0.2M370.8 406.3l0.2 0.3M380.1 432.9l0.5 0.7M367.8 403.8l0.8 0.8M353.7 394.7l0.2 0.1M320.7 375l0.4 0.1M379.7 364.7l-0.6 0.3M384 387.7l-0.3 0.9M409.4 430.8l0.8 0.7M319.9 376.3l0 0.3M378.1 393.9l-0.2 0.8M349.1 377.9l0.2 0.5M405.8 394.4l0.6 0.1" stroke="#0f1aae" stroke-width="1.6" stroke-linecap="round" fill="none" stroke-opacity="0.85"/>
<path d="M348.7 386.2l0 1.1M387.1 389.8l0.8 0.7M371 423.4l0.2 0.4M408.7 361.2l0.9 0.4M326.9 426.6l-0.7 0.7M402.3 399.8l-0.3 0M371.5 426.3l0.7 0.5M372.8 412.5l0.3 0.1M408.2 407.7l-0.2 0.5M326.7 396.2l-0.8 0M320.5 378.6l-0.3 0.4M332.1 362.7l0.8 0M408.7 432.1l-0.9 0.1M391.9 351.8l0.2 0M343.8 416.9l-0.2 0.2M343.8 417.6l1.1 0.3M364.9 429.1l-0.8 0.7M389.5 364.1l0.8 0.2M390.2 364.4l-0.8 0.7M377 427.9l0.1 0.3M401.6 382.9l-0.3 0.9M411.7 356.6l0.2 0.8M371.6 375.6l-0.2 0.3M372 364.8l-0.1 0.8M332.4 432.5l-0.3 0.5M320.2 412.4l0.7 0.5M358.1 358.6l0.9 0.5M402 426.7l0.7 0.2M330.3 429.7l-0.7 0.3M395.4 386.3l-0.8 0.3M378.4 427.9l-0.5 0.3M322.2 356.7l0.3 0.3M327 429.6l-0.5 0.9M363.4 411.5l0.2 0.3M405.2 350.6l0.5 0.2M352.8 403l0 0.4M399.2 386.5l0.5 0.6M396.9 377.8l-0.7 0.4M330 353.8l-0.6 0.2M412.1 371.5l-0.3 1M371.2 417.4l0.7 0.1M345.9 412.5l0.6 0.6M343.9 422.4l-0.1 0.3M344 415.6l-0.1 0.3M407.5 433l-0.2 0.6M387.7 377.9l-0.6 0.6M329.6 431.5l0.5 0.1M328.9 389.6l-0.5 0.7M410.7 394.8l-0.4 0.7M409 387.3l-0.2 0.4M353.4 431.5l-0.6 0.2M409.3 343.6l0.6 0.5M418.6 367.2l-0.7 0.6M329.7 410.3l0.1 0.9M386.1 374.3l-0.4 0.3M326.9 425.3l0.8 0.1M332.6 343.9l-0.2 0.9M354.9 348.8l-0.2 0.5M347.9 379.4l0.8 0.7M337.5 370.1l0.8 0.4M419 382.7l0.4 0.5M385.7 371.5l-1.1 0.3M327.5 432l-1 0.6M402.1 402.8l-0.9 0.7M418.1 430l-0.5 0.9M378.8 379.4l0.2 0M329.8 396.7l0.2 1.1M387.4 390.1l0.5 0.3M334.1 401.6l0.4 1M400.6 354.6l-0.4 0.3M374.7 393.3l-0.2 0.1M390.8 416.8l-0.1 0.6M417.9 376.8l-0.7 0.3M354.4 361.1l0.3 0.2M377.2 376.2l-0.7 0.8M356.5 356.5l-0.5 0.5M408.7 404.6l-0.8 0.5M391.7 433.1l0.2 1M325.7 425.1l-0.6 0.1M373.8 400.5l0.8 0.5M363.7 414.7l0.6 0.5M327.4 427.4l0.8 0.6M353.1 424.6l0.6 0.5M323.4 387l1 0M333.9 379.1l0 0.4M387.9 378.7l-0.8 0.6M414.9 422.6l0 0.3M355.5 430.3l-0.8 0.2M355.5 405.8l0.8 0M383.2 369.1l0.8 0.3M377.2 394.9l-0.7 0.3M327.9 353.2l-0.2 0.5M404.3 380.7l-0.6 0.4M378.7 364.4l-1.1 0.1M400.4 363.5l-0.7 0.4M358.7 365.1l-0.3 0.5M416.7 424.7l-0.1 0.7M413 371.8l0.1 0.4M323.2 429.2l0.8 0.9M394.1 421.1l0.6 0.8M334.3 430.8l-0.4 1M415 365.6l0.4 0.1M406.7 395.2l-0.3 0.1M418.5 374l0.4 0.5M352.7 417.5l-0.7 0.4M405 371.3l0.1 1M366.9 343.3l-0.7 0.8M389.2 368.5l0 0.5M384.2 427.6l-0.7 0.2M328.6 344.7l0.1 0.9M384.4 365.3l-0.3 0.2M379.2 406.3l0 0.2M398.5 383.4l-1.1 0.1M390.9 433.1l-0.3 0.1M329.2 393l0.5 0.2M366.7 381.7l-0.7 0.5M349.1 421.3l0.6 0.3M394.4 407.2l-0.7 0.3M370.8 419.8l0.4 1.1M344.9 368.9l0.3 0.1M347.1 360.2l-0.5 0.1M403.4 369.3l0.2 0.1M407 418.5l0.6 0.8M386.1 425l0.5 0.1M363.4 363.4l-0.3 0.3M382.1 401.8l-0.7 0.4M391.2 392.4l0.7 0M394.6 434.3l0.8 0.5M374.1 352.5l-0.5 0.6M406.4 391.9l-1.1 0.3M377.9 364.2l-0.3 0.8M385.5 423.1l0.3 0.1M339.4 394.7l-0.3 0.3M362.4 416.9l0.5 0.1M327.1 407.6l0.3 0.8M396.1 355.4l-0.2 0.5M366.2 343.1l0.2 0.4M325.7 426.4l-0.2 0.8M416.2 406.1l0.6 0.3M385.9 349.7l0.9 0.6M337.2 363.1l0.3 0.1M396.5 409.1l-1.2 0.1M350.3 373.7l-1 0.3M376.2 434.1l0.4 0.1M394.6 368.1l0.3 0.8M380.6 346.9l-0.2 0.2M381.7 384.5l0.1 0.6M390.7 423.7l-0.5 0.6" stroke="#1626dc" stroke-width="1.5" stroke-linecap="round" fill="none"/>
<circle cx="335.3" cy="411.5" r="1.1" fill="#1ee070"/><circle cx="410.7" cy="425.9" r="1" fill="#1ed060"/>
</g></g>
<text x="322.3" y="352.7" font-size="10.6" fill="#fff" class="w">CD56</text>
<path d="M380.6 377.6L373.8 384M374.6 381.2L373.8 384L376.6 383.4" fill="none" stroke="#fff" stroke-width="1.0" stroke-linecap="round" stroke-linejoin="round"/>
<path d="M383.4 381L376.6 387.4M377.4 384.6L376.6 387.4L379.4 386.8" fill="none" stroke="#fff" stroke-width="1.0" stroke-linecap="round" stroke-linejoin="round"/>
<rect x="214.4" y="438.2" width="102" height="93.4" fill="#000"/>
<rect x="215.1" y="438.9" width="100.6" height="92" fill="#03041c"/>
<g clip-path="url(#c3)">
<g filter="url(#b3)">
<path d="M271 455.6l0.6 0.5M275.5 518.4l-0.6 0.2M246.9 467.2l-0.6 0.4M233 439.7l0.5 0.1M261.2 452.1l-1 0M245.8 470.3l-0.3 0.8M237.1 495l-0.7 0.8M252.3 488.5l0.4 0.8M268.1 460.9l0.1 0.7M281.8 452.1l0.5 0.9M232 502.2l0.2 0.2M312.5 447.5l0.8 0.3M296.4 464.2l0.1 0.3M263.9 499.6l-1.1 0.4M289.5 454l0.6 0.8M293.3 512.6l-0.7 0.4M277.8 450.2l0.3 0.7M249.7 494.3l-0.8 0.8M289.3 513.6l-0.2 0M227.3 486.6l-0.5 0.9M310.9 505.9l-0.1 0.2M299.5 527.3l-0.5 0.2M279.6 477.4l0.2 1.2M305.4 466.8l-0.6 0.2M244.1 504.3l0.4 0.7M289.6 523.1l-0.7 0.8M235.1 499.8l0.8 0.5M274.5 518.2l0.3 0.8M248.6 442.4l-0.2 0.5M282.2 479.6l-0.9 0M289.3 457.2l0.4 0.1M245.6 501.2l-0.1 0.4M244.5 495.1l0 0.3M242.2 521.1l0.5 0.1M312.4 512l-0.9 0.6M311 476.1l-0.2 0.6M270.6 509.6l0.4 0M235.4 451.5l-0.4 0.2M224 441.9l0.8 0M292 518.2l0.1 0.4M277.2 472.1l-0.3 1M278.5 479.3l-0.3 0.2M282 451.7l-0.3 0.3M246.2 455.2l-0.4 0.5M267.2 475.8l0.4 0.7M278 525.2l0.7 0.1M224.6 447.4l0.4 0.4M279.5 524.3l0.5 0.1M285 511.3l-0.5 0.7M278.2 483.7l0.2 1M221.2 469.5l-0.7 0.3M262 495.1l-0.2 0.4M268.8 486.3l0.5 0.4M281.7 523.8l-0.9 0.1M287.1 484.3l-0.1 1.1M262.2 460.3l-0.1 1.1M241.7 465.5l-0.5 0.7M288.7 454l0.5 0.2M309.6 503.6l0.1 0.9M301.8 489.5l0.8 0.1M264 470.1l0.2 0.4M302.7 525.6l-0.5 0.4M238.8 450.4l-0.8 0.8M265.9 453.2l-0.7 0.7M264 462.3l0.1 1.1M290.3 470l0.9 0.3M252.3 508.9l-0.2 1.2M272.4 497.9l0.3 0M245 459.5l0.6 0.6M265.9 452.1l0.4 0.5M257.4 505.6l0.2 0.2M217 485.5l0.3 0.3M226.5 442l1.1 0M289.7 480.5l0.8 0.4M284.4 494.3l0.9 0.6M237 451.4l1 0M315.7 455.4l-0.2 1.1M273.2 442.2l0.5 1.1M305.4 485.8l-0.5 0.8M271.1 448.5l1.1 0.4M300.8 461.2l0.6 0.2M277 526l0 0.7M298.1 486.1l0.6 0.3M218 480.7l0.3 1M290.4 489.4l0.8 0.7M218.8 529.9l0.9 0.4M267.1 466.9l-0.2 0.5M282.7 486.6l0.6 0.8M232 511.6l-0.7 0.5M245.3 488.6l-0.2 0.1M295.6 519l0 0.5M263.4 451l0.5 1M248.8 478.6l0 1M274.1 451.2l0.4 0.1M225.6 515.7l-0.5 0.5M249.3 467.7l-0.3 0.1M270.3 498.4l0.1 0.8M303.3 485l-0.3 1M261.8 465.6l0.2 0.2M263.7 500.4l0.6 0.3M309.9 470.1l0.3 0.1M241.1 502.4l-0.2 0.5M221.1 441.4l0.1 0.5M223.5 512.1l1.1 0.1M293.4 513.1l0.1 0.7M267.8 458.1l0 0.3M258.3 498.1l-0.2 0.5M306.7 489l0.8 0.3M221 530.2l0.8 0.5M215.6 521.1l-0.1 0.8M313.8 495.9l0 0.7M293.6 449.3l0.3 1M278.6 490.3l-0.2 0.3M275.3 492.6l-0.1 0.5M296.4 486.6l0.2 0.7M269.6 485.2l0.1 0.3M312.2 512l-0.4 1M282.5 494.7l-0.5 0.3M255.8 473.5l-0.4 0.3M287.5 504.6l-0.2 0.6M264.3 442.6l0.1 0.8M223.9 511.5l0.5 0.6M293.9 482.9l-1.1 0.5M285.9 502l0.8 0.6M272.6 517.5l0.3 0.3M278.2 509l0.8 0.6M288 525.6l-0.8 0.4M289.6 480.3l-0.7 0.7M297.8 504.4l-0.6 0.2M301.2 451.9l-0.2 0.2M299.3 528.8l0.1 0.3M236.7 499.3l0.9 0.1M314.5 447.3l-0.4 0.2M305.3 527.3l-0.5 0.1M300.1 447.3l0 0.2M221.1 504.2l0.1 1M293.7 504.3l-0.3 0.2M279.3 454.4l-0.2 0.8M269.4 454.7l-0.7 0.5M230.3 521.1l-0.5 0.2M244.2 481.4l0.4 0.5M233.1 445.1l-0.2 0.4M275 523.6l-0.4 0.5M313.3 471l-0.2 0.1M232.5 503.7l0 0.3M303.2 483.9l-0.7 0.4M245.5 472.6l-0.5 0.8M268.8 441.7l0.3 0.7M301.5 517l-0.2 0.2M308.1 445.7l1.1 0.5M272 467.6l0.1 0.9M248.1 464.2l0.1 0.2M303.3 466l-0.7 0M290.3 440.3l-0.2 0M225.5 529.7l0.7 0.6M270.5 478.5l0.1 0.3M261.2 519.9l-0.3 0.7M308.7 513.9l0.4 0.2M266 482.4l1 0.2M227 524.5l-0.2 0.2M249.7 455.1l-0.4 0.1M248 517.7l0.5 0.1M309.9 442l0.5 0.6M276.9 493.1l0.7 0.9M260.3 505l-0.7 0.8M270.8 440.1l-1.2 0.1M259.8 448.7l-0.4 0.1M269 480.9l-1 0.6M266.6 488.5l-0.2 0.2M255.5 462.7l0.5 0.1M294.3 443.3l-0.6 0.2M315.9 450.6l-0.6 0.9M229.6 447.9l0.9 0.4M294.3 466.6l-0.1 0.1M304.3 478.1l-0.7 0.7M273.5 494.7l-0.1 0.3M293.2 513.9l0.4 0.3M269.4 461.6l0.4 0M218.4 449.3l-0.4 0.4M243.8 504.5l-0.3 0.1M305.4 489.7l-0.4 0.2M294.6 528l0.5 0.2M311.6 473.2l-0.4 0.8M248.2 493.1l-1 0.3M259.5 480.4l-0.8 0.2" stroke="#0a1180" stroke-width="1.6" stroke-linecap="round" fill="none" stroke-opacity="0.7"/>
<path d="M251.9 494.6l0.1 0.2M215.5 480.1l0.7 0.9M217.1 474.7l-0.8 0.2M292.3 441l0 1.2M283.2 503.6l-0.1 0.6M218.1 492.9l0.4 0.7M279.1 471.6l0.9 0.3M300.7 465.2l0 0.9M292.9 521.3l-0.2 1M239.4 487.1l-0.8 0.5M272.5 461.3l0.2 0M241.3 465.2l-0.5 0.6M264.4 481.9l-0.3 0.2M289.5 450.8l-0.3 0M268.5 455.7l0.4 0.7M236.7 447.2l-0.5 1M276.3 500.2l-0.5 0.2M266 469l1.2 0.1M240.5 491.9l0.1 0.4M255 465.3l0.2 0.6M309.3 461.8l0.8 0.7M267.5 451.4l0.3 0.3M306.5 517.1l-0.7 0.3M260.3 526.9l-1.1 0.2M261.3 498.4l0 0.6M277.4 526l0.1 0.2M218 445.3l-0.1 0.2M218 442.1l1.2 0.1M280.8 516.3l-0.2 0.8M310.7 464.9l-0.9 0.8M313.3 492.7l0 0.4M281 511.9l-0.4 0.4M222.7 466l-0.1 0.2M251.5 522.7l-0.3 0M300.8 443.4l-0.3 1.1M284.9 523.9l0.7 0.2M309.5 487.8l0.6 0.3M308.1 484.2l-0.4 0.4M263.8 456.9l-0.2 0.6M233.6 489.7l-0.6 0.4M254.5 496.8l0.6 1M218.7 527.7l0.4 0.1M285.5 488l-0.5 0.9M310.2 500.9l-0.7 0.3M289.7 503.3l0.9 0.2M305.7 485.5l0.5 0.7M294.2 508.7l0.2 0.1M293.9 513.3l-0.3 0.4M248 448.8l-0.2 0.1M261.6 449.7l-0.9 0M258.2 525.6l-0.2 0.5M310.4 494.4l-0.4 1M228.1 526.4l-0.3 0M286.7 512.1l-0.1 0.9M295.2 525.5l-0.7 0.8M314 490.9l0 0.3M290 513.6l-0.4 0.4M294 498l0.3 0.7M218 500.3l0.1 0.4M268.8 502.9l-0.7 0M219.3 522.8l-0.9 0.5M246.9 460.9l-0.4 0.2M311.9 479.3l0 0.6M220.2 498.4l-0.3 0.6M232.7 464.9l0.4 1.1M260.2 503.1l0.9 0.3M268.7 482.8l0.7 0.6M254.6 497.6l0.4 0.1M250.5 466l-0.7 0M258.5 473.4l0.4 0.6M228.6 440.1l-0.1 0.6M263.8 529l0.6 0.2M309.8 491.4l0.9 0.5M263.2 521.1l-0.3 0.7M225.9 487.9l-0.2 0.4M266.4 504.8l0.4 0.2M268 496.1l0.7 0.3M292.9 505.4l-0.4 0.9M290.9 469l0.9 0.4M217.8 441.3l-0.3 0.7M312 495.5l0.1 0.5M303 512.9l-0.1 0.4M272.2 487.8l0.5 0.6M221.6 525.2l-0.9 0M305.8 482.7l-0.6 0.6M279.5 487.3l-0.7 0.3M219.1 515.6l0.4 0.1M283 489.7l0.5 0.2M256 445.1l0.5 0.9M286.8 515.9l-0.5 0.3M245.8 473.6l0.5 0.1M248.6 477.8l0 0.7M261.7 447.2l0.3 0.8M283.5 529.5l0.7 0.2M269 488.6l0.9 0.5M291.1 474.5l0.2 0.7M230 475.7l-0.5 0.5M218.5 518.9l-0.9 0.1M261.5 453.6l-0.1 0.3M252.6 490.7l-0.2 1M300.8 471.3l0.2 1M271.7 478.4l0.2 0.3M307.7 515.5l0.5 0M287.1 518.8l0.1 0.4M259.7 479.5l-0.1 0.4M260.8 493l0.2 0.2M246.3 492.6l0 1M312.2 517l0.1 0.3M277 496.4l0.8 0.1M267.7 504.5l0.3 0M241 453.6l0.8 0M260.4 516l0 0.4M230.9 448.3l0.8 0M289.4 450.1l-0.2 0.2M295 500.5l-0.3 0.1M258.3 489.9l-0.4 0.1M292 520.8l0.6 0.7M226.7 501.9l-0.5 0.2M245.4 447.2l0.1 0.3M247.7 488.9l-0.3 0.2M267.3 523.5l-0.3 0.1M255.7 478.8l-0.9 0.2M305.4 517.6l0.9 0.3M217.5 476.4l-0.6 0.2M234 453.5l-0.5 0.1M223.3 468.9l-0.4 0.6M295.2 491.4l-0.4 0M247.6 513.9l0.1 0.6M233.7 518.1l0 0.4M260.1 479.5l0.4 0M294.1 503.7l-0.2 0.4M215.9 470.3l0.8 0.4M253 484.9l0.3 0M263.9 523.4l-0.8 0.5M234.6 511.6l0.9 0.1M227.6 446.5l0.2 0.5M279.9 522.2l0.8 0.6M272.8 454.8l-0.5 0.9M268.7 484.3l0.3 0.4M287.9 519l-0.2 0.1M239.9 490l0.2 0M296.5 474.8l-0.7 0.8M297.6 494.5l0 0.3M293.2 479.9l0.2 0.3M280.9 513.4l-0.3 0.1M246.8 524.4l-0.4 0.2M288.2 493.4l-0.4 0.1M310 459.7l0.1 0.2M275.7 467.1l0.4 1M218.2 519.3l0.4 0M234.5 496.3l0.4 0.4M242.1 446.2l-0.7 0.6M275.4 495.3l0.4 0.2M222.1 529.1l0.7 0.7M281.3 477.9l0.3 0M221.8 440.1l0.4 0.3M225.6 444.7l-0.8 0.4M301.4 503.3l-0.2 0.3M294.7 465.9l-0.1 0.2M218.4 472.7l0.1 1.1M258.9 444.1l-0.1 0.3M233.3 510.8l-0.4 0.4M247.5 448.6l0.5 0.5M241 505l0.1 0.6M299 499.5l0.2 0.2M270.3 461l0.6 0.4M282.2 493.5l0.8 0.9M282.1 446.8l-0.2 0.1M242.7 522.4l0.3 0.7M312.6 481.4l0.8 0.2M302.9 482.4l0.2 0.5M284.8 517.7l-0.8 0.2M225.9 466.4l0.9 0.3M314.2 480.2l-0.1 0.3M303.7 513.7l-0.1 0.7M242.5 508.9l0.4 0.6M263.3 442.9l0.6 0M258.4 471.5l0.7 0.3M216 482.4l-0.7 0.9M250.7 442.3l0.6 0.7M243.7 506.5l0 0.9M250.4 488.2l0.6 0.5M300.3 469.8l1.1 0.2M240.6 498.8l-0.3 0.8M252 497.3l0.1 0.3M284.2 518.2l-0.5 1M217.5 491l0.5 0.3M253.1 440.9l0 0.9M300.3 463.1l-0.2 0.5M234.6 448.3l0.6 0.2M236.9 447.6l1 0.1M299.7 447.6l0 0.4M244.7 519.2l0.2 0.3M306.9 454.3l0 0.3M263.7 462.5l-0.5 0.1M263 466.2l0 0.5M261.7 525.1l-0.6 0.1M264.2 482.1l0.4 0.9M275.5 480.3l-0.2 0.1M234.1 493.3l0.2 0.5M295.8 444.1l-0.4 1M305.6 439.3l-0.7 0.1M245 459.6l-0.1 1M280.2 495.6l0.2 0.1M287.8 504.5l-0.8 0.4M301.7 494l0.5 0.6M293.6 493.9l-0.2 0.2M250.5 521.1l-0.6 0.1M256 482l0.3 1.1M310.3 513.8l-0.5 0.2" stroke="#0f1aae" stroke-width="1.6" stroke-linecap="round" fill="none" stroke-opacity="0.85"/>
<path d="M259.7 468.8l-0.4 0.1M297.2 521.8l0.4 0.4M219.6 499.6l0.7 0.3M264.7 505.8l0 1.1M301.9 449.7l-0.7 0M297.6 466.3l-0.1 0.6M262.2 444l0.4 1M255.1 490l-0.4 0.2M277.1 526l-0.3 0.2M242.5 527l0.5 0.4M295.8 504.2l-0.2 0.1M299 442.3l-0.7 0.5M297.9 484.1l-0.3 0.3M279.4 472.5l0.9 0M246.2 461.8l-0.2 0.7M269.3 477.5l-0.7 0.8M250.8 521.3l-0.7 0.5M214.9 494.5l1.1 0.1M227.8 488.5l-0.6 0.9M286.3 525.9l-0.7 0M293.9 463.7l-0.4 0M277.6 491l-0.8 0.1M230.7 501.8l-0.2 0.4M288.1 497.5l0.3 0M314.8 465.7l0.1 0.4M309.7 463.1l-1 0.2M278.3 520.5l0.6 0.4M215.7 519.9l-0.5 0.7M269.1 444.5l0.1 0.2M273.6 445.2l0.5 0.1M255.2 484.1l0.2 0.5M297.4 491.7l0.7 0.6M223.2 454.3l-0.3 0.9M215.4 514.8l-0.3 0.7M266.5 526.5l0.3 0.4M257.4 513.1l0.3 0.2M259 476.8l0 0.4M222.5 478.1l0.2 0.1M242.9 499.9l0.6 0M270.5 449.7l-0.1 0.2M295 519.5l-0.8 0.3M261.6 464.6l0.8 0.8M283 516l0.2 0.4M273.6 455.3l-0.1 0.4M297.9 501.9l-1 0M262.5 490.6l0.4 0.9M238 448.7l0.6 0.2M254.6 469.3l0.9 0.1M216.9 452.4l-0.5 0.6M268.7 456.2l-0.5 0.5M226.5 507.5l0.4 0.4M279.4 522.3l-0.2 1.1M247.5 517l0.3 0.6M270.8 474.8l-0.8 0.9M275.9 523l0.7 0.7M224.8 471.3l0.3 0M294.6 507.1l-0.1 1.2M261 516.7l0.5 0.3M223.7 450.6l-0.8 0.4M238.1 505.8l0.7 0.8M244.9 477.5l-0.9 0.5M255.2 517l-0.3 0.2M239.7 504.7l-1.1 0.2M234 439l-0.8 0M262 461.6l-0.3 0.4M242.2 528.7l0.1 0.4M253.6 494.4l1 0.1M308.1 498l-0.1 1.1M272.1 513.1l0.1 0.5M245.4 512.2l-0.6 1M303.2 511.9l0.1 0.2M232.9 503.9l0 0.5M271.9 467.7l-0.1 0.4M230.7 507l-0.7 0.3M240.5 448.4l0.3 0.1M274.7 493.4l0.8 0.6M240.1 495.3l0.3 0.4M305.9 492.1l0.2 0.5M260.3 529.6l0.4 0.2M308.4 479l0.1 0.3M254.6 515.9l0 0.7M293.7 465.4l0.4 0.1M290.2 481.7l0.4 0.8M298.7 478.4l0 0.2M303.8 454.3l0.9 0.3M248.1 467.1l-0.8 0.4M229.8 445.2l-0.7 0.6M313.1 460.6l-0.6 0.9M259.9 446.6l0.9 0.3M311.8 448.3l-1.2 0M217.7 440.7l0.4 0.8M225.7 521.1l1 0.1M221.5 454.8l-0.6 0.9M230 456.2l-0.1 0.5M227.8 494.8l-0.3 0.2M232.6 502l0.3 0.9M243.3 447.4l0.4 0.1M284.4 512.8l-0.3 0.1M218.9 453.6l0.8 0.7M231.3 493.6l-0.6 0.7M292.9 483.4l0 1M315.2 490.8l0.6 0.4M297 457.3l-0.1 0.3M308.6 513.4l-0.4 0.2M303.4 450.9l-0.9 0.3M262.7 512.8l-0.4 0.4M310.7 441.6l-0.3 1M221.4 475.6l1 0.4M216 440.2l-0.6 0.1M281.9 519.6l0.4 0.2M243.6 493.9l0.3 0.1M263.6 523.8l-0.8 0.9M239.3 450.6l0.1 0.2M309.4 443.1l1 0.3M273.6 498.2l-0.6 0.5M297.2 448.5l0.9 0.3M289 450l-0.4 0.3M223.3 507.6l0.4 0.3M217.2 525.1l-0.3 0.5M274 498.3l0 0.3M302.7 524.3l-0.7 0.2M281.2 453l-0.8 0.4M262.6 469.9l0.9 0.7M231.9 475.6l-0.3 1M257.3 485.1l0 0.2M266.3 495.7l0.1 0.5M306.4 469.5l-0.8 0.7M233.7 449.5l-0.4 0.2M233.7 458l-0.4 0.4M306 490.4l0.2 0.1M251 512.7l-0.5 0.6M296.5 480.6l-0.1 0.2M294.1 495.2l-0.4 0.7M227.5 457.1l-0.7 0.2M308.3 509.2l0.1 0.9M257.9 466.6l0.1 0.3M287.8 494.9l-0.3 0M299.7 455.1l0.2 0.7M254 519.8l-0.9 0.6M218.4 450.3l-0.5 0.4M282.9 473.1l-0.3 0.2M255.5 476.9l-0.3 0.3M220.5 446.7l-0.6 0.5M313.1 459.7l-0.1 0.5M274.5 500.9l0.8 0.6M231.6 451.1l-0.3 0.8M232.8 503.3l1 0.2M222.8 440.7l0.2 1.2M305.6 455.6l-0.5 0.5M251.5 506.6l0.2 0.4M266.8 464.6l-0.7 0.7" stroke="#1626dc" stroke-width="1.5" stroke-linecap="round" fill="none"/>
<path d="M256.1 457.4l0.1 0.3M306.4 443.2l0.9 0.7M249.4 472.9l-0.1 0.2M219.2 453.7l-0.3 0.5M312.8 518.3l0.6 0M296.9 480.3l0.3 1.1M228.9 516.5l0 0.7M227.6 497l-0.9 1.1M230.9 515.4l1.2 0.9M238.4 510.7l0.4 0.4M273.4 465.1l0.8 0.8M231.8 451.7l1 1.4M306.8 456.1l0.8 0.5M250.3 454.9l-0.3 0.3M221.2 514.3l0.1 0.7M310.6 456.6l-0.1 1.2M282.8 476l0.6 1.1M305.8 523.6l-0.4 1.5M237.2 457.1l-1.4 0.6M312.2 457.5l-0.8 0.5M226.2 461.5l0.6 0.1M299.3 464l0.4 0.5M236.2 454.8l0.5 0.1M278.7 509.4l0 0.4M280.7 460.8l0.8 0.8M235.5 468.1l1.1 0.7M266.1 455.3l0.3 0.5M261 443.6l0.9 1M270.3 484.8l-0.2 0.3M288.6 467.8l1 1M236.1 468.4l0 0.2M275.4 486.1l-0.8 0.2M259.3 443.1l-0.4 1.6M284.5 484.7l-0.6 0.2M234.8 468.3l1.3 1.2M272.7 471.9l-0.6 1.3M265.3 457.2l1.4 0.1M284.1 509.8l0.6 0.6M299.2 501.1l0.2 0M247.6 497.4l0.6 0M246.8 444.9l-0.8 0.1M241 457.9l0.2 0.4M268.7 484.5l-1.2 0.7M270.9 486.5l-0.8 0.8M280.5 474.7l-0.8 0.5M276.8 485.8l0.7 0.1M309 441.9l0.3 0.1" stroke="#f01848" stroke-width="2.0" stroke-linecap="round" fill="none"/>
</g></g>
<text x="217.7" y="448.7" font-size="10.6" fill="#fff" class="w">CD8</text>
<path d="M276.6 474.2L269.8 480.6M270.6 477.8L269.8 480.6L272.6 480" fill="none" stroke="#fff" stroke-width="1.0" stroke-linecap="round" stroke-linejoin="round"/>
<path d="M279.4 477.6L272.6 484M273.4 481.2L272.6 484L275.4 483.4" fill="none" stroke="#fff" stroke-width="1.0" stroke-linecap="round" stroke-linejoin="round"/>
<rect x="319" y="438.2" width="102" height="93.4" fill="#000"/>
<rect x="319.7" y="438.9" width="100.6" height="92" fill="#03041c"/>
<g clip-path="url(#c4)">
<rect x="319.7" y="438.9" width="100.6" height="92" filter="url(#olv2)"/>
<g filter="url(#b3)">
<path d="M382.9 464l1 0M328.8 479l-0.8 0.3M419.7 512.9l-0.7 0.6M397.5 524.8l-0.3 0.4M394.7 509l0.6 0.3M367.3 491l0.1 0.2M409.1 447l0.1 0.5M334.3 511.2l0 1.1M386.6 527.5l0.1 0.1M347.9 519.6l0.9 0.6M336.8 530.8l-0.5 0.1M405 515.4l0.3 0.5M354.1 441.9l-0.2 0.5M415.2 482.8l0.7 0.5M327.7 516l0.6 0.2M415.2 495l-0.9 0M341.1 516.4l0.8 0.3M389.1 449l0.2 1M333.9 454.8l0.8 0.7M371.8 487.4l0.8 0.3M375.1 451.7l0.8 0.4M349 509.7l0.8 0.2M342.8 466.4l1.2 0.2M350.1 444.7l0.8 0.7M323.2 502.3l0.2 0.1M399.1 480.9l0.6 0.7M377.3 449.1l0.4 0.1M321 490.3l0.2 1.1M344.7 524l0 0.7M323.8 493l0.7 0.8M335.8 487.7l0.1 0.2M329.9 466l1 0M390.3 516.6l0.2 0.6M334.7 471.8l0.1 0.3M381.7 463.8l0.3 0.3M367.9 518.3l1 0.5M418.1 461.4l0.5 0.9M419.2 502.3l0.8 0.1M401.6 448.6l-0.9 0.7M361.9 440.9l-0.2 0.8M406.8 440.1l-0.7 0.4M375 492.5l-0.3 0.8M389.9 450l-0.2 1.1M416.7 443.8l0.1 0.3M420.2 471.5l0.1 0.4M344.5 495l-1.1 0M384.9 481.4l-0.5 0.5M410.3 462.2l-0.4 0.3M346.4 509.1l0.4 0.2M361.5 476l0.3 0.8M337.7 526.4l0.4 0.3M355 529.6l-0.5 0M389.6 503l0.1 0.5M399.4 517.7l0.4 0.4M406 527.1l0 0.4M344.4 450l0.1 0.5M377.3 527.6l-0.2 1.1M345.1 521.2l0.6 1M416.5 530l-0.3 0.6M387.6 486.7l-0.1 0.1M397.9 465.2l-0.9 0.2M343.7 464.2l-0.1 0.2M340.2 476.1l1.1 0.2M387.2 463l-0.6 0.9M353 523.7l0.9 0.3M388.5 515.1l-0.1 0.8M350.4 470.7l0.9 0.2M416.9 523.1l-0.5 0.8M333.3 463.4l-0.9 0.7M397.3 493.4l-0.6 0.7M335.6 518.2l-0.2 0.3M416.9 499.3l-0.8 0.8M331.2 508.9l0.3 1M322.5 514.3l0.6 0.1M335 500.1l0.4 0M359.4 465.6l0.2 0.2M372.6 504.2l0 0.3M366.6 468.4l-0.7 0.8M398 458.7l0.9 0.2M349.4 445.4l0.3 0.6M362.6 476.6l-1 0.6M337.3 466.6l-0.2 1M405.4 500.6l0.5 0.5M323.8 509.3l0.4 0.1M395 460.1l0.6 0.6M325.2 473.9l0.3 0.2M419.6 529.4l0.7 0.9M334.9 499.5l0.6 0.1M357.1 469.8l-0.5 0.2M417.5 506.1l-0.4 0.1M415.3 501.9l0.4 0.5M332.2 496.3l0.1 0.2M363.6 485.1l0.2 0.5M384.2 459.8l-0.2 0.2M321.7 502.8l-0.8 0.7M394.7 515.7l0 0.8M356.7 467l-0.4 0.1M354.3 515.9l-0.8 0.1M336.9 470.1l0.8 0.6M391.4 475.9l0.6 0M398.4 508.3l-0.1 1M400.1 479.6l-0.1 0.5M342.2 528.1l1.1 0.1M401.5 444.5l-0.3 0.4M365.2 461.9l0.1 0.4M376.1 452.4l-0.5 0.1M322.4 526.7l0.5 0.3M397.3 529.4l0.3 1M356.3 496.3l0.7 0.1M411.6 456.2l-0.4 0.1M411.7 519.2l0.2 0.2M377.2 446.2l0.1 0.2M391.2 485l0.2 0M410.2 448.5l-0.4 0M331 489.7l-0.8 0.1M407.8 505.1l0 0.5M374.6 477.8l0.4 0.8M343.5 465.4l0.9 0.2M353.2 513.9l-0.4 0.2M399.3 464l-0.3 0.4M410 525.8l0.3 0.2M394.5 496.2l0.2 0.7M364.8 472.8l-0.6 0.4M411.9 511.4l-0.7 0.3M359.4 498l-0.5 0.3M372.1 511.2l0.4 0.7M354.3 523.7l0.5 0.7M323.8 521.4l0.2 0.8M348.6 453.7l-0.3 0.3M329.4 516.8l-0.2 0.1M358.3 501l-1.1 0.1M322.5 494l0.4 0M373.4 512.6l0.2 0.2M372.2 474l-0.4 0.1M351 500l0.1 0.2M329.3 484.8l-0.3 0.7M407.9 468.3l-0.4 0.5M383.3 447.1l-0.5 0.9M364.1 528.9l0 0.5M333.7 464.5l-0.3 0.2M330.9 518.5l-0.3 0.3M391.8 528.8l0.7 0.3M420.6 472l-0.9 0.6M352.7 530.2l-0.4 0.2M341.1 450.1l0.2 0.3M396.1 492.2l-0.6 0.7M410.6 521.2l0.5 0.3M331.9 516.4l-0.1 1.1M354.7 468.8l0.8 0.7M418.2 488.9l0 0.8M327.8 486.6l0.5 0M351.8 488.4l1.2 0.2M377.4 500.1l0.8 0.7M340 460.7l0.5 0.2M343.8 455l-0.2 0.8M376.4 447.8l-0.8 0.6M377.4 522.5l1.1 0.4M420 451.6l-1 0.6M378.1 458.2l-0.2 0.2M384.7 525.1l-0.3 0M375.7 441.3l-0.4 0.3M372.2 477.9l-0.1 0.4M415.3 490.2l0.9 0.4M385.7 461.8l-0.6 0.5M364.6 497.2l0.7 0.4M332.2 515.5l-0.5 0.9M365.9 489.1l-0.7 0.2M406.1 513.1l0.9 0.3M354.2 515.4l0.3 0.1M363.8 507l-0.4 0.9M398.5 495l-0.5 0.7M361.5 495.5l0.7 0.4M336 528.5l-0.6 0.3M410.2 478.4l0.3 0.2M372.3 517.8l0.3 0.5M419.3 485.4l0 0.4M325.9 454.6l0.3 0.5M393.5 515.5l-0.2 0M409.2 484.1l-0.2 0.6M344.9 472.9l1 0.6M397.1 444.4l-0.2 0.7M402.9 446.1l-0.9 0.4M394.8 484.1l0.4 0.4M371.1 500.2l-0.3 0.3M353.7 495.5l-0.2 0.1M352.1 516.8l0.2 0.3M407.7 505.3l0.2 0.2M368.4 525.9l0.4 0.2M353.7 457l-0.6 0.1M339.3 509.9l-1 0.2M386 519.8l-0.9 0M371.6 495.8l-0.2 0.5M328.6 462.4l0.8 0.2M408.1 457.4l0 0.2M380.6 498.9l-0.3 0M419.3 455.8l-0.2 0.2M416.8 502.5l0.2 0.3M415.9 508.4l0.1 0.8M402.5 459.2l-0.2 0.2M390.3 508.5l-0.7 0M364.7 459.2l-0.2 0.6M371.8 468.9l0.9 0.2M370.7 509.3l0.7 0.4M402.2 444.7l1 0.6M375.1 487.4l-0.5 0.3M339.7 460.7l-0.4 1M402.5 489.8l-0.8 0.2M405.2 525.7l0.7 0.5M322 503.1l0.4 0.3M386.2 520.8l0.2 0.7M392.5 468.2l0.4 0.5M351.2 444.9l0 0.4M327.7 461.1l0.1 0.3M383.9 512.4l0.1 0.3M371.7 527l-0.3 0.7M397.5 527.1l0.1 1M371.4 529.8l-0.1 0.4M322.9 529.3l-0.4 0.9M344.8 471.4l-0.4 0.1M332 489.6l-0.5 0.5M410 492.8l0.7 0.1M349 528.5l-0.3 0.4M343.7 452.7l0.6 0.8M365.7 506.1l-0.4 0.9M409.7 525.1l0.9 0.5M416.5 513.6l0.2 0.4M409 518.7l0.5 0.5M383.1 491.1l0.3 0.9M349.3 505.8l0.2 0.3M373.9 447.7l0.2 0.5M361.8 497.2l0.4 0.9" stroke="#1420b0" stroke-width="2.0" stroke-linecap="round" fill="none" stroke-opacity="0.7"/>
<path d="M340.2 461.9l-0.8 0M385.4 480.4l0.1 0.3M327.5 511.8l0.3 0.3M381.4 489.1l0.4 0.5M325.8 444l0.1 0.3M355.5 464.2l-0.1 0.2M321.4 491.3l-0.8 0.2M341.8 487l-0.7 0.3M417.6 514.4l0 0.2M410.4 455.8l0.5 0.3M367.8 492.9l-1 0.2M338.2 469.9l-0.3 0.1M388.3 505.2l0.1 0.4M383.5 492.6l0.1 0.2M407.6 456.4l0.3 0.1M381.9 496.6l-0.9 0.7M394.1 448.4l0.8 0.6M385 485.2l0.9 0.7M418.5 442.5l0.1 0.2M383.2 464.2l-0.4 0.3M394 479l0.3 0.1M360.8 471.6l0.7 0.8M372.2 469.8l-0.6 0.5M370.7 493.7l0.7 0.1M417.5 470.9l-0.3 0.2M322.3 497.3l0.3 0.9M388.5 459.4l0.4 0.8M381.6 506.1l1.1 0.5M371.5 446.7l0.1 0.7M373.6 441.1l-0.5 0.2M337.3 528.5l-0.3 0.3M406.4 488.5l0.8 0.3M356 469l-0.2 0.7M395.5 529.6l-0.6 0.2M397.5 462.8l0.2 0.1M382 458.7l-1.1 0.4M344.1 500.5l-0.8 0.1M345.8 449.2l-0.6 0.5M350.7 502.5l-0.1 0.9M369.5 501.6l-0.3 0.7M385.2 477.5l-1 0.4M325.7 485.8l-1.2 0.1M360.9 471.5l0.8 0.6M325.3 517.3l-0.8 0.9M375.6 508.7l0.9 0M383.6 477l-1.2 0.2M360 522.6l0.1 1.1M404.7 522.1l-1 0.1M345.6 528.8l0.9 0.6M405.2 475.9l-0.5 0.2M418 510.2l0.1 0.2M326.6 523.1l0.5 0.2M412.6 453.3l0 0.5M371.4 453l0.3 0.5M371.1 446.6l0.2 0.7M372.4 465.6l-0.4 0.9M345.7 471.8l0 0.5M367.9 476.3l-1 0.1M345.6 516.8l1 0.2M373.1 469.7l0.5 0.1M349.8 519.6l1.1 0.5M389 508.9l0 0.6M407.3 475l-1.1 0.3M368.6 500.2l-0.6 0.3M377 495.8l-0.9 0.1M408.6 495.5l0.8 0.5M357.1 517l-0.9 0.4M397.3 465.4l-0.6 0.3M346.6 468.2l-0.2 0.7M365 464.2l0.1 0.5M406.7 493.3l-0.5 0.1M362 489.9l0.4 0.5M396.9 503.5l0.4 1.1M348.5 498.2l0.4 0.4M347.6 451.5l-0.2 1.1M396.3 480.7l-1 0.6M399.7 460.4l-0.4 1.1M357.9 490.8l0.4 0.7M400.9 522.5l-0.1 0.4M344.9 455.7l-0.3 0.6M366.5 512.9l-0.5 0.3M376.9 490.8l0.7 0.5M373.2 467.2l0 1.1M324.1 450.9l-0.5 0.9M336 483.4l0 0.3M403.9 492l0.4 0.2M399.8 460l0.6 0.7M386.9 505.5l0 0.5M321.9 500.2l0.2 0M327.8 526.4l0.2 0.3M327.1 474.2l-0.4 0.7M321.3 441.2l-0.7 0.9M323.6 438.5l-0.4 1M404.2 486.1l-0.7 0.9M344.3 523.1l0.3 0.5M401.1 505.1l0.9 0.4M382.2 478.8l0.7 0.5M419.1 486.9l0.2 0.3M411.8 529.3l-1.1 0.4M382.9 459l0.2 1M393.1 505.1l0.4 0.3M335.9 467.8l0.2 0.2M339.2 499.9l0 0.4M370.5 490.5l0.1 0.4M389.4 506.3l-0.1 1.1M326.2 449.3l-0.3 0.8M326.3 459.9l0.9 0.4M346.5 458.6l-0.5 0.4M362.5 456.1l0.6 0.8M409.2 488l-0.6 0.1M394.6 457.6l-0.1 0.5M324.6 509l-0.4 0.8M392.3 458.5l-0.4 0.4M370.9 448.8l0.4 0.2M338.4 523.5l-0.6 0.6M376 496.6l0.4 0.3M374.9 518.6l0.5 0.2M375.7 472.3l-0.2 0.4M411.6 502.2l0.9 0.2M407.5 463.3l0.4 0.1M329 477.8l0.5 0.1M390.3 483.1l0.2 0.6M364.7 483.1l-0.3 0.5M344.5 524.2l-0.2 0.1M369.6 476.8l0.1 0.2M390.1 444.5l-0.7 0.9M413.7 525l0.1 1M326.7 529.6l-0.7 0.3M390.6 520.5l-0.1 0.5M374.7 462l-0.1 0.7M405.2 525.6l0.1 0.5M402.3 455.8l0.4 0.9M365 464.2l0.2 0.4M360.5 476.4l0.2 0M336.3 500.8l0.3 0.5M364.7 438.9l-0.7 0.1M368.1 473.2l-0.6 0.7M365 458l-0.7 0.4M392.8 501.9l0 0.6M400.7 520.9l0.1 1.2M376.2 441.7l-0.1 0.8M326 457.8l0.7 0M405.6 488.6l0 0.4M337 495.5l0.1 0.7M402.2 471.5l0.6 0.4M319.9 454.6l-0.4 0.1M374.4 460.3l-0.2 1.1M369.5 525.1l-0.5 0.8M390.1 446.7l-1 0.2M323.6 439.3l-0.4 0M336.8 462.3l-0.1 0.7M403.7 444.7l-1.1 0.3M361 483.1l-1 0.4M413.7 494.6l0.2 0.9M384.6 519.8l0.4 0.2M404 451.6l-1.1 0.4M375.4 471.4l-0.8 0.2M358 488l-0.3 1M331.3 521.8l-0.1 0.6M380.1 486.9l-0.4 1.1M377.3 478.5l0.7 0.7M358 519.4l-0.3 0.8M338.9 487.3l-0.3 0.6M322.9 472.7l1 0.2M320.9 483.1l0.8 0.2M335.8 521.7l-0.3 1.1M377.1 465.4l0.2 0M328.6 443.8l0.3 0.9M342.5 520.4l-0.2 1.1M389.7 442.3l0.4 0.5M368.3 486.7l0.5 0.3M392.7 508.9l1 0.5M349 517.5l-1 0.3M411.7 449l0.1 0.4M353.4 523.2l-0.1 1M327.9 440l1.1 0.3M394.9 459.1l0.5 0.6M418.2 481.5l0.9 0.2M346.3 512.3l0.8 0.8M342.4 439.3l-0.8 0.1M357.7 519.6l0.5 0.6M363.9 459.5l-0.4 0.3M329.7 505.2l0.4 0.6M348.4 509.8l0.7 0.1M408.8 502.4l1.1 0.1M386 496.4l-0.5 0.7M325.1 476.4l-0.3 0.9M326.9 482.8l-0.4 1.1M366.5 478l-0.5 0.2M347.2 528.1l-0.5 0.4M332.2 499.7l0.3 0.1M324.8 442.8l0.4 0.4M323.5 452.1l0.7 0.1M357.9 491.4l0.1 0.8M382.5 472.2l-0.3 0.5M389.7 490.3l-0.7 0.9M323.9 494l-0.4 0.2M414.1 446l-0.4 0.3M385.9 509.4l-0.7 0.5M385.3 527.5l0.3 0.1M398.6 512.6l0.7 0.1M350.2 469.6l0.7 0.8M366.3 499l0.1 0.2M384 464l0.7 0.4M324.9 470.5l0.3 0.6M391.5 522.5l-0.4 0.3M330.3 518.1l-0.2 0M391.5 482.9l-0.3 0.4M324.3 497.5l-0.2 0.5M350.6 528.6l0.4 0.3M329.9 469.2l0.7 0.1M376.3 497.5l0.2 0.3M353 515.7l-0.5 0.4M359.5 453.4l0.6 0.3M343.5 480.9l0.3 0.2M362 523l-0.7 0.3M383.6 527.7l0.9 0.4M419.2 484.6l0.6 0.9M396.8 459.3l-1.1 0.4M405.3 472.6l-0.5 0.4M415.9 514.9l0 0.9M349.5 518.8l-0.3 0.2M367.2 464.5l1.1 0M337.9 469.2l0.9 0.5M405.3 440.5l0.7 0.6M407.8 469.2l0 0.4M336.8 514.7l0 0.3M376.4 456.6l0.3 0.5M339.9 439.5l-0.7 0.1M324.6 495.2l0.5 0.4M399.8 489.4l-0.3 0.2M352.6 481.2l-0.3 0.7M374 445.1l0.4 0.4M412 497.9l0.3 0.2M324.5 456.3l-0.2 0.8M351.7 446.2l0.5 1M347.2 464.4l-1 0.5M347.1 513l-1 0.4M383.3 448l0.3 0.3M384.6 450.1l-0.6 0.2M365.5 463.1l-0.7 0.8M350.9 529.7l0.3 0.1M351.1 521.5l-0.8 0.5M398.9 505.9l0.9 0.7M355.1 484.2l1.1 0.1M379.2 521l0.2 0.5M388.8 472.5l0.2 0M366.8 495.1l0.6 0.2M378.4 488l1 0.4M363.4 490.3l0.5 1.1M417.7 519.8l0.2 0.2M393.1 467.8l0 0.4M384 449.8l0.5 0.4M344.6 499.2l-0.7 0.5M373.9 495.8l-0.9 0M394.9 496.7l0.6 0M325 489.1l-0.5 0.8M409.1 523.6l0.2 0.6M341.3 527.5l-0.3 0.6M403.8 528.4l0.5 0.6M337.6 457.5l0.2 0.1M349.2 478.7l-1 0M342.2 466.6l0.3 0.5M357.1 519.5l-0.2 0.6M321 499.1l-1.1 0.1M405.5 464.7l0.1 0.7M400.1 456.8l1 0.3M402.9 455.5l-0.3 0.5M352.7 475.9l0.8 0.6M378.5 454.6l0.7 0.7M402.3 486l-0.5 0M397.9 516.3l-1 0.4M375.8 516.5l1.2 0.1M330.5 523l0.2 0.2M347.7 447.2l-0.3 0.8M333 530l0.8 0.2M349.6 507.9l-0.6 0.2M371.1 515.7l-0.3 0M340.7 505.3l0 0.2M399.2 517.7l-0.7 0.8" stroke="#1826d0" stroke-width="2.0" stroke-linecap="round" fill="none" stroke-opacity="0.85"/>
<path d="M320.7 472.3l-1.2 0.2M375 473l0.3 0.4M361.1 520.3l-0.3 0.3M405 490.9l-0.3 0.1M348.2 445.9l-0.9 0.2M357.8 465.6l0.5 0.3M420.1 462.6l-0.3 0.6M396.1 447.2l0 1M376.1 491.8l-0.3 0.3M322.8 529.5l-1.1 0M335.1 510.4l-0.1 1.2M328.3 455l-0.3 0.3M389.9 506.1l1.1 0.3M339.2 500.6l0.2 1.1M407.6 514.3l-0.2 1.1M320.4 528.6l0 0.4M331.6 481.3l-0.2 0.3M411.6 454l0.1 0.5M340.6 473.2l-0.8 0.5M335.3 474.4l-0.2 1.2M347.7 490.5l0.5 0.5M360.1 505.1l-0.2 0.3M338.6 483.5l0.6 0.8M328.8 442.1l-0.2 0.8M330.8 438.7l-0.2 0.6M330 504.2l-0.7 0.2M390.6 487.1l-0.1 0.6M394.7 477l0.7 0.6M380.2 526.8l-0.9 0M334.1 465.5l0.3 0.4M386.2 446.7l0.4 0.9M339.2 462.2l0.4 0.8M415.3 505.6l0.7 0.5M389.9 470.8l0.2 0.1M379.6 525.1l-0.1 0.5M321.9 461.8l-0.3 0.6M325.2 458.5l0.7 0.7M387.3 525.8l-0.2 0.1M361.5 519.5l0 0.2M397.6 472.3l-0.1 0.2M392 508.8l-0.3 0.2M341.6 477.9l0.3 0.6M362.5 512.8l-0.1 0.5M377.1 462l0 0.7M325.2 507.4l0.5 0.5M368.5 450.8l-0.2 0.3M410.7 455l-0.6 0.1M409 456.8l0.4 0.9M349.9 451.4l0.5 0.8M361.6 493.2l-0.4 0.2M376.4 477.3l-0.3 0.4M409.7 516.9l-0.5 0.1M374.7 485.2l0.4 0.3M325.6 483.5l-0.1 0.4M402.4 500.5l0.8 0.9M394.9 500.6l0.3 0.7M402.3 447.5l-0.5 0.7M397.6 474l0.7 0.2M416.6 464.3l-0.9 0.2M417.5 488.7l0.6 0.1M355 501.4l0.5 0M364.5 516.3l0.2 0.1M402.7 510.1l0.9 0.1M337.9 467.9l-0.9 0.2M368.2 443.2l0.1 1M360.4 492.3l-0.3 0.1M360 456.7l-0.4 0.4M326.2 530.6l-0.7 0.2M387.6 481.4l0.4 0.2M355.3 528.4l-0.9 0.5M390.9 470.7l-1 0.3M341.2 504l0.1 0.5M419.9 476.2l-0.1 0.3M345.5 527.2l0.2 0M385.2 483.2l0.3 0.9M381 482.8l0.5 0.2M405.9 485.9l0.3 0.9M359.6 493.3l-0.1 1M388.3 517.3l-1.2 0.2M384.7 481.8l0.1 0.9M368.8 449.7l0.2 0.5M339.6 528.3l-0.4 0.3M408.6 525.6l-1.2 0.1M344.8 451.5l0 0.4M376.7 483.2l-0.8 0.2M327.8 522.1l-0.8 0.7M388.9 484.6l0.2 0.6M372.1 469l0 1M357.6 438.8l-0.4 1M392.2 502.9l-0.4 0.9M327.8 513.9l-1 0.7M357.8 528.9l-0.3 0.5M397.3 441.6l0.6 0.2M329.2 490.3l0 0.7M399.7 527.2l0.5 0M404.7 502.3l0 0.3M408.9 468.3l-1 0.4M364.9 520l-0.1 0.3M410.5 470.7l-0.3 0.7M346 516.2l0.2 0.8M381.4 497.5l-1.1 0.2M356.9 444.4l0.1 0.3M410.1 528.3l-0.7 0.6M358.3 451.8l0 0.3M351.7 502.2l-0.4 0.1M388.1 493.9l0.1 1.1M420.1 439l-0.5 0.8M325.2 524.1l0.8 0.8M361.8 481.7l-0.4 0.5M344.2 476.9l-0.2 0.8M320.3 513.7l0.8 0.2M361.9 499.5l-0.2 0.6M386 464.6l-0.2 0.7M397.6 515.9l0.5 0.7M355.8 500l0.1 0.4M395.7 489l0.3 0.4M332.9 516.6l0.2 0.1M412 460.5l0.1 0.2M327.1 481.7l-0.3 0.5M368 528.1l0.2 0.8M389.9 527.6l0.1 0.4M416.4 440l-0.7 0.1M343.6 469.5l0.5 0.9M409.6 495.7l-0.2 0.8M341 442.8l-0.3 0.1M409.5 482l-0.8 0.2M394.5 451.8l-0.3 0.4M419.9 480.1l-0.1 0.9M320.7 467.4l-0.5 0M389.4 452.4l-0.8 0.5M367.7 484.9l0.2 0.9M419.1 444.3l-0.6 0.5M405.1 530.8l0.3 0M365.1 464.4l-0.1 0.6M362.5 446.1l0 0.3M336.1 447.9l0.7 0.2M352.2 503.1l0.4 0M398 520.4l0.3 1.1M348.1 488.1l0.8 0.6M341.9 445.8l0.5 0.4M373.1 477.4l-0.2 0.1M325.7 479.3l0.1 0.5M376.6 461.2l0.6 0.6M388.5 481.4l-0.5 0M357.4 479.8l0.5 0.7M408.7 452l0.9 0.8M383.5 515.1l-0.1 0.3M390.8 515.5l0.6 0M402.3 528.3l0.2 1M416.8 505.6l-1 0.4M396.7 528.8l0.5 0.8M367.6 459.9l-0.2 0.5M336.4 514.6l-0.3 0.6M408.2 443.5l0.7 0.6M382.1 517l0.4 1.1M353.3 462.4l0.5 0.7M387.3 485.7l-0.7 0.4M402.4 526.1l0.3 0.9M394.8 481l-0.5 0M365.3 530.3l-0.2 0.6M339.7 460.7l0.5 0.9M339.9 511.4l-0.4 0M356.7 497.9l-0.2 1.2M357.2 483.7l-0.6 0.1M347.1 508.5l0 1M376.1 521.6l-0.7 0.1M339.4 481.3l0.1 0.3M345.9 488.9l-0.4 0.5M405.4 524l-0.2 0.7M354.5 529l0.8 0M331.7 486.7l0.3 0.9M333.8 506.3l-0.5 0.9M401.3 477.6l-0.6 0.8M357.7 486l0.4 0.5M353.8 491.1l-0.1 0.2M377.8 526.9l0.2 0.3M323.5 491.6l0.3 0.3M403.6 455.5l0.8 0.9" stroke="#1c2cf0" stroke-width="1.9" stroke-linecap="round" fill="none"/>
</g></g>
<text x="322.3" y="448.7" font-size="10.6" fill="#fff" class="w">XCL-1</text>
<path d="M380.6 474.2L373.8 480.6M374.6 477.8L373.8 480.6L376.6 480" fill="none" stroke="#fff" stroke-width="1.0" stroke-linecap="round" stroke-linejoin="round"/>
<path d="M383.4 477.6L376.6 484M377.4 481.2L376.6 484L379.4 483.4" fill="none" stroke="#fff" stroke-width="1.0" stroke-linecap="round" stroke-linejoin="round"/>
<text x="482.2" y="333.6" font-size="14.5" fill="#231f20">f</text>
<text x="520" y="353.6" font-size="9.8" fill="#231f20">CD3+CD8+CD56-XCL1+ (%)</text>
<path d="M520.0 367.5H646.6V494.0" fill="none" stroke="#111" stroke-width="0.75"/>
<path d="M520.0 367.5V494.0H646.6" fill="none" stroke="#1a1a1a" stroke-width="1.1"/>
<text x="511.4" y="371" font-size="9.8" text-anchor="end" fill="#231f20">100</text>
<text x="511.4" y="402.6" font-size="9.8" text-anchor="end" fill="#231f20">75</text>
<text x="511.4" y="434.2" font-size="9.8" text-anchor="end" fill="#231f20">50</text>
<text x="511.4" y="465.9" font-size="9.8" text-anchor="end" fill="#231f20">25</text>
<text x="511.4" y="497.5" font-size="9.8" text-anchor="end" fill="#231f20">0</text>
<text x="520" y="513.2" font-size="9.8" text-anchor="middle" fill="#231f20">0</text>
<text x="562.2" y="513.2" font-size="9.8" text-anchor="middle" fill="#231f20">20</text>
<text x="604.4" y="513.2" font-size="9.8" text-anchor="middle" fill="#231f20">40</text>
<text x="646.6" y="513.2" font-size="9.8" text-anchor="middle" fill="#231f20">60</text>
<path d="M520.0 367.5h-3.6M520.0 399.1h-3.6M520.0 430.8h-3.6M520.0 462.4h-3.6M520.0 494h-3.6M520 494.0v3.8M562.2 494.0v3.8M604.4 494.0v3.8M646.6 494.0v3.8" stroke="#1a1a1a" stroke-width="1"/>
<text x="488.6" y="430.4" font-size="9.8" text-anchor="middle" fill="#231f20" transform="rotate(-90 488.6 430.4)">Overall Survive</text>
<text x="585.2" y="531" font-size="10.4" text-anchor="middle" fill="#231f20">Time ( Month )</text>
<path d="M520 367.4L528.4 367.4L529.2 371L530.2 371L530.2 375L531.6 375L531.6 379.5L533.6 379.5L533.6 384L538 384L538 388.6L546.6 388.6L546.6 393L575.6 393L575.6 397.4L623.4 397.4L623.4 401.6L630.4 401.6L630.4 417.6L636.6 417.6L636.6 437L639 437M538 381.4v2.4M567.6 390.4v2.4M627.6 399v2.4M632 415.4v2.4M633.6 415.4v2.4M635 415.4v2.4M639 434.6v2.4" fill="none" stroke="#f21c24" stroke-width="1"/>
<path d="M520 367.4L521 371L522 375L523 379L524 382L525 385L526 388L527 391L528 394L529.5 397L531 400L532 403.4L535 403.4L536 405L539 405L540 407L541.5 407L542.5 410L545 410L546 413L548 413L549 416L551 416L552 418.5L555 418.5L556 421L558 421L559 424L561 424L561.5 426L581 426L582 428L590 428L590.5 430L601 430L601.5 433.4L609 433.4L609.5 435L614 435L614.5 437.4L632 437.4L632.5 441L636 441L636.5 449L642 449M526.5 386v2.2M529 395v2.2M533.5 401v2.2M537.5 403v2.2M541 405v2.2M544 408v2.2M547.5 411v2.2M553.5 416.5v2.2M557 419v2.2M560 422v2.2M562.5 424v2.2M581 424v2.2M586 426v2.2M589 426v2.2M601 428v2.2M604 431.4v2.2M610.5 433v2.2M612.5 433v2.2M627 435.4v2.2M629 435.4v2.2M631 435.4v2.2M634 439v2.2M638 447v2.2M640 447v2.2M642 447v2.2" fill="none" stroke="#1f1f8f" stroke-width="1.05"/>
<path d="M527.4 470.4h15M535.4 468v2.4" fill="none" stroke="#f21c24" stroke-width="0.9"/>
<path d="M527.4 483.2h15M535.4 480.8v2.4" fill="none" stroke="#3a3aa8" stroke-width="0.9"/>
<text x="547" y="474.4" font-size="7.9" fill="#231f20">High</text>
<text x="547" y="486.6" font-size="7.9" fill="#231f20">Low</text>
<text x="590" y="486.6" font-size="8" fill="#231f20"><tspan font-style="italic">p</tspan>=0.031</text>
<text x="-0.6" y="565" font-size="14.5" fill="#231f20">g</text>
<path d="M91 623.6L89 616L86.5 608L83 598L78.5 590L74 586.2L70 585M91 623.6L96 623.2L103 625L112 627.2L124 630.6L132 634.6L137 638L141 641.6M91 623.6L86 629L81 635L65 641L49 647M81 635L81.4 641L81.6 646" fill="none" stroke="#3c3838" stroke-width="0.55"/>
<path d="M89.4 621.7h0M87.2 616.4h0M81.8 597.9h0M85.1 604.1h0M89.4 620.9h0M87.9 609.3h0M85.4 608.2h0M89.8 618.8h0M82 599.3h0M90.9 620h0M87 610.6h0M85.4 606.9h0M85.5 609.8h0M86.2 604h0M84.1 598.3h0M80 591.8h0M89.1 614.5h0M84.7 602.3h0M83.2 601.1h0M87.6 614.4h0M90.7 624.3h0M80.4 591.4h0M87.8 614.3h0M87.5 613.7h0M80.4 594.1h0M85.2 604.2h0M87.1 607.8h0M82 598.2h0M89.3 623.5h0M83.1 600.1h0M88.4 611.2h0M90.9 621.6h0M84.2 601.7h0M79.4 592.6h0M89.5 616.6h0M84.4 602.8h0M89 613.9h0M82.3 599.2h0M83.2 599.5h0M88.9 616.8h0M81.8 595.7h0M84.1 601.1h0M85.4 600h0M82.9 596.3h0M87.2 609.3h0M81.5 598.8h0M80.6 594.6h0M89.2 620.9h0M81.4 595.4h0M85.2 611.4h0M87.1 607.2h0M90.2 619.1h0M82.5 601.2h0M87.6 614.2h0M80.1 595.1h0M89.1 614.8h0M85.6 605h0M88.4 610.8h0M84.3 603.5h0M89.8 617.6h0M89.1 618.6h0M84 598.2h0M83.1 598.1h0M86.2 604.8h0M79.4 594h0M89.2 617.3h0M80.9 595.9h0M90.4 618.4h0M79.9 591.8h0M84.1 603.2h0M140.3 639.8h0M118.8 629.3h0M111.4 628.4h0M117.8 629.9h0M134.1 635.7h0M129.9 634.7h0M94.8 622.6h0M102.1 625.6h0M136.4 636.9h0M116.8 628.8h0M125.9 632.8h0M131.7 635.6h0M125.3 630.7h0M129.5 633.6h0M119.7 629.8h0M103.5 625.6h0M101.1 625.2h0M140.4 642.8h0M91.2 623.9h0M127.9 632.5h0M136.8 637.9h0M102.9 627.5h0M93.4 625.4h0M111.7 629.3h0M108.1 626.8h0M115.9 628.9h0M113.5 629h0M139.1 639.5h0M96.8 625h0M138 640.6h0M93.4 623.5h0M138.5 640.7h0M109.1 627.5h0M128.2 635.1h0M90.8 626.6h0M114 628.5h0M126.8 633.3h0M125.4 629.3h0M132.8 635.8h0M99.5 624.8h0M112.9 628.1h0M123.5 632.7h0M92.5 622.8h0M134.7 637.3h0M112.8 628.5h0M103.8 624.9h0M103 626.5h0M124.6 632.4h0M93.6 623.2h0M104.5 624.9h0M106.6 628h0M104.7 626.2h0M129.9 632.2h0M122.3 630.6h0M137.3 639.3h0M127.9 632.5h0M106.4 627.5h0M108.2 627h0M96.6 626.2h0M103.7 627.2h0M122.1 632.3h0M127.7 634.7h0M107.2 627.8h0M109.2 627.5h0M133.7 634.4h0M138.9 641.5h0M95.2 624.4h0M94.5 625.3h0M130.5 634.6h0M117.3 630.3h0M113.3 628.5h0M123.5 632.8h0M130.8 634.8h0M94.9 623.8h0M139 641.5h0M139.2 640.6h0M113.6 628.1h0M115.8 628.5h0M105.2 626.1h0M121.4 632.3h0M102.1 625.7h0M119.4 630.3h0M137.2 638.7h0M117.3 629.6h0M134.3 636.2h0M100.9 624.4h0M136.8 638.1h0M97.3 624.5h0M102 625.5h0M129.5 633.2h0M106.9 625.8h0M97.2 624.2h0M95.9 625.6h0M132.1 636h0M91.6 623.9h0M94.5 624.9h0M138.8 639.9h0M131.8 635.2h0M110.8 627.3h0M101.3 625.7h0M135.5 637.1h0M131.3 634.1h0M125.1 633.4h0M118.9 631.6h0M118.7 629.7h0M140.3 641.6h0M118.9 630.4h0M95.7 625.3h0M94.7 623.1h0M121.7 632.1h0M129 633.8h0M123.3 632.5h0M129.3 634.7h0M107.4 626.4h0M111.3 627.8h0M105.7 627.1h0M110.4 627.5h0M105.2 625.6h0M134 635.8h0M99.2 622.9h0M102.3 626.9h0M127.5 633.5h0M111.9 627.3h0M108.8 628.3h0M140.3 640.6h0M136.9 639h0M102.8 627.2h0M99.4 625.4h0M117.7 627.2h0M122.4 627.3h0M109.3 626.5h0M122.2 631.3h0M126.6 632.4h0M133.3 635.7h0M103.8 626.5h0M125.8 631.4h0M93.7 623.5h0M94.6 625.3h0M94.1 624.9h0M97 624.2h0M132.1 634.8h0M110.8 627.6h0M117.2 628.8h0M114.9 629.7h0M101.2 627.6h0M93.9 623.5h0M100.9 622.9h0M134.9 637.7h0M108.3 627.3h0M113.3 629.7h0M104.8 627.5h0M130.2 633.9h0M128.1 633.2h0M111.2 629.5h0M117.7 629h0M111.3 628.4h0M121.5 630.1h0M122.3 631.2h0M121.9 631.3h0M136.2 639.4h0M141.3 641.8h0M141.1 639.5h0M124.6 632.8h0M135.1 636.4h0M132.6 636.3h0M136.8 640.4h0M124.9 629.4h0M135.7 639.4h0M135.3 638h0M131.1 634.8h0M125.4 632.7h0M137 637.1h0M127.2 628.5h0M130.1 634.8h0M124.7 630h0M128.4 634.9h0M129.2 634.2h0M135.7 636.7h0M136.5 638.3h0M135.1 639.7h0M130.9 637.1h0M136.9 639.7h0M136.5 638h0M133.2 636.7h0M138 639.2h0M140.2 642.4h0M133.1 635.6h0M140.6 641.6h0M135.5 636.4h0M131.8 633.4h0M133.9 633.8h0M136.1 637.2h0M128.2 635.3h0M138.4 642.3h0M131.7 634.3h0M136.6 636.8h0M138.9 641.2h0M138.9 641.2h0M136.7 636.8h0M136.4 639.9h0M137.7 639.5h0M133.9 638.4h0M131.9 635.6h0M139.1 641h0M126.9 633.9h0M127.2 631.5h0M130.1 633.6h0M128.3 632.6h0M139.8 643.4h0M133.8 635.9h0M139.8 639h0M133.4 638.1h0M127 633.6h0M138.1 642.1h0M137.7 641.3h0M126.8 630.9h0M138.4 637.8h0M135.8 636.3h0M127.1 633.4h0M131.5 633.2h0M137.6 638.6h0M127.1 633.2h0M135.4 636.7h0M133.2 637.5h0M132.6 637.7h0M127.8 632.1h0M137 641.4h0M133 637.7h0M136.1 638.4h0M134.8 637.3h0M129.1 634.6h0M135.5 639.7h0M132.3 635.1h0M140.2 640.4h0M131.8 635.9h0M128.3 632.4h0M132.2 636.6h0M131 637.2h0M141 641h0M130 633.8h0M137.8 642.2h0M123.7 632.4h0M127.9 630.5h0M129.7 632.8h0M136.6 640.5h0M133.7 637.4h0M132.7 633.8h0M132.8 634.1h0M139.2 640.1h0M128.8 632.5h0M136.9 640h0M131.1 634.4h0M136.3 639.3h0M139.8 638.4h0M131.5 636.8h0M126.8 635.1h0M129 633.4h0M127.7 635.4h0M126.5 633.4h0M131.4 635.6h0M135.2 638.5h0M131.7 633h0M140.6 641h0M139.8 642h0M137.1 640.1h0M137 641.1h0M129.5 635.2h0M136.5 640.3h0M124.5 631.5h0M125.3 630.8h0M89.1 627.5h0M83 633.5h0M89.1 621.8h0M86.8 629.3h0M88.6 626.9h0M84.2 630.1h0M86.2 628.5h0M89.6 625h0M88.2 625.7h0M84 637.4h0M84.2 629.5h0M83.5 635.9h0M83 635.4h0M84.5 630.2h0M82 634.9h0M87.2 630.2h0M88.3 627.8h0M84.2 634.1h0M87.9 628.1h0M89.7 629.2h0M87 630.4h0M86 628.8h0M81.2 634.3h0M80.9 634.2h0M82.4 632.7h0M82.1 634.1h0M88.8 628.5h0M88.1 627.9h0M86.2 627.6h0M85.2 630.9h0M90.7 624.5h0M90.5 625.6h0M89.1 627h0M89.9 624.8h0M88.5 627.2h0M90.2 626.1h0M88.4 628h0M87.8 629.8h0M84.7 630.8h0M82.6 631.7h0M90.5 625h0M92.3 623.1h0M93.4 622.6h0M90.7 624h0M91 625h0M92.6 623.8h0M93.1 622.8h0M90.7 626.4h0M91.2 625.4h0M90.4 623.4h0M90.9 624.1h0M90.5 623.9h0M92 625.6h0M91.2 624.8h0M92.4 622.2h0M88.7 626.3h0M93 623.9h0M91.6 622.4h0M89 624.3h0M88.8 625.2h0M90 624.3h0M93.9 626.7h0M90.6 625.4h0M89.5 623h0M91.6 625.9h0" stroke="#2e86c1" stroke-width="1.1" stroke-linecap="round" fill="none"/>
<path d="M87.4 610h0M87.1 610.1h0M79.2 590.8h0M87.6 614.5h0M84.4 600.5h0M87.6 606.6h0M75 586.6h0M88.5 613.5h0M87.8 608.2h0M80.9 592.8h0M87.7 610.6h0M79.3 591.7h0M70.4 585.9h0M84.9 607.9h0M83.9 600h0M91.6 622.3h0M77.3 589.4h0M86.2 607.2h0M82 597.1h0M88.2 614.6h0M80.2 595h0M84.2 601.8h0M69.6 586.7h0M72.6 585.9h0M83.3 598.4h0M90.4 615.6h0M88.1 611.5h0M83.5 599.7h0M78 589.1h0M75.5 586.1h0M75.7 586.2h0M78.4 590.1h0M84.7 604.1h0M82.4 598.7h0M87.2 612.9h0M83.7 599.3h0M85.7 607.3h0M84.5 599.5h0M89.4 621.9h0M89.7 618.8h0M81.8 595.1h0M86.1 605.2h0M89.2 613.5h0M71.4 586.6h0M90.2 623.2h0M72.9 586.2h0M76.4 588.1h0M90.6 623.6h0M74.7 587.6h0M80.8 592.4h0M88 614.4h0M80.5 593.8h0M73.2 585.2h0M91.1 620.1h0M87.6 610h0M88.8 617.8h0M75.1 587.5h0M88.9 618h0M88.8 619.6h0M89.6 619.7h0M77 587.9h0M88.9 614.7h0M70.8 586.2h0M90.3 622.2h0M84.2 603.8h0M90.3 617.3h0M87.5 616.1h0M88.9 615.2h0M82.9 599.5h0M87.5 614h0M84.9 608.4h0M76 587.5h0M81.9 597h0M93.3 623h0M87.1 612.4h0M81.7 597.2h0M87.6 609.8h0M90 619.8h0M89.1 618.9h0M86 608.2h0M83.2 595.7h0M85 602.5h0M88.2 613.2h0M89.3 617.2h0M88 609.9h0M75.2 587.6h0M90.5 620h0M90 620.8h0M91 619.6h0M82.9 599.3h0M90.6 622.7h0M87.7 609.7h0M87.4 609.8h0M85.7 605h0M85.1 603.9h0M76.4 587.5h0M86.6 610.1h0M89.5 616.3h0M79.1 588.2h0M88.9 613.6h0M89 617.3h0M89.9 623.1h0M71.9 585.8h0M80.3 595.7h0M80.4 596.5h0M89.7 619.7h0M76 588.6h0M91.2 620.2h0M79.7 594.1h0M77.7 588.1h0M84.1 603.2h0M88.7 614.7h0M71.4 584.8h0M90.6 621.3h0M88.1 611.3h0M81.6 596.8h0M80.7 596.6h0M87.8 615.4h0M86.4 611.8h0M86 605.9h0M70.8 584.5h0M70.4 585.2h0M89.7 619.6h0M75.2 588.5h0M85.7 606h0M87.6 612.8h0M84.2 604.3h0M90.3 621h0M79 592.4h0M80.8 592.9h0M87.3 612.8h0M90.6 621.7h0M80 590.9h0M70.7 585.6h0M89.5 617.8h0M70.9 584.8h0M84.4 598.8h0M89.5 613.2h0M78.8 590.6h0M79 590.1h0M87.2 608h0M81.6 598.6h0M89 614.2h0M82 598.5h0M89.4 615h0M86.1 607.6h0M78.3 589.9h0M77.3 590.8h0M81 595h0M74.3 585.3h0M79.3 589.6h0M82 598.2h0M80.8 594.6h0M91.7 617h0M91.2 620.9h0M88.3 613.1h0M79.9 590.4h0M70.1 587h0M89 613.3h0M70.7 585.3h0M76.6 590h0M89.8 615.7h0M83.4 600.2h0M87.2 612.5h0M79.4 591.4h0M86.4 607.8h0M85.7 606.2h0M83.2 598.2h0M86.2 610.8h0M77.1 590.2h0M83.6 596.7h0M91 620.7h0M83.9 597.8h0M85.3 604.3h0M72.8 586.3h0M71.7 585.7h0M89.6 621.1h0M79.9 589.9h0M82.1 596.6h0M84.3 601.3h0M89.6 618.1h0M73.3 587h0M82.8 594.6h0M81.5 597h0M71.8 585.9h0M89.5 618.6h0M85.2 607.1h0M90.8 622.4h0M86.6 611.5h0M69.6 584.6h0M86.4 606.9h0M75.8 589.6h0M76.2 587h0M83.5 599.7h0M76.1 589.3h0M88.7 614.3h0M90.6 619.7h0M89.8 614.7h0M88.9 619.5h0M90.2 618.8h0M90.4 621.7h0M90.8 620.4h0M89.7 618.2h0M83.7 599.6h0M87.4 610.1h0M69.8 586.2h0M80.4 596.4h0M72.8 585.6h0M79.3 592.5h0M74.4 586.5h0M73.2 584.9h0M85.9 606.7h0M89.3 613.5h0M89.8 620.1h0M71.5 585.2h0M88.4 612.4h0M71 585h0M79.3 592.4h0M77.2 588.6h0M89.3 622.4h0M73.9 586.4h0M90 619.5h0M78 588.7h0M90.4 622.1h0M72 584.6h0M91.7 620.2h0M90.7 616.3h0M84.6 603.8h0M89.7 615.7h0M89.9 618.5h0M87 607.8h0M91.1 621h0M83 598.1h0M79.8 591.4h0M84.5 601.8h0M83.3 598.8h0M88.1 612.9h0M84.8 602.7h0M83.2 595.8h0M73.2 585.8h0M85 600.7h0M70.6 584.2h0M85.3 606.4h0M82.5 597.7h0M80.3 591.5h0M89.6 618.4h0M76.7 588.9h0M77.2 587.5h0M89.5 618.5h0M80.6 595.1h0M86.6 605.4h0M87.8 615.4h0M88.2 613.8h0M88.9 617.4h0M72.8 585.7h0M77.4 588h0M79.5 592.5h0M88.2 615.4h0M79.8 592.3h0M87.5 611.4h0M82.3 593.9h0M77.9 584.5h0M79.6 591.4h0M81.1 596.6h0M80.6 593.7h0M82.4 595.8h0M78.9 588.3h0M72.5 584.7h0M74.4 587.5h0M73.9 589h0M83.3 598.1h0M76.4 588.8h0M75.3 583.8h0M78.3 593.9h0M79.2 589.1h0M78.6 591.2h0M78.1 590.5h0M83.8 595.1h0M78.2 589.8h0M79.9 593.8h0M77.8 589h0M82 596.1h0M80 593.6h0M81.1 596.5h0M75.8 584.3h0M71.2 585.7h0M75.7 587.2h0M80.9 591.4h0M78.8 591.2h0M77.4 589.2h0M79.6 595.1h0M82.8 597.5h0M73 584.7h0M78.2 590.5h0M76 585.7h0M78 591.8h0M80.3 593h0M81.7 598.4h0M75.9 589.4h0M77.4 589.3h0M83.8 597.4h0M79.2 596h0M71.4 586.1h0M73.5 589h0M83.4 593.1h0M79.7 591.3h0M75.9 587.2h0M73.3 583.9h0M81.8 595h0M73.7 589.6h0M76.3 588.1h0M74.9 588.4h0M83.8 595h0M78.2 593.1h0M75.9 587.8h0M79.6 593.8h0M76.5 588.6h0M79 590.8h0M77.7 589h0M73.3 586.7h0M74.2 587.5h0M82.1 596.6h0M75 589h0M80.8 597.2h0M80.8 591.7h0M74.4 587.2h0M75.1 585.6h0M70.2 584.8h0M82.2 592.8h0M77.4 590h0M75.4 588.8h0M74.3 584.9h0M71.6 586.7h0M79.6 593h0M83.4 595.4h0M81.6 593.5h0M74.1 586.4h0M83 595.5h0M80.4 594.1h0M73.1 587h0M70.9 586.9h0M78 590.7h0M73.2 588.3h0M78.3 591.8h0M79.1 594.8h0M77.6 588.5h0M82.3 595.8h0M77.2 590.4h0M75.2 587.8h0M70.5 586.7h0M73 587.2h0M80.8 594.3h0M78.8 591.1h0M83.8 596.4h0M83 597.3h0M70.1 584.3h0M79 596.5h0M80.9 591.1h0M76.2 586.3h0M81.5 594h0M79.7 590.3h0M82.6 595.3h0M74.3 583.7h0M80 591.6h0M83.6 594.6h0M81.4 592.5h0M77.7 588h0M78.3 590.8h0M79.9 593.3h0M79.5 593h0M80.5 591.5h0M78.1 590.5h0M78.4 592.3h0M75.3 588.2h0M79 593.5h0M83.6 595h0M82.2 597.4h0M79.9 591.4h0M69.3 586.1h0M77.6 591.8h0M80.4 591.3h0M82.4 598.3h0M78.5 589.9h0M84.4 596.8h0M83.4 593.3h0M82.4 594.1h0M80.5 592.9h0M81.9 595.2h0M80.9 594.8h0M85.1 597.4h0M77.8 591.1h0M80.1 593.2h0M73.5 587.9h0M73.3 587.2h0M79.2 589.9h0M72.1 585.7h0M80 592.6h0M82.1 597.5h0M72.2 586.8h0M70.2 585h0M81.7 597.1h0M79.9 590.7h0M84.7 596.3h0M76.4 587.5h0M72.8 586.2h0M81.4 597.2h0M74.9 586.6h0M77.5 588.9h0M79.7 596.4h0M82.8 592.5h0M80.6 594.5h0M80.5 594.5h0M77 589.9h0M81.6 597.7h0M71.3 584.8h0M77.5 593h0M79.7 590.9h0M75.6 586.1h0M84.3 596.1h0M81.8 594.2h0M75.7 587.4h0M75.3 587.7h0M78.3 589.9h0M76 585.5h0M76.2 588.6h0M74.6 586.3h0M72.9 586.8h0M74.3 589h0M72.5 587.4h0M79.2 590.5h0M75.2 584.2h0M74.1 587.3h0M77.9 587.2h0M72 585.5h0M72.4 587h0M71.7 584.5h0M69.9 585.9h0M74.6 585h0M71.9 585.4h0M76.6 584.1h0M73.5 585.9h0M74.4 587.1h0M75.5 586h0M76.9 586.9h0M74.3 585.9h0M71 585.8h0M71.9 584.4h0M73 583.7h0M71.6 585.1h0M74.3 585.3h0M74.5 587.4h0M75.4 584.3h0M69.6 584.6h0M71.6 583.4h0M69.7 583.7h0M72.2 587.2h0M77.3 584.4h0M72.4 584h0M69.8 585.5h0M73.5 584.8h0M74.8 585.1h0M75.8 585h0M75.2 585.3h0M73.6 586.2h0M70.3 584.7h0M73.1 585.2h0M73.9 584.6h0M70.3 585.4h0M73.9 584.6h0M76 586.3h0M75.2 586.4h0M71.4 587.9h0M71.8 586h0M75 585.9h0M73.8 584.7h0M72.6 585.6h0M76.4 584.9h0M75.1 586.1h0M73.7 585h0M73.3 583.7h0M73.8 586h0M72.5 586.3h0M74.4 584.9h0M75.6 585.1h0M79.1 584.5h0M71.9 585h0M74.2 587h0M73.9 585.3h0M78 586.8h0M73.1 585.6h0M70.3 585.7h0M77.5 584.4h0M70.5 585.8h0M68.3 587.2h0M70.3 584.9h0M73.3 587h0M74.5 583.5h0M69.8 585.9h0M68.9 585.3h0M71.7 586.5h0M118.5 629.7h0M136.4 637.4h0M126.5 631.9h0M133.5 635.4h0M131.2 633.7h0M118.7 628.4h0M112.6 626.4h0M127.3 632.1h0M137.9 638.9h0M135.2 637.4h0M134.9 635.9h0M108.6 625.8h0M105.3 624.6h0M128.6 632.1h0M119.7 629.3h0M139 641.6h0M104.1 625h0M140.4 640.5h0M138.5 640.5h0M96.9 622.9h0M104.9 625.7h0M131.5 634.3h0M123 630.3h0M104.3 625.7h0M134.9 636.6h0M133 634.4h0M120.1 630.1h0M115 627.8h0M137.4 638.2h0M111.4 626.7h0M126.1 632h0M124.5 630.6h0M103.5 625.3h0M129.8 634h0M109.7 626.6h0M115.3 628.7h0M108.1 625.2h0M105.5 626.2h0M129.8 633.8h0M99.2 625.5h0M124.1 630.6h0M127.5 632.8h0M132.1 634.5h0M109.4 625.9h0M98.5 623.5h0M125 630.3h0M98.1 624h0M138.4 638.5h0M96.3 623.1h0M134.1 636.4h0M118.5 629.9h0M116.3 628.8h0M113.3 628.3h0M97.7 623.5h0M125.5 631h0M119.5 629.3h0M122.1 630.7h0M119.3 629.6h0M135.4 636.2h0M115.8 628.1h0M137.6 637.2h0M97 623.7h0M113.9 626.7h0M122.8 630.7h0M96 623.1h0M122 630.6h0M103.3 624.2h0M139.9 640.7h0M133 635h0M125.1 630.9h0M128 633.8h0M134.8 636.3h0M126.9 631.1h0M139.7 639.7h0M98.2 624.3h0M124.1 630.9h0M98.3 623.4h0M114.2 626.9h0M125.8 631.3h0M127.7 632.5h0M99.2 624.4h0M126.7 631.4h0M125.7 631.7h0M96.1 623.7h0M101.5 624.3h0M119.2 628.4h0M134.2 636.9h0M112.8 627.2h0M129.9 633.7h0M100.7 624.7h0M136 636.9h0M129.1 632.9h0M105.5 624.9h0M100.6 624.4h0M125.7 631h0M135.4 636.6h0M123 628.7h0M96.4 623.7h0M109.5 627h0M118.2 628.6h0M96.4 623.7h0M97.6 622.4h0M116.4 627.8h0M102.7 623.9h0M132.4 636.7h0M114.9 626.8h0M136.1 636.5h0M115.3 627.8h0M112 627.5h0M129.4 634h0M125 631.6h0M121.1 629.5h0M103.5 626.3h0M103.5 624.4h0M138.1 639.3h0M115.5 629.1h0M139.3 639.2h0M104.8 625h0M126.3 632.8h0M129.6 633.7h0M134.3 635.1h0M106.6 626.1h0M130.7 635h0M100 624h0M139.6 640.8h0M102.2 624.8h0M121.5 629.4h0M138.9 641.1h0M114 628.5h0M122.6 631.2h0M120.4 629.2h0M126.8 631.8h0M126.8 632.1h0M111.4 626.9h0M97.2 623.2h0M124.8 630.5h0M136.4 638.7h0M128.2 632h0M139.8 640.2h0M102.4 624.5h0M108 625.8h0M136.4 636.8h0M96.2 622.6h0M109.3 627h0M97.3 623h0M107.3 625.1h0M131.8 635.7h0M108.6 625.7h0M100.4 625h0M111.3 626.9h0M130.1 632.9h0M127.7 632.3h0M126.7 631.6h0M137.5 639.1h0M116.5 629.1h0M122.3 629.8h0M131.6 632.9h0M99.5 623.5h0M125.3 630.6h0M138.1 638.2h0M136.1 637.1h0M130.6 631.9h0M133.6 633.9h0M123.7 631.3h0M129.7 631.6h0M129 630.9h0M136.1 636.4h0M129 632h0M134.7 634.9h0M125 631.5h0M130.3 632.1h0M129.1 633.7h0M126.6 632h0M127.6 632.7h0M123.5 629.7h0M132.7 633.2h0M136.5 636h0M127.6 631.4h0M127.9 632.4h0M125.8 631.8h0M136.3 635h0M135.7 638.1h0M126.7 631.8h0M135.9 636.1h0M132.5 633.1h0M130.2 633h0M135.4 634h0M132.3 635.6h0M134.1 634.2h0M127.6 630.3h0M126.1 630.7h0M135.4 636.3h0M126.1 629.7h0M133.4 634.7h0M129.7 632.2h0M131.2 635h0M130.4 632.5h0M137.1 636.1h0M135.4 634.1h0M136.6 635.7h0M124.1 630.6h0M132.7 633.5h0M125 629.9h0M128.5 632.1h0M136 636.7h0M134.2 633.6h0M133.3 636.5h0M129.2 632.6h0M135.5 636.7h0M132.8 633.6h0M133 636.7h0M126.5 630.8h0M123.5 630h0M134.9 635.4h0M130 632.4h0M133.9 635h0M130.9 634.2h0M128.4 631.6h0M127 630h0M135.6 635.4h0M127.7 630.3h0M124 628.1h0M129.1 633h0M131.8 632h0M133.1 636.5h0M125.6 630.7h0M130.5 634.3h0M128.2 632.4h0M124.9 630.2h0M133.7 635.6h0M130.3 632h0M133.5 635h0M129.2 631.9h0M135.8 637.7h0M127.8 630.7h0M127.6 631.4h0M135.2 634.6h0M131.5 634h0M126.8 631.3h0M131 631.6h0M131.4 635.2h0M131.4 634.5h0M125 628.5h0M136.5 636.2h0M134 633.5h0M137.6 635.6h0M132 633.6h0M128.6 630.2h0M128.6 632.3h0M135.5 634.8h0M133.9 634h0M127.5 633.3h0M134.5 635.2h0M132.9 634h0M129.7 634.2h0M127 631h0M127.5 631.6h0M131 631.5h0M133.4 633.7h0M131.5 633.2h0M127.6 631.6h0M137.7 635.7h0M126.3 630.8h0M129 632.8h0M124.8 630.6h0M130 633.4h0M131.7 632.6h0M130.8 634.3h0M131.5 634.3h0M125.8 629.6h0M134.6 632.7h0M129.7 632.4h0M134.5 636.7h0M136.1 637.6h0M136.3 635.2h0M135.3 636.8h0M132.6 633.2h0M130.5 634.2h0M128.5 631.3h0M129.7 633.4h0M100.7 617.9h0M100.5 618.4h0M99 617.7h0M100.9 617.7h0M100.4 616.8h0M99.8 618.8h0M100.6 619.6h0M100.8 619.2h0M99.7 617.6h0M98.4 617.9h0M100.4 619.6h0M100.6 618.8h0M101.1 618.3h0M100.3 618.5h0M100.4 618.4h0M98.2 618.3h0M98.9 620.3h0M102.1 618h0M98.8 618.7h0M97.9 619.9h0M100 618.2h0M101.5 619.9h0M100.3 619.6h0M97.7 617.9h0M98.8 617h0M101.3 621h0M98.2 618.1h0M101.5 618.3h0M100 617.8h0M100.5 617.7h0M101.1 619.1h0M100.5 617.9h0M99.7 619.1h0M98.7 617.6h0M96.8 618.1h0M99.8 619.5h0M98.3 617.2h0M101.7 619.7h0M98.4 618.1h0M97.4 618.5h0M101.8 619.4h0M98.5 618.9h0M99 618.9h0M99.2 619.2h0M101.8 618.9h0M100.5 619h0M101.2 618.2h0M99.8 618.5h0M101.9 618.8h0M100.8 618.2h0M98.1 618.3h0M100.7 618.3h0M99.2 618.2h0M100.7 619h0M100 617.7h0M99.1 622.1h0M99.8 619.2h0M100.4 617.3h0M101.9 618.7h0M98.7 619.3h0M66 637h0M68 636.5h0M70 634h0" stroke="#e08a2c" stroke-width="1.15" stroke-linecap="round" fill="none"/>
<path d="M53.4 647h0M67.1 641.2h0M76 635.9h0M66.2 640.9h0M83.9 637.6h0M66.6 638.9h0M51.4 649.5h0M81.2 630.9h0M84 631.6h0M77.9 633.3h0M68.9 639h0M81.4 634.6h0M83.5 628.1h0M81.2 632.7h0M84.5 637.6h0M80.6 638.2h0M81.5 639h0M79.4 644.8h0M81.7 644.7h0M80.6 637.8h0M81.8 635.1h0M81.2 645h0M83.3 636h0M82.6 646.3h0M81.6 645.5h0M83.8 637.3h0M80.6 640.1h0M81.2 639.8h0M87.5 626.4h0M88.9 628h0M85.5 630.2h0M90 629.5h0M87.2 628.6h0M87.3 626.2h0M84.1 627.6h0M83.9 628.2h0M84.9 627.5h0M86.6 625.3h0M85.4 626.2h0M89.5 627.7h0M86.7 628.4h0M85.2 624.6h0M85.6 628.8h0M86.6 627.2h0M87.2 626.4h0M89.1 628.2h0M47 643.5h0M57 650.5h0M83.6 652h0M84.6 648.6h0M92.4 657h0M82 640h0M134 641.5h0" stroke="#a39ad4" stroke-width="1.45" stroke-linecap="round" fill="none"/>
<path d="M126.7 631.3h0M121.9 631h0M135.8 642.9h0M112.8 631.8h0M131.8 633.8h0M135.9 639.8h0M116 631.5h0M120.8 630.3h0M121.2 631.8h0M129.1 633.2h0M113.8 628.3h0M125.9 634.1h0M130.3 634.6h0M112.6 628.9h0M134.6 637.8h0M115.1 627.6h0M113.1 627.8h0M130.3 635h0M137.7 639.8h0M119.6 630.1h0M132 638.1h0M114.8 628.2h0M126.8 632.2h0M138.7 639.4h0M134.1 637.4h0M138.9 637.9h0M126.9 633.5h0M140.6 642.1h0M138 639.2h0M121.4 631.7h0M136.5 639.9h0M132.2 637.2h0M140.6 640.9h0M130.5 636.2h0M122.2 632.5h0M130.2 634.9h0M134.3 638.8h0M134.9 638.1h0M130.3 635.1h0M125.5 632.9h0" stroke="#2e86c1" stroke-width="1.0" stroke-linecap="round" fill="none"/>
<rect x="35.4" y="580.6" width="110.19999999999999" height="88.79999999999995" fill="none" stroke="#4a4545" stroke-width="0.95"/>
<text x="31" y="584.7" font-size="9.1" text-anchor="end" fill="#231f20">5.0</text>
<text x="31" y="606.2" font-size="9.1" text-anchor="end" fill="#231f20">2.5</text>
<text x="31" y="627.7" font-size="9.1" text-anchor="end" fill="#231f20">0.0</text>
<text x="31" y="649.2" font-size="9.1" text-anchor="end" fill="#231f20">-2.0</text>
<text x="31" y="670.7" font-size="9.1" text-anchor="end" fill="#231f20">-5.0</text>
<text x="57.4" y="681.1" font-size="9.1" text-anchor="middle" fill="#231f20">-3</text>
<text x="85.9" y="681.1" font-size="9.1" text-anchor="middle" fill="#231f20">0</text>
<text x="114.4" y="681.1" font-size="9.1" text-anchor="middle" fill="#231f20">3</text>
<text x="142.9" y="681.1" font-size="9.1" text-anchor="middle" fill="#231f20">6</text>
<path d="M35.4 581.5h-2.4M35.4 603h-2.4M35.4 624.5h-2.4M35.4 646h-2.4M35.4 667.5h-2.4M57.4 669.4v2.4M85.9 669.4v2.4M114.4 669.4v2.4M142.9 669.4v2.4" stroke="#4a4545" stroke-width="0.8"/>
<text x="92.4" y="693.6" font-size="8.9" text-anchor="middle" fill="#231f20">Component 1</text>
<text x="8.6" y="621" font-size="8.9" text-anchor="middle" fill="#231f20" transform="rotate(-90 8.6 621)">Component 2</text>
<text x="96.2" y="573" font-size="10.2" text-anchor="middle" fill="#231f20">Early Stage</text>
<text x="152" y="584" font-size="9.1" fill="#231f20">Patient</text>
<circle cx="155.7" cy="591" r="3" fill="#3c96cc"/>
<text x="160.6" y="594.3" font-size="9.1" fill="#231f20">P02</text>
<circle cx="155.7" cy="601.5" r="3" fill="#e9a25a"/>
<text x="160.6" y="604.8" font-size="9.1" fill="#231f20">P03</text>
<circle cx="155.7" cy="611.9" r="3" fill="#aaa3d6"/>
<text x="160.6" y="615.2" font-size="9.1" fill="#231f20">P05</text>
<path d="M91.6 770.6L90 764L87 755L83 746L79.6 740L77 737M91.6 770.6L97 770.2L104 772L115 775.6L125 779L129.4 781L130.4 782M91.6 770.6L86 777L81 782L62 787.4L43 792M81 782L81.6 790L82 798" fill="none" stroke="#3c3838" stroke-width="0.55"/>
<path d="M47.8 797.8h0M41.9 792.1h0M46.3 796.4h0M44.2 792.4h0M44.1 790.1h0M44.3 793.5h0M47.1 793h0M43.6 791.1h0M49.3 791.3h0M41.8 797.8h0M46.6 792.9h0M41.9 798.2h0M45.8 793.1h0M48.4 794.1h0M46.8 795.2h0M43.4 793.9h0M48.3 796.4h0M47.3 794.2h0M44.8 794.5h0M43.1 797.3h0M49.3 791.7h0M44.3 796.4h0M48.2 794.4h0M46.4 796.8h0M46.5 796.6h0M47.9 792.1h0M42 797.2h0M45.7 797.3h0M43.6 794.2h0M42.1 796.8h0M42.2 798.3h0M44.6 793.2h0M44 797.2h0M43.6 792h0M43.4 795.1h0M43.3 797.5h0M43.9 787.7h0M44.8 791.4h0M48.2 794.8h0M43.9 795.1h0M44.1 791.9h0M44.6 796.2h0M47.3 790.7h0M42.5 792.1h0M45.1 793.7h0M46.7 794.4h0M47.4 794.3h0M44.4 795.3h0M46.3 795.8h0M46.4 792.4h0M49.9 792.1h0M48.7 789.1h0M44.8 798.3h0M45.8 794.8h0M44.2 789.4h0M45.3 795.1h0M46.5 793.7h0M45.8 796.7h0M42.9 800.7h0M48.4 792.9h0M44.9 795.6h0M41.2 790.8h0M45.6 796.2h0M43.2 795.8h0M47.1 797.7h0M43 791.9h0M47.4 788.1h0M44.8 794.6h0M45.2 794.2h0M43.4 794.7h0M43.3 795.9h0M47.8 796.5h0M45 795.8h0M44.8 793.8h0M45.7 792.3h0M46.8 796.7h0M45.4 795.8h0M44.7 791.7h0M45.5 794.1h0M48.9 792.7h0M44.9 795.8h0M46.1 788.4h0M42.1 792.9h0M44.7 794.8h0M43.5 797.5h0M48 797.8h0M45.4 796.3h0M43.1 796.2h0M48.7 792.8h0M46.8 796.7h0M44.9 787.6h0M45 795.5h0M44.4 792.7h0M43.4 794.9h0M45.8 794.6h0M45.5 796.9h0M46.2 793.8h0M45.5 797.3h0M47.1 795.4h0M49.9 796.2h0M46.9 796h0M46.5 796.1h0M43.1 794.7h0M45.6 795.2h0M44.3 794.7h0M47.4 793.8h0M54.8 787.9h0M53.8 788.1h0M68.2 788.2h0M48.3 789.5h0M63.6 786.4h0M75.4 785.4h0M57 787.9h0M54.4 788.5h0M61.3 787.5h0M66.6 784.6h0M65.9 786.2h0M45.4 790.8h0M52.7 788.7h0M48.3 791.5h0M54.6 788.6h0M45.1 793.1h0M43.9 790.8h0M52 791.5h0M46.1 790.8h0M58 787.3h0M55.7 789.7h0M56.9 790.9h0M75 783.4h0M73.1 783.3h0M50.9 790.3h0M61.3 789.7h0M71.7 786h0M51.5 791.5h0M73 782.8h0M62 788.5h0M49.7 791.5h0M47.2 792h0M51.5 789.2h0M42.9 789.6h0M77.3 782.6h0M45.9 792h0M52.3 789.7h0M78.5 783.6h0M46.8 791.9h0M57.3 787.7h0M62.2 786.3h0M71 783.3h0M66 786.8h0M81.4 795.8h0M83.9 798.9h0M80.1 793.6h0M84.8 801.7h0M83.2 801.1h0M82.9 795.5h0M83.6 795.7h0M83.3 794.5h0M82 794.8h0M83 799.9h0M81.5 792.1h0M80.7 794.4h0M83.6 796.1h0M81.5 790.3h0M80.3 798.1h0M83.4 795.6h0M84.7 798.5h0M83.3 795.6h0M83.3 792.6h0M81.6 796.1h0M81.8 791.2h0M83.4 798.1h0M85.6 793.9h0M82.8 797.5h0M81.9 796.7h0M84.1 791.9h0M82.7 792.1h0M81.2 799.1h0M83 798.6h0M85 796.2h0M82.4 796.8h0M83.1 796.5h0M83.5 792.3h0M81.7 794.8h0M82.1 792.4h0M83.2 790.6h0M82.6 798.4h0M82.9 797.5h0M83.6 796.8h0M83.5 794.2h0M82.1 788.6h0M83.1 796.7h0M81.8 797h0M82.7 800h0M82.2 802.2h0M82.6 804h0M82 801h0M88.7 811.1h0M85.5 807.5h0M83 803.8h0M85.2 805.1h0M82.5 801.7h0M82.8 806.7h0M83.6 801.9h0M87 813.3h0M83.8 808.3h0M83.7 804.7h0M83.3 806.9h0M82.6 800.9h0M87.5 809.6h0M87.2 775.2h0M87.2 772.1h0M84.3 780.1h0M83.5 779.4h0M86.4 772.3h0M72.2 736.4h0M87.6 763.6h0M88 764.4h0M85 755.4h0M125.4 781.6h0M130.6 783.6h0M133 787.4h0M98.4 768.2h0" stroke="#d05a4c" stroke-width="1.5" stroke-linecap="round" fill="none"/>
<path d="M44 792.3h0M44.7 793.6h0M44.5 790.7h0M47.1 795.2h0M48.5 792.7h0M46.9 792.4h0M46.2 794.2h0M47.9 794.5h0M46.1 790.8h0M44.2 792.5h0M47.1 796.3h0M43.8 793.6h0M43.8 794.4h0M45 791.9h0M46.7 792.3h0M47 794.9h0M44.9 797.1h0M45 793.6h0M45.1 790.5h0M43.7 793h0M47.8 798.3h0M40.8 793.2h0M45.3 793.9h0M45.1 790.2h0M46.2 797.6h0M45.6 794.6h0M44.2 798.7h0M44.9 795.7h0M40.2 793.6h0M46.5 795.7h0M45.7 788.1h0M42.8 791.6h0M48.1 791.6h0M40.2 795h0M44.7 796.6h0M44 794.5h0M43 793h0M46.5 793.2h0M43.1 794.2h0M47 791.4h0M44.5 792.4h0M49.9 793.7h0M47.7 794.4h0M46.7 792.6h0M44.1 793.5h0M44.7 793.7h0M65.6 785.8h0M44.3 792.3h0M63.7 784.8h0M77.3 782.7h0M58.3 788.8h0M73.2 784.9h0M68.1 786.6h0M59 787.7h0M73.1 784.8h0M50.1 790.9h0M52 791.9h0M68.1 786.4h0M54.6 790.2h0M57.8 789.3h0M53.3 789h0M84.6 793.7h0M83.9 796.9h0M84.7 793.1h0M81.7 798.3h0M83 799.7h0M82.7 795.4h0M80.6 795.3h0M79.4 792.8h0M86.8 797h0M83.1 793.7h0M82.8 793.5h0M83.2 795h0M83.3 798.2h0M87.1 771.4h0M82.8 779.5h0M82.6 780.4h0M83.7 779.7h0" stroke="#3a9c5c" stroke-width="1.5" stroke-linecap="round" fill="none"/>
<path d="M44.3 794h0M43.5 792.8h0M44.9 794.3h0M46.8 794.6h0M44.1 792.1h0M41.4 796h0M46.2 795.3h0M44.5 795h0M62.6 787.1h0M82.7 794.1h0M83.9 793.4h0" stroke="#8fb3c4" stroke-width="1.5" stroke-linecap="round" fill="none"/>
<path d="M46.2 795.5h0M49.2 792.1h0M44 798.4h0M45.4 793.4h0M49.4 794.7h0M47.4 797.4h0M43.8 794.8h0M45.2 795.9h0M44.7 792.1h0M45.9 796.8h0M45.2 794.3h0M44.9 794.5h0M43.4 797.5h0M46.6 797.5h0M47 790.7h0M46.6 791.1h0M42.3 795.9h0M41.9 790.9h0M44.9 793.2h0M46.5 796h0M45.8 796.9h0M49.5 797.7h0M46.2 794.7h0M45.8 795.6h0M46.3 794.8h0M44.3 792.3h0M45.3 795h0M48.2 790.8h0M43.4 790.8h0M45.4 794.6h0M55.4 789.4h0M43.2 789.9h0M64.7 787.5h0M43.7 792.5h0M54.7 791.4h0M66.7 785.5h0M76.4 784h0M53.8 791.2h0M42.6 793.5h0M52.6 789.4h0M49.7 790.1h0M81.3 794.4h0M84.2 795.9h0M82.8 801.4h0M85 796.9h0M82.4 794.4h0M84.4 796.6h0M82.6 795.3h0M84.3 795.5h0M80.3 795.9h0M86 790.8h0M81.9 792.6h0M84.4 793.7h0M83 793h0M81.7 797.9h0M82.9 796.2h0M81.2 796.4h0M83.1 781h0M87.6 772.9h0M85.4 775h0M74.6 736.8h0M131.4 784.4h0M132.4 786h0" stroke="#f6d070" stroke-width="1.5" stroke-linecap="round" fill="none"/>
<rect x="35.4" y="727.4" width="110.19999999999999" height="88.80000000000007" fill="none" stroke="#4a4545" stroke-width="0.95"/>
<text x="31" y="731.5" font-size="9.1" text-anchor="end" fill="#231f20">5.0</text>
<text x="31" y="753" font-size="9.1" text-anchor="end" fill="#231f20">2.5</text>
<text x="31" y="774.5" font-size="9.1" text-anchor="end" fill="#231f20">0.0</text>
<text x="31" y="796" font-size="9.1" text-anchor="end" fill="#231f20">-2.0</text>
<text x="31" y="817.5" font-size="9.1" text-anchor="end" fill="#231f20">-5.0</text>
<text x="57.4" y="827.9" font-size="9.1" text-anchor="middle" fill="#231f20">-3</text>
<text x="85.9" y="827.9" font-size="9.1" text-anchor="middle" fill="#231f20">0</text>
<text x="114.4" y="827.9" font-size="9.1" text-anchor="middle" fill="#231f20">3</text>
<text x="142.9" y="827.9" font-size="9.1" text-anchor="middle" fill="#231f20">6</text>
<path d="M35.4 728.3h-2.4M35.4 749.8h-2.4M35.4 771.3h-2.4M35.4 792.8h-2.4M35.4 814.3h-2.4M57.4 816.2v2.4M85.9 816.2v2.4M114.4 816.2v2.4M142.9 816.2v2.4" stroke="#4a4545" stroke-width="0.8"/>
<text x="92.4" y="840.4" font-size="8.9" text-anchor="middle" fill="#231f20">Component 1</text>
<text x="8.6" y="767.8" font-size="8.9" text-anchor="middle" fill="#231f20" transform="rotate(-90 8.6 767.8)">Component 2</text>
<text x="94.6" y="719" font-size="10.2" text-anchor="middle" fill="#231f20">Late Stage</text>
<text x="152.4" y="731" font-size="9.1" fill="#231f20">Patient</text>
<circle cx="156" cy="738" r="3" fill="#d9685c"/>
<text x="161.6" y="741.4" font-size="9.1" fill="#231f20">P01</text>
<circle cx="156" cy="747.4" r="3" fill="#4aa86c"/>
<text x="161.6" y="750.8" font-size="9.1" fill="#231f20">P04</text>
<circle cx="156" cy="756.7" r="3" fill="#96b6c8"/>
<text x="161.6" y="760.1" font-size="9.1" fill="#231f20">P06</text>
<circle cx="156" cy="766" r="3" fill="#fbdc93"/>
<text x="161.6" y="769.4" font-size="9.1" fill="#231f20">P07</text>
<text x="222.8" y="563.6" font-size="14.5" fill="#231f20">h</text>
<rect x="236.4" y="580.5" width="110.1" height="94.9" fill="#fff" stroke="#8c8888" stroke-width="0.8"/>
<text x="230.4" y="674.3" font-size="10" text-anchor="end" fill="#231f20">0</text>
<text x="230.4" y="657.6" font-size="10" text-anchor="end" fill="#231f20">1</text>
<text x="230.4" y="640.9" font-size="10" text-anchor="end" fill="#231f20">2</text>
<text x="230.4" y="624.3" font-size="10" text-anchor="end" fill="#231f20">3</text>
<text x="230.4" y="607.6" font-size="10" text-anchor="end" fill="#231f20">4</text>
<text x="230.4" y="590.9" font-size="10" text-anchor="end" fill="#231f20">5</text>
<path d="M236.4 670.8h-3.6M236.4 654.1h-3.6M236.4 637.4h-3.6M236.4 620.8h-3.6M236.4 604.1h-3.6M236.4 587.4h-3.6" stroke="#3a3636" stroke-width="0.8"/>
<text x="294.4" y="568" font-size="10.1" text-anchor="middle" fill="#231f20">CX3CR1</text>
<rect x="253.4" y="618.4" width="25.6" height="52.4" fill="none" stroke="#3a4b9c" stroke-width="0.9" stroke-opacity="1"/>
<path d="M253.4 670.8H279" stroke="#3a4b9c" stroke-width="2.1"/>
<rect x="263" y="586.9" width="6" height="40.6" rx="2.9" fill="#3a4b9c"/><path d="M268.5 623.2h0M263.2 597.2h0M263.3 611.3h0M263.1 619.1h0M263.5 616.3h0M267.9 625.2h0M269 622.8h0M267.9 625.4h0M267.1 585.6h0M263.3 603.9h0M269.2 606h0M263.8 587.3h0M266.7 584.7h0M263 621.4h0M266.7 628.3h0M269.3 619.4h0M269.2 598.5h0M268.6 615.9h0M268.7 597.7h0M269 617.4h0M262.9 596.9h0M263.6 619.3h0M266.8 628.5h0M265.3 628.4h0M263.6 623.8h0M267.9 625.1h0M262.9 616h0M268.6 609.1h0M267.6 625.6h0M268.9 588.4h0M269.3 600.9h0M268.6 611.4h0M268.8 605.7h0M268.7 619.8h0M269.3 593.1h0M268.5 587.2h0M268.8 590h0M265 627.3h0M268.6 590.3h0M268.8 594.5h0M268.9 601.2h0M262.9 612.2h0M269 619.3h0M268.7 587.9h0M264.1 625.9h0M269.3 618.4h0M269.2 598.7h0M263.2 592.8h0M262.8 611h0M268.6 610.9h0M263.5 596.3h0M268.4 592h0M262.9 618.6h0M269.3 614.4h0M263.4 620.1h0M262.9 594.2h0M268.6 616.7h0M268.9 587.7h0M266.6 584.7h0M268.9 592.4h0M269.1 619.3h0M262.7 608.5h0M269 611.9h0M269 610.8h0M268.7 612.8h0M263.5 598.8h0M269.1 616.5h0M265.4 585.1h0M269.1 601.2h0M264.2 586.8h0M263.6 590h0M268 624.7h0M263.1 611.3h0M263.4 619.7h0M268.5 611.4h0M263.3 609.9h0M269.1 619.9h0M262.9 612.2h0M268.8 607.2h0M268.7 609.2h0M269.3 609.8h0M263.2 599.7h0M269 614.2h0M262.8 602.5h0M268.8 613.6h0M263 606h0M268.8 617.8h0M269.2 615.3h0M264.5 586.2h0M263.2 619.3h0M268.7 624.4h0M263.4 599.2h0M263.3 617.1h0M263 622.1h0M263.5 606.6h0M269.3 590.2h0M263.7 617h0M262.7 621.8h0" stroke="#3a4b9c" stroke-width="1.3" stroke-linecap="round" fill="none"/><path d="M266.1 631.7h0M265.7 636.2h0M266.2 631.8h0M268.2 635.4h0" stroke="#3a4b9c" stroke-width="1.7" stroke-linecap="round" fill="none"/>
<path d="M304 670.8H329" stroke="#bf0a2c" stroke-width="2.1"/>
<path d="M316.5 624.3h0M317.2 615.2h0M315.8 611.8h0M314.2 613.4h0M316 609.2h0M316.2 612.1h0M319.1 608.2h0M318.1 624.8h0M317.2 620.5h0M316 609.7h0M315.1 597.1h0M315.8 611h0M317.3 620.3h0M316.5 624.9h0M315.3 625.2h0M316.9 599.7h0M315.8 613.4h0M317.2 601.7h0M319.1 622.4h0M317.8 607.3h0M313.9 597.4h0M318.1 601.4h0M315.9 609.3h0M317 612.6h0M317.1 622.9h0M316.9 604.4h0M314.3 604h0M318.3 615.1h0M315.4 598.8h0M315.5 622.9h0M316.9 616.9h0M317.6 615h0M315.9 607.8h0M314.6 609.5h0M317.2 624.7h0M316.3 608.1h0M317.8 618.3h0M318.3 613.9h0M315 625h0M315 606.5h0M316.4 624.4h0M315.5 599.8h0M318.9 621.3h0M316.8 601.7h0M316.8 613.4h0M317 621.9h0M318.6 602.7h0M317.2 601.3h0M317.8 620.2h0M315.8 621.7h0M317.7 625.8h0M316.2 620.7h0M316 610.6h0M315.9 599.9h0M318.2 602.5h0M316.3 609.9h0M317.2 622.3h0M316.8 616.1h0M317.3 609.9h0M315.9 602.2h0M314.9 599.4h0M316.2 597.4h0M316.8 626.1h0M315.5 619.1h0M316.6 619.2h0M317.5 603.8h0M314 599.4h0M318.6 622.9h0M318 615.2h0M317.1 622.2h0M318.2 602.7h0M314 619.1h0M316.9 625.8h0M317.2 595.1h0M317.3 598.6h0M317.3 608.8h0M319.1 616.6h0M317.6 617.4h0M315.9 621.2h0M314.8 621.9h0M315.4 601.2h0M316.2 612.2h0M317 622.7h0M316.7 615.1h0M317 610.2h0M315.9 599.4h0M316.1 616.6h0M317.2 615.7h0M316.3 617.1h0M315.8 597.5h0M316 615.9h0M317.2 598.7h0M315.9 620.4h0M316.2 618.8h0M319 622.9h0M316.5 596h0M316.9 624.1h0M318.1 614.8h0M318.9 612.9h0M317.5 602.8h0M314.9 612.4h0M319.4 619.7h0M315.4 615.3h0M315.1 600.2h0M315.5 622.3h0M318.5 619.7h0M316.6 600.4h0M314.1 603.2h0M319.1 615.3h0M314.6 621.8h0M319.1 612.9h0M313.9 623.8h0M316.4 601.7h0M316.6 615.7h0M315.8 608h0M316.5 600.8h0M318 613.3h0M316.9 598.2h0M317.6 619.4h0M316.8 610.4h0M316.9 619.5h0M315.9 602.6h0M316.5 613.3h0M317.8 607.5h0M318.1 614.6h0M315.1 618.8h0M315.8 600.3h0M316.8 614h0M316.4 606.3h0M315.6 619.9h0M313.9 615.5h0M317 612.5h0M315.7 610.6h0M319.3 619h0M318.2 612.7h0M317.2 625.3h0M314.9 615h0M315.7 622.7h0M318.1 616.7h0M315.6 617.8h0M316.3 604.4h0M317.2 602h0M317.4 617.9h0M316.2 605.9h0M317.3 611.2h0M314.4 612.5h0M316.6 622.5h0M316.5 611.4h0M318.8 606.1h0M317.2 624.7h0M313.9 594.2h0M318.6 601.9h0M319.4 604.3h0M317.4 591.6h0M317.5 614.9h0M318.7 612.6h0M316.6 619.4h0M316.6 615.2h0M316.9 609.7h0M313.9 613.4h0M315.9 605.1h0M317.5 610.8h0M317.4 610.2h0M314.6 601.1h0M316.3 604.4h0M315.9 603.5h0M315.6 618.4h0M317.8 607.9h0M315.4 597.7h0M316.3 601.3h0M317.4 599.7h0M315.4 618.6h0M316.5 617.6h0M315.3 615.6h0M316.5 617.6h0M316.4 612.4h0M317.4 612.1h0M315.9 601.6h0M316.2 592.7h0M314.4 615.2h0M315.7 604.4h0M315.2 622.7h0M314.8 604.9h0M316 624.5h0M316.5 623.8h0M316.4 620.3h0M318 626.2h0M315.8 604.7h0M315.6 620.1h0M313.9 623.5h0M318 608.6h0M317.5 623.2h0M317.4 595.1h0M315.5 597.6h0M315.8 615.3h0M315.8 615.8h0M314.8 625h0M317 615h0M316.4 614.2h0M318.2 602.3h0M316.8 619h0M316.3 623.8h0M317.4 619.3h0M317.5 617.1h0M315.1 618.7h0M314.4 598.6h0M315 621.9h0M317.8 620.2h0M317.4 614.8h0M318.3 609.4h0M316.7 613.9h0M317.1 610.7h0M316.1 621.8h0M319.2 615.8h0M317.5 604.5h0M318.6 616.2h0M317.2 620.5h0M315.6 603.9h0M317.9 603.5h0M314.6 619.8h0M317.7 624.6h0M316.4 605.1h0M317.1 622.4h0M315 625.4h0M316.7 606.4h0M315.8 606.1h0M315.5 597.1h0M318.4 601.6h0M317.3 615.6h0M316.1 614.4h0M315.7 618.7h0M316.1 618.7h0M316.8 621.5h0M317 611h0M316.7 624.7h0M314.3 601.1h0M316.6 616.6h0M316.9 607.3h0M317.6 617.1h0M316.5 605.5h0M316.4 626.8h0M316.7 618.8h0M315.9 614.5h0M319.3 615.3h0M315.6 601.6h0M315.3 621.7h0M316.9 618h0M316.9 592.4h0M317.4 612.6h0M316.3 622.6h0M315.8 609.7h0M315.4 612.5h0M316.6 611h0M316.9 618.8h0M316.5 608.3h0M315 611.9h0M314.9 615.1h0M318 621.7h0M316.6 609.9h0M316.3 616.9h0M318.9 618.4h0M317.8 608.6h0M314.8 601.7h0M316.2 601h0M317.8 609.4h0M317.4 605.7h0M317 607.3h0M318.7 599.9h0M314.8 607.7h0M317.7 617.1h0" stroke="#bf0a2c" stroke-width="1.5" stroke-linecap="round" fill="none"/><path d="M315.7 629.9h0M317.9 629.2h0M315.2 627.8h0M316.7 629.3h0" stroke="#bf0a2c" stroke-width="1.7" stroke-linecap="round" fill="none"/>
<path d="M281.4 588.5H305.6" stroke="#2e2a2a" stroke-width="1"/>
<text x="293.5" y="590.7" font-size="11.5" text-anchor="middle" fill="#231f20" font-weight="bold">*</text>
<rect x="384.4" y="580.5" width="110.2" height="94.9" fill="#fff" stroke="#8c8888" stroke-width="0.8"/>
<text x="378.4" y="674.5" font-size="10" text-anchor="end" fill="#231f20">0</text>
<text x="378.4" y="649.7" font-size="10" text-anchor="end" fill="#231f20">2</text>
<text x="378.4" y="624.9" font-size="10" text-anchor="end" fill="#231f20">4</text>
<text x="378.4" y="600.1" font-size="10" text-anchor="end" fill="#231f20">6</text>
<path d="M384.4 671h-3.6M384.4 646.2h-3.6M384.4 621.4h-3.6M384.4 596.6h-3.6" stroke="#3a3636" stroke-width="0.8"/>
<text x="441.6" y="568" font-size="10.1" text-anchor="middle" fill="#231f20">FGFBP2</text>
<rect x="401.6" y="606.6" width="25.8" height="64.4" fill="none" stroke="#3a4b9c" stroke-width="0.9" stroke-opacity="0.6"/>
<path d="M401.6 619H427.4" stroke="#3a4b9c" stroke-width="2.1"/>
<rect x="411.4" y="593.5" width="6" height="45" rx="2.9" fill="#3a4b9c"/><path d="M411.1 599.9h0M416.6 593.6h0M417.4 622.9h0M411.3 627.2h0M417.6 600.3h0M417.5 615.4h0M416.8 630.6h0M411.4 631.9h0M417.1 618.4h0M411.1 612.6h0M411.4 618.9h0M412 594.8h0M411.8 603.6h0M416.9 597.7h0M417.1 621h0M417.4 622.7h0M411.3 627.6h0M411.6 622.5h0M417.6 629.3h0M411.1 625.1h0M417.5 617.5h0M411.5 604.3h0M411.1 603h0M417 597.1h0M417.5 612.5h0M417.2 612h0M411.6 612.5h0M411.2 611.1h0M417.2 615.7h0M417.6 621.9h0M413.5 638h0M411.2 605.1h0M413.3 637.7h0M417 602.8h0M412 601.3h0M412 628h0M411.1 622.5h0M417.1 629.7h0M417.3 601.1h0M417.5 604.4h0M417.6 596.3h0M417.4 601.1h0M417.1 613.3h0M417.1 611.4h0M412.4 594.2h0M416.8 610.7h0M412.8 636.8h0M416.6 635h0M416.9 621.4h0M411.3 608.9h0M412 609.2h0M411.4 623.3h0M417.1 615h0M417.3 614.1h0M411.4 624.5h0M411.8 598.5h0M411.1 595.8h0M417 616.1h0M412.6 635.9h0M417.3 599.2h0M412 612.7h0M413.7 592.1h0M413.6 639.9h0M416.9 629.3h0M417.2 626.9h0M411.3 615h0M417.2 626.2h0M411.6 617.7h0M411.9 617.5h0M417.4 632.3h0M412.6 636.2h0M411.4 597h0M417.1 602.2h0M416.8 625.2h0M416.8 617.5h0M412.2 635.4h0M417 609.5h0M417 614.2h0M417 613.5h0M411.7 606.2h0M416.9 597.7h0M411.4 605.9h0M416.8 627.5h0M417.1 598.9h0M417.6 599.5h0M413.1 592.8h0M411.9 608.4h0M416.3 593.8h0M411.9 614.7h0M411.4 619h0M417.2 622.2h0M417.4 623.7h0M413.8 638.6h0M417.1 609.3h0M413.6 638.6h0M411.8 625.5h0M411.1 604.5h0M417.1 596.8h0M417.5 623h0M411.5 624.5h0M416.8 611.1h0M417.1 624.2h0M417.2 633.4h0M411.1 619.2h0M417.3 595.5h0M411.4 633h0M416.8 613h0" stroke="#3a4b9c" stroke-width="1.3" stroke-linecap="round" fill="none"/>
<path d="M411.4 671h6" stroke="#3a4b9c" stroke-width="1.8" stroke-linecap="round"/>
<rect x="451.6" y="618.6" width="26" height="52.4" fill="none" stroke="#bf0a2c" stroke-width="0.9" stroke-opacity="1"/>
<path d="M451.6 671H477.6" stroke="#bf0a2c" stroke-width="2.1"/>
<rect x="461.6" y="587.5" width="6" height="49" rx="2.9" fill="#bf0a2c"/><path d="M462.1 630.6h0M467.4 627.9h0M461.6 624.5h0M461.3 594.6h0M462.2 632.9h0M462.2 603.9h0M461.9 601.9h0M462.2 631.2h0M461.4 614.5h0M461.5 610.8h0M467.7 618h0M467.1 619.8h0M465.5 636h0M461.8 592.2h0M461.7 615.4h0M467.3 611.2h0M461.4 600.7h0M461.6 625.9h0M465.8 587.1h0M467.5 620.6h0M467.9 629.7h0M467.4 613.3h0M467.2 602.3h0M467.1 589.4h0M467.4 621.7h0M467.5 623.5h0M461.3 627.8h0M461.6 590.7h0M465.4 637.4h0M466.9 618.5h0M465.4 586.4h0M461.6 595h0M467.9 616.8h0M465.4 585.3h0M466.1 587.6h0M466.4 587.6h0M462.1 607.9h0M461.9 631.5h0M461.9 605.5h0M467.1 628h0M466.1 635.1h0M467.9 609.6h0M467.1 612.3h0M467.6 597.7h0M462.2 593.4h0M463.9 637.8h0M462 588.6h0M461.7 608.3h0M467.5 599h0M467.1 609.3h0M467 630.7h0M461.7 616.3h0M461.5 606h0M467.4 604.9h0M465.2 637.6h0M461.9 619.2h0M462.2 619.2h0M467.6 621.9h0M467.1 607.9h0M463.7 635.7h0M461.6 599.2h0M467.1 593.9h0M467.4 618h0M461.3 599.2h0M467.5 619.6h0M463.8 637.4h0M467.2 589.6h0M462 602.4h0M461.9 591.6h0M461.5 607.9h0M467.3 608.9h0M461.4 596.7h0M467 618.1h0M467.3 621.6h0M461.4 610.1h0M461.5 591.3h0M461.6 626.6h0M467.5 611.6h0M467.3 615.3h0M467.5 597.2h0M462.3 588.7h0M467.7 603.7h0M461.7 629.4h0M467.8 599.7h0M467 599.4h0M467 601.4h0M467.9 618.8h0M464 636.9h0M465.4 637.2h0M462 607.1h0M462.1 605.3h0M467.8 600.3h0M467 598.9h0M467.8 614.4h0M461.4 606.8h0M461.5 618.2h0M461.6 625.2h0M465.9 635h0M462.1 601.2h0M461.4 618.3h0M461.9 624.6h0M467.6 593.6h0M462.2 603h0M462.8 633.8h0M462.2 631.1h0M467.2 631.4h0M461.7 623.9h0M465.8 635.3h0M462.2 626.6h0M467.3 621.1h0M467.6 602.5h0M467.8 604.7h0M461.8 609.4h0M467 626.1h0M467.4 597.2h0M465.3 637.1h0" stroke="#bf0a2c" stroke-width="1.3" stroke-linecap="round" fill="none"/><path d="M462.9 643.6h0M463.9 642.4h0M464.6 644h0M462.4 638.6h0" stroke="#bf0a2c" stroke-width="1.7" stroke-linecap="round" fill="none"/>
<path d="M426 588.5H450.4" stroke="#2e2a2a" stroke-width="1"/>
<text x="438.2" y="590.7" font-size="11.5" text-anchor="middle" fill="#231f20" font-weight="bold">*</text>
<rect x="531.4" y="580.5" width="110.2" height="94.9" fill="#fff" stroke="#8c8888" stroke-width="0.8"/>
<text x="525.4" y="674.5" font-size="10" text-anchor="end" fill="#231f20">0</text>
<text x="525.4" y="653" font-size="10" text-anchor="end" fill="#231f20">2</text>
<text x="525.4" y="631.5" font-size="10" text-anchor="end" fill="#231f20">4</text>
<text x="525.4" y="610" font-size="10" text-anchor="end" fill="#231f20">6</text>
<text x="525.4" y="588.5" font-size="10" text-anchor="end" fill="#231f20">8</text>
<path d="M531.4 671h-3.6M531.4 649.5h-3.6M531.4 628h-3.6M531.4 606.5h-3.6M531.4 585h-3.6" stroke="#3a3636" stroke-width="0.8"/>
<text x="587.4" y="568" font-size="10.1" text-anchor="middle" fill="#231f20">GNLY</text>
<rect x="548.6" y="604.4" width="25.8" height="66.6" fill="none" stroke="#3a4b9c" stroke-width="0.9" stroke-opacity="0.6"/>
<path d="M548.6 614.6H574.4" stroke="#3a4b9c" stroke-width="2.1"/>
<rect x="558.6" y="588.1" width="6" height="58.4" rx="2.9" fill="#3a4b9c"/><path d="M564.6 599.1h0M558.3 595.7h0M564.1 641.6h0M559 591.3h0M562.6 645h0M558.5 638.6h0M562.4 586.5h0M559 628.5h0M559.1 603.3h0M564 636.3h0M558.7 614.3h0M560.9 647.5h0M559.2 619.4h0M559.1 614.1h0M558.8 617.8h0M564.7 640.2h0M564.3 632.2h0M558.4 625.9h0M562.6 587.3h0M558.7 623.8h0M564.3 630.4h0M559.2 634.2h0M558.7 625.1h0M558.6 628.8h0M564.1 599.9h0M559.8 642.7h0M564.2 596.1h0M564.3 611.5h0M564.2 605.4h0M564.6 606.2h0M559.2 636.6h0M564.3 591.4h0M558.6 593.1h0M564.5 596.4h0M558.6 600.1h0M558.3 640.6h0M564.3 606.6h0M563.7 643h0M564.6 605.2h0M564.5 615.1h0M564.9 598.8h0M558.8 602.8h0M564.4 626.7h0M564 603.1h0M564.5 592.6h0M562.4 585.9h0M558.7 603.9h0M558.3 600h0M564.5 606.3h0M559.8 643.3h0M564 614.8h0M564.2 629.4h0M563.4 589.1h0M559.2 641.5h0M564.5 609h0M564.5 616.7h0M564.8 613.1h0M564.9 608.9h0M563.9 598.4h0M558.7 618.5h0M564.4 615.7h0M558.3 597.4h0M558.4 634.5h0M559.9 588.1h0M559.1 621h0M564 606.9h0M563.2 643.1h0M558.7 606.8h0M558.7 608.1h0M559 616.4h0M564.8 638.9h0M559.4 590h0M559.1 603.7h0M564 614.9h0M564.1 596.3h0M558.8 598.7h0M559.2 611.9h0M564.1 638.6h0M564.1 605.5h0M564.3 615.9h0M564.1 600.5h0M564.1 621.2h0M558.5 592.2h0M564.7 634h0M560.2 588h0M561 646.8h0M558.7 610.7h0M564.1 639.3h0M558.6 621.6h0M560.3 644.7h0M563.9 630.8h0M564.6 606.7h0M559.1 641.6h0M562.2 646.8h0M564 617.1h0M564.4 612h0M564.1 601.2h0M563.9 621.7h0M559 624.4h0M559.1 614.2h0M559.1 614.9h0M564.7 638.6h0M558.3 635.4h0M564.3 627.1h0M564.7 590.4h0M564 600.6h0M558.7 635.7h0M558.3 629.2h0M564.5 597.3h0M564.9 603.3h0M564.1 590.6h0M558.6 599.8h0M564.4 636.8h0M564.8 603.5h0M564.2 634.2h0M562.6 587.3h0M564.1 609.9h0M563.6 643.1h0M564.4 641.8h0M564.2 605.4h0M559 603.1h0M558.8 610h0M558.8 624.9h0M559 608.9h0M564.6 616.3h0M558.9 610.3h0M564.2 603.2h0M558.7 617.7h0M558.3 629h0M560 643.8h0M562.2 646.7h0M564.5 622.7h0M558.5 639.6h0M562.4 586.8h0M564.7 605.1h0M558.6 640.6h0M564.2 635.8h0" stroke="#3a4b9c" stroke-width="1.3" stroke-linecap="round" fill="none"/>
<path d="M558.6 671h6" stroke="#3a4b9c" stroke-width="1.8" stroke-linecap="round"/>
<rect x="598.6" y="617" width="25.8" height="54" fill="none" stroke="#bf0a2c" stroke-width="0.9" stroke-opacity="1"/>
<path d="M598.6 671H624.4" stroke="#bf0a2c" stroke-width="2.1"/>
<rect x="608.6" y="587.5" width="6" height="57" rx="2.9" fill="#bf0a2c"/><path d="M608.6 620.2h0M609.1 607.6h0M608.8 613.8h0M614.4 611.9h0M613.8 639.7h0M614.1 607.8h0M608.9 630.1h0M608.8 634.9h0M609.1 619h0M608.4 627.1h0M608.8 626.6h0M612.4 585.7h0M608.6 632.5h0M608.8 610.7h0M613.8 640.9h0M608.4 600.4h0M614.4 604.7h0M614.8 610h0M608.7 609.4h0M613.3 642.3h0M610.3 587.1h0M614.4 612.5h0M614 592.1h0M608.3 623.5h0M608.9 637.7h0M609.2 640.4h0M614.7 628.5h0M614 640.5h0M614.4 626.2h0M608.4 613.9h0M613.8 641h0M608.7 620.3h0M613.4 588.6h0M614.1 625.9h0M614.5 623.6h0M609 631.9h0M614.2 594.1h0M614.9 633.7h0M608.3 615h0M614.2 612.8h0M609 590.2h0M614.4 601.2h0M608.3 624.4h0M614.9 603h0M614.1 615.2h0M609.3 634.1h0M608.9 639.2h0M614.8 623.6h0M614.1 595.8h0M608.4 628.5h0M614.3 590.4h0M614 633.4h0M614 606.7h0M608.9 619.3h0M614.9 598.6h0M614.3 639.7h0M608.6 596.7h0M613.2 588h0M614.4 606.2h0M609.3 588.9h0M614.6 620.3h0M609 635.4h0M609.2 629.6h0M614.4 619.9h0M614 592.6h0M614.7 623.8h0M614.9 603.3h0M609 596.4h0M614.8 621.9h0M614.3 605.1h0M608.9 602.9h0M614.7 628h0M614.3 620.2h0M614.6 628.5h0M608.5 601.3h0M609.1 636.7h0M612.2 645.9h0M614.8 626.6h0M608.3 596.6h0M614.7 598.6h0M612.8 587.1h0M608.3 595.6h0M614.2 608.1h0M608.4 619.6h0M608.5 616.6h0M609.2 635.4h0M608.6 599.9h0M614.5 615.1h0M608.5 590.7h0M614.4 637h0M608.4 632.5h0M614.3 605h0M614.7 629.7h0M614.3 612.9h0M610.9 586.4h0M614.8 620.3h0M614.3 622.2h0M608.3 638.2h0M614.4 621.4h0M614.3 593.7h0M612.6 643.6h0M614.1 611.5h0M614.2 618.4h0M610.4 642.9h0M614.4 618.5h0M614.8 611.8h0M614.5 625.4h0M608.7 631.7h0M608.8 625.6h0M609.1 622.7h0M609.2 594.8h0M609 635.4h0M609 627.7h0M614.7 599.7h0M609.1 633.6h0M608.3 605.1h0M614.9 597.3h0M613.5 640.3h0M608.3 606.2h0M614.5 626.4h0M609.1 628.9h0M608.7 632h0M614.1 605.9h0M608.3 591.8h0M614.8 613.5h0M608.8 599.4h0M613.2 641.6h0M614.3 610.5h0M609 637.7h0M613.4 640.3h0M614.1 624h0M608.6 638.1h0M608.5 591.3h0M614.6 599.4h0" stroke="#bf0a2c" stroke-width="1.3" stroke-linecap="round" fill="none"/>
<path d="M576.4 588.5H600.4" stroke="#2e2a2a" stroke-width="1"/>
<text x="588.4" y="590.7" font-size="11.5" text-anchor="middle" fill="#231f20" font-weight="bold">*</text>
<rect x="236.4" y="726.4" width="110.2" height="94.6" fill="#fff" stroke="#8c8888" stroke-width="0.8"/>
<text x="230.4" y="819.9" font-size="10" text-anchor="end" fill="#231f20">0</text>
<text x="230.4" y="794.5" font-size="10" text-anchor="end" fill="#231f20">2</text>
<text x="230.4" y="769.1" font-size="10" text-anchor="end" fill="#231f20">4</text>
<text x="230.4" y="743.7" font-size="10" text-anchor="end" fill="#231f20">6</text>
<path d="M236.4 816.4h-3.6M236.4 791h-3.6M236.4 765.6h-3.6M236.4 740.2h-3.6" stroke="#3a3636" stroke-width="0.8"/>
<text x="293" y="713.6" font-size="10.1" text-anchor="middle" fill="#231f20">CXCR4</text>
<rect x="254.4" y="757.4" width="25.2" height="19.6" fill="none" stroke="#3a4b9c" stroke-width="0.9" stroke-opacity="0.75"/>
<path d="M254.4 766H279.6" stroke="#3a4b9c" stroke-width="2.1"/>
<rect x="263.6" y="733.1" width="6" height="53.4" rx="2.9" fill="#3a4b9c"/><path d="M269.1 754.5h0M263.5 753.6h0M269.3 764h0M269.3 778.7h0M263.6 779.5h0M264.3 782.1h0M269.5 736h0M264.1 766.4h0M268.9 739.5h0M265.8 786.2h0M264.3 779.2h0M269.3 735.5h0M269.2 775.6h0M263.7 747.8h0M263.6 758.3h0M264.1 754h0M269.9 769h0M264.7 783.9h0M269.7 767.7h0M263.7 758.5h0M263.8 738.4h0M263.9 755.2h0M263.6 758.7h0M263.9 734.6h0M264 735.4h0M263.9 749.9h0M269.7 736.2h0M269.3 779.4h0M269.8 765.6h0M264.2 738.7h0M263.5 746.5h0M264 761h0M264.1 776h0M269.8 772h0M263.8 774.2h0M269 755.7h0M269.4 772.2h0M264.1 756h0M269.6 747.2h0M269.6 755.4h0M269.1 736.4h0M269.1 736.3h0M269 781.4h0M269 779.5h0M269.8 760.2h0M265.3 733.2h0M266 786.6h0M269.7 740.4h0M267.3 787.9h0M267.3 787.3h0M263.9 744.3h0M269.4 738.6h0M269.4 734.9h0M269.8 750.4h0M269.8 769.6h0M269.3 778.4h0M269.7 740.7h0M267.3 732h0M265.1 784.1h0M269.9 754.1h0M269.5 743.7h0M264.2 768.8h0M267.4 786.5h0M263.5 769.3h0M267.4 787.9h0M267.4 731.6h0M264.2 765.1h0M269.6 773.5h0M263.4 753.1h0M269.9 749.3h0M264.2 734.4h0M269.2 763h0M268.7 783.4h0M265.3 784.7h0M269.8 737.3h0M269.5 774.2h0M269.8 748.5h0M263.9 768.3h0M263.4 775.4h0M263.8 763.2h0M268.7 783.7h0M264 773.2h0M268.1 784.8h0M269.1 779.8h0M269.7 749.6h0M269.8 757.7h0M265.3 784.2h0M269.5 756.7h0M269 780.9h0M263.5 777h0M263.3 744.1h0M269.6 760.2h0M269.6 744.1h0M263.7 753.7h0M268.4 734.1h0M269.4 781.8h0M264 762.8h0M269.6 739.4h0M264 746.3h0M269.8 774.3h0M263.9 758h0M269.8 745.1h0M264.1 743.8h0M269.3 767.2h0M269.3 740.4h0M269.4 759.8h0M264.2 762.9h0M266 786.4h0M269.7 749.5h0M263.3 765.3h0M269.3 768.8h0M264.2 764.2h0M263.3 767.6h0M264.9 783.8h0M264 771h0M269.3 754.4h0M268.9 782.7h0M269.8 756.8h0M269.1 770.4h0M269.5 769.9h0M269.5 743.1h0M264.2 756.1h0M269.4 756.1h0M264.1 773h0M269 746.1h0M269.1 763.8h0" stroke="#3a4b9c" stroke-width="1.3" stroke-linecap="round" fill="none"/>
<path d="M263.6 816.4h6" stroke="#3a4b9c" stroke-width="1.8" stroke-linecap="round"/>
<rect x="304.4" y="747.4" width="25.2" height="14" fill="none" stroke="#bf0a2c" stroke-width="0.9" stroke-opacity="1"/>
<path d="M304.4 753H329.6" stroke="#bf0a2c" stroke-width="2.1"/>
<rect x="314" y="732.5" width="6" height="48" rx="2.9" fill="#bf0a2c"/><path d="M314.6 738.7h0M319.6 746.4h0M320 768.4h0M314.5 766.7h0M314.4 757.2h0M320.1 762.8h0M319.4 745.6h0M320 775.7h0M320.1 739.6h0M319.5 741.6h0M313.7 739.7h0M318.1 779.3h0M317.7 731h0M314 772.7h0M314.2 745.3h0M319.8 766.3h0M318.4 732h0M316.3 781.5h0M314.1 746.2h0M314 770.4h0M314 759.5h0M314.6 741.3h0M320.2 742.7h0M320.1 753.4h0M320.3 767.3h0M314.6 762h0M314 766.7h0M313.7 747.6h0M318.9 777.6h0M314.4 755.2h0M319.5 773.3h0M318.6 732.1h0M316.4 730.9h0M320.3 765.7h0M314.2 746.8h0M319.4 746.8h0M320.2 736.7h0M314.4 775.6h0M320 751.2h0M314.1 774.2h0M320.1 748.4h0M314.6 757.3h0M315.3 732.1h0M320 771.5h0M314.6 750.2h0M314.1 764.7h0M319.8 754h0M314.1 748.5h0M314.6 768.3h0M319.6 734.3h0M319.8 762.6h0M319.5 737.3h0M320.2 746.5h0M319.4 760.7h0M319.8 754.3h0M313.7 741.5h0M318.1 731.6h0M320.3 747.5h0M319.8 755.6h0M313.9 767.8h0M319.9 760.2h0M313.9 744.4h0M320.2 749.1h0M319.4 749.4h0M319.4 772.7h0M314.4 761.3h0M314 765h0M319.5 756.6h0M314.3 738.4h0M314.3 761.5h0M319.5 758.7h0M320.2 767.3h0M314 736.4h0M315 777.8h0M319.9 744h0M314.3 759.6h0M319.9 748.2h0M316.3 730.2h0M315.1 777.4h0M314.7 777.2h0M314.2 759.4h0M314.5 750.8h0M314.6 773.6h0M314.5 758.8h0M314.4 773.9h0M319.9 764.7h0M320.2 743.7h0M320 771.7h0M314.4 745.2h0M316.4 730.4h0M314 733.9h0M315.4 778h0M320.1 742.6h0M319.5 766.1h0M317.8 780.6h0M319.4 755.5h0M320.1 735.3h0M319.4 774.5h0M314.1 772.1h0M314.3 748.3h0M313.7 760.7h0M314.1 750.1h0M316.3 781.8h0M319.7 772.5h0M313.8 738.7h0M314 748.8h0M319.6 737.6h0M317.8 780.5h0M314.1 754.4h0M314.3 743.8h0M316.2 731.1h0M320.2 748.5h0M316.3 730.8h0M319.8 767.7h0" stroke="#bf0a2c" stroke-width="1.3" stroke-linecap="round" fill="none"/><path d="M317.7 790.4h0M318.7 789.5h0M315.8 784.4h0M314.8 789.4h0" stroke="#bf0a2c" stroke-width="1.7" stroke-linecap="round" fill="none"/>
<path d="M314 816.4h6" stroke="#bf0a2c" stroke-width="1.8" stroke-linecap="round"/>
<path d="M279 734.5H303.4" stroke="#2e2a2a" stroke-width="1"/>
<text x="291.2" y="736.7" font-size="11.5" text-anchor="middle" fill="#231f20" font-weight="bold">*</text>
<rect x="388.4" y="726.4" width="109.6" height="94.6" fill="#fff" stroke="#8c8888" stroke-width="0.8"/>
<text x="382.4" y="819.9" font-size="10" text-anchor="end" fill="#231f20">0.0</text>
<text x="382.4" y="796.2" font-size="10" text-anchor="end" fill="#231f20">2.5</text>
<text x="382.4" y="772.5" font-size="10" text-anchor="end" fill="#231f20">5.0</text>
<text x="382.4" y="748.9" font-size="10" text-anchor="end" fill="#231f20">7.5</text>
<path d="M388.4 816.4h-3.6M388.4 792.7h-3.6M388.4 769h-3.6M388.4 745.4h-3.6" stroke="#3a3636" stroke-width="0.8"/>
<text x="443" y="713.6" font-size="10.1" text-anchor="middle" fill="#231f20">CCL4</text>
<rect x="405.4" y="766.6" width="25.6" height="13.4" fill="none" stroke="#3a4b9c" stroke-width="0.9" stroke-opacity="0.75"/>
<path d="M405.4 773.4H431" stroke="#3a4b9c" stroke-width="2.1"/>
<rect x="415.4" y="733.1" width="6" height="60.4" rx="2.9" fill="#3a4b9c"/><path d="M415.6 773.1h0M420.9 743h0M421.4 751.6h0M420.4 734.4h0M415.9 753.6h0M421.2 763.8h0M421.6 776.1h0M415.6 786.5h0M421.4 740.2h0M415.9 765.4h0M415.5 780.9h0M421.5 768.9h0M415.8 763.6h0M415.5 741.3h0M421.1 745.1h0M415.8 785.9h0M420.9 768h0M421.7 750.9h0M421.4 763.4h0M421 735.5h0M420.8 737.9h0M421.6 766.8h0M421.3 769.1h0M415.5 754.6h0M421 742h0M419.9 791h0M420.1 789.9h0M415.8 779.4h0M419.8 791.4h0M421.7 775h0M415.3 785.8h0M415.2 774.1h0M415.8 744.1h0M415.8 751.6h0M415.3 740.5h0M417 791.3h0M419.8 790.7h0M415.7 748.4h0M421.4 784.1h0M420.8 774.1h0M420.8 768.1h0M415.1 781.2h0M420.9 745.2h0M421.2 767.4h0M415.1 744.4h0M421.7 780.5h0M421.7 752.2h0M421.3 785.8h0M421.7 761.7h0M421.4 769.8h0M420.8 774.6h0M415.3 787.7h0M421.2 755h0M421.2 774.1h0M415.6 747.4h0M421.5 778.2h0M415.4 774.1h0M415.6 735.7h0M421 763.5h0M421.5 736.3h0M415.9 776.5h0M421.4 743.4h0M420.2 789.7h0M421.6 743.5h0M415.8 784.2h0M415.3 753.9h0M421.2 782.9h0M415.8 739.9h0M416.4 734.3h0M421.3 744.1h0M421.5 746h0M420.8 785h0M415.2 761.3h0M416 746.9h0M415.9 745.8h0M415.4 771.6h0M421.1 784.1h0M415.7 783.6h0M421.1 763.8h0M415.9 786.9h0M421.6 751.3h0M420.9 745.3h0M421.4 758.2h0M420.9 752.2h0M415.1 779h0M417.6 794.3h0M421 783.9h0M421.3 766.5h0M419.2 793h0M421.4 778.3h0M415.7 750.5h0M421.2 735.3h0M421.3 772.3h0M421.6 781.2h0M420.8 754.1h0M415.9 739.6h0M415.3 741.5h0M417.5 792.3h0M420 791.2h0M421.3 748.6h0M419.8 791.3h0M420.7 788.6h0M419.3 792.3h0M421.3 761.9h0M415.6 756.2h0M421.6 767.5h0M417.6 793.4h0M421.6 743.2h0M415.2 735.6h0M421.2 781.8h0M415.9 776.6h0M415.3 774.7h0M421 736.4h0M419.5 732.4h0M415.7 765.3h0M415.4 768.9h0M415.7 741.5h0M416.1 759.7h0M421.6 773.4h0M421.1 754.1h0M415.8 736.2h0M415.6 745.3h0M415.5 752h0M415.2 738h0M421.6 773.4h0M417.1 732.9h0M421.7 761.8h0M415.8 758.4h0M416 773.5h0M416 752.4h0M420.4 789.5h0M420.8 763.8h0M415.2 744.4h0M420.7 768.4h0M421 752.1h0M416 740.4h0M421.1 744.1h0M421 781h0M421.3 783.5h0M417.8 794.6h0M421.3 763.7h0" stroke="#3a4b9c" stroke-width="1.3" stroke-linecap="round" fill="none"/>
<path d="M415.4 816.4h6" stroke="#3a4b9c" stroke-width="1.8" stroke-linecap="round"/>
<rect x="455.4" y="756.4" width="25.6" height="17.6" fill="none" stroke="#bf0a2c" stroke-width="0.9" stroke-opacity="1"/>
<path d="M455.4 766H481" stroke="#bf0a2c" stroke-width="2.1"/>
<rect x="465.4" y="732.5" width="6" height="63" rx="2.9" fill="#bf0a2c"/><path d="M471.3 762.9h0M465.7 737.5h0M465.9 737.3h0M465.7 754.9h0M465.9 761.2h0M465.3 768.1h0M467.6 731.4h0M471.2 760.4h0M471.2 751.1h0M465.4 737.8h0M471.7 767.8h0M471.3 737.5h0M471.2 739.4h0M466.7 792.9h0M467.6 795.8h0M465.2 740.4h0M471.3 769h0M465.8 758.3h0M471.5 745.7h0M465.5 776.5h0M465.3 776.8h0M465.6 781h0M465.5 766.9h0M470.8 781.6h0M465.3 768h0M465.6 745.6h0M465.6 735h0M466.1 735.3h0M470.8 747.1h0M471.2 753.1h0M470.8 751.1h0M471.4 753.9h0M471.4 769h0M465.8 783.6h0M465.4 768.3h0M471.3 776.7h0M466.1 770.6h0M465.6 768.7h0M465.2 740.9h0M465.1 781.1h0M471.4 743.8h0M471.7 750.3h0M469.8 792.6h0M465.6 748.9h0M470.7 791.3h0M466 744.3h0M471.1 784h0M471.3 749.4h0M466.7 792.9h0M471.1 773h0M467.4 793.9h0M466 782.9h0M465.7 761.1h0M469.6 793.7h0M465.9 766.9h0M471 772.2h0M471.3 767.8h0M471.6 787h0M465.4 743.9h0M469.7 792.9h0M465.2 780.1h0M467 793.3h0M465.8 760.5h0M466.1 742.6h0M465.3 774.7h0M469.1 794.8h0M465.1 743.4h0M465.8 742.9h0M471 767.6h0M469.4 732.3h0M467.6 795.3h0M465.8 745.3h0M465.6 781.7h0M465.7 755.5h0M467.3 793.8h0M465.2 747.6h0M465.6 760.6h0M471.3 787.8h0M466 752.2h0M465.7 749.7h0M466.1 791h0M469.1 795.6h0M465.6 762.3h0M470.8 742.8h0M471.3 736.3h0M471.2 762.4h0M471.4 760.1h0M471.1 754.9h0M470.8 754h0M471.6 785.3h0M471.4 765h0M465.9 739.3h0M469.2 731.7h0M465.5 770h0M466.3 791.2h0M466 788.3h0M470.9 734.7h0M465.2 745.7h0M465.2 735.2h0M471.4 761.4h0M466 774.3h0M465.9 746h0M465.8 789h0M469.7 793.5h0M465.9 760.2h0M465.8 745.4h0M471.6 763.2h0M466.1 791.2h0M465.9 738.5h0M465.2 775.6h0M471 768h0M465.1 737.3h0M465.8 742.4h0M471.7 744.8h0M471.2 775.9h0M471.2 783.9h0M470.5 734.5h0M471.3 771.8h0M467.7 731.1h0M471.1 788.5h0M465.5 745.4h0M465.6 737.7h0M471.5 736.2h0M465.8 747.1h0M465.9 744.7h0M465.4 764.2h0M467.3 732.2h0M471.5 784h0M466 767.3h0M466 776.4h0M465.4 760.9h0M469.6 793.5h0M471.3 743.6h0M471.7 785.7h0M471.1 775.3h0M467.7 795.5h0M471.2 738.4h0M471.3 757.8h0M466 764.9h0M466.1 754.5h0M471.2 763.4h0M465.4 737.1h0M465.2 740.5h0M471.3 776.5h0M471.2 788.9h0M465.1 768.4h0M465.4 774.1h0" stroke="#bf0a2c" stroke-width="1.3" stroke-linecap="round" fill="none"/>
<path d="M465.4 816.4h6" stroke="#bf0a2c" stroke-width="1.8" stroke-linecap="round"/>
<path d="M430.4 734.5H454" stroke="#2e2a2a" stroke-width="1"/>
<text x="442.2" y="736.7" font-size="11.5" text-anchor="middle" fill="#231f20" font-weight="bold">*</text>
<rect x="531.4" y="726.4" width="110.2" height="94.6" fill="#fff" stroke="#8c8888" stroke-width="0.8"/>
<text x="525.4" y="819.9" font-size="10" text-anchor="end" fill="#231f20">0</text>
<text x="525.4" y="797.5" font-size="10" text-anchor="end" fill="#231f20">2</text>
<text x="525.4" y="775.2" font-size="10" text-anchor="end" fill="#231f20">4</text>
<text x="525.4" y="752.8" font-size="10" text-anchor="end" fill="#231f20">6</text>
<text x="525.4" y="730.5" font-size="10" text-anchor="end" fill="#231f20">8</text>
<path d="M531.4 816.4h-3.6M531.4 794h-3.6M531.4 771.7h-3.6M531.4 749.3h-3.6M531.4 727h-3.6" stroke="#3a3636" stroke-width="0.8"/>
<text x="587" y="713.6" font-size="10.1" text-anchor="middle" fill="#231f20">FOS</text>
<rect x="548.6" y="780.2" width="25.8" height="36.2" fill="none" stroke="#3a4b9c" stroke-width="0.9" stroke-opacity="0.6"/>
<path d="M548.6 816.4H574.4" stroke="#3a4b9c" stroke-width="2.1"/>
<rect x="558.6" y="740.5" width="6" height="50" rx="2.9" fill="#3a4b9c"/><path d="M558.5 765h0M559.1 776.3h0M558.8 779.5h0M564.1 742.5h0M564.3 764.3h0M558.3 783.9h0M564.3 747.5h0M564.3 758.1h0M558.6 776.4h0M562.3 738.8h0M564 773.6h0M558.3 759.2h0M558.9 779.7h0M564.9 782.9h0M559.1 778.9h0M559.1 749.7h0M559.7 788.2h0M560.9 739.2h0M564.8 750.1h0M559.2 783h0M560.3 739.9h0M562.9 789h0M559.1 743.9h0M562.5 739.4h0M564.6 744.6h0M560.9 738.6h0M564.2 770.8h0M558.6 742.8h0M564.8 769h0M560.9 738.2h0M559.1 751.6h0M558.9 759.6h0M564 758.8h0M559.2 763.2h0M558.3 756.6h0M564.1 785.3h0M564.8 764.1h0M558.9 778.1h0M564.5 756.9h0M558.7 746.3h0M564 785.9h0M564 743.3h0M560.8 792h0M559 775.9h0M558.6 775.7h0M558.3 750h0M564.1 770.8h0M564.4 775.1h0M564.1 743.6h0M560.9 791.3h0M558.3 779.3h0M559.7 740.5h0M558.5 742.2h0M562.4 790.9h0M558.3 742.7h0M564.7 748.8h0M559.1 755.9h0M559.8 787.8h0M564.8 774.3h0M560.1 788.1h0M558.5 781.7h0M564.4 758.9h0M558.4 745.4h0M564 770.1h0M558.7 751.7h0M564 775.2h0M563.9 784h0M558.8 769.5h0M564.4 749.8h0M564.5 750.8h0M559.9 740.3h0M564.1 766.1h0M564.4 742.5h0M564.6 770.3h0M564.4 746.6h0M558.6 779.4h0M558.4 746.5h0M564.8 782.5h0M564.5 752.2h0M559.1 770.1h0M560 787.5h0M564.5 774.1h0M564.2 752.4h0M559.1 767.9h0M559.7 787.3h0M564.4 755.9h0M560.9 738.2h0M564.8 770.8h0M558.8 746.3h0M563.4 740.8h0M564.7 752.1h0M559.2 744h0M564.2 757.1h0M564.7 749.3h0M564.8 757.3h0M558.4 755.7h0M564.4 786h0M559.1 764.4h0M558.3 781.9h0M558.8 760.3h0M564.8 757.6h0M558.3 777.8h0M558.3 769.4h0M558.6 768.9h0M562.8 789.1h0M559 779.6h0M558.3 779h0M564.5 785.3h0M558.8 774.3h0M564.6 747.8h0M558.9 767.9h0M564.2 769.4h0M564.5 762h0M558.6 744.2h0M559.6 740.6h0M560.9 791.7h0M564.7 760.1h0M559.2 769h0" stroke="#3a4b9c" stroke-width="1.3" stroke-linecap="round" fill="none"/>
<rect x="598.6" y="755.4" width="26" height="61" fill="none" stroke="#bf0a2c" stroke-width="0.9" stroke-opacity="1"/>
<path d="M598.6 772.4H624.6" stroke="#bf0a2c" stroke-width="2.1"/>
<rect x="608.6" y="732.5" width="6" height="56.4" rx="2.9" fill="#bf0a2c"/><path d="M608.7 755.8h0M608.3 756.2h0M614.8 748.7h0M614.8 758.8h0M614.8 759.6h0M608.6 765.2h0M610.8 788.6h0M608.7 749.9h0M614.5 779.2h0M608.6 752.6h0M610.9 789.9h0M614.9 760h0M614.8 741.4h0M614.4 746.3h0M614.6 782.2h0M614.8 750.2h0M614.2 738.4h0M614.3 735.7h0M614 755.2h0M610 732.3h0M609.5 784.6h0M614.8 782.5h0M608.7 772.6h0M614.4 734.1h0M608.4 762h0M614.9 756.6h0M614.9 739.6h0M614 735.5h0M608.7 754.7h0M614.5 782.1h0M614.6 780.8h0M609.2 779.7h0M614.3 768h0M614.1 748h0M610.6 731.5h0M608.6 757.5h0M614.4 774.8h0M608.7 782.7h0M614 741h0M609.1 768.5h0M609 780.3h0M608.5 776.2h0M614.1 781.4h0M614.5 771.8h0M614.9 739.9h0M614.7 753.4h0M614.1 738.6h0M608.7 747.7h0M608.8 764.4h0M612.3 789.9h0M608.7 751.6h0M608.4 759.6h0M614.4 745.1h0M608.9 763.6h0M610.6 788.3h0M609.8 733.2h0M608.7 769h0M614.1 778h0M614.2 753h0M614.2 766.4h0M613.1 732.5h0M608.5 734.7h0M608.4 736.9h0M608.3 744.9h0M608.8 778.6h0M614.6 777.1h0M608.8 756.2h0M610.8 731.2h0M608.6 748.7h0M614.3 777.2h0M610.6 787.7h0M614.1 759.4h0M614.6 754.2h0M614.4 762.4h0M609.1 740.4h0M614 764.1h0M608.3 756.7h0M608.5 780h0M612.2 789.4h0M608.8 745.1h0M609.2 752.9h0M614.2 736.6h0M614.9 749.6h0M608.9 768.3h0M614.9 736.7h0M608.8 772.6h0M608.9 754.6h0M608.7 742.9h0M614.4 759.7h0M614.3 751.6h0M609.1 739h0M614.6 782h0M614.9 777h0M608.3 777.2h0M614 764.2h0M610.6 788.1h0M612.5 731.4h0M609.9 785.5h0M609 734.5h0M608.9 756.7h0M614.8 779h0M609 754.7h0M614 780.8h0M608.6 769.9h0M614 781.4h0M609.2 780.3h0M609 773.2h0M608.9 763.4h0M608.5 763.3h0M614.7 755.8h0M614.1 744.8h0M614.3 777.6h0M613.9 762.1h0M612.5 731.7h0M609 762.2h0M614.5 757.2h0M609.1 773.2h0M608.5 761.2h0M609.7 784.9h0M613.4 785.5h0M608.3 742.3h0M614 740.3h0M609.3 784.9h0M614.2 760.9h0M614 770.5h0M608.6 759.1h0M608.6 762h0M614.6 774.2h0M614.2 770.4h0M614.6 771.2h0M608.4 768.3h0M610.8 788.6h0" stroke="#bf0a2c" stroke-width="1.3" stroke-linecap="round" fill="none"/>
<path d="M608.6 816.4h6" stroke="#bf0a2c" stroke-width="1.8" stroke-linecap="round"/>
<path d="M575.4 734.5H599" stroke="#2e2a2a" stroke-width="1"/>
<text x="587.2" y="736.7" font-size="11.5" text-anchor="middle" fill="#231f20" font-weight="bold">*</text>
<text x="648.6" y="585.6" font-size="9.9" fill="#231f20">Stage</text>
<path d="M654.4 592.2v1.6M654.4 599v1.6M650.6 593.8h7.6v5.2h-7.6zM650.6 596.4h7.6" fill="none" stroke="#3a4b9c" stroke-width="0.8"/>
<text x="662" y="599.7" font-size="9.9" fill="#231f20">Early</text>
<path d="M654.4 604.8v1.6M654.4 611.6v1.6M650.6 606.4h7.6v5.2h-7.6zM650.6 609h7.6" fill="none" stroke="#bf0a2c" stroke-width="0.8"/>
<text x="662" y="612.3" font-size="9.9" fill="#231f20">Late</text>
</svg>
</body></html>
